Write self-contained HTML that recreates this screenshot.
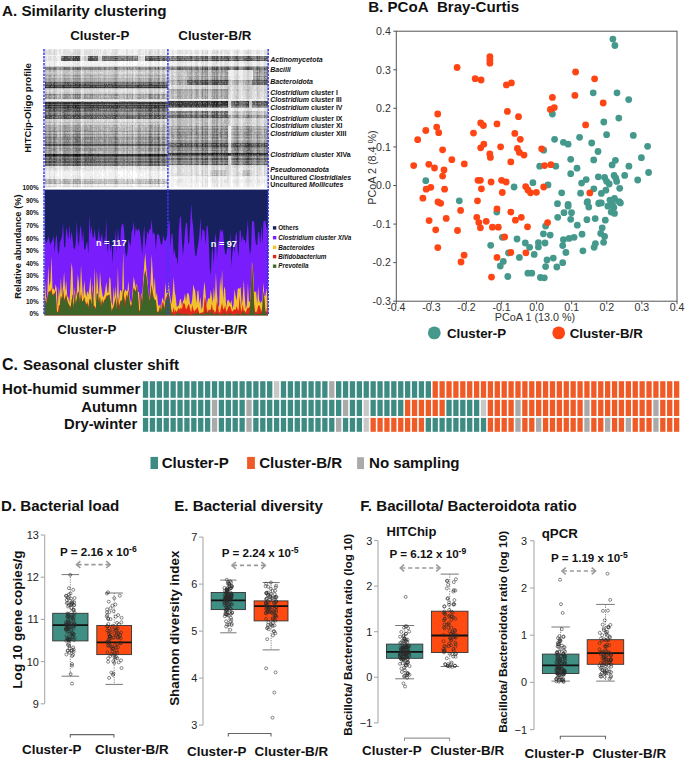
<!DOCTYPE html>
<html><head><meta charset="utf-8"><title>Figure</title>
<style>html,body{margin:0;padding:0;background:#fff;}svg{display:block;}text{font-family:"Liberation Sans", sans-serif;}</style>
</head><body>
<svg width="685" height="760" viewBox="0 0 685 760" font-family='"Liberation Sans", sans-serif'>
<rect width="685" height="760" fill="#fff"/>
<text x="2.0" y="16.3" font-size="15.2" font-weight="bold" text-anchor="start" fill="#111" >A. Similarity clustering</text>
<text x="70.2" y="40.2" font-size="13.3" font-weight="bold" text-anchor="start" fill="#111" >Cluster-P</text>
<text x="178.3" y="40.2" font-size="13.3" font-weight="bold" text-anchor="start" fill="#111" >Cluster-B/R</text>
<defs><filter id="hb" x="0" y="0" width="1" height="1"><feGaussianBlur stdDeviation="0.45"/></filter></defs>
<g filter="url(#hb)">
<rect x="44.6" y="49.2" width="223.4" height="138.1" fill="#fff"/>
<path fill="#101010" d="M158 86.7h1v1.8h-1zM45 154.0h1v2.0h-1zM53 154.0h2v2.0h-2zM73 154.0h1v2.0h-1zM75 154.0h3v2.0h-3zM79 154.0h1v2.0h-1zM149 154.0h2v2.0h-2zM158 154.0h1v2.0h-1zM202 153.0h1v1.4h-1zM207 153.0h1v1.4h-1zM212 153.0h1v1.4h-1zM214 153.0h1v1.4h-1zM216 153.0h1v1.4h-1zM237 153.0h1v1.4h-1zM247 153.0h3v1.4h-3zM257 153.0h1v1.4h-1zM202 154.4h1v1.4h-1zM212 154.4h1v1.4h-1zM216 154.4h1v1.4h-1zM237 154.4h1v1.4h-1zM248 154.4h1v1.4h-1z"/>
<path fill="#202020" d="M77 83.2h1v1.6h-1zM158 83.2h1v1.6h-1zM54 84.8h1v1.9h-1zM45 86.7h1v1.8h-1zM49 86.7h1v1.8h-1zM53 86.7h2v1.8h-2zM64 86.7h1v1.8h-1zM73 86.7h1v1.8h-1zM75 86.7h4v1.8h-4zM84 86.7h1v1.8h-1zM104 86.7h1v1.8h-1zM115 86.7h2v1.8h-2zM149 86.7h2v1.8h-2zM154 86.7h1v1.8h-1zM49 101.4h1v1.6h-1zM73 101.4h1v1.6h-1zM75 101.4h1v1.6h-1zM77 101.4h1v1.6h-1zM79 101.4h1v1.6h-1zM150 101.4h1v1.6h-1zM158 101.4h1v1.6h-1zM45 103.0h1v1.6h-1zM49 103.0h2v1.6h-2zM53 103.0h2v1.6h-2zM64 103.0h1v1.6h-1zM73 103.0h1v1.6h-1zM75 103.0h1v1.6h-1zM77 103.0h2v1.6h-2zM115 103.0h2v1.6h-2zM138 103.0h1v1.6h-1zM149 103.0h2v1.6h-2zM158 103.0h1v1.6h-1zM45 104.7h1v1.6h-1zM49 104.7h2v1.6h-2zM54 104.7h1v1.6h-1zM64 104.7h1v1.6h-1zM73 104.7h1v1.6h-1zM75 104.7h1v1.6h-1zM77 104.7h3v1.6h-3zM92 104.7h1v1.6h-1zM115 104.7h1v1.6h-1zM149 104.7h2v1.6h-2zM158 104.7h1v1.6h-1zM75 106.3h1v1.6h-1zM158 106.3h1v1.6h-1zM158 143.6h1v1.5h-1zM46 154.0h1v2.0h-1zM48 154.0h3v2.0h-3zM55 154.0h2v2.0h-2zM63 154.0h6v2.0h-6zM74 154.0h1v2.0h-1zM78 154.0h1v2.0h-1zM80 154.0h1v2.0h-1zM84 154.0h2v2.0h-2zM88 154.0h5v2.0h-5zM98 154.0h1v2.0h-1zM104 154.0h1v2.0h-1zM112 154.0h1v2.0h-1zM114 154.0h4v2.0h-4zM127 154.0h1v2.0h-1zM132 154.0h1v2.0h-1zM138 154.0h3v2.0h-3zM145 154.0h1v2.0h-1zM148 154.0h1v2.0h-1zM151 154.0h2v2.0h-2zM154 154.0h2v2.0h-2zM157 154.0h1v2.0h-1zM159 154.0h1v2.0h-1zM162 154.0h3v2.0h-3zM237 59.4h1v1.7h-1zM177 100.8h1v1.4h-1zM196 100.8h1v1.4h-1zM202 100.8h1v1.4h-1zM205 100.8h1v1.4h-1zM207 100.8h1v1.4h-1zM212 100.8h1v1.4h-1zM214 100.8h1v1.4h-1zM216 100.8h2v1.4h-2zM221 100.8h1v1.4h-1zM226 100.8h2v1.4h-2zM180 102.2h1v1.4h-1zM191 102.2h1v1.4h-1zM202 102.2h1v1.4h-1zM207 102.2h1v1.4h-1zM212 102.2h1v1.4h-1zM214 102.2h1v1.4h-1zM216 102.2h2v1.4h-2zM221 102.2h1v1.4h-1zM226 102.2h2v1.4h-2zM178 103.6h1v1.4h-1zM202 103.6h1v1.4h-1zM207 103.6h1v1.4h-1zM214 103.6h1v1.4h-1zM216 103.6h2v1.4h-2zM227 103.6h1v1.4h-1zM216 105.0h1v1.4h-1zM202 106.4h1v1.4h-1zM214 106.4h1v1.4h-1zM216 106.4h2v1.4h-2zM221 106.4h1v1.4h-1zM247 142.7h1v1.7h-1zM237 146.1h1v1.7h-1zM177 153.0h5v1.4h-5zM190 153.0h2v1.4h-2zM196 153.0h2v1.4h-2zM205 153.0h1v1.4h-1zM213 153.0h1v1.4h-1zM217 153.0h2v1.4h-2zM220 153.0h3v1.4h-3zM224 153.0h1v1.4h-1zM226 153.0h3v1.4h-3zM234 153.0h3v1.4h-3zM238 153.0h1v1.4h-1zM245 153.0h2v1.4h-2zM250 153.0h2v1.4h-2zM258 153.0h2v1.4h-2zM264 153.0h1v1.4h-1zM266 153.0h2v1.4h-2zM177 154.4h4v1.4h-4zM191 154.4h1v1.4h-1zM196 154.4h2v1.4h-2zM205 154.4h1v1.4h-1zM207 154.4h1v1.4h-1zM213 154.4h2v1.4h-2zM217 154.4h1v1.4h-1zM221 154.4h1v1.4h-1zM224 154.4h5v1.4h-5zM235 154.4h2v1.4h-2zM246 154.4h2v1.4h-2zM249 154.4h3v1.4h-3zM257 154.4h1v1.4h-1zM259 154.4h1v1.4h-1zM264 154.4h1v1.4h-1zM267 154.4h1v1.4h-1z"/>
<path fill="#303030" d="M158 55.8h1v1.7h-1zM77 57.5h1v1.7h-1zM79 57.5h1v1.7h-1zM77 59.2h1v1.7h-1zM158 59.2h1v1.7h-1zM158 66.4h1v1.4h-1zM75 83.2h1v1.6h-1zM79 83.2h1v1.6h-1zM115 83.2h1v1.6h-1zM149 83.2h2v1.6h-2zM45 84.8h1v1.9h-1zM49 84.8h2v1.9h-2zM63 84.8h2v1.9h-2zM73 84.8h1v1.9h-1zM75 84.8h1v1.9h-1zM77 84.8h3v1.9h-3zM90 84.8h1v1.9h-1zM92 84.8h1v1.9h-1zM115 84.8h2v1.9h-2zM138 84.8h1v1.9h-1zM149 84.8h2v1.9h-2zM154 84.8h1v1.9h-1zM158 84.8h1v1.9h-1zM46 86.7h1v1.8h-1zM48 86.7h1v1.8h-1zM50 86.7h2v1.8h-2zM55 86.7h2v1.8h-2zM60 86.7h1v1.8h-1zM63 86.7h1v1.8h-1zM65 86.7h5v1.8h-5zM74 86.7h1v1.8h-1zM79 86.7h2v1.8h-2zM85 86.7h8v1.8h-8zM94 86.7h1v1.8h-1zM96 86.7h1v1.8h-1zM98 86.7h1v1.8h-1zM100 86.7h1v1.8h-1zM109 86.7h1v1.8h-1zM113 86.7h2v1.8h-2zM117 86.7h1v1.8h-1zM127 86.7h1v1.8h-1zM132 86.7h1v1.8h-1zM138 86.7h3v1.8h-3zM145 86.7h1v1.8h-1zM148 86.7h1v1.8h-1zM151 86.7h2v1.8h-2zM155 86.7h1v1.8h-1zM157 86.7h1v1.8h-1zM159 86.7h1v1.8h-1zM162 86.7h3v1.8h-3zM45 101.4h2v1.6h-2zM48 101.4h1v1.6h-1zM50 101.4h2v1.6h-2zM53 101.4h3v1.6h-3zM63 101.4h7v1.6h-7zM76 101.4h1v1.6h-1zM78 101.4h1v1.6h-1zM80 101.4h1v1.6h-1zM84 101.4h2v1.6h-2zM87 101.4h1v1.6h-1zM90 101.4h3v1.6h-3zM94 101.4h1v1.6h-1zM98 101.4h1v1.6h-1zM104 101.4h1v1.6h-1zM114 101.4h3v1.6h-3zM127 101.4h1v1.6h-1zM132 101.4h1v1.6h-1zM138 101.4h2v1.6h-2zM145 101.4h1v1.6h-1zM149 101.4h1v1.6h-1zM151 101.4h1v1.6h-1zM154 101.4h2v1.6h-2zM157 101.4h1v1.6h-1zM159 101.4h1v1.6h-1zM162 101.4h3v1.6h-3zM46 103.0h1v1.6h-1zM48 103.0h1v1.6h-1zM51 103.0h1v1.6h-1zM55 103.0h2v1.6h-2zM60 103.0h1v1.6h-1zM63 103.0h1v1.6h-1zM65 103.0h5v1.6h-5zM74 103.0h1v1.6h-1zM76 103.0h1v1.6h-1zM79 103.0h2v1.6h-2zM84 103.0h9v1.6h-9zM94 103.0h1v1.6h-1zM96 103.0h1v1.6h-1zM98 103.0h1v1.6h-1zM104 103.0h1v1.6h-1zM112 103.0h1v1.6h-1zM114 103.0h1v1.6h-1zM117 103.0h1v1.6h-1zM127 103.0h1v1.6h-1zM132 103.0h1v1.6h-1zM139 103.0h2v1.6h-2zM143 103.0h1v1.6h-1zM151 103.0h2v1.6h-2zM154 103.0h4v1.6h-4zM159 103.0h1v1.6h-1zM162 103.0h3v1.6h-3zM46 104.7h1v1.6h-1zM48 104.7h1v1.6h-1zM51 104.7h1v1.6h-1zM53 104.7h1v1.6h-1zM55 104.7h2v1.6h-2zM59 104.7h2v1.6h-2zM63 104.7h1v1.6h-1zM65 104.7h6v1.6h-6zM74 104.7h1v1.6h-1zM76 104.7h1v1.6h-1zM80 104.7h1v1.6h-1zM84 104.7h8v1.6h-8zM94 104.7h3v1.6h-3zM98 104.7h3v1.6h-3zM104 104.7h2v1.6h-2zM108 104.7h1v1.6h-1zM110 104.7h1v1.6h-1zM114 104.7h1v1.6h-1zM116 104.7h2v1.6h-2zM127 104.7h1v1.6h-1zM132 104.7h1v1.6h-1zM138 104.7h3v1.6h-3zM143 104.7h1v1.6h-1zM145 104.7h1v1.6h-1zM148 104.7h1v1.6h-1zM151 104.7h2v1.6h-2zM154 104.7h2v1.6h-2zM157 104.7h1v1.6h-1zM159 104.7h1v1.6h-1zM162 104.7h3v1.6h-3zM45 106.3h1v1.6h-1zM48 106.3h3v1.6h-3zM54 106.3h1v1.6h-1zM64 106.3h1v1.6h-1zM67 106.3h2v1.6h-2zM73 106.3h1v1.6h-1zM76 106.3h4v1.6h-4zM90 106.3h1v1.6h-1zM92 106.3h1v1.6h-1zM115 106.3h3v1.6h-3zM140 106.3h1v1.6h-1zM149 106.3h3v1.6h-3zM154 106.3h2v1.6h-2zM164 106.3h1v1.6h-1zM77 107.9h1v1.5h-1zM150 107.9h1v1.5h-1zM158 107.9h1v1.5h-1zM54 115.0h1v1.3h-1zM77 115.0h1v1.3h-1zM149 115.0h1v1.3h-1zM158 115.0h1v1.3h-1zM149 116.3h1v1.3h-1zM158 116.3h1v1.3h-1zM45 143.6h1v1.5h-1zM49 143.6h1v1.5h-1zM54 143.6h1v1.5h-1zM64 143.6h1v1.5h-1zM73 143.6h1v1.5h-1zM75 143.6h5v1.5h-5zM115 143.6h1v1.5h-1zM149 143.6h2v1.5h-2zM49 145.1h1v1.5h-1zM54 145.1h1v1.5h-1zM77 145.1h1v1.5h-1zM79 145.1h1v1.5h-1zM150 145.1h1v1.5h-1zM158 145.1h1v1.5h-1zM47 154.0h1v2.0h-1zM51 154.0h2v2.0h-2zM57 154.0h4v2.0h-4zM62 154.0h1v2.0h-1zM69 154.0h4v2.0h-4zM82 154.0h2v2.0h-2zM86 154.0h2v2.0h-2zM93 154.0h5v2.0h-5zM99 154.0h5v2.0h-5zM105 154.0h7v2.0h-7zM113 154.0h1v2.0h-1zM118 154.0h7v2.0h-7zM126 154.0h1v2.0h-1zM128 154.0h4v2.0h-4zM135 154.0h3v2.0h-3zM141 154.0h4v2.0h-4zM146 154.0h2v2.0h-2zM153 154.0h1v2.0h-1zM156 154.0h1v2.0h-1zM160 154.0h2v2.0h-2zM165 154.0h3v2.0h-3zM45 156.0h1v1.5h-1zM54 156.0h1v1.5h-1zM77 156.0h1v1.5h-1zM150 156.0h1v1.5h-1zM158 156.0h1v1.5h-1zM54 160.4h1v1.5h-1zM77 160.4h1v1.5h-1zM158 160.4h1v1.5h-1zM45 161.9h1v1.5h-1zM77 161.9h1v1.5h-1zM150 161.9h1v1.5h-1zM158 161.9h1v1.5h-1zM202 59.4h1v1.7h-1zM207 59.4h1v1.7h-1zM216 59.4h2v1.7h-2zM247 59.4h2v1.7h-2zM257 59.4h1v1.7h-1zM202 80.1h1v1.7h-1zM207 80.1h1v1.7h-1zM212 80.1h1v1.7h-1zM214 80.1h1v1.7h-1zM216 80.1h2v1.7h-2zM221 80.1h1v1.7h-1zM226 80.1h2v1.7h-2zM172 100.8h1v1.4h-1zM178 100.8h5v1.4h-5zM184 100.8h1v1.4h-1zM186 100.8h2v1.4h-2zM190 100.8h2v1.4h-2zM195 100.8h1v1.4h-1zM197 100.8h2v1.4h-2zM201 100.8h1v1.4h-1zM203 100.8h2v1.4h-2zM206 100.8h1v1.4h-1zM213 100.8h1v1.4h-1zM215 100.8h1v1.4h-1zM218 100.8h1v1.4h-1zM220 100.8h1v1.4h-1zM222 100.8h1v1.4h-1zM224 100.8h2v1.4h-2zM237 100.8h1v1.4h-1zM247 100.8h2v1.4h-2zM172 102.2h1v1.4h-1zM177 102.2h3v1.4h-3zM181 102.2h2v1.4h-2zM190 102.2h1v1.4h-1zM195 102.2h3v1.4h-3zM201 102.2h1v1.4h-1zM205 102.2h2v1.4h-2zM213 102.2h1v1.4h-1zM215 102.2h1v1.4h-1zM218 102.2h1v1.4h-1zM222 102.2h1v1.4h-1zM224 102.2h2v1.4h-2zM236 102.2h2v1.4h-2zM248 102.2h1v1.4h-1zM264 102.2h1v1.4h-1zM177 103.6h1v1.4h-1zM179 103.6h2v1.4h-2zM182 103.6h1v1.4h-1zM191 103.6h1v1.4h-1zM196 103.6h3v1.4h-3zM203 103.6h1v1.4h-1zM205 103.6h1v1.4h-1zM212 103.6h2v1.4h-2zM220 103.6h3v1.4h-3zM224 103.6h3v1.4h-3zM247 103.6h2v1.4h-2zM178 105.0h3v1.4h-3zM191 105.0h1v1.4h-1zM196 105.0h1v1.4h-1zM202 105.0h1v1.4h-1zM205 105.0h1v1.4h-1zM207 105.0h1v1.4h-1zM212 105.0h3v1.4h-3zM217 105.0h1v1.4h-1zM221 105.0h1v1.4h-1zM227 105.0h1v1.4h-1zM177 106.4h4v1.4h-4zM182 106.4h1v1.4h-1zM191 106.4h1v1.4h-1zM196 106.4h2v1.4h-2zM205 106.4h3v1.4h-3zM212 106.4h2v1.4h-2zM220 106.4h1v1.4h-1zM222 106.4h1v1.4h-1zM224 106.4h4v1.4h-4zM217 116.8h1v1.8h-1zM179 142.7h1v1.7h-1zM202 142.7h1v1.7h-1zM207 142.7h1v1.7h-1zM212 142.7h1v1.7h-1zM214 142.7h1v1.7h-1zM216 142.7h2v1.7h-2zM227 142.7h1v1.7h-1zM236 142.7h2v1.7h-2zM248 142.7h1v1.7h-1zM202 144.4h1v1.7h-1zM216 144.4h1v1.7h-1zM247 144.4h2v1.7h-2zM202 146.1h1v1.7h-1zM205 146.1h1v1.7h-1zM214 146.1h1v1.7h-1zM216 146.1h2v1.7h-2zM227 146.1h1v1.7h-1zM247 146.1h3v1.7h-3zM257 146.1h1v1.7h-1zM169 153.0h1v1.4h-1zM171 153.0h3v1.4h-3zM176 153.0h1v1.4h-1zM182 153.0h6v1.4h-6zM189 153.0h1v1.4h-1zM192 153.0h1v1.4h-1zM194 153.0h2v1.4h-2zM198 153.0h1v1.4h-1zM200 153.0h2v1.4h-2zM203 153.0h2v1.4h-2zM206 153.0h1v1.4h-1zM211 153.0h1v1.4h-1zM215 153.0h1v1.4h-1zM223 153.0h1v1.4h-1zM225 153.0h1v1.4h-1zM229 153.0h2v1.4h-2zM232 153.0h2v1.4h-2zM239 153.0h2v1.4h-2zM243 153.0h2v1.4h-2zM252 153.0h2v1.4h-2zM256 153.0h1v1.4h-1zM260 153.0h2v1.4h-2zM265 153.0h1v1.4h-1zM172 154.4h2v1.4h-2zM176 154.4h1v1.4h-1zM181 154.4h10v1.4h-10zM192 154.4h1v1.4h-1zM194 154.4h2v1.4h-2zM198 154.4h1v1.4h-1zM201 154.4h1v1.4h-1zM203 154.4h2v1.4h-2zM206 154.4h1v1.4h-1zM211 154.4h1v1.4h-1zM215 154.4h1v1.4h-1zM218 154.4h1v1.4h-1zM220 154.4h1v1.4h-1zM222 154.4h2v1.4h-2zM229 154.4h2v1.4h-2zM233 154.4h2v1.4h-2zM238 154.4h2v1.4h-2zM243 154.4h3v1.4h-3zM253 154.4h1v1.4h-1zM256 154.4h1v1.4h-1zM258 154.4h1v1.4h-1zM260 154.4h2v1.4h-2zM265 154.4h2v1.4h-2zM237 157.5h1v1.6h-1zM248 157.5h1v1.6h-1zM237 159.0h1v1.6h-1zM248 159.0h1v1.6h-1zM202 163.7h1v1.6h-1zM216 163.7h1v1.6h-1zM248 163.7h1v1.6h-1z"/>
<path fill="#404040" d="M64 55.8h1v1.7h-1zM73 55.8h1v1.7h-1zM75 55.8h5v1.7h-5zM90 55.8h1v1.7h-1zM64 57.5h1v1.7h-1zM73 57.5h1v1.7h-1zM75 57.5h2v1.7h-2zM78 57.5h1v1.7h-1zM90 57.5h1v1.7h-1zM92 57.5h1v1.7h-1zM115 57.5h2v1.7h-2zM149 57.5h2v1.7h-2zM158 57.5h1v1.7h-1zM64 59.2h2v1.7h-2zM73 59.2h1v1.7h-1zM75 59.2h1v1.7h-1zM78 59.2h2v1.7h-2zM90 59.2h1v1.7h-1zM92 59.2h1v1.7h-1zM149 59.2h2v1.7h-2zM159 59.2h1v1.7h-1zM77 66.4h1v1.4h-1zM158 67.8h1v1.4h-1zM45 81.6h1v1.6h-1zM54 81.6h1v1.6h-1zM73 81.6h1v1.6h-1zM75 81.6h1v1.6h-1zM77 81.6h1v1.6h-1zM149 81.6h1v1.6h-1zM158 81.6h1v1.6h-1zM45 83.2h1v1.6h-1zM49 83.2h3v1.6h-3zM53 83.2h2v1.6h-2zM64 83.2h1v1.6h-1zM68 83.2h1v1.6h-1zM73 83.2h1v1.6h-1zM76 83.2h1v1.6h-1zM78 83.2h1v1.6h-1zM80 83.2h1v1.6h-1zM84 83.2h2v1.6h-2zM90 83.2h1v1.6h-1zM92 83.2h1v1.6h-1zM104 83.2h1v1.6h-1zM116 83.2h1v1.6h-1zM139 83.2h1v1.6h-1zM151 83.2h1v1.6h-1zM46 84.8h1v1.9h-1zM48 84.8h1v1.9h-1zM51 84.8h1v1.9h-1zM53 84.8h1v1.9h-1zM55 84.8h2v1.9h-2zM60 84.8h1v1.9h-1zM62 84.8h1v1.9h-1zM65 84.8h6v1.9h-6zM74 84.8h1v1.9h-1zM76 84.8h1v1.9h-1zM80 84.8h1v1.9h-1zM84 84.8h4v1.9h-4zM89 84.8h1v1.9h-1zM91 84.8h1v1.9h-1zM94 84.8h3v1.9h-3zM98 84.8h1v1.9h-1zM100 84.8h1v1.9h-1zM104 84.8h2v1.9h-2zM112 84.8h3v1.9h-3zM117 84.8h1v1.9h-1zM126 84.8h2v1.9h-2zM132 84.8h1v1.9h-1zM137 84.8h1v1.9h-1zM139 84.8h3v1.9h-3zM145 84.8h1v1.9h-1zM148 84.8h1v1.9h-1zM151 84.8h2v1.9h-2zM155 84.8h3v1.9h-3zM159 84.8h1v1.9h-1zM162 84.8h3v1.9h-3zM47 86.7h1v1.8h-1zM52 86.7h1v1.8h-1zM58 86.7h2v1.8h-2zM62 86.7h1v1.8h-1zM70 86.7h3v1.8h-3zM82 86.7h2v1.8h-2zM93 86.7h1v1.8h-1zM95 86.7h1v1.8h-1zM97 86.7h1v1.8h-1zM99 86.7h1v1.8h-1zM101 86.7h3v1.8h-3zM105 86.7h2v1.8h-2zM108 86.7h1v1.8h-1zM110 86.7h3v1.8h-3zM118 86.7h1v1.8h-1zM120 86.7h5v1.8h-5zM126 86.7h1v1.8h-1zM128 86.7h4v1.8h-4zM133 86.7h1v1.8h-1zM136 86.7h2v1.8h-2zM141 86.7h4v1.8h-4zM146 86.7h2v1.8h-2zM153 86.7h1v1.8h-1zM156 86.7h1v1.8h-1zM160 86.7h1v1.8h-1zM166 86.7h2v1.8h-2zM47 101.4h1v1.6h-1zM52 101.4h1v1.6h-1zM56 101.4h2v1.6h-2zM59 101.4h2v1.6h-2zM62 101.4h1v1.6h-1zM70 101.4h3v1.6h-3zM74 101.4h1v1.6h-1zM82 101.4h1v1.6h-1zM86 101.4h1v1.6h-1zM88 101.4h2v1.6h-2zM95 101.4h3v1.6h-3zM99 101.4h5v1.6h-5zM105 101.4h2v1.6h-2zM108 101.4h6v1.6h-6zM117 101.4h1v1.6h-1zM122 101.4h3v1.6h-3zM126 101.4h1v1.6h-1zM129 101.4h1v1.6h-1zM131 101.4h1v1.6h-1zM136 101.4h2v1.6h-2zM140 101.4h4v1.6h-4zM146 101.4h3v1.6h-3zM152 101.4h2v1.6h-2zM156 101.4h1v1.6h-1zM167 101.4h1v1.6h-1zM47 103.0h1v1.6h-1zM52 103.0h1v1.6h-1zM57 103.0h3v1.6h-3zM62 103.0h1v1.6h-1zM70 103.0h3v1.6h-3zM82 103.0h2v1.6h-2zM93 103.0h1v1.6h-1zM95 103.0h1v1.6h-1zM97 103.0h1v1.6h-1zM99 103.0h5v1.6h-5zM105 103.0h2v1.6h-2zM108 103.0h4v1.6h-4zM113 103.0h1v1.6h-1zM118 103.0h7v1.6h-7zM126 103.0h1v1.6h-1zM129 103.0h3v1.6h-3zM133 103.0h1v1.6h-1zM135 103.0h3v1.6h-3zM141 103.0h2v1.6h-2zM144 103.0h5v1.6h-5zM153 103.0h1v1.6h-1zM160 103.0h2v1.6h-2zM166 103.0h2v1.6h-2zM47 104.7h1v1.6h-1zM52 104.7h1v1.6h-1zM57 104.7h2v1.6h-2zM62 104.7h1v1.6h-1zM71 104.7h2v1.6h-2zM82 104.7h2v1.6h-2zM93 104.7h1v1.6h-1zM97 104.7h1v1.6h-1zM101 104.7h3v1.6h-3zM106 104.7h2v1.6h-2zM109 104.7h1v1.6h-1zM111 104.7h3v1.6h-3zM118 104.7h7v1.6h-7zM126 104.7h1v1.6h-1zM128 104.7h4v1.6h-4zM133 104.7h1v1.6h-1zM135 104.7h3v1.6h-3zM141 104.7h2v1.6h-2zM144 104.7h1v1.6h-1zM146 104.7h2v1.6h-2zM153 104.7h1v1.6h-1zM156 104.7h1v1.6h-1zM160 104.7h2v1.6h-2zM166 104.7h2v1.6h-2zM46 106.3h1v1.6h-1zM51 106.3h1v1.6h-1zM53 106.3h1v1.6h-1zM55 106.3h2v1.6h-2zM60 106.3h1v1.6h-1zM63 106.3h1v1.6h-1zM65 106.3h2v1.6h-2zM69 106.3h2v1.6h-2zM72 106.3h1v1.6h-1zM74 106.3h1v1.6h-1zM80 106.3h1v1.6h-1zM84 106.3h6v1.6h-6zM91 106.3h1v1.6h-1zM93 106.3h2v1.6h-2zM96 106.3h3v1.6h-3zM100 106.3h1v1.6h-1zM103 106.3h2v1.6h-2zM106 106.3h1v1.6h-1zM108 106.3h2v1.6h-2zM111 106.3h4v1.6h-4zM119 106.3h1v1.6h-1zM126 106.3h2v1.6h-2zM132 106.3h1v1.6h-1zM137 106.3h3v1.6h-3zM143 106.3h1v1.6h-1zM145 106.3h2v1.6h-2zM148 106.3h1v1.6h-1zM152 106.3h1v1.6h-1zM156 106.3h2v1.6h-2zM159 106.3h1v1.6h-1zM162 106.3h2v1.6h-2zM45 107.9h1v1.5h-1zM54 107.9h1v1.5h-1zM64 107.9h2v1.5h-2zM73 107.9h1v1.5h-1zM75 107.9h1v1.5h-1zM78 107.9h2v1.5h-2zM90 107.9h1v1.5h-1zM115 107.9h2v1.5h-2zM149 107.9h1v1.5h-1zM54 109.4h1v1.5h-1zM77 109.4h1v1.5h-1zM79 109.4h1v1.5h-1zM149 109.4h2v1.5h-2zM158 109.4h1v1.5h-1zM49 111.0h1v1.5h-1zM75 111.0h1v1.5h-1zM77 111.0h1v1.5h-1zM158 111.0h1v1.5h-1zM45 115.0h1v1.3h-1zM49 115.0h2v1.3h-2zM53 115.0h1v1.3h-1zM64 115.0h2v1.3h-2zM68 115.0h1v1.3h-1zM73 115.0h1v1.3h-1zM75 115.0h2v1.3h-2zM78 115.0h3v1.3h-3zM85 115.0h1v1.3h-1zM90 115.0h1v1.3h-1zM92 115.0h1v1.3h-1zM114 115.0h3v1.3h-3zM150 115.0h2v1.3h-2zM159 115.0h1v1.3h-1zM45 116.3h1v1.3h-1zM49 116.3h2v1.3h-2zM54 116.3h1v1.3h-1zM64 116.3h1v1.3h-1zM67 116.3h1v1.3h-1zM73 116.3h1v1.3h-1zM75 116.3h1v1.3h-1zM77 116.3h3v1.3h-3zM115 116.3h2v1.3h-2zM150 116.3h2v1.3h-2zM45 117.6h1v1.3h-1zM49 117.6h1v1.3h-1zM54 117.6h1v1.3h-1zM64 117.6h1v1.3h-1zM73 117.6h1v1.3h-1zM77 117.6h1v1.3h-1zM79 117.6h1v1.3h-1zM115 117.6h1v1.3h-1zM149 117.6h2v1.3h-2zM158 117.6h1v1.3h-1zM46 143.6h1v1.5h-1zM48 143.6h1v1.5h-1zM50 143.6h1v1.5h-1zM53 143.6h1v1.5h-1zM56 143.6h1v1.5h-1zM60 143.6h1v1.5h-1zM63 143.6h1v1.5h-1zM65 143.6h5v1.5h-5zM74 143.6h1v1.5h-1zM80 143.6h1v1.5h-1zM84 143.6h2v1.5h-2zM89 143.6h2v1.5h-2zM92 143.6h1v1.5h-1zM98 143.6h1v1.5h-1zM104 143.6h1v1.5h-1zM114 143.6h1v1.5h-1zM116 143.6h2v1.5h-2zM127 143.6h1v1.5h-1zM138 143.6h3v1.5h-3zM145 143.6h1v1.5h-1zM151 143.6h2v1.5h-2zM154 143.6h2v1.5h-2zM159 143.6h1v1.5h-1zM163 143.6h1v1.5h-1zM45 145.1h1v1.5h-1zM50 145.1h1v1.5h-1zM53 145.1h1v1.5h-1zM63 145.1h3v1.5h-3zM67 145.1h1v1.5h-1zM73 145.1h1v1.5h-1zM75 145.1h2v1.5h-2zM78 145.1h1v1.5h-1zM84 145.1h3v1.5h-3zM90 145.1h1v1.5h-1zM92 145.1h1v1.5h-1zM115 145.1h2v1.5h-2zM132 145.1h1v1.5h-1zM139 145.1h1v1.5h-1zM149 145.1h1v1.5h-1zM151 145.1h1v1.5h-1zM159 145.1h1v1.5h-1zM61 154.0h1v2.0h-1zM81 154.0h1v2.0h-1zM125 154.0h1v2.0h-1zM133 154.0h2v2.0h-2zM49 156.0h1v1.5h-1zM53 156.0h1v1.5h-1zM64 156.0h2v1.5h-2zM73 156.0h1v1.5h-1zM75 156.0h2v1.5h-2zM78 156.0h2v1.5h-2zM90 156.0h1v1.5h-1zM115 156.0h2v1.5h-2zM149 156.0h1v1.5h-1zM77 157.5h1v1.5h-1zM158 157.5h1v1.5h-1zM54 158.9h1v1.5h-1zM77 158.9h1v1.5h-1zM150 158.9h1v1.5h-1zM158 158.9h1v1.5h-1zM45 160.4h1v1.5h-1zM49 160.4h2v1.5h-2zM53 160.4h1v1.5h-1zM73 160.4h1v1.5h-1zM75 160.4h1v1.5h-1zM78 160.4h2v1.5h-2zM92 160.4h1v1.5h-1zM115 160.4h2v1.5h-2zM149 160.4h3v1.5h-3zM49 161.9h2v1.5h-2zM54 161.9h1v1.5h-1zM64 161.9h1v1.5h-1zM73 161.9h1v1.5h-1zM75 161.9h1v1.5h-1zM78 161.9h2v1.5h-2zM115 161.9h2v1.5h-2zM149 161.9h1v1.5h-1zM151 161.9h1v1.5h-1zM77 163.4h1v1.5h-1zM158 163.4h1v1.5h-1zM77 164.8h1v1.5h-1zM158 164.8h1v1.5h-1zM248 56.0h1v1.7h-1zM202 57.7h1v1.7h-1zM216 57.7h1v1.7h-1zM228 57.7h1v1.7h-1zM237 57.7h1v1.7h-1zM247 57.7h2v1.7h-2zM177 59.4h2v1.7h-2zM180 59.4h1v1.7h-1zM191 59.4h1v1.7h-1zM196 59.4h1v1.7h-1zM205 59.4h1v1.7h-1zM212 59.4h3v1.7h-3zM221 59.4h1v1.7h-1zM226 59.4h3v1.7h-3zM236 59.4h1v1.7h-1zM246 59.4h1v1.7h-1zM249 59.4h1v1.7h-1zM251 59.4h1v1.7h-1zM259 59.4h1v1.7h-1zM267 59.4h1v1.7h-1zM237 66.2h1v1.9h-1zM207 68.1h1v1.8h-1zM216 68.1h1v1.8h-1zM237 68.1h1v1.8h-1zM247 68.1h2v1.8h-2zM191 80.1h1v1.7h-1zM196 80.1h1v1.7h-1zM205 80.1h2v1.7h-2zM213 80.1h1v1.7h-1zM220 80.1h1v1.7h-1zM224 80.1h2v1.7h-2zM257 80.1h1v1.7h-1zM264 80.1h1v1.7h-1zM266 80.1h2v1.7h-2zM202 81.8h1v1.7h-1zM205 81.8h1v1.7h-1zM207 81.8h1v1.7h-1zM214 81.8h1v1.7h-1zM216 81.8h2v1.7h-2zM221 81.8h1v1.7h-1zM227 81.8h1v1.7h-1zM202 83.5h1v1.7h-1zM205 83.5h1v1.7h-1zM207 83.5h1v1.7h-1zM214 83.5h1v1.7h-1zM216 83.5h2v1.7h-2zM169 100.8h1v1.4h-1zM171 100.8h1v1.4h-1zM173 100.8h2v1.4h-2zM176 100.8h1v1.4h-1zM183 100.8h1v1.4h-1zM185 100.8h1v1.4h-1zM188 100.8h2v1.4h-2zM192 100.8h1v1.4h-1zM194 100.8h1v1.4h-1zM200 100.8h1v1.4h-1zM211 100.8h1v1.4h-1zM219 100.8h1v1.4h-1zM223 100.8h1v1.4h-1zM236 100.8h1v1.4h-1zM246 100.8h1v1.4h-1zM257 100.8h1v1.4h-1zM264 100.8h1v1.4h-1zM267 100.8h1v1.4h-1zM169 102.2h1v1.4h-1zM171 102.2h1v1.4h-1zM173 102.2h1v1.4h-1zM176 102.2h1v1.4h-1zM183 102.2h7v1.4h-7zM192 102.2h1v1.4h-1zM194 102.2h1v1.4h-1zM198 102.2h1v1.4h-1zM203 102.2h2v1.4h-2zM210 102.2h2v1.4h-2zM220 102.2h1v1.4h-1zM223 102.2h1v1.4h-1zM247 102.2h1v1.4h-1zM257 102.2h1v1.4h-1zM259 102.2h1v1.4h-1zM267 102.2h1v1.4h-1zM169 103.6h1v1.4h-1zM171 103.6h3v1.4h-3zM181 103.6h1v1.4h-1zM183 103.6h8v1.4h-8zM192 103.6h1v1.4h-1zM194 103.6h2v1.4h-2zM201 103.6h1v1.4h-1zM204 103.6h1v1.4h-1zM206 103.6h1v1.4h-1zM211 103.6h1v1.4h-1zM215 103.6h1v1.4h-1zM218 103.6h1v1.4h-1zM223 103.6h1v1.4h-1zM236 103.6h2v1.4h-2zM257 103.6h1v1.4h-1zM267 103.6h1v1.4h-1zM172 105.0h1v1.4h-1zM177 105.0h1v1.4h-1zM181 105.0h2v1.4h-2zM184 105.0h3v1.4h-3zM189 105.0h2v1.4h-2zM195 105.0h1v1.4h-1zM197 105.0h2v1.4h-2zM201 105.0h1v1.4h-1zM203 105.0h2v1.4h-2zM206 105.0h1v1.4h-1zM215 105.0h1v1.4h-1zM218 105.0h1v1.4h-1zM220 105.0h1v1.4h-1zM222 105.0h1v1.4h-1zM224 105.0h3v1.4h-3zM248 105.0h1v1.4h-1zM171 106.4h2v1.4h-2zM181 106.4h1v1.4h-1zM183 106.4h4v1.4h-4zM188 106.4h3v1.4h-3zM192 106.4h1v1.4h-1zM194 106.4h2v1.4h-2zM198 106.4h1v1.4h-1zM200 106.4h2v1.4h-2zM203 106.4h2v1.4h-2zM211 106.4h1v1.4h-1zM215 106.4h1v1.4h-1zM218 106.4h1v1.4h-1zM223 106.4h1v1.4h-1zM236 106.4h2v1.4h-2zM247 106.4h2v1.4h-2zM257 106.4h1v1.4h-1zM267 106.4h1v1.4h-1zM202 115.0h1v1.8h-1zM205 115.0h1v1.8h-1zM207 115.0h1v1.8h-1zM212 115.0h1v1.8h-1zM214 115.0h1v1.8h-1zM216 115.0h2v1.8h-2zM202 116.8h1v1.8h-1zM207 116.8h1v1.8h-1zM212 116.8h1v1.8h-1zM214 116.8h1v1.8h-1zM216 116.8h1v1.8h-1zM221 116.8h1v1.8h-1zM227 116.8h1v1.8h-1zM177 142.7h2v1.7h-2zM180 142.7h1v1.7h-1zM191 142.7h1v1.7h-1zM196 142.7h1v1.7h-1zM205 142.7h2v1.7h-2zM213 142.7h1v1.7h-1zM215 142.7h1v1.7h-1zM221 142.7h2v1.7h-2zM225 142.7h2v1.7h-2zM234 142.7h1v1.7h-1zM238 142.7h1v1.7h-1zM246 142.7h1v1.7h-1zM249 142.7h1v1.7h-1zM257 142.7h1v1.7h-1zM259 142.7h1v1.7h-1zM264 142.7h1v1.7h-1zM266 142.7h2v1.7h-2zM180 144.4h1v1.7h-1zM191 144.4h1v1.7h-1zM196 144.4h1v1.7h-1zM205 144.4h1v1.7h-1zM207 144.4h1v1.7h-1zM212 144.4h1v1.7h-1zM214 144.4h1v1.7h-1zM217 144.4h1v1.7h-1zM221 144.4h1v1.7h-1zM227 144.4h1v1.7h-1zM236 144.4h2v1.7h-2zM249 144.4h1v1.7h-1zM257 144.4h1v1.7h-1zM264 144.4h1v1.7h-1zM177 146.1h4v1.7h-4zM191 146.1h1v1.7h-1zM196 146.1h2v1.7h-2zM207 146.1h1v1.7h-1zM212 146.1h2v1.7h-2zM221 146.1h1v1.7h-1zM224 146.1h1v1.7h-1zM226 146.1h1v1.7h-1zM236 146.1h1v1.7h-1zM245 146.1h2v1.7h-2zM251 146.1h1v1.7h-1zM259 146.1h1v1.7h-1zM264 146.1h1v1.7h-1zM168 153.0h1v1.4h-1zM170 153.0h1v1.4h-1zM174 153.0h2v1.4h-2zM188 153.0h1v1.4h-1zM193 153.0h1v1.4h-1zM199 153.0h1v1.4h-1zM208 153.0h3v1.4h-3zM219 153.0h1v1.4h-1zM231 153.0h1v1.4h-1zM241 153.0h2v1.4h-2zM254 153.0h2v1.4h-2zM262 153.0h2v1.4h-2zM168 154.4h4v1.4h-4zM174 154.4h2v1.4h-2zM193 154.4h1v1.4h-1zM199 154.4h2v1.4h-2zM208 154.4h3v1.4h-3zM219 154.4h1v1.4h-1zM232 154.4h1v1.4h-1zM240 154.4h3v1.4h-3zM252 154.4h1v1.4h-1zM254 154.4h2v1.4h-2zM262 154.4h2v1.4h-2zM202 157.5h1v1.6h-1zM207 157.5h1v1.6h-1zM214 157.5h1v1.6h-1zM216 157.5h2v1.6h-2zM221 157.5h1v1.6h-1zM247 157.5h1v1.6h-1zM257 157.5h1v1.6h-1zM178 159.0h2v1.6h-2zM191 159.0h1v1.6h-1zM202 159.0h1v1.6h-1zM205 159.0h1v1.6h-1zM207 159.0h1v1.6h-1zM212 159.0h1v1.6h-1zM214 159.0h1v1.6h-1zM216 159.0h2v1.6h-2zM221 159.0h1v1.6h-1zM227 159.0h1v1.6h-1zM236 159.0h1v1.6h-1zM246 159.0h2v1.6h-2zM257 159.0h1v1.6h-1zM267 159.0h1v1.6h-1zM237 160.6h1v1.6h-1zM205 163.7h1v1.6h-1zM207 163.7h1v1.6h-1zM212 163.7h1v1.6h-1zM214 163.7h1v1.6h-1zM217 163.7h1v1.6h-1zM221 163.7h1v1.6h-1zM225 163.7h1v1.6h-1zM227 163.7h1v1.6h-1zM236 163.7h2v1.6h-2zM246 163.7h2v1.6h-2zM257 163.7h1v1.6h-1zM264 163.7h1v1.6h-1z"/>
<path fill="#505050" d="M65 55.8h3v1.7h-3zM91 55.8h2v1.7h-2zM115 55.8h1v1.7h-1zM149 55.8h3v1.7h-3zM63 57.5h1v1.7h-1zM65 57.5h5v1.7h-5zM74 57.5h1v1.7h-1zM88 57.5h2v1.7h-2zM91 57.5h1v1.7h-1zM94 57.5h1v1.7h-1zM96 57.5h1v1.7h-1zM114 57.5h1v1.7h-1zM117 57.5h1v1.7h-1zM151 57.5h2v1.7h-2zM154 57.5h1v1.7h-1zM156 57.5h1v1.7h-1zM159 57.5h1v1.7h-1zM163 57.5h2v1.7h-2zM63 59.2h1v1.7h-1zM66 59.2h4v1.7h-4zM74 59.2h1v1.7h-1zM76 59.2h1v1.7h-1zM88 59.2h2v1.7h-2zM91 59.2h1v1.7h-1zM94 59.2h3v1.7h-3zM104 59.2h1v1.7h-1zM115 59.2h2v1.7h-2zM127 59.2h1v1.7h-1zM151 59.2h2v1.7h-2zM154 59.2h2v1.7h-2zM163 59.2h2v1.7h-2zM45 66.4h1v1.4h-1zM49 66.4h1v1.4h-1zM54 66.4h1v1.4h-1zM73 66.4h1v1.4h-1zM75 66.4h1v1.4h-1zM78 66.4h2v1.4h-2zM92 66.4h1v1.4h-1zM138 66.4h1v1.4h-1zM149 66.4h2v1.4h-2zM77 67.8h1v1.4h-1zM49 69.2h2v1.4h-2zM54 69.2h1v1.4h-1zM75 69.2h1v1.4h-1zM77 69.2h1v1.4h-1zM79 69.2h1v1.4h-1zM115 69.2h1v1.4h-1zM149 69.2h2v1.4h-2zM158 69.2h1v1.4h-1zM49 81.6h2v1.6h-2zM64 81.6h2v1.6h-2zM67 81.6h2v1.6h-2zM78 81.6h2v1.6h-2zM90 81.6h1v1.6h-1zM92 81.6h1v1.6h-1zM98 81.6h1v1.6h-1zM114 81.6h3v1.6h-3zM127 81.6h1v1.6h-1zM132 81.6h1v1.6h-1zM150 81.6h2v1.6h-2zM159 81.6h1v1.6h-1zM163 81.6h1v1.6h-1zM46 83.2h3v1.6h-3zM55 83.2h2v1.6h-2zM60 83.2h1v1.6h-1zM63 83.2h1v1.6h-1zM65 83.2h3v1.6h-3zM69 83.2h2v1.6h-2zM74 83.2h1v1.6h-1zM86 83.2h4v1.6h-4zM91 83.2h1v1.6h-1zM94 83.2h1v1.6h-1zM96 83.2h1v1.6h-1zM98 83.2h1v1.6h-1zM100 83.2h1v1.6h-1zM105 83.2h2v1.6h-2zM108 83.2h2v1.6h-2zM111 83.2h4v1.6h-4zM126 83.2h2v1.6h-2zM132 83.2h1v1.6h-1zM138 83.2h1v1.6h-1zM140 83.2h1v1.6h-1zM143 83.2h1v1.6h-1zM145 83.2h1v1.6h-1zM148 83.2h1v1.6h-1zM152 83.2h1v1.6h-1zM154 83.2h4v1.6h-4zM159 83.2h1v1.6h-1zM162 83.2h3v1.6h-3zM47 84.8h1v1.9h-1zM52 84.8h1v1.9h-1zM57 84.8h3v1.9h-3zM71 84.8h2v1.9h-2zM82 84.8h2v1.9h-2zM88 84.8h1v1.9h-1zM93 84.8h1v1.9h-1zM97 84.8h1v1.9h-1zM99 84.8h1v1.9h-1zM101 84.8h3v1.9h-3zM106 84.8h6v1.9h-6zM118 84.8h7v1.9h-7zM128 84.8h4v1.9h-4zM135 84.8h2v1.9h-2zM142 84.8h3v1.9h-3zM146 84.8h2v1.9h-2zM153 84.8h1v1.9h-1zM160 84.8h1v1.9h-1zM166 84.8h2v1.9h-2zM57 86.7h1v1.8h-1zM61 86.7h1v1.8h-1zM81 86.7h1v1.8h-1zM107 86.7h1v1.8h-1zM119 86.7h1v1.8h-1zM125 86.7h1v1.8h-1zM134 86.7h2v1.8h-2zM161 86.7h1v1.8h-1zM165 86.7h1v1.8h-1zM58 101.4h1v1.6h-1zM61 101.4h1v1.6h-1zM81 101.4h1v1.6h-1zM83 101.4h1v1.6h-1zM93 101.4h1v1.6h-1zM107 101.4h1v1.6h-1zM118 101.4h4v1.6h-4zM125 101.4h1v1.6h-1zM128 101.4h1v1.6h-1zM130 101.4h1v1.6h-1zM133 101.4h3v1.6h-3zM144 101.4h1v1.6h-1zM160 101.4h2v1.6h-2zM165 101.4h2v1.6h-2zM61 103.0h1v1.6h-1zM81 103.0h1v1.6h-1zM107 103.0h1v1.6h-1zM125 103.0h1v1.6h-1zM128 103.0h1v1.6h-1zM134 103.0h1v1.6h-1zM165 103.0h1v1.6h-1zM61 104.7h1v1.6h-1zM81 104.7h1v1.6h-1zM125 104.7h1v1.6h-1zM134 104.7h1v1.6h-1zM165 104.7h1v1.6h-1zM47 106.3h1v1.6h-1zM52 106.3h1v1.6h-1zM57 106.3h3v1.6h-3zM62 106.3h1v1.6h-1zM71 106.3h1v1.6h-1zM82 106.3h2v1.6h-2zM95 106.3h1v1.6h-1zM99 106.3h1v1.6h-1zM101 106.3h2v1.6h-2zM105 106.3h1v1.6h-1zM107 106.3h1v1.6h-1zM110 106.3h1v1.6h-1zM118 106.3h1v1.6h-1zM120 106.3h6v1.6h-6zM128 106.3h4v1.6h-4zM133 106.3h4v1.6h-4zM141 106.3h2v1.6h-2zM144 106.3h1v1.6h-1zM147 106.3h1v1.6h-1zM153 106.3h1v1.6h-1zM160 106.3h2v1.6h-2zM166 106.3h2v1.6h-2zM46 107.9h1v1.5h-1zM48 107.9h4v1.5h-4zM53 107.9h1v1.5h-1zM55 107.9h1v1.5h-1zM63 107.9h1v1.5h-1zM67 107.9h2v1.5h-2zM76 107.9h1v1.5h-1zM80 107.9h1v1.5h-1zM84 107.9h3v1.5h-3zM92 107.9h1v1.5h-1zM98 107.9h1v1.5h-1zM100 107.9h1v1.5h-1zM114 107.9h1v1.5h-1zM117 107.9h1v1.5h-1zM127 107.9h1v1.5h-1zM138 107.9h3v1.5h-3zM151 107.9h2v1.5h-2zM154 107.9h2v1.5h-2zM159 107.9h1v1.5h-1zM45 109.4h1v1.5h-1zM49 109.4h2v1.5h-2zM53 109.4h1v1.5h-1zM64 109.4h2v1.5h-2zM67 109.4h2v1.5h-2zM73 109.4h1v1.5h-1zM75 109.4h2v1.5h-2zM78 109.4h1v1.5h-1zM84 109.4h2v1.5h-2zM90 109.4h1v1.5h-1zM92 109.4h1v1.5h-1zM98 109.4h1v1.5h-1zM104 109.4h1v1.5h-1zM115 109.4h2v1.5h-2zM151 109.4h1v1.5h-1zM159 109.4h1v1.5h-1zM54 111.0h1v1.5h-1zM64 111.0h2v1.5h-2zM73 111.0h1v1.5h-1zM78 111.0h2v1.5h-2zM115 111.0h2v1.5h-2zM149 111.0h3v1.5h-3zM158 112.5h1v1.2h-1zM158 113.8h1v1.2h-1zM46 115.0h1v1.3h-1zM48 115.0h1v1.3h-1zM51 115.0h2v1.3h-2zM55 115.0h1v1.3h-1zM60 115.0h1v1.3h-1zM63 115.0h1v1.3h-1zM66 115.0h2v1.3h-2zM69 115.0h1v1.3h-1zM74 115.0h1v1.3h-1zM84 115.0h1v1.3h-1zM87 115.0h1v1.3h-1zM89 115.0h1v1.3h-1zM91 115.0h1v1.3h-1zM94 115.0h1v1.3h-1zM98 115.0h1v1.3h-1zM100 115.0h1v1.3h-1zM104 115.0h1v1.3h-1zM108 115.0h1v1.3h-1zM113 115.0h1v1.3h-1zM117 115.0h1v1.3h-1zM127 115.0h1v1.3h-1zM132 115.0h1v1.3h-1zM138 115.0h3v1.3h-3zM145 115.0h1v1.3h-1zM152 115.0h1v1.3h-1zM154 115.0h4v1.3h-4zM162 115.0h3v1.3h-3zM46 116.3h1v1.3h-1zM51 116.3h1v1.3h-1zM53 116.3h1v1.3h-1zM55 116.3h2v1.3h-2zM63 116.3h1v1.3h-1zM65 116.3h2v1.3h-2zM68 116.3h1v1.3h-1zM74 116.3h1v1.3h-1zM76 116.3h1v1.3h-1zM80 116.3h1v1.3h-1zM84 116.3h2v1.3h-2zM87 116.3h1v1.3h-1zM89 116.3h4v1.3h-4zM100 116.3h1v1.3h-1zM104 116.3h1v1.3h-1zM114 116.3h1v1.3h-1zM117 116.3h1v1.3h-1zM127 116.3h1v1.3h-1zM132 116.3h1v1.3h-1zM138 116.3h2v1.3h-2zM145 116.3h1v1.3h-1zM148 116.3h1v1.3h-1zM154 116.3h2v1.3h-2zM157 116.3h1v1.3h-1zM159 116.3h1v1.3h-1zM163 116.3h2v1.3h-2zM46 117.6h1v1.3h-1zM50 117.6h2v1.3h-2zM53 117.6h1v1.3h-1zM65 117.6h5v1.3h-5zM74 117.6h3v1.3h-3zM78 117.6h1v1.3h-1zM80 117.6h1v1.3h-1zM84 117.6h2v1.3h-2zM90 117.6h3v1.3h-3zM94 117.6h1v1.3h-1zM114 117.6h1v1.3h-1zM116 117.6h1v1.3h-1zM127 117.6h1v1.3h-1zM132 117.6h1v1.3h-1zM138 117.6h2v1.3h-2zM151 117.6h1v1.3h-1zM154 117.6h2v1.3h-2zM159 117.6h1v1.3h-1zM163 117.6h1v1.3h-1zM158 134.0h1v1.6h-1zM54 137.1h1v1.6h-1zM79 137.1h1v1.6h-1zM149 137.1h2v1.6h-2zM158 137.1h1v1.6h-1zM158 138.7h1v1.6h-1zM47 143.6h1v1.5h-1zM51 143.6h2v1.5h-2zM55 143.6h1v1.5h-1zM59 143.6h1v1.5h-1zM62 143.6h1v1.5h-1zM70 143.6h1v1.5h-1zM72 143.6h1v1.5h-1zM82 143.6h1v1.5h-1zM86 143.6h3v1.5h-3zM91 143.6h1v1.5h-1zM94 143.6h4v1.5h-4zM99 143.6h2v1.5h-2zM102 143.6h2v1.5h-2zM105 143.6h2v1.5h-2zM108 143.6h6v1.5h-6zM118 143.6h1v1.5h-1zM122 143.6h2v1.5h-2zM126 143.6h1v1.5h-1zM129 143.6h1v1.5h-1zM132 143.6h1v1.5h-1zM137 143.6h1v1.5h-1zM141 143.6h3v1.5h-3zM146 143.6h1v1.5h-1zM148 143.6h1v1.5h-1zM156 143.6h2v1.5h-2zM162 143.6h1v1.5h-1zM164 143.6h1v1.5h-1zM167 143.6h1v1.5h-1zM46 145.1h3v1.5h-3zM51 145.1h1v1.5h-1zM55 145.1h2v1.5h-2zM59 145.1h2v1.5h-2zM66 145.1h1v1.5h-1zM68 145.1h2v1.5h-2zM74 145.1h1v1.5h-1zM80 145.1h1v1.5h-1zM87 145.1h3v1.5h-3zM91 145.1h1v1.5h-1zM94 145.1h3v1.5h-3zM98 145.1h1v1.5h-1zM100 145.1h2v1.5h-2zM103 145.1h3v1.5h-3zM108 145.1h2v1.5h-2zM113 145.1h2v1.5h-2zM117 145.1h1v1.5h-1zM123 145.1h1v1.5h-1zM127 145.1h1v1.5h-1zM138 145.1h1v1.5h-1zM140 145.1h1v1.5h-1zM145 145.1h1v1.5h-1zM148 145.1h1v1.5h-1zM152 145.1h1v1.5h-1zM154 145.1h4v1.5h-4zM162 145.1h3v1.5h-3zM46 156.0h1v1.5h-1zM48 156.0h1v1.5h-1zM50 156.0h2v1.5h-2zM55 156.0h2v1.5h-2zM60 156.0h1v1.5h-1zM63 156.0h1v1.5h-1zM67 156.0h3v1.5h-3zM74 156.0h1v1.5h-1zM80 156.0h1v1.5h-1zM84 156.0h2v1.5h-2zM87 156.0h1v1.5h-1zM92 156.0h1v1.5h-1zM98 156.0h1v1.5h-1zM104 156.0h1v1.5h-1zM114 156.0h1v1.5h-1zM117 156.0h1v1.5h-1zM127 156.0h1v1.5h-1zM132 156.0h1v1.5h-1zM138 156.0h3v1.5h-3zM145 156.0h1v1.5h-1zM148 156.0h1v1.5h-1zM151 156.0h2v1.5h-2zM154 156.0h2v1.5h-2zM157 156.0h1v1.5h-1zM159 156.0h1v1.5h-1zM162 156.0h3v1.5h-3zM45 157.5h1v1.5h-1zM49 157.5h2v1.5h-2zM54 157.5h1v1.5h-1zM64 157.5h1v1.5h-1zM73 157.5h1v1.5h-1zM75 157.5h1v1.5h-1zM92 157.5h1v1.5h-1zM115 157.5h2v1.5h-2zM149 157.5h2v1.5h-2zM45 158.9h1v1.5h-1zM49 158.9h1v1.5h-1zM64 158.9h2v1.5h-2zM73 158.9h1v1.5h-1zM75 158.9h2v1.5h-2zM78 158.9h2v1.5h-2zM85 158.9h1v1.5h-1zM90 158.9h1v1.5h-1zM92 158.9h1v1.5h-1zM115 158.9h2v1.5h-2zM149 158.9h1v1.5h-1zM151 158.9h1v1.5h-1zM46 160.4h1v1.5h-1zM48 160.4h1v1.5h-1zM51 160.4h1v1.5h-1zM55 160.4h1v1.5h-1zM63 160.4h6v1.5h-6zM76 160.4h1v1.5h-1zM80 160.4h1v1.5h-1zM84 160.4h2v1.5h-2zM87 160.4h1v1.5h-1zM90 160.4h1v1.5h-1zM96 160.4h1v1.5h-1zM98 160.4h1v1.5h-1zM100 160.4h1v1.5h-1zM105 160.4h1v1.5h-1zM117 160.4h1v1.5h-1zM127 160.4h1v1.5h-1zM132 160.4h1v1.5h-1zM138 160.4h3v1.5h-3zM145 160.4h1v1.5h-1zM152 160.4h1v1.5h-1zM154 160.4h2v1.5h-2zM159 160.4h1v1.5h-1zM163 160.4h1v1.5h-1zM46 161.9h1v1.5h-1zM48 161.9h1v1.5h-1zM51 161.9h1v1.5h-1zM53 161.9h1v1.5h-1zM55 161.9h1v1.5h-1zM63 161.9h1v1.5h-1zM65 161.9h5v1.5h-5zM74 161.9h1v1.5h-1zM76 161.9h1v1.5h-1zM80 161.9h1v1.5h-1zM84 161.9h2v1.5h-2zM89 161.9h4v1.5h-4zM94 161.9h1v1.5h-1zM104 161.9h2v1.5h-2zM114 161.9h1v1.5h-1zM132 161.9h1v1.5h-1zM138 161.9h3v1.5h-3zM152 161.9h1v1.5h-1zM154 161.9h2v1.5h-2zM157 161.9h1v1.5h-1zM159 161.9h1v1.5h-1zM163 161.9h2v1.5h-2zM49 163.4h1v1.5h-1zM54 163.4h1v1.5h-1zM64 163.4h1v1.5h-1zM73 163.4h1v1.5h-1zM75 163.4h2v1.5h-2zM78 163.4h2v1.5h-2zM116 163.4h1v1.5h-1zM149 163.4h3v1.5h-3zM45 164.8h1v1.5h-1zM49 164.8h1v1.5h-1zM53 164.8h2v1.5h-2zM73 164.8h1v1.5h-1zM75 164.8h1v1.5h-1zM78 164.8h1v1.5h-1zM115 164.8h1v1.5h-1zM149 164.8h2v1.5h-2zM177 56.0h2v1.7h-2zM191 56.0h1v1.7h-1zM196 56.0h1v1.7h-1zM202 56.0h1v1.7h-1zM205 56.0h1v1.7h-1zM207 56.0h1v1.7h-1zM212 56.0h1v1.7h-1zM214 56.0h1v1.7h-1zM216 56.0h2v1.7h-2zM221 56.0h1v1.7h-1zM227 56.0h1v1.7h-1zM236 56.0h2v1.7h-2zM247 56.0h1v1.7h-1zM249 56.0h1v1.7h-1zM257 56.0h1v1.7h-1zM177 57.7h1v1.7h-1zM179 57.7h2v1.7h-2zM191 57.7h1v1.7h-1zM205 57.7h1v1.7h-1zM207 57.7h1v1.7h-1zM212 57.7h3v1.7h-3zM217 57.7h1v1.7h-1zM221 57.7h1v1.7h-1zM227 57.7h1v1.7h-1zM236 57.7h1v1.7h-1zM246 57.7h1v1.7h-1zM249 57.7h3v1.7h-3zM257 57.7h1v1.7h-1zM264 57.7h1v1.7h-1zM179 59.4h1v1.7h-1zM181 59.4h2v1.7h-2zM185 59.4h2v1.7h-2zM190 59.4h1v1.7h-1zM195 59.4h1v1.7h-1zM197 59.4h2v1.7h-2zM203 59.4h1v1.7h-1zM206 59.4h1v1.7h-1zM215 59.4h1v1.7h-1zM218 59.4h1v1.7h-1zM220 59.4h1v1.7h-1zM222 59.4h1v1.7h-1zM224 59.4h2v1.7h-2zM234 59.4h2v1.7h-2zM238 59.4h1v1.7h-1zM250 59.4h1v1.7h-1zM258 59.4h1v1.7h-1zM264 59.4h1v1.7h-1zM266 59.4h1v1.7h-1zM202 66.2h1v1.9h-1zM212 66.2h1v1.9h-1zM214 66.2h1v1.9h-1zM216 66.2h2v1.9h-2zM227 66.2h1v1.9h-1zM247 66.2h2v1.9h-2zM257 66.2h1v1.9h-1zM179 68.1h1v1.8h-1zM202 68.1h1v1.8h-1zM205 68.1h1v1.8h-1zM212 68.1h1v1.8h-1zM214 68.1h1v1.8h-1zM217 68.1h1v1.8h-1zM221 68.1h1v1.8h-1zM227 68.1h2v1.8h-2zM236 68.1h1v1.8h-1zM257 68.1h1v1.8h-1zM264 68.1h1v1.8h-1zM267 68.1h1v1.8h-1zM187 80.1h1v1.7h-1zM189 80.1h2v1.7h-2zM195 80.1h1v1.7h-1zM197 80.1h2v1.7h-2zM201 80.1h1v1.7h-1zM203 80.1h2v1.7h-2zM215 80.1h1v1.7h-1zM218 80.1h1v1.7h-1zM222 80.1h2v1.7h-2zM256 80.1h1v1.7h-1zM258 80.1h2v1.7h-2zM265 80.1h1v1.7h-1zM191 81.8h1v1.7h-1zM195 81.8h3v1.7h-3zM206 81.8h1v1.7h-1zM212 81.8h2v1.7h-2zM215 81.8h1v1.7h-1zM218 81.8h1v1.7h-1zM224 81.8h1v1.7h-1zM226 81.8h1v1.7h-1zM257 81.8h1v1.7h-1zM264 81.8h1v1.7h-1zM191 83.5h1v1.7h-1zM196 83.5h2v1.7h-2zM206 83.5h1v1.7h-1zM212 83.5h2v1.7h-2zM215 83.5h1v1.7h-1zM220 83.5h2v1.7h-2zM224 83.5h4v1.7h-4zM257 83.5h1v1.7h-1zM264 83.5h1v1.7h-1zM267 83.5h1v1.7h-1zM168 100.8h1v1.4h-1zM170 100.8h1v1.4h-1zM175 100.8h1v1.4h-1zM193 100.8h1v1.4h-1zM199 100.8h1v1.4h-1zM208 100.8h3v1.4h-3zM234 100.8h1v1.4h-1zM238 100.8h1v1.4h-1zM245 100.8h1v1.4h-1zM256 100.8h1v1.4h-1zM258 100.8h2v1.4h-2zM265 100.8h2v1.4h-2zM168 102.2h1v1.4h-1zM170 102.2h1v1.4h-1zM174 102.2h2v1.4h-2zM193 102.2h1v1.4h-1zM199 102.2h2v1.4h-2zM208 102.2h2v1.4h-2zM219 102.2h1v1.4h-1zM234 102.2h2v1.4h-2zM238 102.2h1v1.4h-1zM243 102.2h2v1.4h-2zM246 102.2h1v1.4h-1zM256 102.2h1v1.4h-1zM258 102.2h1v1.4h-1zM265 102.2h2v1.4h-2zM168 103.6h1v1.4h-1zM170 103.6h1v1.4h-1zM174 103.6h3v1.4h-3zM193 103.6h1v1.4h-1zM199 103.6h2v1.4h-2zM208 103.6h3v1.4h-3zM219 103.6h1v1.4h-1zM234 103.6h1v1.4h-1zM238 103.6h1v1.4h-1zM246 103.6h1v1.4h-1zM259 103.6h1v1.4h-1zM264 103.6h1v1.4h-1zM266 103.6h1v1.4h-1zM169 105.0h1v1.4h-1zM171 105.0h1v1.4h-1zM173 105.0h1v1.4h-1zM175 105.0h2v1.4h-2zM183 105.0h1v1.4h-1zM187 105.0h2v1.4h-2zM192 105.0h3v1.4h-3zM199 105.0h2v1.4h-2zM210 105.0h2v1.4h-2zM219 105.0h1v1.4h-1zM223 105.0h1v1.4h-1zM236 105.0h2v1.4h-2zM246 105.0h2v1.4h-2zM257 105.0h1v1.4h-1zM168 106.4h3v1.4h-3zM173 106.4h4v1.4h-4zM187 106.4h1v1.4h-1zM193 106.4h1v1.4h-1zM199 106.4h1v1.4h-1zM208 106.4h3v1.4h-3zM219 106.4h1v1.4h-1zM238 106.4h1v1.4h-1zM246 106.4h1v1.4h-1zM259 106.4h1v1.4h-1zM264 106.4h1v1.4h-1zM266 106.4h1v1.4h-1zM202 110.7h1v1.4h-1zM207 110.7h1v1.4h-1zM216 110.7h2v1.4h-2zM202 112.1h1v1.4h-1zM212 112.1h1v1.4h-1zM216 112.1h1v1.4h-1zM216 113.6h1v1.4h-1zM177 115.0h4v1.8h-4zM190 115.0h2v1.8h-2zM196 115.0h1v1.8h-1zM213 115.0h1v1.8h-1zM221 115.0h1v1.8h-1zM225 115.0h3v1.8h-3zM177 116.8h4v1.8h-4zM191 116.8h1v1.8h-1zM196 116.8h2v1.8h-2zM205 116.8h1v1.8h-1zM213 116.8h1v1.8h-1zM215 116.8h1v1.8h-1zM218 116.8h1v1.8h-1zM220 116.8h1v1.8h-1zM225 116.8h2v1.8h-2zM216 133.6h1v1.5h-1zM216 141.2h1v1.5h-1zM237 141.2h1v1.5h-1zM171 142.7h3v1.7h-3zM181 142.7h2v1.7h-2zM184 142.7h3v1.7h-3zM189 142.7h2v1.7h-2zM195 142.7h1v1.7h-1zM197 142.7h2v1.7h-2zM201 142.7h1v1.7h-1zM204 142.7h1v1.7h-1zM218 142.7h1v1.7h-1zM220 142.7h1v1.7h-1zM224 142.7h1v1.7h-1zM235 142.7h1v1.7h-1zM243 142.7h3v1.7h-3zM250 142.7h2v1.7h-2zM256 142.7h1v1.7h-1zM258 142.7h1v1.7h-1zM265 142.7h1v1.7h-1zM177 144.4h3v1.7h-3zM181 144.4h2v1.7h-2zM185 144.4h1v1.7h-1zM197 144.4h1v1.7h-1zM206 144.4h1v1.7h-1zM213 144.4h1v1.7h-1zM215 144.4h1v1.7h-1zM220 144.4h1v1.7h-1zM224 144.4h3v1.7h-3zM234 144.4h2v1.7h-2zM245 144.4h2v1.7h-2zM250 144.4h2v1.7h-2zM258 144.4h2v1.7h-2zM266 144.4h2v1.7h-2zM172 146.1h1v1.7h-1zM181 146.1h2v1.7h-2zM185 146.1h2v1.7h-2zM190 146.1h1v1.7h-1zM198 146.1h1v1.7h-1zM201 146.1h1v1.7h-1zM206 146.1h1v1.7h-1zM215 146.1h1v1.7h-1zM218 146.1h1v1.7h-1zM220 146.1h1v1.7h-1zM222 146.1h1v1.7h-1zM225 146.1h1v1.7h-1zM233 146.1h3v1.7h-3zM238 146.1h1v1.7h-1zM244 146.1h1v1.7h-1zM250 146.1h1v1.7h-1zM252 146.1h1v1.7h-1zM258 146.1h1v1.7h-1zM265 146.1h3v1.7h-3zM247 149.5h1v1.7h-1zM231 154.4h1v1.4h-1zM202 155.9h1v1.6h-1zM237 155.9h1v1.6h-1zM248 155.9h1v1.6h-1zM177 157.5h4v1.6h-4zM191 157.5h1v1.6h-1zM196 157.5h1v1.6h-1zM205 157.5h2v1.6h-2zM212 157.5h1v1.6h-1zM224 157.5h2v1.6h-2zM227 157.5h1v1.6h-1zM236 157.5h1v1.6h-1zM238 157.5h1v1.6h-1zM246 157.5h1v1.6h-1zM249 157.5h1v1.6h-1zM264 157.5h1v1.6h-1zM177 159.0h1v1.6h-1zM180 159.0h1v1.6h-1zM196 159.0h1v1.6h-1zM206 159.0h1v1.6h-1zM213 159.0h1v1.6h-1zM215 159.0h1v1.6h-1zM225 159.0h2v1.6h-2zM234 159.0h1v1.6h-1zM249 159.0h3v1.6h-3zM259 159.0h1v1.6h-1zM264 159.0h1v1.6h-1zM202 160.6h1v1.6h-1zM216 160.6h1v1.6h-1zM247 160.6h2v1.6h-2zM257 160.6h1v1.6h-1zM202 162.2h1v1.6h-1zM214 162.2h1v1.6h-1zM216 162.2h1v1.6h-1zM236 162.2h2v1.6h-2zM247 162.2h2v1.6h-2zM177 163.7h4v1.6h-4zM191 163.7h1v1.6h-1zM196 163.7h2v1.6h-2zM206 163.7h1v1.6h-1zM213 163.7h1v1.6h-1zM215 163.7h1v1.6h-1zM224 163.7h1v1.6h-1zM226 163.7h1v1.6h-1zM235 163.7h1v1.6h-1zM238 163.7h1v1.6h-1zM249 163.7h2v1.6h-2zM266 163.7h2v1.6h-2z"/>
<path fill="#606060" d="M63 55.8h1v1.7h-1zM68 55.8h3v1.7h-3zM74 55.8h1v1.7h-1zM88 55.8h2v1.7h-2zM94 55.8h4v1.7h-4zM104 55.8h1v1.7h-1zM114 55.8h1v1.7h-1zM116 55.8h2v1.7h-2zM127 55.8h1v1.7h-1zM132 55.8h1v1.7h-1zM145 55.8h1v1.7h-1zM152 55.8h1v1.7h-1zM154 55.8h1v1.7h-1zM156 55.8h2v1.7h-2zM159 55.8h1v1.7h-1zM163 55.8h2v1.7h-2zM62 57.5h1v1.7h-1zM70 57.5h1v1.7h-1zM72 57.5h1v1.7h-1zM93 57.5h1v1.7h-1zM95 57.5h1v1.7h-1zM97 57.5h1v1.7h-1zM103 57.5h2v1.7h-2zM127 57.5h1v1.7h-1zM132 57.5h1v1.7h-1zM145 57.5h2v1.7h-2zM155 57.5h1v1.7h-1zM157 57.5h1v1.7h-1zM162 57.5h1v1.7h-1zM62 59.2h1v1.7h-1zM70 59.2h3v1.7h-3zM93 59.2h1v1.7h-1zM97 59.2h1v1.7h-1zM105 59.2h2v1.7h-2zM108 59.2h2v1.7h-2zM112 59.2h3v1.7h-3zM117 59.2h1v1.7h-1zM132 59.2h1v1.7h-1zM145 59.2h2v1.7h-2zM148 59.2h1v1.7h-1zM156 59.2h2v1.7h-2zM162 59.2h1v1.7h-1zM50 66.4h1v1.4h-1zM53 66.4h1v1.4h-1zM63 66.4h2v1.4h-2zM67 66.4h2v1.4h-2zM76 66.4h1v1.4h-1zM85 66.4h1v1.4h-1zM90 66.4h1v1.4h-1zM115 66.4h3v1.4h-3zM127 66.4h1v1.4h-1zM132 66.4h1v1.4h-1zM151 66.4h1v1.4h-1zM154 66.4h1v1.4h-1zM49 67.8h1v1.4h-1zM54 67.8h1v1.4h-1zM64 67.8h1v1.4h-1zM73 67.8h1v1.4h-1zM75 67.8h1v1.4h-1zM78 67.8h2v1.4h-2zM115 67.8h2v1.4h-2zM149 67.8h2v1.4h-2zM163 67.8h1v1.4h-1zM45 69.2h1v1.4h-1zM64 69.2h2v1.4h-2zM73 69.2h1v1.4h-1zM76 69.2h1v1.4h-1zM78 69.2h1v1.4h-1zM84 69.2h2v1.4h-2zM116 69.2h1v1.4h-1zM159 69.2h1v1.4h-1zM46 81.6h1v1.6h-1zM48 81.6h1v1.6h-1zM51 81.6h1v1.6h-1zM53 81.6h1v1.6h-1zM55 81.6h2v1.6h-2zM60 81.6h1v1.6h-1zM63 81.6h1v1.6h-1zM66 81.6h1v1.6h-1zM69 81.6h2v1.6h-2zM74 81.6h1v1.6h-1zM76 81.6h1v1.6h-1zM80 81.6h1v1.6h-1zM84 81.6h6v1.6h-6zM91 81.6h1v1.6h-1zM94 81.6h1v1.6h-1zM96 81.6h1v1.6h-1zM100 81.6h1v1.6h-1zM104 81.6h1v1.6h-1zM108 81.6h1v1.6h-1zM111 81.6h1v1.6h-1zM117 81.6h1v1.6h-1zM138 81.6h3v1.6h-3zM143 81.6h1v1.6h-1zM145 81.6h1v1.6h-1zM148 81.6h1v1.6h-1zM154 81.6h2v1.6h-2zM157 81.6h1v1.6h-1zM162 81.6h1v1.6h-1zM164 81.6h1v1.6h-1zM52 83.2h1v1.6h-1zM59 83.2h1v1.6h-1zM62 83.2h1v1.6h-1zM71 83.2h2v1.6h-2zM82 83.2h2v1.6h-2zM93 83.2h1v1.6h-1zM95 83.2h1v1.6h-1zM97 83.2h1v1.6h-1zM99 83.2h1v1.6h-1zM101 83.2h3v1.6h-3zM110 83.2h1v1.6h-1zM117 83.2h2v1.6h-2zM120 83.2h1v1.6h-1zM123 83.2h2v1.6h-2zM128 83.2h4v1.6h-4zM137 83.2h1v1.6h-1zM141 83.2h2v1.6h-2zM144 83.2h1v1.6h-1zM146 83.2h2v1.6h-2zM153 83.2h1v1.6h-1zM166 83.2h2v1.6h-2zM61 84.8h1v1.9h-1zM81 84.8h1v1.9h-1zM125 84.8h1v1.9h-1zM133 84.8h2v1.9h-2zM161 84.8h1v1.9h-1zM165 84.8h1v1.9h-1zM45 93.6h1v1.5h-1zM49 93.6h1v1.5h-1zM54 93.6h1v1.5h-1zM75 93.6h1v1.5h-1zM77 93.6h1v1.5h-1zM149 93.6h2v1.5h-2zM158 93.6h1v1.5h-1zM61 106.3h1v1.6h-1zM81 106.3h1v1.6h-1zM165 106.3h1v1.6h-1zM47 107.9h1v1.5h-1zM56 107.9h1v1.5h-1zM59 107.9h2v1.5h-2zM62 107.9h1v1.5h-1zM66 107.9h1v1.5h-1zM69 107.9h2v1.5h-2zM74 107.9h1v1.5h-1zM87 107.9h3v1.5h-3zM91 107.9h1v1.5h-1zM94 107.9h3v1.5h-3zM99 107.9h1v1.5h-1zM102 107.9h5v1.5h-5zM108 107.9h6v1.5h-6zM123 107.9h1v1.5h-1zM126 107.9h1v1.5h-1zM129 107.9h1v1.5h-1zM131 107.9h2v1.5h-2zM137 107.9h1v1.5h-1zM141 107.9h1v1.5h-1zM143 107.9h1v1.5h-1zM145 107.9h4v1.5h-4zM156 107.9h2v1.5h-2zM162 107.9h3v1.5h-3zM46 109.4h1v1.5h-1zM48 109.4h1v1.5h-1zM51 109.4h1v1.5h-1zM55 109.4h2v1.5h-2zM60 109.4h1v1.5h-1zM63 109.4h1v1.5h-1zM66 109.4h1v1.5h-1zM69 109.4h2v1.5h-2zM74 109.4h1v1.5h-1zM80 109.4h1v1.5h-1zM86 109.4h4v1.5h-4zM91 109.4h1v1.5h-1zM94 109.4h1v1.5h-1zM96 109.4h1v1.5h-1zM100 109.4h1v1.5h-1zM106 109.4h1v1.5h-1zM110 109.4h1v1.5h-1zM113 109.4h2v1.5h-2zM117 109.4h1v1.5h-1zM127 109.4h1v1.5h-1zM132 109.4h1v1.5h-1zM138 109.4h3v1.5h-3zM145 109.4h1v1.5h-1zM148 109.4h1v1.5h-1zM152 109.4h1v1.5h-1zM154 109.4h2v1.5h-2zM157 109.4h1v1.5h-1zM162 109.4h3v1.5h-3zM45 111.0h2v1.5h-2zM50 111.0h2v1.5h-2zM53 111.0h1v1.5h-1zM55 111.0h1v1.5h-1zM60 111.0h1v1.5h-1zM66 111.0h4v1.5h-4zM76 111.0h1v1.5h-1zM80 111.0h1v1.5h-1zM84 111.0h3v1.5h-3zM90 111.0h3v1.5h-3zM104 111.0h1v1.5h-1zM114 111.0h1v1.5h-1zM117 111.0h1v1.5h-1zM127 111.0h1v1.5h-1zM132 111.0h1v1.5h-1zM138 111.0h2v1.5h-2zM145 111.0h1v1.5h-1zM148 111.0h1v1.5h-1zM154 111.0h2v1.5h-2zM157 111.0h1v1.5h-1zM159 111.0h1v1.5h-1zM163 111.0h2v1.5h-2zM45 112.5h1v1.2h-1zM49 112.5h1v1.2h-1zM54 112.5h1v1.2h-1zM64 112.5h1v1.2h-1zM73 112.5h1v1.2h-1zM75 112.5h1v1.2h-1zM77 112.5h3v1.2h-3zM115 112.5h1v1.2h-1zM149 112.5h2v1.2h-2zM45 113.8h1v1.2h-1zM49 113.8h1v1.2h-1zM54 113.8h1v1.2h-1zM64 113.8h1v1.2h-1zM75 113.8h3v1.2h-3zM79 113.8h1v1.2h-1zM116 113.8h1v1.2h-1zM149 113.8h2v1.2h-2zM47 115.0h1v1.3h-1zM56 115.0h1v1.3h-1zM59 115.0h1v1.3h-1zM70 115.0h1v1.3h-1zM72 115.0h1v1.3h-1zM86 115.0h1v1.3h-1zM88 115.0h1v1.3h-1zM95 115.0h3v1.3h-3zM99 115.0h1v1.3h-1zM101 115.0h2v1.3h-2zM105 115.0h2v1.3h-2zM109 115.0h4v1.3h-4zM118 115.0h1v1.3h-1zM122 115.0h3v1.3h-3zM126 115.0h1v1.3h-1zM129 115.0h1v1.3h-1zM137 115.0h1v1.3h-1zM141 115.0h3v1.3h-3zM146 115.0h3v1.3h-3zM167 115.0h1v1.3h-1zM47 116.3h2v1.3h-2zM52 116.3h1v1.3h-1zM57 116.3h1v1.3h-1zM60 116.3h1v1.3h-1zM69 116.3h2v1.3h-2zM72 116.3h1v1.3h-1zM86 116.3h1v1.3h-1zM88 116.3h1v1.3h-1zM94 116.3h5v1.3h-5zM102 116.3h2v1.3h-2zM105 116.3h2v1.3h-2zM108 116.3h1v1.3h-1zM110 116.3h4v1.3h-4zM123 116.3h1v1.3h-1zM126 116.3h1v1.3h-1zM129 116.3h1v1.3h-1zM140 116.3h4v1.3h-4zM152 116.3h2v1.3h-2zM156 116.3h1v1.3h-1zM162 116.3h1v1.3h-1zM47 117.6h2v1.3h-2zM55 117.6h2v1.3h-2zM59 117.6h2v1.3h-2zM63 117.6h1v1.3h-1zM70 117.6h1v1.3h-1zM86 117.6h4v1.3h-4zM95 117.6h2v1.3h-2zM98 117.6h1v1.3h-1zM100 117.6h1v1.3h-1zM103 117.6h4v1.3h-4zM108 117.6h1v1.3h-1zM110 117.6h1v1.3h-1zM112 117.6h2v1.3h-2zM117 117.6h1v1.3h-1zM126 117.6h1v1.3h-1zM129 117.6h1v1.3h-1zM140 117.6h1v1.3h-1zM143 117.6h1v1.3h-1zM145 117.6h2v1.3h-2zM148 117.6h1v1.3h-1zM152 117.6h1v1.3h-1zM156 117.6h2v1.3h-2zM162 117.6h1v1.3h-1zM164 117.6h1v1.3h-1zM45 130.8h1v1.6h-1zM54 130.8h1v1.6h-1zM77 130.8h1v1.6h-1zM79 130.8h1v1.6h-1zM115 130.8h1v1.6h-1zM149 130.8h2v1.6h-2zM158 130.8h1v1.6h-1zM49 134.0h1v1.6h-1zM54 134.0h1v1.6h-1zM79 134.0h1v1.6h-1zM149 134.0h2v1.6h-2zM45 137.1h1v1.6h-1zM49 137.1h2v1.6h-2zM73 137.1h1v1.6h-1zM75 137.1h1v1.6h-1zM77 137.1h2v1.6h-2zM92 137.1h1v1.6h-1zM115 137.1h1v1.6h-1zM159 137.1h1v1.6h-1zM75 138.7h1v1.6h-1zM77 138.7h1v1.6h-1zM115 138.7h1v1.6h-1zM149 138.7h2v1.6h-2zM77 140.3h1v1.6h-1zM158 140.3h1v1.6h-1zM49 142.0h1v1.6h-1zM54 142.0h1v1.6h-1zM75 142.0h1v1.6h-1zM77 142.0h1v1.6h-1zM115 142.0h1v1.6h-1zM149 142.0h3v1.6h-3zM158 142.0h1v1.6h-1zM57 143.6h2v1.5h-2zM71 143.6h1v1.5h-1zM81 143.6h1v1.5h-1zM83 143.6h1v1.5h-1zM93 143.6h1v1.5h-1zM101 143.6h1v1.5h-1zM107 143.6h1v1.5h-1zM119 143.6h3v1.5h-3zM124 143.6h2v1.5h-2zM128 143.6h1v1.5h-1zM130 143.6h2v1.5h-2zM133 143.6h1v1.5h-1zM135 143.6h2v1.5h-2zM144 143.6h1v1.5h-1zM147 143.6h1v1.5h-1zM153 143.6h1v1.5h-1zM160 143.6h2v1.5h-2zM165 143.6h2v1.5h-2zM52 145.1h1v1.5h-1zM57 145.1h2v1.5h-2zM62 145.1h1v1.5h-1zM70 145.1h3v1.5h-3zM82 145.1h2v1.5h-2zM93 145.1h1v1.5h-1zM97 145.1h1v1.5h-1zM99 145.1h1v1.5h-1zM102 145.1h1v1.5h-1zM106 145.1h1v1.5h-1zM110 145.1h3v1.5h-3zM118 145.1h1v1.5h-1zM120 145.1h3v1.5h-3zM124 145.1h1v1.5h-1zM126 145.1h1v1.5h-1zM128 145.1h4v1.5h-4zM135 145.1h3v1.5h-3zM141 145.1h4v1.5h-4zM146 145.1h2v1.5h-2zM153 145.1h1v1.5h-1zM160 145.1h1v1.5h-1zM167 145.1h1v1.5h-1zM75 148.1h1v1.5h-1zM150 148.1h1v1.5h-1zM158 148.1h1v1.5h-1zM77 149.6h1v1.5h-1zM158 149.6h1v1.5h-1zM47 156.0h1v1.5h-1zM52 156.0h1v1.5h-1zM59 156.0h1v1.5h-1zM66 156.0h1v1.5h-1zM70 156.0h1v1.5h-1zM72 156.0h1v1.5h-1zM86 156.0h1v1.5h-1zM88 156.0h2v1.5h-2zM91 156.0h1v1.5h-1zM94 156.0h1v1.5h-1zM96 156.0h2v1.5h-2zM99 156.0h2v1.5h-2zM102 156.0h2v1.5h-2zM105 156.0h2v1.5h-2zM108 156.0h2v1.5h-2zM111 156.0h3v1.5h-3zM122 156.0h2v1.5h-2zM126 156.0h1v1.5h-1zM137 156.0h1v1.5h-1zM141 156.0h3v1.5h-3zM146 156.0h1v1.5h-1zM156 156.0h1v1.5h-1zM46 157.5h1v1.5h-1zM51 157.5h1v1.5h-1zM53 157.5h1v1.5h-1zM63 157.5h1v1.5h-1zM65 157.5h1v1.5h-1zM67 157.5h2v1.5h-2zM76 157.5h1v1.5h-1zM78 157.5h3v1.5h-3zM84 157.5h3v1.5h-3zM88 157.5h1v1.5h-1zM90 157.5h1v1.5h-1zM104 157.5h1v1.5h-1zM138 157.5h2v1.5h-2zM151 157.5h1v1.5h-1zM159 157.5h1v1.5h-1zM163 157.5h1v1.5h-1zM46 158.9h1v1.5h-1zM48 158.9h1v1.5h-1zM50 158.9h2v1.5h-2zM53 158.9h1v1.5h-1zM55 158.9h2v1.5h-2zM60 158.9h1v1.5h-1zM63 158.9h1v1.5h-1zM66 158.9h4v1.5h-4zM74 158.9h1v1.5h-1zM80 158.9h1v1.5h-1zM84 158.9h1v1.5h-1zM86 158.9h3v1.5h-3zM91 158.9h1v1.5h-1zM94 158.9h1v1.5h-1zM98 158.9h1v1.5h-1zM104 158.9h2v1.5h-2zM108 158.9h1v1.5h-1zM114 158.9h1v1.5h-1zM117 158.9h1v1.5h-1zM127 158.9h1v1.5h-1zM132 158.9h1v1.5h-1zM138 158.9h3v1.5h-3zM152 158.9h1v1.5h-1zM154 158.9h2v1.5h-2zM157 158.9h1v1.5h-1zM159 158.9h1v1.5h-1zM162 158.9h3v1.5h-3zM47 160.4h1v1.5h-1zM56 160.4h1v1.5h-1zM60 160.4h1v1.5h-1zM62 160.4h1v1.5h-1zM69 160.4h2v1.5h-2zM72 160.4h1v1.5h-1zM74 160.4h1v1.5h-1zM86 160.4h1v1.5h-1zM88 160.4h2v1.5h-2zM91 160.4h1v1.5h-1zM94 160.4h1v1.5h-1zM97 160.4h1v1.5h-1zM103 160.4h2v1.5h-2zM106 160.4h1v1.5h-1zM108 160.4h7v1.5h-7zM137 160.4h1v1.5h-1zM141 160.4h1v1.5h-1zM143 160.4h1v1.5h-1zM146 160.4h3v1.5h-3zM156 160.4h2v1.5h-2zM162 160.4h1v1.5h-1zM164 160.4h1v1.5h-1zM47 161.9h1v1.5h-1zM52 161.9h1v1.5h-1zM56 161.9h1v1.5h-1zM59 161.9h2v1.5h-2zM62 161.9h1v1.5h-1zM70 161.9h3v1.5h-3zM82 161.9h1v1.5h-1zM86 161.9h3v1.5h-3zM93 161.9h1v1.5h-1zM95 161.9h4v1.5h-4zM100 161.9h1v1.5h-1zM102 161.9h2v1.5h-2zM106 161.9h1v1.5h-1zM108 161.9h2v1.5h-2zM111 161.9h3v1.5h-3zM117 161.9h1v1.5h-1zM126 161.9h2v1.5h-2zM135 161.9h1v1.5h-1zM143 161.9h1v1.5h-1zM145 161.9h2v1.5h-2zM148 161.9h1v1.5h-1zM156 161.9h1v1.5h-1zM162 161.9h1v1.5h-1zM167 161.9h1v1.5h-1zM45 163.4h2v1.5h-2zM48 163.4h1v1.5h-1zM50 163.4h2v1.5h-2zM53 163.4h1v1.5h-1zM65 163.4h1v1.5h-1zM67 163.4h3v1.5h-3zM80 163.4h1v1.5h-1zM84 163.4h2v1.5h-2zM87 163.4h1v1.5h-1zM90 163.4h1v1.5h-1zM92 163.4h1v1.5h-1zM114 163.4h2v1.5h-2zM117 163.4h1v1.5h-1zM132 163.4h1v1.5h-1zM138 163.4h1v1.5h-1zM140 163.4h1v1.5h-1zM152 163.4h1v1.5h-1zM154 163.4h2v1.5h-2zM159 163.4h1v1.5h-1zM164 163.4h1v1.5h-1zM46 164.8h1v1.5h-1zM50 164.8h1v1.5h-1zM63 164.8h3v1.5h-3zM67 164.8h2v1.5h-2zM74 164.8h1v1.5h-1zM76 164.8h1v1.5h-1zM79 164.8h2v1.5h-2zM84 164.8h2v1.5h-2zM88 164.8h1v1.5h-1zM90 164.8h1v1.5h-1zM92 164.8h1v1.5h-1zM104 164.8h1v1.5h-1zM114 164.8h1v1.5h-1zM116 164.8h2v1.5h-2zM138 164.8h2v1.5h-2zM145 164.8h1v1.5h-1zM151 164.8h2v1.5h-2zM154 164.8h2v1.5h-2zM159 164.8h1v1.5h-1zM164 164.8h1v1.5h-1zM179 56.0h2v1.7h-2zM182 56.0h1v1.7h-1zM190 56.0h1v1.7h-1zM206 56.0h1v1.7h-1zM213 56.0h1v1.7h-1zM224 56.0h3v1.7h-3zM228 56.0h1v1.7h-1zM235 56.0h1v1.7h-1zM246 56.0h1v1.7h-1zM250 56.0h1v1.7h-1zM259 56.0h1v1.7h-1zM264 56.0h1v1.7h-1zM266 56.0h2v1.7h-2zM178 57.7h1v1.7h-1zM181 57.7h2v1.7h-2zM184 57.7h2v1.7h-2zM190 57.7h1v1.7h-1zM195 57.7h4v1.7h-4zM206 57.7h1v1.7h-1zM215 57.7h1v1.7h-1zM218 57.7h1v1.7h-1zM220 57.7h1v1.7h-1zM224 57.7h3v1.7h-3zM234 57.7h2v1.7h-2zM238 57.7h1v1.7h-1zM244 57.7h2v1.7h-2zM258 57.7h2v1.7h-2zM265 57.7h3v1.7h-3zM171 59.4h3v1.7h-3zM176 59.4h1v1.7h-1zM183 59.4h2v1.7h-2zM187 59.4h1v1.7h-1zM189 59.4h1v1.7h-1zM192 59.4h1v1.7h-1zM194 59.4h1v1.7h-1zM201 59.4h1v1.7h-1zM204 59.4h1v1.7h-1zM211 59.4h1v1.7h-1zM229 59.4h2v1.7h-2zM233 59.4h1v1.7h-1zM239 59.4h1v1.7h-1zM243 59.4h3v1.7h-3zM253 59.4h1v1.7h-1zM256 59.4h1v1.7h-1zM261 59.4h2v1.7h-2zM265 59.4h1v1.7h-1zM179 66.2h2v1.9h-2zM191 66.2h1v1.9h-1zM196 66.2h1v1.9h-1zM205 66.2h1v1.9h-1zM207 66.2h1v1.9h-1zM221 66.2h1v1.9h-1zM226 66.2h1v1.9h-1zM228 66.2h1v1.9h-1zM236 66.2h1v1.9h-1zM246 66.2h1v1.9h-1zM249 66.2h1v1.9h-1zM267 66.2h1v1.9h-1zM177 68.1h2v1.8h-2zM180 68.1h1v1.8h-1zM191 68.1h1v1.8h-1zM196 68.1h2v1.8h-2zM206 68.1h1v1.8h-1zM213 68.1h1v1.8h-1zM215 68.1h1v1.8h-1zM224 68.1h3v1.8h-3zM234 68.1h2v1.8h-2zM238 68.1h1v1.8h-1zM245 68.1h2v1.8h-2zM249 68.1h3v1.8h-3zM259 68.1h1v1.8h-1zM257 75.7h1v1.5h-1zM188 80.1h1v1.7h-1zM192 80.1h1v1.7h-1zM194 80.1h1v1.7h-1zM200 80.1h1v1.7h-1zM211 80.1h1v1.7h-1zM219 80.1h1v1.7h-1zM252 80.1h3v1.7h-3zM260 80.1h2v1.7h-2zM263 80.1h1v1.7h-1zM187 81.8h4v1.7h-4zM192 81.8h1v1.7h-1zM194 81.8h1v1.7h-1zM198 81.8h1v1.7h-1zM200 81.8h2v1.7h-2zM203 81.8h2v1.7h-2zM220 81.8h1v1.7h-1zM222 81.8h2v1.7h-2zM225 81.8h1v1.7h-1zM256 81.8h1v1.7h-1zM258 81.8h2v1.7h-2zM265 81.8h3v1.7h-3zM189 83.5h2v1.7h-2zM195 83.5h1v1.7h-1zM198 83.5h1v1.7h-1zM201 83.5h1v1.7h-1zM203 83.5h2v1.7h-2zM211 83.5h1v1.7h-1zM218 83.5h1v1.7h-1zM222 83.5h2v1.7h-2zM258 83.5h2v1.7h-2zM265 83.5h2v1.7h-2zM233 100.8h1v1.4h-1zM235 100.8h1v1.4h-1zM240 100.8h1v1.4h-1zM243 100.8h2v1.4h-2zM252 100.8h3v1.4h-3zM260 100.8h2v1.4h-2zM233 102.2h1v1.4h-1zM245 102.2h1v1.4h-1zM252 102.2h4v1.4h-4zM260 102.2h2v1.4h-2zM235 103.6h1v1.4h-1zM243 103.6h3v1.4h-3zM253 103.6h2v1.4h-2zM256 103.6h1v1.4h-1zM258 103.6h1v1.4h-1zM261 103.6h1v1.4h-1zM265 103.6h1v1.4h-1zM168 105.0h1v1.4h-1zM170 105.0h1v1.4h-1zM174 105.0h1v1.4h-1zM208 105.0h2v1.4h-2zM235 105.0h1v1.4h-1zM238 105.0h1v1.4h-1zM258 105.0h2v1.4h-2zM264 105.0h1v1.4h-1zM266 105.0h2v1.4h-2zM233 106.4h3v1.4h-3zM243 106.4h3v1.4h-3zM253 106.4h1v1.4h-1zM256 106.4h1v1.4h-1zM258 106.4h1v1.4h-1zM261 106.4h1v1.4h-1zM265 106.4h1v1.4h-1zM180 110.7h1v1.4h-1zM196 110.7h1v1.4h-1zM205 110.7h1v1.4h-1zM212 110.7h1v1.4h-1zM214 110.7h1v1.4h-1zM221 110.7h1v1.4h-1zM225 110.7h3v1.4h-3zM178 112.1h1v1.4h-1zM191 112.1h1v1.4h-1zM196 112.1h1v1.4h-1zM205 112.1h1v1.4h-1zM207 112.1h1v1.4h-1zM213 112.1h2v1.4h-2zM217 112.1h1v1.4h-1zM226 112.1h2v1.4h-2zM202 113.6h1v1.4h-1zM207 113.6h1v1.4h-1zM214 113.6h1v1.4h-1zM217 113.6h1v1.4h-1zM172 115.0h1v1.8h-1zM181 115.0h3v1.8h-3zM185 115.0h2v1.8h-2zM195 115.0h1v1.8h-1zM197 115.0h1v1.8h-1zM201 115.0h1v1.8h-1zM203 115.0h1v1.8h-1zM206 115.0h1v1.8h-1zM215 115.0h1v1.8h-1zM218 115.0h1v1.8h-1zM220 115.0h1v1.8h-1zM222 115.0h1v1.8h-1zM224 115.0h1v1.8h-1zM237 115.0h1v1.8h-1zM248 115.0h1v1.8h-1zM172 116.8h1v1.8h-1zM181 116.8h7v1.8h-7zM189 116.8h2v1.8h-2zM194 116.8h2v1.8h-2zM198 116.8h1v1.8h-1zM201 116.8h1v1.8h-1zM203 116.8h2v1.8h-2zM206 116.8h1v1.8h-1zM222 116.8h1v1.8h-1zM224 116.8h1v1.8h-1zM247 116.8h2v1.8h-2zM214 129.0h1v1.5h-1zM217 129.0h1v1.5h-1zM202 132.1h1v1.5h-1zM178 133.6h1v1.5h-1zM180 133.6h1v1.5h-1zM202 133.6h1v1.5h-1zM207 133.6h1v1.5h-1zM212 133.6h1v1.5h-1zM214 133.6h1v1.5h-1zM217 133.6h1v1.5h-1zM221 133.6h1v1.5h-1zM227 133.6h1v1.5h-1zM237 133.6h1v1.5h-1zM247 133.6h2v1.5h-2zM202 136.6h1v1.5h-1zM214 136.6h1v1.5h-1zM216 136.6h2v1.5h-2zM216 139.7h1v1.5h-1zM180 141.2h1v1.5h-1zM191 141.2h1v1.5h-1zM196 141.2h1v1.5h-1zM202 141.2h1v1.5h-1zM205 141.2h1v1.5h-1zM207 141.2h1v1.5h-1zM212 141.2h1v1.5h-1zM214 141.2h1v1.5h-1zM217 141.2h1v1.5h-1zM227 141.2h1v1.5h-1zM247 141.2h2v1.5h-2zM168 142.7h2v1.7h-2zM176 142.7h1v1.7h-1zM183 142.7h1v1.7h-1zM187 142.7h2v1.7h-2zM192 142.7h1v1.7h-1zM194 142.7h1v1.7h-1zM200 142.7h1v1.7h-1zM203 142.7h1v1.7h-1zM210 142.7h2v1.7h-2zM223 142.7h1v1.7h-1zM233 142.7h1v1.7h-1zM239 142.7h2v1.7h-2zM242 142.7h1v1.7h-1zM252 142.7h3v1.7h-3zM260 142.7h2v1.7h-2zM171 144.4h2v1.7h-2zM184 144.4h1v1.7h-1zM186 144.4h5v1.7h-5zM194 144.4h2v1.7h-2zM198 144.4h1v1.7h-1zM201 144.4h1v1.7h-1zM203 144.4h2v1.7h-2zM211 144.4h1v1.7h-1zM218 144.4h1v1.7h-1zM222 144.4h2v1.7h-2zM233 144.4h1v1.7h-1zM238 144.4h1v1.7h-1zM240 144.4h1v1.7h-1zM243 144.4h2v1.7h-2zM253 144.4h1v1.7h-1zM256 144.4h1v1.7h-1zM261 144.4h1v1.7h-1zM265 144.4h1v1.7h-1zM171 146.1h1v1.7h-1zM173 146.1h1v1.7h-1zM176 146.1h1v1.7h-1zM183 146.1h2v1.7h-2zM187 146.1h3v1.7h-3zM192 146.1h1v1.7h-1zM195 146.1h1v1.7h-1zM203 146.1h2v1.7h-2zM211 146.1h1v1.7h-1zM223 146.1h1v1.7h-1zM239 146.1h1v1.7h-1zM243 146.1h1v1.7h-1zM253 146.1h2v1.7h-2zM256 146.1h1v1.7h-1zM261 146.1h1v1.7h-1zM202 147.8h1v1.7h-1zM216 147.8h1v1.7h-1zM237 147.8h1v1.7h-1zM248 147.8h1v1.7h-1zM202 149.5h1v1.7h-1zM205 149.5h1v1.7h-1zM207 149.5h1v1.7h-1zM214 149.5h1v1.7h-1zM217 149.5h1v1.7h-1zM227 149.5h1v1.7h-1zM237 149.5h1v1.7h-1zM248 149.5h1v1.7h-1zM257 149.5h1v1.7h-1zM207 155.9h1v1.6h-1zM216 155.9h2v1.6h-2zM227 155.9h1v1.6h-1zM247 155.9h1v1.6h-1zM257 155.9h1v1.6h-1zM171 157.5h2v1.6h-2zM181 157.5h2v1.6h-2zM185 157.5h2v1.6h-2zM190 157.5h1v1.6h-1zM197 157.5h2v1.6h-2zM201 157.5h1v1.6h-1zM213 157.5h1v1.6h-1zM215 157.5h1v1.6h-1zM218 157.5h1v1.6h-1zM220 157.5h1v1.6h-1zM222 157.5h1v1.6h-1zM226 157.5h1v1.6h-1zM234 157.5h2v1.6h-2zM245 157.5h1v1.6h-1zM250 157.5h2v1.6h-2zM258 157.5h2v1.6h-2zM265 157.5h3v1.6h-3zM172 159.0h1v1.6h-1zM181 159.0h2v1.6h-2zM184 159.0h1v1.6h-1zM186 159.0h1v1.6h-1zM189 159.0h2v1.6h-2zM197 159.0h2v1.6h-2zM201 159.0h1v1.6h-1zM203 159.0h2v1.6h-2zM218 159.0h1v1.6h-1zM220 159.0h1v1.6h-1zM222 159.0h1v1.6h-1zM224 159.0h1v1.6h-1zM233 159.0h1v1.6h-1zM235 159.0h1v1.6h-1zM238 159.0h1v1.6h-1zM243 159.0h3v1.6h-3zM256 159.0h1v1.6h-1zM258 159.0h1v1.6h-1zM266 159.0h1v1.6h-1zM177 160.6h4v1.6h-4zM191 160.6h1v1.6h-1zM196 160.6h1v1.6h-1zM205 160.6h1v1.6h-1zM207 160.6h1v1.6h-1zM212 160.6h1v1.6h-1zM214 160.6h1v1.6h-1zM217 160.6h1v1.6h-1zM221 160.6h1v1.6h-1zM226 160.6h2v1.6h-2zM236 160.6h1v1.6h-1zM246 160.6h1v1.6h-1zM178 162.2h2v1.6h-2zM191 162.2h1v1.6h-1zM205 162.2h1v1.6h-1zM207 162.2h1v1.6h-1zM212 162.2h1v1.6h-1zM217 162.2h1v1.6h-1zM225 162.2h1v1.6h-1zM227 162.2h1v1.6h-1zM246 162.2h1v1.6h-1zM249 162.2h1v1.6h-1zM251 162.2h1v1.6h-1zM257 162.2h1v1.6h-1zM264 162.2h1v1.6h-1zM172 163.7h1v1.6h-1zM181 163.7h2v1.6h-2zM185 163.7h1v1.6h-1zM189 163.7h2v1.6h-2zM195 163.7h1v1.6h-1zM198 163.7h1v1.6h-1zM201 163.7h1v1.6h-1zM203 163.7h2v1.6h-2zM218 163.7h1v1.6h-1zM220 163.7h1v1.6h-1zM222 163.7h1v1.6h-1zM234 163.7h1v1.6h-1zM244 163.7h2v1.6h-2zM251 163.7h1v1.6h-1zM256 163.7h1v1.6h-1zM258 163.7h2v1.6h-2zM265 163.7h1v1.6h-1z"/>
<path fill="#707070" d="M62 55.8h1v1.7h-1zM71 55.8h2v1.7h-2zM93 55.8h1v1.7h-1zM102 55.8h2v1.7h-2zM105 55.8h2v1.7h-2zM108 55.8h1v1.7h-1zM110 55.8h4v1.7h-4zM119 55.8h1v1.7h-1zM126 55.8h1v1.7h-1zM137 55.8h1v1.7h-1zM146 55.8h1v1.7h-1zM148 55.8h1v1.7h-1zM153 55.8h1v1.7h-1zM155 55.8h1v1.7h-1zM162 55.8h1v1.7h-1zM167 55.8h1v1.7h-1zM61 57.5h1v1.7h-1zM71 57.5h1v1.7h-1zM102 57.5h1v1.7h-1zM105 57.5h2v1.7h-2zM108 57.5h6v1.7h-6zM121 57.5h3v1.7h-3zM126 57.5h1v1.7h-1zM129 57.5h1v1.7h-1zM135 57.5h1v1.7h-1zM137 57.5h1v1.7h-1zM147 57.5h2v1.7h-2zM153 57.5h1v1.7h-1zM166 57.5h2v1.7h-2zM61 59.2h1v1.7h-1zM102 59.2h2v1.7h-2zM107 59.2h1v1.7h-1zM110 59.2h2v1.7h-2zM118 59.2h7v1.7h-7zM126 59.2h1v1.7h-1zM129 59.2h1v1.7h-1zM135 59.2h3v1.7h-3zM147 59.2h1v1.7h-1zM153 59.2h1v1.7h-1zM160 59.2h2v1.7h-2zM166 59.2h2v1.7h-2zM46 66.4h1v1.4h-1zM48 66.4h1v1.4h-1zM51 66.4h1v1.4h-1zM55 66.4h2v1.4h-2zM60 66.4h1v1.4h-1zM65 66.4h2v1.4h-2zM69 66.4h1v1.4h-1zM74 66.4h1v1.4h-1zM80 66.4h1v1.4h-1zM84 66.4h1v1.4h-1zM87 66.4h2v1.4h-2zM91 66.4h1v1.4h-1zM94 66.4h1v1.4h-1zM96 66.4h3v1.4h-3zM104 66.4h1v1.4h-1zM110 66.4h3v1.4h-3zM114 66.4h1v1.4h-1zM139 66.4h2v1.4h-2zM145 66.4h1v1.4h-1zM152 66.4h1v1.4h-1zM155 66.4h1v1.4h-1zM157 66.4h1v1.4h-1zM159 66.4h1v1.4h-1zM162 66.4h3v1.4h-3zM45 67.8h1v1.4h-1zM50 67.8h1v1.4h-1zM53 67.8h1v1.4h-1zM55 67.8h1v1.4h-1zM65 67.8h5v1.4h-5zM76 67.8h1v1.4h-1zM80 67.8h1v1.4h-1zM85 67.8h2v1.4h-2zM90 67.8h1v1.4h-1zM92 67.8h1v1.4h-1zM98 67.8h1v1.4h-1zM104 67.8h1v1.4h-1zM114 67.8h1v1.4h-1zM127 67.8h1v1.4h-1zM139 67.8h1v1.4h-1zM154 67.8h2v1.4h-2zM164 67.8h1v1.4h-1zM46 69.2h1v1.4h-1zM48 69.2h1v1.4h-1zM51 69.2h1v1.4h-1zM53 69.2h1v1.4h-1zM55 69.2h2v1.4h-2zM66 69.2h4v1.4h-4zM80 69.2h1v1.4h-1zM87 69.2h1v1.4h-1zM90 69.2h1v1.4h-1zM92 69.2h1v1.4h-1zM98 69.2h1v1.4h-1zM104 69.2h1v1.4h-1zM114 69.2h1v1.4h-1zM117 69.2h1v1.4h-1zM127 69.2h1v1.4h-1zM132 69.2h1v1.4h-1zM138 69.2h3v1.4h-3zM148 69.2h1v1.4h-1zM151 69.2h2v1.4h-2zM155 69.2h1v1.4h-1zM157 69.2h1v1.4h-1zM163 69.2h1v1.4h-1zM77 80.2h1v1.4h-1zM149 80.2h1v1.4h-1zM158 80.2h1v1.4h-1zM47 81.6h1v1.6h-1zM52 81.6h1v1.6h-1zM57 81.6h1v1.6h-1zM59 81.6h1v1.6h-1zM62 81.6h1v1.6h-1zM71 81.6h2v1.6h-2zM82 81.6h2v1.6h-2zM93 81.6h1v1.6h-1zM95 81.6h1v1.6h-1zM97 81.6h1v1.6h-1zM99 81.6h1v1.6h-1zM101 81.6h3v1.6h-3zM105 81.6h2v1.6h-2zM109 81.6h2v1.6h-2zM112 81.6h2v1.6h-2zM118 81.6h1v1.6h-1zM120 81.6h1v1.6h-1zM122 81.6h3v1.6h-3zM126 81.6h1v1.6h-1zM129 81.6h1v1.6h-1zM135 81.6h1v1.6h-1zM137 81.6h1v1.6h-1zM141 81.6h2v1.6h-2zM146 81.6h2v1.6h-2zM152 81.6h2v1.6h-2zM156 81.6h1v1.6h-1zM161 81.6h1v1.6h-1zM167 81.6h1v1.6h-1zM57 83.2h2v1.6h-2zM61 83.2h1v1.6h-1zM107 83.2h1v1.6h-1zM119 83.2h1v1.6h-1zM121 83.2h2v1.6h-2zM125 83.2h1v1.6h-1zM133 83.2h4v1.6h-4zM160 83.2h2v1.6h-2zM165 83.2h1v1.6h-1zM50 93.6h1v1.5h-1zM64 93.6h1v1.5h-1zM73 93.6h1v1.5h-1zM76 93.6h1v1.5h-1zM78 93.6h2v1.5h-2zM90 93.6h1v1.5h-1zM92 93.6h1v1.5h-1zM115 93.6h2v1.5h-2zM54 96.6h1v1.5h-1zM54 98.1h1v1.5h-1zM75 98.1h1v1.5h-1zM77 98.1h1v1.5h-1zM150 98.1h1v1.5h-1zM158 98.1h1v1.5h-1zM52 107.9h1v1.5h-1zM57 107.9h2v1.5h-2zM71 107.9h2v1.5h-2zM82 107.9h2v1.5h-2zM93 107.9h1v1.5h-1zM97 107.9h1v1.5h-1zM101 107.9h1v1.5h-1zM107 107.9h1v1.5h-1zM118 107.9h2v1.5h-2zM121 107.9h2v1.5h-2zM124 107.9h1v1.5h-1zM128 107.9h1v1.5h-1zM130 107.9h1v1.5h-1zM133 107.9h1v1.5h-1zM135 107.9h2v1.5h-2zM142 107.9h1v1.5h-1zM144 107.9h1v1.5h-1zM153 107.9h1v1.5h-1zM160 107.9h2v1.5h-2zM166 107.9h2v1.5h-2zM47 109.4h1v1.5h-1zM52 109.4h1v1.5h-1zM57 109.4h3v1.5h-3zM62 109.4h1v1.5h-1zM71 109.4h2v1.5h-2zM93 109.4h1v1.5h-1zM95 109.4h1v1.5h-1zM97 109.4h1v1.5h-1zM99 109.4h1v1.5h-1zM102 109.4h2v1.5h-2zM105 109.4h1v1.5h-1zM108 109.4h2v1.5h-2zM111 109.4h2v1.5h-2zM118 109.4h1v1.5h-1zM121 109.4h1v1.5h-1zM123 109.4h2v1.5h-2zM126 109.4h1v1.5h-1zM129 109.4h3v1.5h-3zM136 109.4h2v1.5h-2zM141 109.4h3v1.5h-3zM146 109.4h2v1.5h-2zM156 109.4h1v1.5h-1zM167 109.4h1v1.5h-1zM47 111.0h2v1.5h-2zM52 111.0h1v1.5h-1zM56 111.0h1v1.5h-1zM59 111.0h1v1.5h-1zM63 111.0h1v1.5h-1zM70 111.0h1v1.5h-1zM72 111.0h1v1.5h-1zM74 111.0h1v1.5h-1zM87 111.0h3v1.5h-3zM94 111.0h3v1.5h-3zM98 111.0h3v1.5h-3zM103 111.0h1v1.5h-1zM105 111.0h2v1.5h-2zM108 111.0h6v1.5h-6zM124 111.0h1v1.5h-1zM126 111.0h1v1.5h-1zM129 111.0h1v1.5h-1zM131 111.0h1v1.5h-1zM140 111.0h4v1.5h-4zM146 111.0h2v1.5h-2zM152 111.0h1v1.5h-1zM156 111.0h1v1.5h-1zM162 111.0h1v1.5h-1zM167 111.0h1v1.5h-1zM46 112.5h1v1.2h-1zM48 112.5h1v1.2h-1zM50 112.5h1v1.2h-1zM53 112.5h1v1.2h-1zM55 112.5h1v1.2h-1zM63 112.5h1v1.2h-1zM65 112.5h4v1.2h-4zM76 112.5h1v1.2h-1zM80 112.5h1v1.2h-1zM85 112.5h1v1.2h-1zM90 112.5h1v1.2h-1zM92 112.5h1v1.2h-1zM114 112.5h1v1.2h-1zM116 112.5h1v1.2h-1zM127 112.5h1v1.2h-1zM132 112.5h1v1.2h-1zM138 112.5h2v1.2h-2zM151 112.5h2v1.2h-2zM154 112.5h1v1.2h-1zM157 112.5h1v1.2h-1zM159 112.5h1v1.2h-1zM163 112.5h2v1.2h-2zM48 113.8h1v1.2h-1zM50 113.8h1v1.2h-1zM53 113.8h1v1.2h-1zM55 113.8h1v1.2h-1zM65 113.8h1v1.2h-1zM67 113.8h1v1.2h-1zM69 113.8h1v1.2h-1zM73 113.8h2v1.2h-2zM78 113.8h1v1.2h-1zM80 113.8h1v1.2h-1zM85 113.8h1v1.2h-1zM90 113.8h3v1.2h-3zM104 113.8h1v1.2h-1zM114 113.8h2v1.2h-2zM127 113.8h1v1.2h-1zM138 113.8h2v1.2h-2zM151 113.8h1v1.2h-1zM154 113.8h2v1.2h-2zM57 115.0h2v1.3h-2zM62 115.0h1v1.3h-1zM71 115.0h1v1.3h-1zM82 115.0h2v1.3h-2zM93 115.0h1v1.3h-1zM103 115.0h1v1.3h-1zM107 115.0h1v1.3h-1zM119 115.0h3v1.3h-3zM128 115.0h1v1.3h-1zM130 115.0h2v1.3h-2zM135 115.0h2v1.3h-2zM144 115.0h1v1.3h-1zM153 115.0h1v1.3h-1zM160 115.0h2v1.3h-2zM165 115.0h2v1.3h-2zM58 116.3h2v1.3h-2zM62 116.3h1v1.3h-1zM71 116.3h1v1.3h-1zM82 116.3h2v1.3h-2zM93 116.3h1v1.3h-1zM99 116.3h1v1.3h-1zM101 116.3h1v1.3h-1zM107 116.3h1v1.3h-1zM109 116.3h1v1.3h-1zM118 116.3h5v1.3h-5zM124 116.3h1v1.3h-1zM128 116.3h1v1.3h-1zM130 116.3h2v1.3h-2zM133 116.3h1v1.3h-1zM135 116.3h3v1.3h-3zM144 116.3h1v1.3h-1zM146 116.3h2v1.3h-2zM160 116.3h2v1.3h-2zM167 116.3h1v1.3h-1zM52 117.6h1v1.3h-1zM57 117.6h2v1.3h-2zM62 117.6h1v1.3h-1zM71 117.6h2v1.3h-2zM82 117.6h2v1.3h-2zM93 117.6h1v1.3h-1zM97 117.6h1v1.3h-1zM99 117.6h1v1.3h-1zM101 117.6h2v1.3h-2zM107 117.6h1v1.3h-1zM109 117.6h1v1.3h-1zM111 117.6h1v1.3h-1zM118 117.6h1v1.3h-1zM120 117.6h5v1.3h-5zM128 117.6h1v1.3h-1zM130 117.6h2v1.3h-2zM133 117.6h1v1.3h-1zM135 117.6h1v1.3h-1zM137 117.6h1v1.3h-1zM141 117.6h2v1.3h-2zM144 117.6h1v1.3h-1zM147 117.6h1v1.3h-1zM153 117.6h1v1.3h-1zM160 117.6h1v1.3h-1zM166 117.6h2v1.3h-2zM158 126.4h1v1.5h-1zM75 129.3h1v1.5h-1zM77 129.3h1v1.5h-1zM149 129.3h2v1.5h-2zM158 129.3h1v1.5h-1zM49 130.8h2v1.6h-2zM64 130.8h2v1.6h-2zM67 130.8h1v1.6h-1zM73 130.8h1v1.6h-1zM75 130.8h2v1.6h-2zM78 130.8h1v1.6h-1zM90 130.8h1v1.6h-1zM92 130.8h1v1.6h-1zM116 130.8h1v1.6h-1zM45 134.0h1v1.6h-1zM64 134.0h1v1.6h-1zM73 134.0h1v1.6h-1zM75 134.0h4v1.6h-4zM92 134.0h1v1.6h-1zM104 134.0h1v1.6h-1zM115 134.0h2v1.6h-2zM151 134.0h1v1.6h-1zM77 135.5h1v1.6h-1zM150 135.5h1v1.6h-1zM158 135.5h1v1.6h-1zM46 137.1h1v1.6h-1zM48 137.1h1v1.6h-1zM53 137.1h1v1.6h-1zM63 137.1h6v1.6h-6zM74 137.1h1v1.6h-1zM76 137.1h1v1.6h-1zM80 137.1h1v1.6h-1zM84 137.1h3v1.6h-3zM88 137.1h1v1.6h-1zM90 137.1h1v1.6h-1zM104 137.1h1v1.6h-1zM114 137.1h1v1.6h-1zM116 137.1h1v1.6h-1zM138 137.1h2v1.6h-2zM151 137.1h1v1.6h-1zM155 137.1h1v1.6h-1zM162 137.1h3v1.6h-3zM45 138.7h1v1.6h-1zM49 138.7h2v1.6h-2zM53 138.7h2v1.6h-2zM64 138.7h1v1.6h-1zM67 138.7h1v1.6h-1zM73 138.7h1v1.6h-1zM76 138.7h1v1.6h-1zM79 138.7h1v1.6h-1zM85 138.7h1v1.6h-1zM90 138.7h1v1.6h-1zM116 138.7h1v1.6h-1zM45 140.3h1v1.6h-1zM54 140.3h1v1.6h-1zM75 140.3h2v1.6h-2zM78 140.3h2v1.6h-2zM115 140.3h1v1.6h-1zM149 140.3h2v1.6h-2zM45 142.0h2v1.6h-2zM50 142.0h1v1.6h-1zM53 142.0h1v1.6h-1zM64 142.0h2v1.6h-2zM67 142.0h1v1.6h-1zM73 142.0h1v1.6h-1zM76 142.0h1v1.6h-1zM78 142.0h3v1.6h-3zM85 142.0h1v1.6h-1zM87 142.0h1v1.6h-1zM90 142.0h1v1.6h-1zM92 142.0h1v1.6h-1zM114 142.0h1v1.6h-1zM116 142.0h1v1.6h-1zM138 142.0h2v1.6h-2zM159 142.0h1v1.6h-1zM163 142.0h1v1.6h-1zM61 143.6h1v1.5h-1zM134 143.6h1v1.5h-1zM61 145.1h1v1.5h-1zM81 145.1h1v1.5h-1zM107 145.1h1v1.5h-1zM119 145.1h1v1.5h-1zM125 145.1h1v1.5h-1zM133 145.1h1v1.5h-1zM161 145.1h1v1.5h-1zM165 145.1h2v1.5h-2zM45 148.1h1v1.5h-1zM49 148.1h2v1.5h-2zM54 148.1h1v1.5h-1zM64 148.1h1v1.5h-1zM73 148.1h1v1.5h-1zM76 148.1h5v1.5h-5zM85 148.1h1v1.5h-1zM90 148.1h1v1.5h-1zM115 148.1h2v1.5h-2zM149 148.1h1v1.5h-1zM54 149.6h1v1.5h-1zM76 149.6h1v1.5h-1zM78 149.6h2v1.5h-2zM90 149.6h1v1.5h-1zM115 149.6h1v1.5h-1zM149 149.6h2v1.5h-2zM57 156.0h1v1.5h-1zM62 156.0h1v1.5h-1zM71 156.0h1v1.5h-1zM82 156.0h2v1.5h-2zM93 156.0h1v1.5h-1zM95 156.0h1v1.5h-1zM101 156.0h1v1.5h-1zM107 156.0h1v1.5h-1zM110 156.0h1v1.5h-1zM118 156.0h4v1.5h-4zM124 156.0h1v1.5h-1zM128 156.0h4v1.5h-4zM133 156.0h1v1.5h-1zM135 156.0h2v1.5h-2zM144 156.0h1v1.5h-1zM147 156.0h1v1.5h-1zM153 156.0h1v1.5h-1zM160 156.0h2v1.5h-2zM166 156.0h2v1.5h-2zM47 157.5h2v1.5h-2zM55 157.5h2v1.5h-2zM59 157.5h1v1.5h-1zM62 157.5h1v1.5h-1zM66 157.5h1v1.5h-1zM70 157.5h1v1.5h-1zM74 157.5h1v1.5h-1zM87 157.5h1v1.5h-1zM89 157.5h1v1.5h-1zM91 157.5h1v1.5h-1zM94 157.5h3v1.5h-3zM98 157.5h1v1.5h-1zM100 157.5h1v1.5h-1zM105 157.5h2v1.5h-2zM108 157.5h1v1.5h-1zM110 157.5h3v1.5h-3zM114 157.5h1v1.5h-1zM117 157.5h1v1.5h-1zM127 157.5h1v1.5h-1zM132 157.5h1v1.5h-1zM140 157.5h1v1.5h-1zM145 157.5h1v1.5h-1zM148 157.5h1v1.5h-1zM152 157.5h1v1.5h-1zM154 157.5h4v1.5h-4zM162 157.5h1v1.5h-1zM164 157.5h1v1.5h-1zM47 158.9h1v1.5h-1zM52 158.9h1v1.5h-1zM59 158.9h1v1.5h-1zM62 158.9h1v1.5h-1zM70 158.9h3v1.5h-3zM89 158.9h1v1.5h-1zM93 158.9h1v1.5h-1zM95 158.9h2v1.5h-2zM99 158.9h2v1.5h-2zM103 158.9h1v1.5h-1zM106 158.9h1v1.5h-1zM109 158.9h5v1.5h-5zM123 158.9h2v1.5h-2zM137 158.9h1v1.5h-1zM141 158.9h1v1.5h-1zM143 158.9h1v1.5h-1zM145 158.9h2v1.5h-2zM148 158.9h1v1.5h-1zM156 158.9h1v1.5h-1zM167 158.9h1v1.5h-1zM52 160.4h1v1.5h-1zM57 160.4h1v1.5h-1zM59 160.4h1v1.5h-1zM71 160.4h1v1.5h-1zM82 160.4h2v1.5h-2zM93 160.4h1v1.5h-1zM95 160.4h1v1.5h-1zM99 160.4h1v1.5h-1zM101 160.4h2v1.5h-2zM107 160.4h1v1.5h-1zM118 160.4h2v1.5h-2zM121 160.4h4v1.5h-4zM126 160.4h1v1.5h-1zM129 160.4h3v1.5h-3zM133 160.4h1v1.5h-1zM135 160.4h2v1.5h-2zM142 160.4h1v1.5h-1zM144 160.4h1v1.5h-1zM153 160.4h1v1.5h-1zM160 160.4h1v1.5h-1zM166 160.4h2v1.5h-2zM57 161.9h2v1.5h-2zM83 161.9h1v1.5h-1zM99 161.9h1v1.5h-1zM101 161.9h1v1.5h-1zM107 161.9h1v1.5h-1zM110 161.9h1v1.5h-1zM118 161.9h1v1.5h-1zM120 161.9h5v1.5h-5zM128 161.9h4v1.5h-4zM133 161.9h1v1.5h-1zM136 161.9h2v1.5h-2zM141 161.9h2v1.5h-2zM144 161.9h1v1.5h-1zM147 161.9h1v1.5h-1zM153 161.9h1v1.5h-1zM160 161.9h1v1.5h-1zM165 161.9h2v1.5h-2zM47 163.4h1v1.5h-1zM52 163.4h1v1.5h-1zM55 163.4h2v1.5h-2zM60 163.4h1v1.5h-1zM63 163.4h1v1.5h-1zM66 163.4h1v1.5h-1zM70 163.4h1v1.5h-1zM72 163.4h1v1.5h-1zM74 163.4h1v1.5h-1zM86 163.4h1v1.5h-1zM88 163.4h2v1.5h-2zM91 163.4h1v1.5h-1zM94 163.4h3v1.5h-3zM98 163.4h3v1.5h-3zM104 163.4h3v1.5h-3zM108 163.4h2v1.5h-2zM111 163.4h3v1.5h-3zM123 163.4h1v1.5h-1zM127 163.4h1v1.5h-1zM129 163.4h1v1.5h-1zM137 163.4h1v1.5h-1zM139 163.4h1v1.5h-1zM148 163.4h1v1.5h-1zM156 163.4h2v1.5h-2zM162 163.4h2v1.5h-2zM47 164.8h2v1.5h-2zM51 164.8h1v1.5h-1zM55 164.8h2v1.5h-2zM60 164.8h1v1.5h-1zM62 164.8h1v1.5h-1zM66 164.8h1v1.5h-1zM69 164.8h2v1.5h-2zM72 164.8h1v1.5h-1zM86 164.8h2v1.5h-2zM89 164.8h1v1.5h-1zM91 164.8h1v1.5h-1zM94 164.8h3v1.5h-3zM98 164.8h1v1.5h-1zM100 164.8h1v1.5h-1zM105 164.8h2v1.5h-2zM110 164.8h1v1.5h-1zM112 164.8h2v1.5h-2zM124 164.8h1v1.5h-1zM126 164.8h2v1.5h-2zM132 164.8h1v1.5h-1zM137 164.8h1v1.5h-1zM140 164.8h1v1.5h-1zM148 164.8h1v1.5h-1zM156 164.8h2v1.5h-2zM162 164.8h2v1.5h-2zM167 164.8h1v1.5h-1zM172 56.0h2v1.7h-2zM181 56.0h1v1.7h-1zM184 56.0h1v1.7h-1zM186 56.0h2v1.7h-2zM189 56.0h1v1.7h-1zM197 56.0h2v1.7h-2zM201 56.0h1v1.7h-1zM203 56.0h1v1.7h-1zM215 56.0h1v1.7h-1zM218 56.0h1v1.7h-1zM220 56.0h1v1.7h-1zM222 56.0h1v1.7h-1zM229 56.0h1v1.7h-1zM233 56.0h2v1.7h-2zM238 56.0h1v1.7h-1zM243 56.0h3v1.7h-3zM251 56.0h1v1.7h-1zM256 56.0h1v1.7h-1zM258 56.0h1v1.7h-1zM265 56.0h1v1.7h-1zM169 57.7h1v1.7h-1zM171 57.7h2v1.7h-2zM183 57.7h1v1.7h-1zM186 57.7h4v1.7h-4zM201 57.7h1v1.7h-1zM203 57.7h2v1.7h-2zM222 57.7h2v1.7h-2zM229 57.7h1v1.7h-1zM243 57.7h1v1.7h-1zM252 57.7h2v1.7h-2zM256 57.7h1v1.7h-1zM261 57.7h1v1.7h-1zM169 59.4h2v1.7h-2zM174 59.4h1v1.7h-1zM188 59.4h1v1.7h-1zM193 59.4h1v1.7h-1zM199 59.4h2v1.7h-2zM210 59.4h1v1.7h-1zM219 59.4h1v1.7h-1zM223 59.4h1v1.7h-1zM232 59.4h1v1.7h-1zM240 59.4h3v1.7h-3zM252 59.4h1v1.7h-1zM254 59.4h2v1.7h-2zM260 59.4h1v1.7h-1zM263 59.4h1v1.7h-1zM177 66.2h2v1.9h-2zM182 66.2h1v1.9h-1zM184 66.2h1v1.9h-1zM197 66.2h1v1.9h-1zM206 66.2h1v1.9h-1zM213 66.2h1v1.9h-1zM218 66.2h1v1.9h-1zM224 66.2h2v1.9h-2zM234 66.2h2v1.9h-2zM238 66.2h1v1.9h-1zM245 66.2h1v1.9h-1zM250 66.2h2v1.9h-2zM256 66.2h1v1.9h-1zM258 66.2h2v1.9h-2zM264 66.2h1v1.9h-1zM266 66.2h1v1.9h-1zM172 68.1h1v1.8h-1zM181 68.1h3v1.8h-3zM185 68.1h2v1.8h-2zM189 68.1h2v1.8h-2zM195 68.1h1v1.8h-1zM198 68.1h1v1.8h-1zM203 68.1h2v1.8h-2zM218 68.1h1v1.8h-1zM222 68.1h1v1.8h-1zM229 68.1h1v1.8h-1zM243 68.1h2v1.8h-2zM256 68.1h1v1.8h-1zM258 68.1h1v1.8h-1zM265 68.1h2v1.8h-2zM257 71.4h1v1.5h-1zM264 71.4h1v1.5h-1zM267 71.4h1v1.5h-1zM257 72.8h1v1.5h-1zM202 75.7h1v1.5h-1zM216 75.7h1v1.5h-1zM259 75.7h1v1.5h-1zM264 75.7h1v1.5h-1zM267 75.7h1v1.5h-1zM257 77.2h1v1.5h-1zM264 77.2h1v1.5h-1zM257 78.6h1v1.5h-1zM178 80.1h1v1.7h-1zM193 80.1h1v1.7h-1zM199 80.1h1v1.7h-1zM208 80.1h3v1.7h-3zM248 80.1h1v1.7h-1zM255 80.1h1v1.7h-1zM262 80.1h1v1.7h-1zM210 81.8h2v1.7h-2zM219 81.8h1v1.7h-1zM252 81.8h3v1.7h-3zM260 81.8h4v1.7h-4zM187 83.5h2v1.7h-2zM192 83.5h1v1.7h-1zM194 83.5h1v1.7h-1zM200 83.5h1v1.7h-1zM219 83.5h1v1.7h-1zM252 83.5h3v1.7h-3zM256 83.5h1v1.7h-1zM260 83.5h3v1.7h-3zM202 88.8h1v1.5h-1zM216 90.3h1v1.5h-1zM232 100.8h1v1.4h-1zM239 100.8h1v1.4h-1zM242 100.8h1v1.4h-1zM255 100.8h1v1.4h-1zM262 100.8h2v1.4h-2zM232 102.2h1v1.4h-1zM239 102.2h2v1.4h-2zM242 102.2h1v1.4h-1zM262 102.2h2v1.4h-2zM232 103.6h2v1.4h-2zM239 103.6h2v1.4h-2zM242 103.6h1v1.4h-1zM252 103.6h1v1.4h-1zM260 103.6h1v1.4h-1zM262 103.6h2v1.4h-2zM234 105.0h1v1.4h-1zM243 105.0h3v1.4h-3zM252 105.0h1v1.4h-1zM256 105.0h1v1.4h-1zM260 105.0h2v1.4h-2zM265 105.0h1v1.4h-1zM239 106.4h1v1.4h-1zM252 106.4h1v1.4h-1zM254 106.4h2v1.4h-2zM260 106.4h1v1.4h-1zM262 106.4h1v1.4h-1zM177 110.7h3v1.4h-3zM190 110.7h2v1.4h-2zM206 110.7h1v1.4h-1zM213 110.7h1v1.4h-1zM224 110.7h1v1.4h-1zM177 112.1h1v1.4h-1zM179 112.1h2v1.4h-2zM182 112.1h1v1.4h-1zM185 112.1h1v1.4h-1zM190 112.1h1v1.4h-1zM206 112.1h1v1.4h-1zM215 112.1h1v1.4h-1zM218 112.1h1v1.4h-1zM220 112.1h3v1.4h-3zM224 112.1h2v1.4h-2zM178 113.6h3v1.4h-3zM191 113.6h1v1.4h-1zM196 113.6h1v1.4h-1zM205 113.6h1v1.4h-1zM212 113.6h1v1.4h-1zM221 113.6h1v1.4h-1zM224 113.6h4v1.4h-4zM169 115.0h1v1.8h-1zM171 115.0h1v1.8h-1zM173 115.0h4v1.8h-4zM184 115.0h1v1.8h-1zM187 115.0h3v1.8h-3zM192 115.0h1v1.8h-1zM194 115.0h1v1.8h-1zM198 115.0h1v1.8h-1zM200 115.0h1v1.8h-1zM204 115.0h1v1.8h-1zM211 115.0h1v1.8h-1zM223 115.0h1v1.8h-1zM247 115.0h1v1.8h-1zM249 115.0h1v1.8h-1zM257 115.0h1v1.8h-1zM169 116.8h1v1.8h-1zM171 116.8h1v1.8h-1zM173 116.8h1v1.8h-1zM175 116.8h1v1.8h-1zM188 116.8h1v1.8h-1zM192 116.8h1v1.8h-1zM200 116.8h1v1.8h-1zM211 116.8h1v1.8h-1zM219 116.8h1v1.8h-1zM223 116.8h1v1.8h-1zM228 116.8h1v1.8h-1zM237 116.8h1v1.8h-1zM246 116.8h1v1.8h-1zM257 116.8h1v1.8h-1zM202 126.0h1v1.5h-1zM207 126.0h1v1.5h-1zM214 126.0h1v1.5h-1zM216 126.0h2v1.5h-2zM221 126.0h1v1.5h-1zM227 126.0h1v1.5h-1zM247 126.0h2v1.5h-2zM202 127.5h1v1.5h-1zM178 129.0h2v1.5h-2zM191 129.0h1v1.5h-1zM202 129.0h1v1.5h-1zM205 129.0h1v1.5h-1zM207 129.0h1v1.5h-1zM216 129.0h1v1.5h-1zM221 129.0h1v1.5h-1zM226 129.0h2v1.5h-2zM237 129.0h1v1.5h-1zM247 129.0h2v1.5h-2zM202 130.6h1v1.5h-1zM214 130.6h1v1.5h-1zM216 130.6h1v1.5h-1zM248 130.6h1v1.5h-1zM178 132.1h2v1.5h-2zM191 132.1h1v1.5h-1zM196 132.1h1v1.5h-1zM207 132.1h1v1.5h-1zM212 132.1h1v1.5h-1zM214 132.1h1v1.5h-1zM216 132.1h2v1.5h-2zM221 132.1h1v1.5h-1zM226 132.1h2v1.5h-2zM237 132.1h1v1.5h-1zM247 132.1h2v1.5h-2zM177 133.6h1v1.5h-1zM179 133.6h1v1.5h-1zM191 133.6h1v1.5h-1zM196 133.6h1v1.5h-1zM205 133.6h1v1.5h-1zM213 133.6h1v1.5h-1zM222 133.6h1v1.5h-1zM224 133.6h3v1.5h-3zM236 133.6h1v1.5h-1zM246 133.6h1v1.5h-1zM249 133.6h1v1.5h-1zM257 133.6h1v1.5h-1zM202 135.1h1v1.5h-1zM216 135.1h2v1.5h-2zM221 135.1h1v1.5h-1zM227 135.1h1v1.5h-1zM178 136.6h2v1.5h-2zM191 136.6h1v1.5h-1zM207 136.6h1v1.5h-1zM212 136.6h1v1.5h-1zM221 136.6h1v1.5h-1zM227 136.6h1v1.5h-1zM237 136.6h1v1.5h-1zM247 136.6h2v1.5h-2zM202 138.1h1v1.5h-1zM212 138.1h1v1.5h-1zM216 138.1h2v1.5h-2zM202 139.7h1v1.5h-1zM207 139.7h1v1.5h-1zM212 139.7h1v1.5h-1zM214 139.7h1v1.5h-1zM217 139.7h1v1.5h-1zM177 141.2h3v1.5h-3zM181 141.2h1v1.5h-1zM197 141.2h1v1.5h-1zM206 141.2h1v1.5h-1zM213 141.2h1v1.5h-1zM215 141.2h1v1.5h-1zM221 141.2h1v1.5h-1zM225 141.2h2v1.5h-2zM249 141.2h1v1.5h-1zM257 141.2h1v1.5h-1zM264 141.2h1v1.5h-1zM174 142.7h2v1.7h-2zM193 142.7h1v1.7h-1zM199 142.7h1v1.7h-1zM208 142.7h2v1.7h-2zM219 142.7h1v1.7h-1zM231 142.7h2v1.7h-2zM241 142.7h1v1.7h-1zM255 142.7h1v1.7h-1zM262 142.7h2v1.7h-2zM169 144.4h1v1.7h-1zM173 144.4h4v1.7h-4zM183 144.4h1v1.7h-1zM192 144.4h1v1.7h-1zM200 144.4h1v1.7h-1zM232 144.4h1v1.7h-1zM239 144.4h1v1.7h-1zM242 144.4h1v1.7h-1zM252 144.4h1v1.7h-1zM254 144.4h2v1.7h-2zM260 144.4h1v1.7h-1zM262 144.4h2v1.7h-2zM169 146.1h1v1.7h-1zM174 146.1h2v1.7h-2zM194 146.1h1v1.7h-1zM199 146.1h2v1.7h-2zM209 146.1h2v1.7h-2zM219 146.1h1v1.7h-1zM231 146.1h2v1.7h-2zM240 146.1h3v1.7h-3zM255 146.1h1v1.7h-1zM260 146.1h1v1.7h-1zM262 146.1h2v1.7h-2zM178 147.8h2v1.7h-2zM191 147.8h1v1.7h-1zM207 147.8h1v1.7h-1zM212 147.8h1v1.7h-1zM214 147.8h1v1.7h-1zM217 147.8h1v1.7h-1zM221 147.8h1v1.7h-1zM226 147.8h2v1.7h-2zM246 147.8h2v1.7h-2zM249 147.8h1v1.7h-1zM257 147.8h1v1.7h-1zM177 149.5h4v1.7h-4zM191 149.5h1v1.7h-1zM196 149.5h1v1.7h-1zM212 149.5h2v1.7h-2zM215 149.5h2v1.7h-2zM221 149.5h1v1.7h-1zM225 149.5h2v1.7h-2zM236 149.5h1v1.7h-1zM249 149.5h1v1.7h-1zM251 149.5h1v1.7h-1zM267 149.5h1v1.7h-1zM202 151.3h1v1.7h-1zM207 151.3h1v1.7h-1zM214 151.3h1v1.7h-1zM216 151.3h2v1.7h-2zM221 151.3h1v1.7h-1zM237 151.3h1v1.7h-1zM247 151.3h2v1.7h-2zM257 151.3h1v1.7h-1zM177 155.9h4v1.6h-4zM182 155.9h1v1.6h-1zM191 155.9h1v1.6h-1zM196 155.9h2v1.6h-2zM205 155.9h1v1.6h-1zM212 155.9h3v1.6h-3zM221 155.9h1v1.6h-1zM224 155.9h3v1.6h-3zM236 155.9h1v1.6h-1zM238 155.9h1v1.6h-1zM246 155.9h1v1.6h-1zM249 155.9h2v1.6h-2zM264 155.9h1v1.6h-1zM267 155.9h1v1.6h-1zM169 157.5h1v1.6h-1zM173 157.5h1v1.6h-1zM176 157.5h1v1.6h-1zM183 157.5h2v1.6h-2zM187 157.5h1v1.6h-1zM189 157.5h1v1.6h-1zM194 157.5h2v1.6h-2zM203 157.5h2v1.6h-2zM211 157.5h1v1.6h-1zM233 157.5h1v1.6h-1zM239 157.5h1v1.6h-1zM243 157.5h2v1.6h-2zM252 157.5h3v1.6h-3zM256 157.5h1v1.6h-1zM260 157.5h2v1.6h-2zM169 159.0h1v1.6h-1zM171 159.0h1v1.6h-1zM173 159.0h1v1.6h-1zM183 159.0h1v1.6h-1zM185 159.0h1v1.6h-1zM187 159.0h1v1.6h-1zM192 159.0h1v1.6h-1zM194 159.0h2v1.6h-2zM211 159.0h1v1.6h-1zM219 159.0h1v1.6h-1zM223 159.0h1v1.6h-1zM232 159.0h1v1.6h-1zM239 159.0h2v1.6h-2zM242 159.0h1v1.6h-1zM252 159.0h2v1.6h-2zM260 159.0h3v1.6h-3zM265 159.0h1v1.6h-1zM197 160.6h1v1.6h-1zM203 160.6h1v1.6h-1zM206 160.6h1v1.6h-1zM213 160.6h1v1.6h-1zM220 160.6h1v1.6h-1zM222 160.6h1v1.6h-1zM225 160.6h1v1.6h-1zM234 160.6h1v1.6h-1zM238 160.6h1v1.6h-1zM245 160.6h1v1.6h-1zM249 160.6h1v1.6h-1zM251 160.6h1v1.6h-1zM258 160.6h2v1.6h-2zM264 160.6h2v1.6h-2zM267 160.6h1v1.6h-1zM172 162.2h1v1.6h-1zM177 162.2h1v1.6h-1zM180 162.2h3v1.6h-3zM190 162.2h1v1.6h-1zM195 162.2h3v1.6h-3zM201 162.2h1v1.6h-1zM203 162.2h1v1.6h-1zM206 162.2h1v1.6h-1zM213 162.2h1v1.6h-1zM218 162.2h1v1.6h-1zM221 162.2h2v1.6h-2zM224 162.2h1v1.6h-1zM226 162.2h1v1.6h-1zM234 162.2h2v1.6h-2zM238 162.2h1v1.6h-1zM243 162.2h3v1.6h-3zM250 162.2h1v1.6h-1zM258 162.2h2v1.6h-2zM266 162.2h2v1.6h-2zM169 163.7h1v1.6h-1zM171 163.7h1v1.6h-1zM173 163.7h1v1.6h-1zM176 163.7h1v1.6h-1zM183 163.7h2v1.6h-2zM186 163.7h3v1.6h-3zM192 163.7h1v1.6h-1zM194 163.7h1v1.6h-1zM211 163.7h1v1.6h-1zM219 163.7h1v1.6h-1zM223 163.7h1v1.6h-1zM232 163.7h2v1.6h-2zM239 163.7h1v1.6h-1zM243 163.7h1v1.6h-1zM252 163.7h3v1.6h-3zM260 163.7h3v1.6h-3z"/>
<path fill="#808080" d="M107 55.8h1v1.7h-1zM109 55.8h1v1.7h-1zM118 55.8h1v1.7h-1zM120 55.8h5v1.7h-5zM128 55.8h4v1.7h-4zM133 55.8h1v1.7h-1zM135 55.8h1v1.7h-1zM147 55.8h1v1.7h-1zM160 55.8h2v1.7h-2zM165 55.8h2v1.7h-2zM107 57.5h1v1.7h-1zM118 57.5h3v1.7h-3zM124 57.5h1v1.7h-1zM128 57.5h1v1.7h-1zM130 57.5h2v1.7h-2zM134 57.5h1v1.7h-1zM136 57.5h1v1.7h-1zM160 57.5h2v1.7h-2zM165 57.5h1v1.7h-1zM125 59.2h1v1.7h-1zM128 59.2h1v1.7h-1zM130 59.2h2v1.7h-2zM133 59.2h2v1.7h-2zM165 59.2h1v1.7h-1zM47 66.4h1v1.4h-1zM52 66.4h1v1.4h-1zM59 66.4h1v1.4h-1zM62 66.4h1v1.4h-1zM70 66.4h1v1.4h-1zM72 66.4h1v1.4h-1zM86 66.4h1v1.4h-1zM89 66.4h1v1.4h-1zM93 66.4h1v1.4h-1zM95 66.4h1v1.4h-1zM99 66.4h5v1.4h-5zM105 66.4h2v1.4h-2zM108 66.4h2v1.4h-2zM113 66.4h1v1.4h-1zM122 66.4h1v1.4h-1zM126 66.4h1v1.4h-1zM129 66.4h2v1.4h-2zM136 66.4h2v1.4h-2zM141 66.4h1v1.4h-1zM143 66.4h1v1.4h-1zM146 66.4h1v1.4h-1zM148 66.4h1v1.4h-1zM153 66.4h1v1.4h-1zM156 66.4h1v1.4h-1zM167 66.4h1v1.4h-1zM46 67.8h3v1.4h-3zM51 67.8h1v1.4h-1zM56 67.8h1v1.4h-1zM60 67.8h1v1.4h-1zM63 67.8h1v1.4h-1zM72 67.8h1v1.4h-1zM74 67.8h1v1.4h-1zM84 67.8h1v1.4h-1zM87 67.8h3v1.4h-3zM91 67.8h1v1.4h-1zM94 67.8h3v1.4h-3zM99 67.8h2v1.4h-2zM105 67.8h1v1.4h-1zM109 67.8h1v1.4h-1zM117 67.8h1v1.4h-1zM129 67.8h1v1.4h-1zM132 67.8h1v1.4h-1zM138 67.8h1v1.4h-1zM140 67.8h1v1.4h-1zM145 67.8h2v1.4h-2zM148 67.8h1v1.4h-1zM151 67.8h2v1.4h-2zM157 67.8h1v1.4h-1zM159 67.8h1v1.4h-1zM162 67.8h1v1.4h-1zM47 69.2h1v1.4h-1zM52 69.2h1v1.4h-1zM60 69.2h1v1.4h-1zM62 69.2h2v1.4h-2zM71 69.2h2v1.4h-2zM74 69.2h1v1.4h-1zM86 69.2h1v1.4h-1zM88 69.2h2v1.4h-2zM91 69.2h1v1.4h-1zM94 69.2h4v1.4h-4zM99 69.2h2v1.4h-2zM103 69.2h1v1.4h-1zM105 69.2h2v1.4h-2zM108 69.2h2v1.4h-2zM111 69.2h3v1.4h-3zM119 69.2h1v1.4h-1zM123 69.2h1v1.4h-1zM126 69.2h1v1.4h-1zM143 69.2h1v1.4h-1zM145 69.2h2v1.4h-2zM154 69.2h1v1.4h-1zM156 69.2h1v1.4h-1zM162 69.2h1v1.4h-1zM164 69.2h1v1.4h-1zM75 74.7h1v1.4h-1zM77 74.7h1v1.4h-1zM158 74.7h1v1.4h-1zM73 77.5h1v1.4h-1zM75 77.5h1v1.4h-1zM77 77.5h1v1.4h-1zM79 77.5h1v1.4h-1zM150 77.5h1v1.4h-1zM158 77.5h1v1.4h-1zM150 78.8h1v1.4h-1zM158 78.8h1v1.4h-1zM45 80.2h1v1.4h-1zM49 80.2h2v1.4h-2zM53 80.2h2v1.4h-2zM64 80.2h2v1.4h-2zM73 80.2h1v1.4h-1zM75 80.2h2v1.4h-2zM78 80.2h3v1.4h-3zM90 80.2h1v1.4h-1zM115 80.2h2v1.4h-2zM150 80.2h2v1.4h-2zM58 81.6h1v1.6h-1zM107 81.6h1v1.6h-1zM119 81.6h1v1.6h-1zM121 81.6h1v1.6h-1zM125 81.6h1v1.6h-1zM128 81.6h1v1.6h-1zM130 81.6h2v1.6h-2zM133 81.6h2v1.6h-2zM136 81.6h1v1.6h-1zM144 81.6h1v1.6h-1zM160 81.6h1v1.6h-1zM165 81.6h2v1.6h-2zM81 83.2h1v1.6h-1zM46 93.6h1v1.5h-1zM51 93.6h1v1.5h-1zM53 93.6h1v1.5h-1zM55 93.6h1v1.5h-1zM65 93.6h5v1.5h-5zM74 93.6h1v1.5h-1zM80 93.6h1v1.5h-1zM84 93.6h2v1.5h-2zM87 93.6h1v1.5h-1zM91 93.6h1v1.5h-1zM98 93.6h1v1.5h-1zM104 93.6h2v1.5h-2zM117 93.6h1v1.5h-1zM127 93.6h1v1.5h-1zM132 93.6h1v1.5h-1zM139 93.6h1v1.5h-1zM145 93.6h1v1.5h-1zM151 93.6h2v1.5h-2zM155 93.6h1v1.5h-1zM159 93.6h1v1.5h-1zM163 93.6h2v1.5h-2zM50 95.1h1v1.5h-1zM54 95.1h1v1.5h-1zM75 95.1h1v1.5h-1zM77 95.1h1v1.5h-1zM79 95.1h1v1.5h-1zM115 95.1h2v1.5h-2zM149 95.1h2v1.5h-2zM158 95.1h1v1.5h-1zM45 96.6h1v1.5h-1zM49 96.6h1v1.5h-1zM64 96.6h1v1.5h-1zM73 96.6h1v1.5h-1zM75 96.6h6v1.5h-6zM149 96.6h3v1.5h-3zM158 96.6h1v1.5h-1zM45 98.1h1v1.5h-1zM49 98.1h1v1.5h-1zM64 98.1h1v1.5h-1zM73 98.1h1v1.5h-1zM78 98.1h2v1.5h-2zM92 98.1h1v1.5h-1zM115 98.1h1v1.5h-1zM149 98.1h1v1.5h-1zM61 107.9h1v1.5h-1zM81 107.9h1v1.5h-1zM120 107.9h1v1.5h-1zM125 107.9h1v1.5h-1zM134 107.9h1v1.5h-1zM165 107.9h1v1.5h-1zM61 109.4h1v1.5h-1zM82 109.4h2v1.5h-2zM101 109.4h1v1.5h-1zM107 109.4h1v1.5h-1zM119 109.4h2v1.5h-2zM122 109.4h1v1.5h-1zM125 109.4h1v1.5h-1zM128 109.4h1v1.5h-1zM133 109.4h1v1.5h-1zM135 109.4h1v1.5h-1zM144 109.4h1v1.5h-1zM153 109.4h1v1.5h-1zM160 109.4h2v1.5h-2zM165 109.4h2v1.5h-2zM57 111.0h2v1.5h-2zM62 111.0h1v1.5h-1zM71 111.0h1v1.5h-1zM82 111.0h2v1.5h-2zM93 111.0h1v1.5h-1zM97 111.0h1v1.5h-1zM101 111.0h2v1.5h-2zM107 111.0h1v1.5h-1zM118 111.0h6v1.5h-6zM125 111.0h1v1.5h-1zM128 111.0h1v1.5h-1zM130 111.0h1v1.5h-1zM135 111.0h3v1.5h-3zM144 111.0h1v1.5h-1zM153 111.0h1v1.5h-1zM160 111.0h2v1.5h-2zM165 111.0h2v1.5h-2zM47 112.5h1v1.2h-1zM51 112.5h1v1.2h-1zM56 112.5h1v1.2h-1zM59 112.5h2v1.2h-2zM62 112.5h1v1.2h-1zM69 112.5h1v1.2h-1zM72 112.5h1v1.2h-1zM74 112.5h1v1.2h-1zM84 112.5h1v1.2h-1zM86 112.5h2v1.2h-2zM89 112.5h1v1.2h-1zM91 112.5h1v1.2h-1zM95 112.5h2v1.2h-2zM98 112.5h1v1.2h-1zM100 112.5h1v1.2h-1zM103 112.5h3v1.2h-3zM108 112.5h1v1.2h-1zM111 112.5h3v1.2h-3zM117 112.5h1v1.2h-1zM129 112.5h1v1.2h-1zM140 112.5h1v1.2h-1zM145 112.5h2v1.2h-2zM148 112.5h1v1.2h-1zM155 112.5h2v1.2h-2zM162 112.5h1v1.2h-1zM46 113.8h1v1.2h-1zM51 113.8h1v1.2h-1zM56 113.8h1v1.2h-1zM60 113.8h1v1.2h-1zM63 113.8h1v1.2h-1zM66 113.8h1v1.2h-1zM68 113.8h1v1.2h-1zM70 113.8h1v1.2h-1zM84 113.8h1v1.2h-1zM86 113.8h4v1.2h-4zM94 113.8h3v1.2h-3zM98 113.8h1v1.2h-1zM100 113.8h1v1.2h-1zM103 113.8h1v1.2h-1zM105 113.8h1v1.2h-1zM108 113.8h2v1.2h-2zM111 113.8h2v1.2h-2zM117 113.8h1v1.2h-1zM132 113.8h1v1.2h-1zM140 113.8h1v1.2h-1zM145 113.8h2v1.2h-2zM148 113.8h1v1.2h-1zM152 113.8h1v1.2h-1zM156 113.8h2v1.2h-2zM159 113.8h1v1.2h-1zM162 113.8h3v1.2h-3zM61 115.0h1v1.3h-1zM81 115.0h1v1.3h-1zM125 115.0h1v1.3h-1zM133 115.0h2v1.3h-2zM61 116.3h1v1.3h-1zM81 116.3h1v1.3h-1zM125 116.3h1v1.3h-1zM134 116.3h1v1.3h-1zM165 116.3h2v1.3h-2zM61 117.6h1v1.3h-1zM81 117.6h1v1.3h-1zM119 117.6h1v1.3h-1zM125 117.6h1v1.3h-1zM134 117.6h1v1.3h-1zM136 117.6h1v1.3h-1zM161 117.6h1v1.3h-1zM165 117.6h1v1.3h-1zM45 124.9h1v1.5h-1zM77 124.9h1v1.5h-1zM149 124.9h2v1.5h-2zM158 124.9h1v1.5h-1zM49 126.4h1v1.5h-1zM54 126.4h1v1.5h-1zM79 126.4h1v1.5h-1zM150 126.4h1v1.5h-1zM54 127.9h1v1.5h-1zM77 127.9h1v1.5h-1zM150 127.9h1v1.5h-1zM158 127.9h1v1.5h-1zM45 129.3h1v1.5h-1zM49 129.3h2v1.5h-2zM53 129.3h2v1.5h-2zM64 129.3h2v1.5h-2zM73 129.3h1v1.5h-1zM76 129.3h1v1.5h-1zM78 129.3h3v1.5h-3zM84 129.3h2v1.5h-2zM115 129.3h2v1.5h-2zM138 129.3h1v1.5h-1zM46 130.8h1v1.6h-1zM48 130.8h1v1.6h-1zM51 130.8h1v1.6h-1zM53 130.8h1v1.6h-1zM55 130.8h2v1.6h-2zM60 130.8h1v1.6h-1zM63 130.8h1v1.6h-1zM68 130.8h1v1.6h-1zM80 130.8h1v1.6h-1zM84 130.8h2v1.6h-2zM88 130.8h1v1.6h-1zM91 130.8h1v1.6h-1zM98 130.8h1v1.6h-1zM104 130.8h1v1.6h-1zM111 130.8h1v1.6h-1zM114 130.8h1v1.6h-1zM117 130.8h1v1.6h-1zM127 130.8h1v1.6h-1zM132 130.8h1v1.6h-1zM138 130.8h2v1.6h-2zM151 130.8h2v1.6h-2zM154 130.8h2v1.6h-2zM159 130.8h1v1.6h-1zM163 130.8h1v1.6h-1zM77 132.4h1v1.6h-1zM158 132.4h1v1.6h-1zM46 134.0h1v1.6h-1zM48 134.0h1v1.6h-1zM50 134.0h1v1.6h-1zM53 134.0h1v1.6h-1zM55 134.0h1v1.6h-1zM60 134.0h1v1.6h-1zM63 134.0h1v1.6h-1zM65 134.0h4v1.6h-4zM74 134.0h1v1.6h-1zM80 134.0h1v1.6h-1zM84 134.0h2v1.6h-2zM87 134.0h5v1.6h-5zM98 134.0h1v1.6h-1zM114 134.0h1v1.6h-1zM127 134.0h1v1.6h-1zM132 134.0h1v1.6h-1zM138 134.0h2v1.6h-2zM154 134.0h2v1.6h-2zM157 134.0h1v1.6h-1zM159 134.0h1v1.6h-1zM162 134.0h2v1.6h-2zM49 135.5h1v1.6h-1zM54 135.5h1v1.6h-1zM64 135.5h2v1.6h-2zM73 135.5h1v1.6h-1zM75 135.5h2v1.6h-2zM78 135.5h2v1.6h-2zM115 135.5h1v1.6h-1zM149 135.5h1v1.6h-1zM47 137.1h1v1.6h-1zM51 137.1h1v1.6h-1zM55 137.1h2v1.6h-2zM60 137.1h1v1.6h-1zM69 137.1h1v1.6h-1zM87 137.1h1v1.6h-1zM89 137.1h1v1.6h-1zM91 137.1h1v1.6h-1zM94 137.1h1v1.6h-1zM98 137.1h3v1.6h-3zM106 137.1h1v1.6h-1zM109 137.1h5v1.6h-5zM117 137.1h1v1.6h-1zM126 137.1h2v1.6h-2zM132 137.1h1v1.6h-1zM137 137.1h1v1.6h-1zM140 137.1h1v1.6h-1zM143 137.1h1v1.6h-1zM145 137.1h2v1.6h-2zM148 137.1h1v1.6h-1zM152 137.1h1v1.6h-1zM154 137.1h1v1.6h-1zM156 137.1h2v1.6h-2zM46 138.7h1v1.6h-1zM48 138.7h1v1.6h-1zM55 138.7h1v1.6h-1zM63 138.7h1v1.6h-1zM65 138.7h2v1.6h-2zM68 138.7h2v1.6h-2zM74 138.7h1v1.6h-1zM78 138.7h1v1.6h-1zM80 138.7h1v1.6h-1zM84 138.7h1v1.6h-1zM87 138.7h2v1.6h-2zM91 138.7h2v1.6h-2zM94 138.7h1v1.6h-1zM96 138.7h1v1.6h-1zM98 138.7h1v1.6h-1zM104 138.7h1v1.6h-1zM114 138.7h1v1.6h-1zM117 138.7h1v1.6h-1zM127 138.7h1v1.6h-1zM132 138.7h1v1.6h-1zM138 138.7h3v1.6h-3zM145 138.7h1v1.6h-1zM151 138.7h2v1.6h-2zM154 138.7h2v1.6h-2zM157 138.7h1v1.6h-1zM159 138.7h1v1.6h-1zM162 138.7h3v1.6h-3zM49 140.3h2v1.6h-2zM53 140.3h1v1.6h-1zM64 140.3h1v1.6h-1zM66 140.3h1v1.6h-1zM68 140.3h1v1.6h-1zM73 140.3h1v1.6h-1zM80 140.3h1v1.6h-1zM84 140.3h2v1.6h-2zM90 140.3h1v1.6h-1zM92 140.3h1v1.6h-1zM104 140.3h1v1.6h-1zM116 140.3h1v1.6h-1zM138 140.3h1v1.6h-1zM151 140.3h2v1.6h-2zM159 140.3h1v1.6h-1zM48 142.0h1v1.6h-1zM51 142.0h1v1.6h-1zM55 142.0h1v1.6h-1zM63 142.0h1v1.6h-1zM66 142.0h1v1.6h-1zM68 142.0h2v1.6h-2zM74 142.0h1v1.6h-1zM84 142.0h1v1.6h-1zM88 142.0h2v1.6h-2zM91 142.0h1v1.6h-1zM100 142.0h1v1.6h-1zM104 142.0h1v1.6h-1zM111 142.0h1v1.6h-1zM117 142.0h1v1.6h-1zM127 142.0h1v1.6h-1zM132 142.0h1v1.6h-1zM140 142.0h1v1.6h-1zM143 142.0h1v1.6h-1zM145 142.0h1v1.6h-1zM154 142.0h2v1.6h-2zM157 142.0h1v1.6h-1zM162 142.0h1v1.6h-1zM164 142.0h1v1.6h-1zM134 145.1h1v1.5h-1zM54 146.6h1v1.5h-1zM73 146.6h1v1.5h-1zM77 146.6h1v1.5h-1zM115 146.6h1v1.5h-1zM149 146.6h2v1.5h-2zM158 146.6h1v1.5h-1zM46 148.1h1v1.5h-1zM48 148.1h1v1.5h-1zM53 148.1h1v1.5h-1zM56 148.1h1v1.5h-1zM63 148.1h1v1.5h-1zM65 148.1h1v1.5h-1zM67 148.1h2v1.5h-2zM74 148.1h1v1.5h-1zM84 148.1h1v1.5h-1zM88 148.1h1v1.5h-1zM92 148.1h1v1.5h-1zM98 148.1h1v1.5h-1zM127 148.1h1v1.5h-1zM132 148.1h1v1.5h-1zM138 148.1h3v1.5h-3zM151 148.1h1v1.5h-1zM154 148.1h2v1.5h-2zM159 148.1h1v1.5h-1zM162 148.1h3v1.5h-3zM45 149.6h1v1.5h-1zM49 149.6h2v1.5h-2zM53 149.6h1v1.5h-1zM64 149.6h1v1.5h-1zM67 149.6h1v1.5h-1zM73 149.6h1v1.5h-1zM75 149.6h1v1.5h-1zM80 149.6h1v1.5h-1zM84 149.6h2v1.5h-2zM92 149.6h1v1.5h-1zM104 149.6h1v1.5h-1zM116 149.6h1v1.5h-1zM151 149.6h1v1.5h-1zM155 149.6h1v1.5h-1zM159 149.6h1v1.5h-1zM163 149.6h1v1.5h-1zM75 151.0h1v1.5h-1zM77 151.0h1v1.5h-1zM158 151.0h1v1.5h-1zM49 152.5h1v1.5h-1zM54 152.5h1v1.5h-1zM64 152.5h1v1.5h-1zM77 152.5h1v1.5h-1zM149 152.5h2v1.5h-2zM158 152.5h1v1.5h-1zM58 156.0h1v1.5h-1zM61 156.0h1v1.5h-1zM81 156.0h1v1.5h-1zM125 156.0h1v1.5h-1zM165 156.0h1v1.5h-1zM52 157.5h1v1.5h-1zM57 157.5h1v1.5h-1zM60 157.5h1v1.5h-1zM69 157.5h1v1.5h-1zM71 157.5h2v1.5h-2zM83 157.5h1v1.5h-1zM93 157.5h1v1.5h-1zM97 157.5h1v1.5h-1zM99 157.5h1v1.5h-1zM101 157.5h3v1.5h-3zM107 157.5h1v1.5h-1zM109 157.5h1v1.5h-1zM113 157.5h1v1.5h-1zM118 157.5h1v1.5h-1zM120 157.5h5v1.5h-5zM126 157.5h1v1.5h-1zM129 157.5h2v1.5h-2zM135 157.5h3v1.5h-3zM141 157.5h3v1.5h-3zM146 157.5h2v1.5h-2zM153 157.5h1v1.5h-1zM160 157.5h1v1.5h-1zM166 157.5h2v1.5h-2zM57 158.9h2v1.5h-2zM82 158.9h2v1.5h-2zM97 158.9h1v1.5h-1zM101 158.9h2v1.5h-2zM107 158.9h1v1.5h-1zM118 158.9h5v1.5h-5zM126 158.9h1v1.5h-1zM128 158.9h4v1.5h-4zM135 158.9h2v1.5h-2zM142 158.9h1v1.5h-1zM144 158.9h1v1.5h-1zM147 158.9h1v1.5h-1zM153 158.9h1v1.5h-1zM161 158.9h1v1.5h-1zM165 158.9h2v1.5h-2zM58 160.4h1v1.5h-1zM120 160.4h1v1.5h-1zM125 160.4h1v1.5h-1zM128 160.4h1v1.5h-1zM134 160.4h1v1.5h-1zM161 160.4h1v1.5h-1zM165 160.4h1v1.5h-1zM61 161.9h1v1.5h-1zM81 161.9h1v1.5h-1zM119 161.9h1v1.5h-1zM125 161.9h1v1.5h-1zM134 161.9h1v1.5h-1zM161 161.9h1v1.5h-1zM57 163.4h3v1.5h-3zM62 163.4h1v1.5h-1zM71 163.4h1v1.5h-1zM82 163.4h2v1.5h-2zM93 163.4h1v1.5h-1zM97 163.4h1v1.5h-1zM101 163.4h3v1.5h-3zM110 163.4h1v1.5h-1zM118 163.4h2v1.5h-2zM122 163.4h1v1.5h-1zM124 163.4h1v1.5h-1zM126 163.4h1v1.5h-1zM128 163.4h1v1.5h-1zM130 163.4h2v1.5h-2zM135 163.4h1v1.5h-1zM141 163.4h3v1.5h-3zM145 163.4h3v1.5h-3zM153 163.4h1v1.5h-1zM167 163.4h1v1.5h-1zM52 164.8h1v1.5h-1zM57 164.8h1v1.5h-1zM59 164.8h1v1.5h-1zM71 164.8h1v1.5h-1zM82 164.8h2v1.5h-2zM93 164.8h1v1.5h-1zM97 164.8h1v1.5h-1zM99 164.8h1v1.5h-1zM101 164.8h3v1.5h-3zM107 164.8h3v1.5h-3zM111 164.8h1v1.5h-1zM118 164.8h1v1.5h-1zM120 164.8h4v1.5h-4zM129 164.8h3v1.5h-3zM135 164.8h2v1.5h-2zM141 164.8h4v1.5h-4zM146 164.8h2v1.5h-2zM153 164.8h1v1.5h-1zM161 164.8h1v1.5h-1zM166 164.8h1v1.5h-1zM158 182.4h1v1.7h-1zM169 56.0h1v1.7h-1zM171 56.0h1v1.7h-1zM176 56.0h1v1.7h-1zM183 56.0h1v1.7h-1zM185 56.0h1v1.7h-1zM188 56.0h1v1.7h-1zM192 56.0h1v1.7h-1zM194 56.0h2v1.7h-2zM200 56.0h1v1.7h-1zM204 56.0h1v1.7h-1zM211 56.0h1v1.7h-1zM223 56.0h1v1.7h-1zM230 56.0h1v1.7h-1zM232 56.0h1v1.7h-1zM239 56.0h2v1.7h-2zM242 56.0h1v1.7h-1zM252 56.0h3v1.7h-3zM260 56.0h3v1.7h-3zM173 57.7h4v1.7h-4zM192 57.7h1v1.7h-1zM194 57.7h1v1.7h-1zM199 57.7h2v1.7h-2zM210 57.7h2v1.7h-2zM230 57.7h1v1.7h-1zM232 57.7h2v1.7h-2zM239 57.7h2v1.7h-2zM242 57.7h1v1.7h-1zM254 57.7h2v1.7h-2zM260 57.7h1v1.7h-1zM262 57.7h2v1.7h-2zM168 59.4h1v1.7h-1zM175 59.4h1v1.7h-1zM208 59.4h2v1.7h-2zM231 59.4h1v1.7h-1zM172 66.2h1v1.9h-1zM181 66.2h1v1.9h-1zM185 66.2h3v1.9h-3zM189 66.2h2v1.9h-2zM195 66.2h1v1.9h-1zM198 66.2h1v1.9h-1zM203 66.2h2v1.9h-2zM211 66.2h1v1.9h-1zM215 66.2h1v1.9h-1zM220 66.2h1v1.9h-1zM222 66.2h2v1.9h-2zM229 66.2h1v1.9h-1zM233 66.2h1v1.9h-1zM243 66.2h2v1.9h-2zM252 66.2h2v1.9h-2zM265 66.2h1v1.9h-1zM169 68.1h1v1.8h-1zM171 68.1h1v1.8h-1zM173 68.1h1v1.8h-1zM184 68.1h1v1.8h-1zM187 68.1h2v1.8h-2zM192 68.1h1v1.8h-1zM194 68.1h1v1.8h-1zM200 68.1h2v1.8h-2zM211 68.1h1v1.8h-1zM220 68.1h1v1.8h-1zM223 68.1h1v1.8h-1zM230 68.1h1v1.8h-1zM233 68.1h1v1.8h-1zM252 68.1h2v1.8h-2zM260 68.1h2v1.8h-2zM202 69.9h1v1.5h-1zM216 69.9h1v1.5h-1zM257 69.9h1v1.5h-1zM259 69.9h1v1.5h-1zM264 69.9h1v1.5h-1zM267 69.9h1v1.5h-1zM202 71.4h1v1.5h-1zM214 71.4h1v1.5h-1zM216 71.4h2v1.5h-2zM227 71.4h1v1.5h-1zM259 71.4h1v1.5h-1zM266 71.4h1v1.5h-1zM267 72.8h1v1.5h-1zM257 74.3h1v1.5h-1zM264 74.3h1v1.5h-1zM205 75.7h1v1.5h-1zM207 75.7h1v1.5h-1zM212 75.7h1v1.5h-1zM214 75.7h1v1.5h-1zM217 75.7h1v1.5h-1zM221 75.7h1v1.5h-1zM226 75.7h2v1.5h-2zM256 75.7h1v1.5h-1zM258 75.7h1v1.5h-1zM265 75.7h2v1.5h-2zM202 77.2h1v1.5h-1zM214 77.2h1v1.5h-1zM216 77.2h2v1.5h-2zM259 77.2h1v1.5h-1zM267 77.2h1v1.5h-1zM191 78.6h1v1.5h-1zM207 78.6h1v1.5h-1zM214 78.6h1v1.5h-1zM216 78.6h2v1.5h-2zM227 78.6h1v1.5h-1zM258 78.6h2v1.5h-2zM264 78.6h1v1.5h-1zM266 78.6h2v1.5h-2zM177 80.1h1v1.7h-1zM179 80.1h2v1.7h-2zM228 80.1h1v1.7h-1zM236 80.1h2v1.7h-2zM247 80.1h1v1.7h-1zM193 81.8h1v1.7h-1zM199 81.8h1v1.7h-1zM208 81.8h2v1.7h-2zM248 81.8h1v1.7h-1zM255 81.8h1v1.7h-1zM193 83.5h1v1.7h-1zM199 83.5h1v1.7h-1zM208 83.5h3v1.7h-3zM255 83.5h1v1.7h-1zM263 83.5h1v1.7h-1zM196 88.8h1v1.5h-1zM205 88.8h1v1.5h-1zM207 88.8h1v1.5h-1zM214 88.8h1v1.5h-1zM216 88.8h2v1.5h-2zM221 88.8h1v1.5h-1zM227 88.8h1v1.5h-1zM178 90.3h3v1.5h-3zM191 90.3h1v1.5h-1zM196 90.3h1v1.5h-1zM202 90.3h1v1.5h-1zM205 90.3h1v1.5h-1zM207 90.3h1v1.5h-1zM212 90.3h1v1.5h-1zM214 90.3h1v1.5h-1zM217 90.3h1v1.5h-1zM221 90.3h1v1.5h-1zM225 90.3h3v1.5h-3zM202 91.7h1v1.5h-1zM202 93.2h1v1.5h-1zM212 93.2h1v1.5h-1zM214 93.2h1v1.5h-1zM216 93.2h2v1.5h-2zM221 93.2h1v1.5h-1zM202 94.6h1v1.5h-1zM202 96.1h1v1.5h-1zM217 97.5h1v1.5h-1zM231 100.8h1v1.4h-1zM241 100.8h1v1.4h-1zM231 102.2h1v1.4h-1zM241 102.2h1v1.4h-1zM231 103.6h1v1.4h-1zM241 103.6h1v1.4h-1zM255 103.6h1v1.4h-1zM232 105.0h2v1.4h-2zM239 105.0h2v1.4h-2zM242 105.0h1v1.4h-1zM253 105.0h3v1.4h-3zM262 105.0h2v1.4h-2zM231 106.4h2v1.4h-2zM240 106.4h3v1.4h-3zM263 106.4h1v1.4h-1zM172 110.7h1v1.4h-1zM181 110.7h3v1.4h-3zM185 110.7h3v1.4h-3zM189 110.7h1v1.4h-1zM195 110.7h1v1.4h-1zM197 110.7h2v1.4h-2zM201 110.7h1v1.4h-1zM203 110.7h2v1.4h-2zM215 110.7h1v1.4h-1zM218 110.7h1v1.4h-1zM220 110.7h1v1.4h-1zM222 110.7h1v1.4h-1zM172 112.1h2v1.4h-2zM181 112.1h1v1.4h-1zM183 112.1h2v1.4h-2zM186 112.1h2v1.4h-2zM195 112.1h1v1.4h-1zM197 112.1h2v1.4h-2zM201 112.1h1v1.4h-1zM203 112.1h2v1.4h-2zM177 113.6h1v1.4h-1zM182 113.6h1v1.4h-1zM185 113.6h1v1.4h-1zM190 113.6h1v1.4h-1zM195 113.6h1v1.4h-1zM197 113.6h1v1.4h-1zM206 113.6h1v1.4h-1zM213 113.6h1v1.4h-1zM215 113.6h1v1.4h-1zM168 115.0h1v1.8h-1zM170 115.0h1v1.8h-1zM193 115.0h1v1.8h-1zM199 115.0h1v1.8h-1zM208 115.0h3v1.8h-3zM219 115.0h1v1.8h-1zM228 115.0h1v1.8h-1zM236 115.0h1v1.8h-1zM246 115.0h1v1.8h-1zM251 115.0h1v1.8h-1zM259 115.0h1v1.8h-1zM264 115.0h1v1.8h-1zM168 116.8h1v1.8h-1zM170 116.8h1v1.8h-1zM174 116.8h1v1.8h-1zM176 116.8h1v1.8h-1zM193 116.8h1v1.8h-1zM199 116.8h1v1.8h-1zM208 116.8h1v1.8h-1zM210 116.8h1v1.8h-1zM236 116.8h1v1.8h-1zM238 116.8h1v1.8h-1zM245 116.8h1v1.8h-1zM249 116.8h3v1.8h-3zM264 116.8h1v1.8h-1zM266 116.8h2v1.8h-2zM177 126.0h4v1.5h-4zM191 126.0h1v1.5h-1zM196 126.0h2v1.5h-2zM205 126.0h2v1.5h-2zM212 126.0h2v1.5h-2zM226 126.0h1v1.5h-1zM237 126.0h1v1.5h-1zM257 126.0h1v1.5h-1zM179 127.5h1v1.5h-1zM196 127.5h1v1.5h-1zM207 127.5h1v1.5h-1zM212 127.5h1v1.5h-1zM214 127.5h1v1.5h-1zM216 127.5h2v1.5h-2zM221 127.5h1v1.5h-1zM237 127.5h1v1.5h-1zM248 127.5h1v1.5h-1zM177 129.0h1v1.5h-1zM180 129.0h1v1.5h-1zM182 129.0h1v1.5h-1zM190 129.0h1v1.5h-1zM196 129.0h2v1.5h-2zM206 129.0h1v1.5h-1zM212 129.0h2v1.5h-2zM215 129.0h1v1.5h-1zM224 129.0h2v1.5h-2zM236 129.0h1v1.5h-1zM246 129.0h1v1.5h-1zM249 129.0h1v1.5h-1zM257 129.0h1v1.5h-1zM177 130.6h2v1.5h-2zM191 130.6h1v1.5h-1zM196 130.6h1v1.5h-1zM205 130.6h1v1.5h-1zM207 130.6h1v1.5h-1zM212 130.6h1v1.5h-1zM217 130.6h1v1.5h-1zM221 130.6h1v1.5h-1zM227 130.6h1v1.5h-1zM237 130.6h1v1.5h-1zM247 130.6h1v1.5h-1zM177 132.1h1v1.5h-1zM180 132.1h1v1.5h-1zM197 132.1h1v1.5h-1zM205 132.1h2v1.5h-2zM213 132.1h1v1.5h-1zM220 132.1h1v1.5h-1zM224 132.1h2v1.5h-2zM246 132.1h1v1.5h-1zM249 132.1h1v1.5h-1zM257 132.1h1v1.5h-1zM264 132.1h1v1.5h-1zM171 133.6h2v1.5h-2zM181 133.6h3v1.5h-3zM185 133.6h3v1.5h-3zM189 133.6h2v1.5h-2zM194 133.6h2v1.5h-2zM197 133.6h2v1.5h-2zM201 133.6h1v1.5h-1zM203 133.6h2v1.5h-2zM206 133.6h1v1.5h-1zM215 133.6h1v1.5h-1zM218 133.6h1v1.5h-1zM220 133.6h1v1.5h-1zM235 133.6h1v1.5h-1zM238 133.6h1v1.5h-1zM250 133.6h2v1.5h-2zM258 133.6h2v1.5h-2zM267 133.6h1v1.5h-1zM177 135.1h4v1.5h-4zM191 135.1h1v1.5h-1zM205 135.1h1v1.5h-1zM207 135.1h1v1.5h-1zM212 135.1h3v1.5h-3zM237 135.1h1v1.5h-1zM247 135.1h2v1.5h-2zM257 135.1h1v1.5h-1zM177 136.6h1v1.5h-1zM180 136.6h1v1.5h-1zM182 136.6h1v1.5h-1zM186 136.6h1v1.5h-1zM196 136.6h2v1.5h-2zM205 136.6h1v1.5h-1zM213 136.6h1v1.5h-1zM215 136.6h1v1.5h-1zM224 136.6h3v1.5h-3zM236 136.6h1v1.5h-1zM246 136.6h1v1.5h-1zM249 136.6h1v1.5h-1zM257 136.6h1v1.5h-1zM259 136.6h1v1.5h-1zM178 138.1h2v1.5h-2zM191 138.1h1v1.5h-1zM196 138.1h1v1.5h-1zM205 138.1h1v1.5h-1zM207 138.1h1v1.5h-1zM213 138.1h2v1.5h-2zM221 138.1h1v1.5h-1zM225 138.1h3v1.5h-3zM237 138.1h1v1.5h-1zM248 138.1h1v1.5h-1zM257 138.1h1v1.5h-1zM177 139.7h4v1.5h-4zM191 139.7h1v1.5h-1zM196 139.7h1v1.5h-1zM205 139.7h1v1.5h-1zM221 139.7h1v1.5h-1zM226 139.7h2v1.5h-2zM237 139.7h1v1.5h-1zM247 139.7h2v1.5h-2zM257 139.7h1v1.5h-1zM172 141.2h1v1.5h-1zM182 141.2h1v1.5h-1zM184 141.2h4v1.5h-4zM189 141.2h2v1.5h-2zM195 141.2h1v1.5h-1zM198 141.2h1v1.5h-1zM201 141.2h1v1.5h-1zM203 141.2h2v1.5h-2zM218 141.2h1v1.5h-1zM220 141.2h1v1.5h-1zM222 141.2h1v1.5h-1zM224 141.2h1v1.5h-1zM234 141.2h3v1.5h-3zM238 141.2h1v1.5h-1zM245 141.2h2v1.5h-2zM250 141.2h2v1.5h-2zM258 141.2h2v1.5h-2zM266 141.2h2v1.5h-2zM170 142.7h1v1.7h-1zM168 144.4h1v1.7h-1zM170 144.4h1v1.7h-1zM193 144.4h1v1.7h-1zM199 144.4h1v1.7h-1zM208 144.4h3v1.7h-3zM219 144.4h1v1.7h-1zM231 144.4h1v1.7h-1zM241 144.4h1v1.7h-1zM168 146.1h1v1.7h-1zM170 146.1h1v1.7h-1zM193 146.1h1v1.7h-1zM208 146.1h1v1.7h-1zM177 147.8h1v1.7h-1zM180 147.8h1v1.7h-1zM182 147.8h1v1.7h-1zM196 147.8h2v1.7h-2zM203 147.8h1v1.7h-1zM205 147.8h2v1.7h-2zM213 147.8h1v1.7h-1zM215 147.8h1v1.7h-1zM225 147.8h1v1.7h-1zM234 147.8h3v1.7h-3zM238 147.8h1v1.7h-1zM250 147.8h2v1.7h-2zM264 147.8h1v1.7h-1zM266 147.8h2v1.7h-2zM181 149.5h2v1.7h-2zM185 149.5h1v1.7h-1zM190 149.5h1v1.7h-1zM195 149.5h1v1.7h-1zM197 149.5h2v1.7h-2zM201 149.5h1v1.7h-1zM203 149.5h1v1.7h-1zM206 149.5h1v1.7h-1zM218 149.5h1v1.7h-1zM220 149.5h1v1.7h-1zM222 149.5h1v1.7h-1zM224 149.5h1v1.7h-1zM234 149.5h2v1.7h-2zM238 149.5h1v1.7h-1zM246 149.5h1v1.7h-1zM250 149.5h1v1.7h-1zM256 149.5h1v1.7h-1zM259 149.5h1v1.7h-1zM264 149.5h3v1.7h-3zM177 151.3h4v1.7h-4zM191 151.3h1v1.7h-1zM205 151.3h1v1.7h-1zM212 151.3h2v1.7h-2zM224 151.3h4v1.7h-4zM236 151.3h1v1.7h-1zM238 151.3h1v1.7h-1zM246 151.3h1v1.7h-1zM249 151.3h3v1.7h-3zM259 151.3h1v1.7h-1zM264 151.3h1v1.7h-1zM266 151.3h2v1.7h-2zM172 155.9h1v1.6h-1zM181 155.9h1v1.6h-1zM184 155.9h2v1.6h-2zM189 155.9h2v1.6h-2zM195 155.9h1v1.6h-1zM198 155.9h1v1.6h-1zM201 155.9h1v1.6h-1zM206 155.9h1v1.6h-1zM215 155.9h1v1.6h-1zM220 155.9h1v1.6h-1zM222 155.9h1v1.6h-1zM234 155.9h2v1.6h-2zM244 155.9h2v1.6h-2zM251 155.9h1v1.6h-1zM256 155.9h1v1.6h-1zM258 155.9h2v1.6h-2zM265 155.9h2v1.6h-2zM174 157.5h2v1.6h-2zM188 157.5h1v1.6h-1zM192 157.5h2v1.6h-2zM199 157.5h2v1.6h-2zM210 157.5h1v1.6h-1zM219 157.5h1v1.6h-1zM223 157.5h1v1.6h-1zM232 157.5h1v1.6h-1zM240 157.5h1v1.6h-1zM242 157.5h1v1.6h-1zM255 157.5h1v1.6h-1zM262 157.5h2v1.6h-2zM174 159.0h3v1.6h-3zM188 159.0h1v1.6h-1zM193 159.0h1v1.6h-1zM200 159.0h1v1.6h-1zM210 159.0h1v1.6h-1zM241 159.0h1v1.6h-1zM254 159.0h2v1.6h-2zM263 159.0h1v1.6h-1zM171 160.6h3v1.6h-3zM181 160.6h7v1.6h-7zM189 160.6h2v1.6h-2zM195 160.6h1v1.6h-1zM198 160.6h1v1.6h-1zM201 160.6h1v1.6h-1zM204 160.6h1v1.6h-1zM211 160.6h1v1.6h-1zM215 160.6h1v1.6h-1zM218 160.6h1v1.6h-1zM223 160.6h2v1.6h-2zM233 160.6h1v1.6h-1zM235 160.6h1v1.6h-1zM243 160.6h2v1.6h-2zM250 160.6h1v1.6h-1zM253 160.6h1v1.6h-1zM256 160.6h1v1.6h-1zM260 160.6h2v1.6h-2zM266 160.6h1v1.6h-1zM183 162.2h7v1.6h-7zM194 162.2h1v1.6h-1zM198 162.2h1v1.6h-1zM204 162.2h1v1.6h-1zM215 162.2h1v1.6h-1zM220 162.2h1v1.6h-1zM233 162.2h1v1.6h-1zM256 162.2h1v1.6h-1zM265 162.2h1v1.6h-1zM170 163.7h1v1.6h-1zM174 163.7h2v1.6h-2zM193 163.7h1v1.6h-1zM200 163.7h1v1.6h-1zM208 163.7h1v1.6h-1zM210 163.7h1v1.6h-1zM240 163.7h1v1.6h-1zM242 163.7h1v1.6h-1zM255 163.7h1v1.6h-1zM263 163.7h1v1.6h-1z"/>
<path fill="#909090" d="M61 55.8h1v1.7h-1zM125 55.8h1v1.7h-1zM134 55.8h1v1.7h-1zM136 55.8h1v1.7h-1zM125 57.5h1v1.7h-1zM133 57.5h1v1.7h-1zM57 66.4h2v1.4h-2zM71 66.4h1v1.4h-1zM82 66.4h2v1.4h-2zM107 66.4h1v1.4h-1zM118 66.4h3v1.4h-3zM123 66.4h3v1.4h-3zM128 66.4h1v1.4h-1zM135 66.4h1v1.4h-1zM142 66.4h1v1.4h-1zM147 66.4h1v1.4h-1zM166 66.4h1v1.4h-1zM52 67.8h1v1.4h-1zM59 67.8h1v1.4h-1zM62 67.8h1v1.4h-1zM70 67.8h1v1.4h-1zM82 67.8h2v1.4h-2zM93 67.8h1v1.4h-1zM97 67.8h1v1.4h-1zM101 67.8h3v1.4h-3zM106 67.8h1v1.4h-1zM108 67.8h1v1.4h-1zM110 67.8h4v1.4h-4zM119 67.8h1v1.4h-1zM123 67.8h2v1.4h-2zM126 67.8h1v1.4h-1zM130 67.8h2v1.4h-2zM135 67.8h3v1.4h-3zM141 67.8h3v1.4h-3zM156 67.8h1v1.4h-1zM57 69.2h1v1.4h-1zM59 69.2h1v1.4h-1zM70 69.2h1v1.4h-1zM82 69.2h2v1.4h-2zM93 69.2h1v1.4h-1zM101 69.2h2v1.4h-2zM110 69.2h1v1.4h-1zM118 69.2h1v1.4h-1zM120 69.2h1v1.4h-1zM122 69.2h1v1.4h-1zM124 69.2h1v1.4h-1zM129 69.2h3v1.4h-3zM136 69.2h2v1.4h-2zM141 69.2h2v1.4h-2zM144 69.2h1v1.4h-1zM153 69.2h1v1.4h-1zM167 69.2h1v1.4h-1zM49 74.7h2v1.4h-2zM54 74.7h1v1.4h-1zM73 74.7h1v1.4h-1zM76 74.7h1v1.4h-1zM78 74.7h2v1.4h-2zM90 74.7h1v1.4h-1zM149 74.7h2v1.4h-2zM77 76.1h1v1.4h-1zM158 76.1h1v1.4h-1zM45 77.5h1v1.4h-1zM49 77.5h2v1.4h-2zM53 77.5h3v1.4h-3zM64 77.5h2v1.4h-2zM68 77.5h1v1.4h-1zM76 77.5h1v1.4h-1zM78 77.5h1v1.4h-1zM80 77.5h1v1.4h-1zM84 77.5h2v1.4h-2zM90 77.5h1v1.4h-1zM92 77.5h1v1.4h-1zM104 77.5h1v1.4h-1zM114 77.5h3v1.4h-3zM139 77.5h1v1.4h-1zM149 77.5h1v1.4h-1zM151 77.5h1v1.4h-1zM159 77.5h1v1.4h-1zM45 78.8h1v1.4h-1zM49 78.8h1v1.4h-1zM54 78.8h1v1.4h-1zM64 78.8h1v1.4h-1zM73 78.8h1v1.4h-1zM75 78.8h1v1.4h-1zM77 78.8h1v1.4h-1zM79 78.8h1v1.4h-1zM115 78.8h1v1.4h-1zM149 78.8h1v1.4h-1zM46 80.2h1v1.4h-1zM48 80.2h1v1.4h-1zM51 80.2h1v1.4h-1zM55 80.2h1v1.4h-1zM63 80.2h1v1.4h-1zM66 80.2h4v1.4h-4zM74 80.2h1v1.4h-1zM84 80.2h5v1.4h-5zM91 80.2h2v1.4h-2zM94 80.2h1v1.4h-1zM98 80.2h1v1.4h-1zM100 80.2h1v1.4h-1zM104 80.2h1v1.4h-1zM114 80.2h1v1.4h-1zM117 80.2h1v1.4h-1zM127 80.2h1v1.4h-1zM132 80.2h1v1.4h-1zM138 80.2h3v1.4h-3zM154 80.2h2v1.4h-2zM157 80.2h1v1.4h-1zM159 80.2h1v1.4h-1zM162 80.2h3v1.4h-3zM61 81.6h1v1.6h-1zM81 81.6h1v1.6h-1zM47 93.6h2v1.5h-2zM52 93.6h1v1.5h-1zM56 93.6h1v1.5h-1zM60 93.6h1v1.5h-1zM63 93.6h1v1.5h-1zM70 93.6h1v1.5h-1zM72 93.6h1v1.5h-1zM86 93.6h1v1.5h-1zM88 93.6h2v1.5h-2zM93 93.6h2v1.5h-2zM96 93.6h1v1.5h-1zM100 93.6h1v1.5h-1zM106 93.6h1v1.5h-1zM108 93.6h2v1.5h-2zM111 93.6h4v1.5h-4zM129 93.6h1v1.5h-1zM138 93.6h1v1.5h-1zM140 93.6h1v1.5h-1zM143 93.6h1v1.5h-1zM146 93.6h1v1.5h-1zM148 93.6h1v1.5h-1zM154 93.6h1v1.5h-1zM156 93.6h2v1.5h-2zM162 93.6h1v1.5h-1zM167 93.6h1v1.5h-1zM45 95.1h2v1.5h-2zM48 95.1h2v1.5h-2zM53 95.1h1v1.5h-1zM64 95.1h4v1.5h-4zM69 95.1h1v1.5h-1zM73 95.1h1v1.5h-1zM76 95.1h1v1.5h-1zM78 95.1h1v1.5h-1zM80 95.1h1v1.5h-1zM84 95.1h2v1.5h-2zM90 95.1h3v1.5h-3zM94 95.1h1v1.5h-1zM114 95.1h1v1.5h-1zM117 95.1h1v1.5h-1zM127 95.1h1v1.5h-1zM132 95.1h1v1.5h-1zM151 95.1h1v1.5h-1zM154 95.1h1v1.5h-1zM159 95.1h1v1.5h-1zM163 95.1h2v1.5h-2zM46 96.6h1v1.5h-1zM48 96.6h1v1.5h-1zM50 96.6h1v1.5h-1zM63 96.6h1v1.5h-1zM65 96.6h3v1.5h-3zM84 96.6h2v1.5h-2zM87 96.6h1v1.5h-1zM90 96.6h1v1.5h-1zM92 96.6h1v1.5h-1zM104 96.6h1v1.5h-1zM115 96.6h2v1.5h-2zM127 96.6h1v1.5h-1zM132 96.6h1v1.5h-1zM138 96.6h2v1.5h-2zM154 96.6h2v1.5h-2zM159 96.6h1v1.5h-1zM163 96.6h1v1.5h-1zM46 98.1h1v1.5h-1zM50 98.1h2v1.5h-2zM53 98.1h1v1.5h-1zM56 98.1h1v1.5h-1zM63 98.1h1v1.5h-1zM65 98.1h4v1.5h-4zM76 98.1h1v1.5h-1zM84 98.1h2v1.5h-2zM87 98.1h1v1.5h-1zM89 98.1h3v1.5h-3zM104 98.1h1v1.5h-1zM114 98.1h1v1.5h-1zM116 98.1h1v1.5h-1zM127 98.1h1v1.5h-1zM132 98.1h1v1.5h-1zM138 98.1h3v1.5h-3zM151 98.1h2v1.5h-2zM154 98.1h2v1.5h-2zM157 98.1h1v1.5h-1zM159 98.1h1v1.5h-1zM163 98.1h1v1.5h-1zM81 109.4h1v1.5h-1zM134 109.4h1v1.5h-1zM61 111.0h1v1.5h-1zM81 111.0h1v1.5h-1zM133 111.0h2v1.5h-2zM52 112.5h1v1.2h-1zM57 112.5h2v1.2h-2zM70 112.5h2v1.2h-2zM88 112.5h1v1.2h-1zM93 112.5h2v1.2h-2zM97 112.5h1v1.2h-1zM99 112.5h1v1.2h-1zM101 112.5h2v1.2h-2zM106 112.5h2v1.2h-2zM109 112.5h2v1.2h-2zM118 112.5h2v1.2h-2zM123 112.5h2v1.2h-2zM126 112.5h1v1.2h-1zM130 112.5h1v1.2h-1zM135 112.5h3v1.2h-3zM141 112.5h4v1.2h-4zM147 112.5h1v1.2h-1zM167 112.5h1v1.2h-1zM47 113.8h1v1.2h-1zM52 113.8h1v1.2h-1zM57 113.8h1v1.2h-1zM59 113.8h1v1.2h-1zM62 113.8h1v1.2h-1zM71 113.8h2v1.2h-2zM93 113.8h1v1.2h-1zM97 113.8h1v1.2h-1zM99 113.8h1v1.2h-1zM102 113.8h1v1.2h-1zM106 113.8h1v1.2h-1zM110 113.8h1v1.2h-1zM113 113.8h1v1.2h-1zM118 113.8h2v1.2h-2zM122 113.8h3v1.2h-3zM126 113.8h1v1.2h-1zM129 113.8h1v1.2h-1zM137 113.8h1v1.2h-1zM141 113.8h3v1.2h-3zM147 113.8h1v1.2h-1zM160 113.8h1v1.2h-1zM167 113.8h1v1.2h-1zM49 124.9h1v1.5h-1zM54 124.9h1v1.5h-1zM64 124.9h2v1.5h-2zM75 124.9h2v1.5h-2zM78 124.9h2v1.5h-2zM90 124.9h1v1.5h-1zM114 124.9h3v1.5h-3zM151 124.9h1v1.5h-1zM45 126.4h1v1.5h-1zM64 126.4h2v1.5h-2zM67 126.4h1v1.5h-1zM73 126.4h1v1.5h-1zM75 126.4h4v1.5h-4zM84 126.4h1v1.5h-1zM90 126.4h1v1.5h-1zM92 126.4h1v1.5h-1zM116 126.4h1v1.5h-1zM149 126.4h1v1.5h-1zM151 126.4h1v1.5h-1zM154 126.4h1v1.5h-1zM45 127.9h1v1.5h-1zM49 127.9h1v1.5h-1zM64 127.9h2v1.5h-2zM73 127.9h1v1.5h-1zM75 127.9h2v1.5h-2zM78 127.9h1v1.5h-1zM90 127.9h1v1.5h-1zM115 127.9h2v1.5h-2zM149 127.9h1v1.5h-1zM46 129.3h1v1.5h-1zM48 129.3h1v1.5h-1zM60 129.3h1v1.5h-1zM63 129.3h1v1.5h-1zM66 129.3h4v1.5h-4zM74 129.3h1v1.5h-1zM86 129.3h7v1.5h-7zM100 129.3h1v1.5h-1zM104 129.3h1v1.5h-1zM112 129.3h1v1.5h-1zM114 129.3h1v1.5h-1zM117 129.3h1v1.5h-1zM132 129.3h1v1.5h-1zM139 129.3h2v1.5h-2zM145 129.3h1v1.5h-1zM151 129.3h2v1.5h-2zM154 129.3h2v1.5h-2zM157 129.3h1v1.5h-1zM159 129.3h1v1.5h-1zM162 129.3h2v1.5h-2zM47 130.8h1v1.6h-1zM66 130.8h1v1.6h-1zM69 130.8h1v1.6h-1zM74 130.8h1v1.6h-1zM86 130.8h2v1.6h-2zM89 130.8h1v1.6h-1zM93 130.8h5v1.6h-5zM100 130.8h1v1.6h-1zM103 130.8h1v1.6h-1zM105 130.8h2v1.6h-2zM108 130.8h1v1.6h-1zM110 130.8h1v1.6h-1zM112 130.8h2v1.6h-2zM123 130.8h2v1.6h-2zM126 130.8h1v1.6h-1zM137 130.8h1v1.6h-1zM140 130.8h1v1.6h-1zM143 130.8h1v1.6h-1zM145 130.8h2v1.6h-2zM156 130.8h2v1.6h-2zM162 130.8h1v1.6h-1zM164 130.8h1v1.6h-1zM45 132.4h1v1.6h-1zM49 132.4h1v1.6h-1zM54 132.4h1v1.6h-1zM64 132.4h1v1.6h-1zM75 132.4h2v1.6h-2zM79 132.4h1v1.6h-1zM115 132.4h2v1.6h-2zM149 132.4h2v1.6h-2zM47 134.0h1v1.6h-1zM51 134.0h1v1.6h-1zM56 134.0h1v1.6h-1zM69 134.0h1v1.6h-1zM72 134.0h1v1.6h-1zM86 134.0h1v1.6h-1zM94 134.0h3v1.6h-3zM99 134.0h2v1.6h-2zM103 134.0h1v1.6h-1zM105 134.0h1v1.6h-1zM108 134.0h2v1.6h-2zM111 134.0h3v1.6h-3zM117 134.0h1v1.6h-1zM137 134.0h1v1.6h-1zM140 134.0h1v1.6h-1zM143 134.0h1v1.6h-1zM145 134.0h2v1.6h-2zM148 134.0h1v1.6h-1zM152 134.0h1v1.6h-1zM156 134.0h1v1.6h-1zM164 134.0h1v1.6h-1zM167 134.0h1v1.6h-1zM45 135.5h2v1.6h-2zM50 135.5h1v1.6h-1zM53 135.5h1v1.6h-1zM55 135.5h2v1.6h-2zM63 135.5h1v1.6h-1zM66 135.5h2v1.6h-2zM69 135.5h1v1.6h-1zM80 135.5h1v1.6h-1zM85 135.5h1v1.6h-1zM90 135.5h1v1.6h-1zM92 135.5h1v1.6h-1zM104 135.5h1v1.6h-1zM114 135.5h1v1.6h-1zM116 135.5h1v1.6h-1zM132 135.5h1v1.6h-1zM138 135.5h1v1.6h-1zM140 135.5h1v1.6h-1zM151 135.5h1v1.6h-1zM163 135.5h1v1.6h-1zM52 137.1h1v1.6h-1zM59 137.1h1v1.6h-1zM62 137.1h1v1.6h-1zM70 137.1h3v1.6h-3zM82 137.1h1v1.6h-1zM93 137.1h1v1.6h-1zM95 137.1h3v1.6h-3zM101 137.1h3v1.6h-3zM105 137.1h1v1.6h-1zM108 137.1h1v1.6h-1zM121 137.1h4v1.6h-4zM128 137.1h2v1.6h-2zM141 137.1h2v1.6h-2zM144 137.1h1v1.6h-1zM147 137.1h1v1.6h-1zM153 137.1h1v1.6h-1zM166 137.1h2v1.6h-2zM51 138.7h1v1.6h-1zM56 138.7h1v1.6h-1zM60 138.7h1v1.6h-1zM62 138.7h1v1.6h-1zM70 138.7h1v1.6h-1zM86 138.7h1v1.6h-1zM89 138.7h1v1.6h-1zM100 138.7h1v1.6h-1zM102 138.7h1v1.6h-1zM105 138.7h1v1.6h-1zM108 138.7h5v1.6h-5zM129 138.7h1v1.6h-1zM142 138.7h2v1.6h-2zM146 138.7h1v1.6h-1zM148 138.7h1v1.6h-1zM156 138.7h1v1.6h-1zM46 140.3h1v1.6h-1zM48 140.3h1v1.6h-1zM51 140.3h1v1.6h-1zM55 140.3h1v1.6h-1zM60 140.3h1v1.6h-1zM63 140.3h1v1.6h-1zM65 140.3h1v1.6h-1zM67 140.3h1v1.6h-1zM69 140.3h1v1.6h-1zM74 140.3h1v1.6h-1zM87 140.3h1v1.6h-1zM91 140.3h1v1.6h-1zM94 140.3h1v1.6h-1zM96 140.3h1v1.6h-1zM98 140.3h1v1.6h-1zM105 140.3h2v1.6h-2zM109 140.3h1v1.6h-1zM111 140.3h1v1.6h-1zM114 140.3h1v1.6h-1zM117 140.3h1v1.6h-1zM127 140.3h1v1.6h-1zM132 140.3h1v1.6h-1zM139 140.3h2v1.6h-2zM145 140.3h1v1.6h-1zM148 140.3h1v1.6h-1zM154 140.3h2v1.6h-2zM157 140.3h1v1.6h-1zM162 140.3h3v1.6h-3zM47 142.0h1v1.6h-1zM56 142.0h1v1.6h-1zM60 142.0h1v1.6h-1zM70 142.0h1v1.6h-1zM72 142.0h1v1.6h-1zM86 142.0h1v1.6h-1zM94 142.0h6v1.6h-6zM103 142.0h1v1.6h-1zM105 142.0h1v1.6h-1zM108 142.0h2v1.6h-2zM112 142.0h2v1.6h-2zM123 142.0h1v1.6h-1zM126 142.0h1v1.6h-1zM136 142.0h2v1.6h-2zM146 142.0h1v1.6h-1zM148 142.0h1v1.6h-1zM152 142.0h1v1.6h-1zM156 142.0h1v1.6h-1zM45 146.6h2v1.5h-2zM49 146.6h2v1.5h-2zM53 146.6h1v1.5h-1zM64 146.6h1v1.5h-1zM75 146.6h2v1.5h-2zM78 146.6h2v1.5h-2zM92 146.6h1v1.5h-1zM116 146.6h1v1.5h-1zM138 146.6h1v1.5h-1zM159 146.6h1v1.5h-1zM47 148.1h1v1.5h-1zM51 148.1h1v1.5h-1zM55 148.1h1v1.5h-1zM59 148.1h2v1.5h-2zM66 148.1h1v1.5h-1zM69 148.1h2v1.5h-2zM86 148.1h2v1.5h-2zM89 148.1h1v1.5h-1zM91 148.1h1v1.5h-1zM94 148.1h2v1.5h-2zM99 148.1h3v1.5h-3zM103 148.1h4v1.5h-4zM108 148.1h1v1.5h-1zM111 148.1h4v1.5h-4zM117 148.1h1v1.5h-1zM123 148.1h1v1.5h-1zM126 148.1h1v1.5h-1zM137 148.1h1v1.5h-1zM145 148.1h1v1.5h-1zM148 148.1h1v1.5h-1zM152 148.1h1v1.5h-1zM156 148.1h2v1.5h-2zM46 149.6h1v1.5h-1zM48 149.6h1v1.5h-1zM51 149.6h1v1.5h-1zM55 149.6h1v1.5h-1zM60 149.6h1v1.5h-1zM63 149.6h1v1.5h-1zM65 149.6h2v1.5h-2zM68 149.6h3v1.5h-3zM74 149.6h1v1.5h-1zM86 149.6h4v1.5h-4zM91 149.6h1v1.5h-1zM94 149.6h2v1.5h-2zM98 149.6h1v1.5h-1zM100 149.6h1v1.5h-1zM106 149.6h1v1.5h-1zM114 149.6h1v1.5h-1zM117 149.6h1v1.5h-1zM127 149.6h1v1.5h-1zM132 149.6h1v1.5h-1zM138 149.6h3v1.5h-3zM145 149.6h2v1.5h-2zM148 149.6h1v1.5h-1zM152 149.6h1v1.5h-1zM154 149.6h1v1.5h-1zM157 149.6h1v1.5h-1zM162 149.6h1v1.5h-1zM164 149.6h1v1.5h-1zM45 151.0h1v1.5h-1zM49 151.0h2v1.5h-2zM53 151.0h2v1.5h-2zM64 151.0h2v1.5h-2zM73 151.0h1v1.5h-1zM76 151.0h1v1.5h-1zM78 151.0h2v1.5h-2zM90 151.0h1v1.5h-1zM114 151.0h2v1.5h-2zM139 151.0h1v1.5h-1zM149 151.0h3v1.5h-3zM154 151.0h1v1.5h-1zM45 152.5h1v1.5h-1zM50 152.5h1v1.5h-1zM53 152.5h1v1.5h-1zM65 152.5h1v1.5h-1zM73 152.5h1v1.5h-1zM75 152.5h2v1.5h-2zM78 152.5h3v1.5h-3zM84 152.5h2v1.5h-2zM90 152.5h1v1.5h-1zM92 152.5h1v1.5h-1zM98 152.5h1v1.5h-1zM115 152.5h2v1.5h-2zM155 152.5h1v1.5h-1zM159 152.5h1v1.5h-1zM134 156.0h1v1.5h-1zM58 157.5h1v1.5h-1zM61 157.5h1v1.5h-1zM82 157.5h1v1.5h-1zM119 157.5h1v1.5h-1zM125 157.5h1v1.5h-1zM128 157.5h1v1.5h-1zM131 157.5h1v1.5h-1zM133 157.5h1v1.5h-1zM144 157.5h1v1.5h-1zM161 157.5h1v1.5h-1zM165 157.5h1v1.5h-1zM61 158.9h1v1.5h-1zM81 158.9h1v1.5h-1zM125 158.9h1v1.5h-1zM133 158.9h1v1.5h-1zM160 158.9h1v1.5h-1zM61 160.4h1v1.5h-1zM81 160.4h1v1.5h-1zM61 163.4h1v1.5h-1zM107 163.4h1v1.5h-1zM120 163.4h2v1.5h-2zM125 163.4h1v1.5h-1zM133 163.4h2v1.5h-2zM136 163.4h1v1.5h-1zM144 163.4h1v1.5h-1zM160 163.4h2v1.5h-2zM165 163.4h2v1.5h-2zM58 164.8h1v1.5h-1zM61 164.8h1v1.5h-1zM119 164.8h1v1.5h-1zM128 164.8h1v1.5h-1zM133 164.8h1v1.5h-1zM160 164.8h1v1.5h-1zM165 164.8h1v1.5h-1zM77 179.1h1v1.7h-1zM158 179.1h1v1.7h-1zM79 180.8h1v1.7h-1zM150 180.8h1v1.7h-1zM158 180.8h1v1.7h-1zM49 182.4h1v1.7h-1zM54 182.4h1v1.7h-1zM77 182.4h1v1.7h-1zM90 182.4h1v1.7h-1zM116 182.4h1v1.7h-1zM149 182.4h2v1.7h-2zM168 56.0h1v1.7h-1zM174 56.0h2v1.7h-2zM193 56.0h1v1.7h-1zM199 56.0h1v1.7h-1zM210 56.0h1v1.7h-1zM219 56.0h1v1.7h-1zM241 56.0h1v1.7h-1zM255 56.0h1v1.7h-1zM263 56.0h1v1.7h-1zM168 57.7h1v1.7h-1zM170 57.7h1v1.7h-1zM193 57.7h1v1.7h-1zM208 57.7h2v1.7h-2zM219 57.7h1v1.7h-1zM231 57.7h1v1.7h-1zM241 57.7h1v1.7h-1zM169 66.2h1v1.9h-1zM171 66.2h1v1.9h-1zM173 66.2h1v1.9h-1zM176 66.2h1v1.9h-1zM183 66.2h1v1.9h-1zM188 66.2h1v1.9h-1zM192 66.2h3v1.9h-3zM200 66.2h2v1.9h-2zM230 66.2h1v1.9h-1zM232 66.2h1v1.9h-1zM242 66.2h1v1.9h-1zM254 66.2h1v1.9h-1zM260 66.2h4v1.9h-4zM168 68.1h1v1.8h-1zM174 68.1h3v1.8h-3zM193 68.1h1v1.8h-1zM209 68.1h2v1.8h-2zM219 68.1h1v1.8h-1zM232 68.1h1v1.8h-1zM239 68.1h4v1.8h-4zM254 68.1h2v1.8h-2zM262 68.1h2v1.8h-2zM191 69.9h1v1.5h-1zM205 69.9h1v1.5h-1zM207 69.9h1v1.5h-1zM212 69.9h1v1.5h-1zM214 69.9h1v1.5h-1zM217 69.9h1v1.5h-1zM221 69.9h1v1.5h-1zM225 69.9h1v1.5h-1zM227 69.9h1v1.5h-1zM260 69.9h1v1.5h-1zM266 69.9h1v1.5h-1zM191 71.4h1v1.5h-1zM196 71.4h1v1.5h-1zM205 71.4h1v1.5h-1zM207 71.4h1v1.5h-1zM212 71.4h2v1.5h-2zM221 71.4h1v1.5h-1zM225 71.4h2v1.5h-2zM256 71.4h1v1.5h-1zM258 71.4h1v1.5h-1zM260 71.4h1v1.5h-1zM265 71.4h1v1.5h-1zM202 72.8h1v1.5h-1zM207 72.8h1v1.5h-1zM214 72.8h1v1.5h-1zM216 72.8h2v1.5h-2zM227 72.8h1v1.5h-1zM259 72.8h1v1.5h-1zM264 72.8h1v1.5h-1zM266 72.8h1v1.5h-1zM202 74.3h1v1.5h-1zM207 74.3h1v1.5h-1zM214 74.3h1v1.5h-1zM216 74.3h2v1.5h-2zM221 74.3h1v1.5h-1zM227 74.3h1v1.5h-1zM259 74.3h1v1.5h-1zM266 74.3h2v1.5h-2zM191 75.7h1v1.5h-1zM195 75.7h2v1.5h-2zM198 75.7h1v1.5h-1zM206 75.7h1v1.5h-1zM213 75.7h1v1.5h-1zM215 75.7h1v1.5h-1zM220 75.7h1v1.5h-1zM224 75.7h2v1.5h-2zM253 75.7h2v1.5h-2zM260 75.7h2v1.5h-2zM263 75.7h1v1.5h-1zM191 77.2h1v1.5h-1zM196 77.2h1v1.5h-1zM205 77.2h1v1.5h-1zM207 77.2h1v1.5h-1zM212 77.2h1v1.5h-1zM221 77.2h1v1.5h-1zM225 77.2h3v1.5h-3zM256 77.2h1v1.5h-1zM258 77.2h1v1.5h-1zM265 77.2h2v1.5h-2zM196 78.6h2v1.5h-2zM202 78.6h1v1.5h-1zM205 78.6h1v1.5h-1zM212 78.6h2v1.5h-2zM221 78.6h1v1.5h-1zM225 78.6h2v1.5h-2zM253 78.6h1v1.5h-1zM256 78.6h1v1.5h-1zM265 78.6h1v1.5h-1zM181 80.1h2v1.7h-2zM185 80.1h2v1.7h-2zM234 80.1h1v1.7h-1zM246 80.1h1v1.7h-1zM249 80.1h2v1.7h-2zM178 81.8h3v1.7h-3zM237 81.8h1v1.7h-1zM177 83.5h1v1.7h-1zM179 83.5h2v1.7h-2zM237 83.5h1v1.7h-1zM247 83.5h2v1.7h-2zM177 88.8h4v1.5h-4zM191 88.8h1v1.5h-1zM212 88.8h2v1.5h-2zM215 88.8h1v1.5h-1zM224 88.8h3v1.5h-3zM172 90.3h1v1.5h-1zM177 90.3h1v1.5h-1zM185 90.3h2v1.5h-2zM189 90.3h1v1.5h-1zM195 90.3h1v1.5h-1zM201 90.3h1v1.5h-1zM206 90.3h1v1.5h-1zM213 90.3h1v1.5h-1zM215 90.3h1v1.5h-1zM222 90.3h1v1.5h-1zM224 90.3h1v1.5h-1zM179 91.7h1v1.5h-1zM196 91.7h1v1.5h-1zM207 91.7h1v1.5h-1zM212 91.7h1v1.5h-1zM214 91.7h1v1.5h-1zM216 91.7h2v1.5h-2zM221 91.7h1v1.5h-1zM227 91.7h1v1.5h-1zM177 93.2h4v1.5h-4zM182 93.2h1v1.5h-1zM191 93.2h1v1.5h-1zM196 93.2h1v1.5h-1zM205 93.2h3v1.5h-3zM213 93.2h1v1.5h-1zM224 93.2h1v1.5h-1zM226 93.2h2v1.5h-2zM191 94.6h1v1.5h-1zM214 94.6h1v1.5h-1zM216 94.6h2v1.5h-2zM221 94.6h1v1.5h-1zM227 94.6h1v1.5h-1zM178 96.1h2v1.5h-2zM205 96.1h1v1.5h-1zM207 96.1h1v1.5h-1zM214 96.1h1v1.5h-1zM216 96.1h2v1.5h-2zM221 96.1h1v1.5h-1zM226 96.1h2v1.5h-2zM202 97.5h1v1.5h-1zM205 97.5h1v1.5h-1zM207 97.5h1v1.5h-1zM212 97.5h1v1.5h-1zM214 97.5h1v1.5h-1zM216 97.5h1v1.5h-1zM227 97.5h1v1.5h-1zM231 105.0h1v1.4h-1zM241 105.0h1v1.4h-1zM169 110.7h1v1.4h-1zM171 110.7h1v1.4h-1zM173 110.7h1v1.4h-1zM176 110.7h1v1.4h-1zM184 110.7h1v1.4h-1zM188 110.7h1v1.4h-1zM192 110.7h1v1.4h-1zM194 110.7h1v1.4h-1zM223 110.7h1v1.4h-1zM169 112.1h1v1.4h-1zM171 112.1h1v1.4h-1zM176 112.1h1v1.4h-1zM188 112.1h2v1.4h-2zM192 112.1h1v1.4h-1zM211 112.1h1v1.4h-1zM219 112.1h1v1.4h-1zM223 112.1h1v1.4h-1zM171 113.6h2v1.4h-2zM181 113.6h1v1.4h-1zM184 113.6h1v1.4h-1zM186 113.6h2v1.4h-2zM189 113.6h1v1.4h-1zM198 113.6h1v1.4h-1zM201 113.6h1v1.4h-1zM203 113.6h2v1.4h-2zM211 113.6h1v1.4h-1zM218 113.6h1v1.4h-1zM220 113.6h1v1.4h-1zM222 113.6h1v1.4h-1zM229 115.0h1v1.8h-1zM234 115.0h2v1.8h-2zM238 115.0h1v1.8h-1zM243 115.0h1v1.8h-1zM250 115.0h1v1.8h-1zM258 115.0h1v1.8h-1zM265 115.0h3v1.8h-3zM209 116.8h1v1.8h-1zM233 116.8h3v1.8h-3zM243 116.8h1v1.8h-1zM256 116.8h1v1.8h-1zM258 116.8h2v1.8h-2zM261 116.8h1v1.8h-1zM265 116.8h1v1.8h-1zM172 126.0h1v1.5h-1zM181 126.0h2v1.5h-2zM185 126.0h2v1.5h-2zM189 126.0h2v1.5h-2zM195 126.0h1v1.5h-1zM198 126.0h1v1.5h-1zM203 126.0h2v1.5h-2zM215 126.0h1v1.5h-1zM218 126.0h1v1.5h-1zM220 126.0h1v1.5h-1zM222 126.0h1v1.5h-1zM224 126.0h2v1.5h-2zM234 126.0h1v1.5h-1zM236 126.0h1v1.5h-1zM238 126.0h1v1.5h-1zM245 126.0h2v1.5h-2zM249 126.0h3v1.5h-3zM259 126.0h1v1.5h-1zM264 126.0h1v1.5h-1zM266 126.0h2v1.5h-2zM177 127.5h2v1.5h-2zM180 127.5h1v1.5h-1zM191 127.5h1v1.5h-1zM197 127.5h1v1.5h-1zM205 127.5h1v1.5h-1zM213 127.5h1v1.5h-1zM225 127.5h3v1.5h-3zM236 127.5h1v1.5h-1zM246 127.5h2v1.5h-2zM249 127.5h1v1.5h-1zM257 127.5h1v1.5h-1zM172 129.0h1v1.5h-1zM181 129.0h1v1.5h-1zM183 129.0h7v1.5h-7zM194 129.0h2v1.5h-2zM198 129.0h1v1.5h-1zM201 129.0h1v1.5h-1zM203 129.0h2v1.5h-2zM218 129.0h1v1.5h-1zM220 129.0h1v1.5h-1zM222 129.0h2v1.5h-2zM234 129.0h2v1.5h-2zM238 129.0h1v1.5h-1zM245 129.0h1v1.5h-1zM250 129.0h2v1.5h-2zM258 129.0h2v1.5h-2zM264 129.0h4v1.5h-4zM179 130.6h2v1.5h-2zM182 130.6h1v1.5h-1zM197 130.6h1v1.5h-1zM206 130.6h1v1.5h-1zM213 130.6h1v1.5h-1zM215 130.6h1v1.5h-1zM220 130.6h1v1.5h-1zM222 130.6h1v1.5h-1zM224 130.6h3v1.5h-3zM236 130.6h1v1.5h-1zM249 130.6h3v1.5h-3zM257 130.6h1v1.5h-1zM264 130.6h1v1.5h-1zM266 130.6h2v1.5h-2zM171 132.1h2v1.5h-2zM181 132.1h6v1.5h-6zM189 132.1h2v1.5h-2zM195 132.1h1v1.5h-1zM198 132.1h1v1.5h-1zM201 132.1h1v1.5h-1zM203 132.1h2v1.5h-2zM215 132.1h1v1.5h-1zM218 132.1h1v1.5h-1zM222 132.1h1v1.5h-1zM234 132.1h1v1.5h-1zM236 132.1h1v1.5h-1zM238 132.1h1v1.5h-1zM244 132.1h2v1.5h-2zM250 132.1h2v1.5h-2zM258 132.1h2v1.5h-2zM266 132.1h2v1.5h-2zM169 133.6h1v1.5h-1zM173 133.6h1v1.5h-1zM176 133.6h1v1.5h-1zM184 133.6h1v1.5h-1zM188 133.6h1v1.5h-1zM192 133.6h1v1.5h-1zM200 133.6h1v1.5h-1zM211 133.6h1v1.5h-1zM223 133.6h1v1.5h-1zM233 133.6h2v1.5h-2zM243 133.6h3v1.5h-3zM256 133.6h1v1.5h-1zM261 133.6h1v1.5h-1zM264 133.6h3v1.5h-3zM172 135.1h1v1.5h-1zM181 135.1h1v1.5h-1zM185 135.1h1v1.5h-1zM196 135.1h3v1.5h-3zM215 135.1h1v1.5h-1zM220 135.1h1v1.5h-1zM225 135.1h2v1.5h-2zM236 135.1h1v1.5h-1zM246 135.1h1v1.5h-1zM249 135.1h1v1.5h-1zM251 135.1h1v1.5h-1zM264 135.1h1v1.5h-1zM267 135.1h1v1.5h-1zM172 136.6h1v1.5h-1zM181 136.6h1v1.5h-1zM183 136.6h1v1.5h-1zM185 136.6h1v1.5h-1zM187 136.6h1v1.5h-1zM189 136.6h2v1.5h-2zM194 136.6h2v1.5h-2zM198 136.6h1v1.5h-1zM201 136.6h1v1.5h-1zM203 136.6h2v1.5h-2zM206 136.6h1v1.5h-1zM211 136.6h1v1.5h-1zM218 136.6h1v1.5h-1zM220 136.6h1v1.5h-1zM222 136.6h1v1.5h-1zM234 136.6h2v1.5h-2zM238 136.6h1v1.5h-1zM245 136.6h1v1.5h-1zM250 136.6h2v1.5h-2zM256 136.6h1v1.5h-1zM258 136.6h1v1.5h-1zM264 136.6h1v1.5h-1zM266 136.6h2v1.5h-2zM177 138.1h1v1.5h-1zM180 138.1h2v1.5h-2zM185 138.1h1v1.5h-1zM197 138.1h2v1.5h-2zM206 138.1h1v1.5h-1zM215 138.1h1v1.5h-1zM236 138.1h1v1.5h-1zM245 138.1h3v1.5h-3zM249 138.1h1v1.5h-1zM266 138.1h1v1.5h-1zM172 139.7h1v1.5h-1zM181 139.7h2v1.5h-2zM185 139.7h1v1.5h-1zM190 139.7h1v1.5h-1zM195 139.7h1v1.5h-1zM197 139.7h1v1.5h-1zM201 139.7h1v1.5h-1zM203 139.7h1v1.5h-1zM206 139.7h1v1.5h-1zM213 139.7h1v1.5h-1zM215 139.7h1v1.5h-1zM218 139.7h1v1.5h-1zM220 139.7h1v1.5h-1zM222 139.7h1v1.5h-1zM224 139.7h2v1.5h-2zM236 139.7h1v1.5h-1zM238 139.7h1v1.5h-1zM249 139.7h1v1.5h-1zM259 139.7h1v1.5h-1zM264 139.7h1v1.5h-1zM266 139.7h2v1.5h-2zM169 141.2h1v1.5h-1zM171 141.2h1v1.5h-1zM173 141.2h1v1.5h-1zM175 141.2h2v1.5h-2zM183 141.2h1v1.5h-1zM188 141.2h1v1.5h-1zM192 141.2h1v1.5h-1zM211 141.2h1v1.5h-1zM223 141.2h1v1.5h-1zM242 141.2h3v1.5h-3zM256 141.2h1v1.5h-1zM265 141.2h1v1.5h-1zM172 147.8h2v1.7h-2zM181 147.8h1v1.7h-1zM184 147.8h4v1.7h-4zM189 147.8h2v1.7h-2zM195 147.8h1v1.7h-1zM198 147.8h1v1.7h-1zM201 147.8h1v1.7h-1zM204 147.8h1v1.7h-1zM218 147.8h1v1.7h-1zM220 147.8h1v1.7h-1zM222 147.8h1v1.7h-1zM224 147.8h1v1.7h-1zM243 147.8h3v1.7h-3zM256 147.8h1v1.7h-1zM258 147.8h2v1.7h-2zM265 147.8h1v1.7h-1zM169 149.5h1v1.7h-1zM172 149.5h2v1.7h-2zM183 149.5h2v1.7h-2zM186 149.5h2v1.7h-2zM189 149.5h1v1.7h-1zM192 149.5h1v1.7h-1zM194 149.5h1v1.7h-1zM200 149.5h1v1.7h-1zM204 149.5h1v1.7h-1zM211 149.5h1v1.7h-1zM233 149.5h1v1.7h-1zM243 149.5h3v1.7h-3zM252 149.5h1v1.7h-1zM258 149.5h1v1.7h-1zM260 149.5h2v1.7h-2zM172 151.3h1v1.7h-1zM181 151.3h2v1.7h-2zM185 151.3h2v1.7h-2zM190 151.3h1v1.7h-1zM195 151.3h4v1.7h-4zM201 151.3h1v1.7h-1zM203 151.3h2v1.7h-2zM206 151.3h1v1.7h-1zM215 151.3h1v1.7h-1zM218 151.3h1v1.7h-1zM220 151.3h1v1.7h-1zM222 151.3h1v1.7h-1zM234 151.3h2v1.7h-2zM243 151.3h3v1.7h-3zM252 151.3h1v1.7h-1zM258 151.3h1v1.7h-1zM265 151.3h1v1.7h-1zM171 155.9h1v1.6h-1zM175 155.9h1v1.6h-1zM183 155.9h1v1.6h-1zM186 155.9h3v1.6h-3zM192 155.9h1v1.6h-1zM194 155.9h1v1.6h-1zM203 155.9h2v1.6h-2zM211 155.9h1v1.6h-1zM218 155.9h2v1.6h-2zM223 155.9h1v1.6h-1zM233 155.9h1v1.6h-1zM242 155.9h2v1.6h-2zM253 155.9h2v1.6h-2zM260 155.9h2v1.6h-2zM168 157.5h1v1.6h-1zM208 157.5h1v1.6h-1zM231 157.5h1v1.6h-1zM241 157.5h1v1.6h-1zM168 159.0h1v1.6h-1zM170 159.0h1v1.6h-1zM199 159.0h1v1.6h-1zM208 159.0h2v1.6h-2zM231 159.0h1v1.6h-1zM168 160.6h1v1.6h-1zM175 160.6h1v1.6h-1zM188 160.6h1v1.6h-1zM192 160.6h1v1.6h-1zM194 160.6h1v1.6h-1zM200 160.6h1v1.6h-1zM210 160.6h1v1.6h-1zM232 160.6h1v1.6h-1zM239 160.6h2v1.6h-2zM242 160.6h1v1.6h-1zM252 160.6h1v1.6h-1zM254 160.6h1v1.6h-1zM262 160.6h2v1.6h-2zM169 162.2h1v1.6h-1zM171 162.2h1v1.6h-1zM173 162.2h1v1.6h-1zM175 162.2h2v1.6h-2zM192 162.2h1v1.6h-1zM200 162.2h1v1.6h-1zM211 162.2h1v1.6h-1zM219 162.2h1v1.6h-1zM223 162.2h1v1.6h-1zM232 162.2h1v1.6h-1zM239 162.2h1v1.6h-1zM242 162.2h1v1.6h-1zM252 162.2h4v1.6h-4zM260 162.2h4v1.6h-4zM168 163.7h1v1.6h-1zM199 163.7h1v1.6h-1zM209 163.7h1v1.6h-1zM231 163.7h1v1.6h-1zM241 163.7h1v1.6h-1z"/>
<path fill="#a0a0a0" d="M61 66.4h1v1.4h-1zM81 66.4h1v1.4h-1zM121 66.4h1v1.4h-1zM131 66.4h1v1.4h-1zM133 66.4h2v1.4h-2zM144 66.4h1v1.4h-1zM160 66.4h2v1.4h-2zM165 66.4h1v1.4h-1zM57 67.8h2v1.4h-2zM61 67.8h1v1.4h-1zM71 67.8h1v1.4h-1zM107 67.8h1v1.4h-1zM118 67.8h1v1.4h-1zM120 67.8h3v1.4h-3zM128 67.8h1v1.4h-1zM133 67.8h1v1.4h-1zM144 67.8h1v1.4h-1zM147 67.8h1v1.4h-1zM153 67.8h1v1.4h-1zM160 67.8h1v1.4h-1zM166 67.8h2v1.4h-2zM58 69.2h1v1.4h-1zM61 69.2h1v1.4h-1zM81 69.2h1v1.4h-1zM107 69.2h1v1.4h-1zM121 69.2h1v1.4h-1zM125 69.2h1v1.4h-1zM128 69.2h1v1.4h-1zM133 69.2h1v1.4h-1zM135 69.2h1v1.4h-1zM147 69.2h1v1.4h-1zM160 69.2h2v1.4h-2zM165 69.2h2v1.4h-2zM54 70.6h1v1.4h-1zM45 73.3h1v1.4h-1zM49 73.3h1v1.4h-1zM54 73.3h1v1.4h-1zM64 73.3h1v1.4h-1zM73 73.3h1v1.4h-1zM75 73.3h5v1.4h-5zM115 73.3h2v1.4h-2zM149 73.3h2v1.4h-2zM158 73.3h1v1.4h-1zM45 74.7h2v1.4h-2zM48 74.7h1v1.4h-1zM53 74.7h1v1.4h-1zM55 74.7h1v1.4h-1zM63 74.7h6v1.4h-6zM74 74.7h1v1.4h-1zM80 74.7h1v1.4h-1zM84 74.7h2v1.4h-2zM88 74.7h1v1.4h-1zM91 74.7h2v1.4h-2zM104 74.7h1v1.4h-1zM114 74.7h4v1.4h-4zM127 74.7h1v1.4h-1zM138 74.7h2v1.4h-2zM145 74.7h1v1.4h-1zM151 74.7h2v1.4h-2zM155 74.7h1v1.4h-1zM157 74.7h1v1.4h-1zM159 74.7h1v1.4h-1zM163 74.7h1v1.4h-1zM49 76.1h2v1.4h-2zM54 76.1h1v1.4h-1zM64 76.1h1v1.4h-1zM73 76.1h1v1.4h-1zM75 76.1h1v1.4h-1zM78 76.1h2v1.4h-2zM90 76.1h1v1.4h-1zM92 76.1h1v1.4h-1zM115 76.1h2v1.4h-2zM149 76.1h2v1.4h-2zM46 77.5h1v1.4h-1zM48 77.5h1v1.4h-1zM51 77.5h2v1.4h-2zM56 77.5h1v1.4h-1zM60 77.5h1v1.4h-1zM63 77.5h1v1.4h-1zM66 77.5h2v1.4h-2zM69 77.5h2v1.4h-2zM72 77.5h1v1.4h-1zM74 77.5h1v1.4h-1zM86 77.5h4v1.4h-4zM91 77.5h1v1.4h-1zM94 77.5h3v1.4h-3zM98 77.5h3v1.4h-3zM102 77.5h1v1.4h-1zM105 77.5h1v1.4h-1zM108 77.5h2v1.4h-2zM112 77.5h2v1.4h-2zM117 77.5h1v1.4h-1zM123 77.5h1v1.4h-1zM127 77.5h1v1.4h-1zM132 77.5h1v1.4h-1zM138 77.5h1v1.4h-1zM140 77.5h1v1.4h-1zM143 77.5h1v1.4h-1zM145 77.5h1v1.4h-1zM148 77.5h1v1.4h-1zM152 77.5h1v1.4h-1zM154 77.5h4v1.4h-4zM162 77.5h3v1.4h-3zM46 78.8h1v1.4h-1zM48 78.8h1v1.4h-1zM50 78.8h2v1.4h-2zM53 78.8h1v1.4h-1zM65 78.8h4v1.4h-4zM74 78.8h1v1.4h-1zM76 78.8h1v1.4h-1zM78 78.8h1v1.4h-1zM80 78.8h1v1.4h-1zM84 78.8h2v1.4h-2zM90 78.8h1v1.4h-1zM92 78.8h1v1.4h-1zM98 78.8h1v1.4h-1zM104 78.8h1v1.4h-1zM114 78.8h1v1.4h-1zM116 78.8h1v1.4h-1zM127 78.8h1v1.4h-1zM132 78.8h1v1.4h-1zM138 78.8h2v1.4h-2zM148 78.8h1v1.4h-1zM151 78.8h1v1.4h-1zM154 78.8h1v1.4h-1zM159 78.8h1v1.4h-1zM163 78.8h2v1.4h-2zM47 80.2h1v1.4h-1zM52 80.2h1v1.4h-1zM56 80.2h1v1.4h-1zM58 80.2h3v1.4h-3zM62 80.2h1v1.4h-1zM70 80.2h2v1.4h-2zM89 80.2h1v1.4h-1zM95 80.2h3v1.4h-3zM99 80.2h1v1.4h-1zM103 80.2h1v1.4h-1zM105 80.2h2v1.4h-2zM108 80.2h6v1.4h-6zM119 80.2h1v1.4h-1zM123 80.2h2v1.4h-2zM126 80.2h1v1.4h-1zM129 80.2h2v1.4h-2zM137 80.2h1v1.4h-1zM141 80.2h3v1.4h-3zM145 80.2h2v1.4h-2zM148 80.2h1v1.4h-1zM152 80.2h2v1.4h-2zM156 80.2h1v1.4h-1zM167 80.2h1v1.4h-1zM57 93.6h3v1.5h-3zM62 93.6h1v1.5h-1zM71 93.6h1v1.5h-1zM82 93.6h1v1.5h-1zM95 93.6h1v1.5h-1zM99 93.6h1v1.5h-1zM101 93.6h3v1.5h-3zM110 93.6h1v1.5h-1zM118 93.6h1v1.5h-1zM121 93.6h4v1.5h-4zM126 93.6h1v1.5h-1zM128 93.6h1v1.5h-1zM130 93.6h2v1.5h-2zM135 93.6h3v1.5h-3zM141 93.6h1v1.5h-1zM147 93.6h1v1.5h-1zM161 93.6h1v1.5h-1zM51 95.1h1v1.5h-1zM55 95.1h2v1.5h-2zM60 95.1h1v1.5h-1zM63 95.1h1v1.5h-1zM68 95.1h1v1.5h-1zM70 95.1h1v1.5h-1zM74 95.1h1v1.5h-1zM86 95.1h2v1.5h-2zM89 95.1h1v1.5h-1zM96 95.1h1v1.5h-1zM98 95.1h1v1.5h-1zM100 95.1h1v1.5h-1zM104 95.1h2v1.5h-2zM108 95.1h1v1.5h-1zM110 95.1h2v1.5h-2zM113 95.1h1v1.5h-1zM138 95.1h3v1.5h-3zM143 95.1h1v1.5h-1zM145 95.1h1v1.5h-1zM148 95.1h1v1.5h-1zM152 95.1h1v1.5h-1zM155 95.1h3v1.5h-3zM162 95.1h1v1.5h-1zM47 96.6h1v1.5h-1zM51 96.6h1v1.5h-1zM53 96.6h1v1.5h-1zM55 96.6h2v1.5h-2zM60 96.6h1v1.5h-1zM68 96.6h3v1.5h-3zM74 96.6h1v1.5h-1zM86 96.6h1v1.5h-1zM88 96.6h2v1.5h-2zM91 96.6h1v1.5h-1zM94 96.6h1v1.5h-1zM96 96.6h1v1.5h-1zM98 96.6h1v1.5h-1zM100 96.6h1v1.5h-1zM106 96.6h1v1.5h-1zM111 96.6h4v1.5h-4zM117 96.6h1v1.5h-1zM129 96.6h1v1.5h-1zM137 96.6h1v1.5h-1zM140 96.6h1v1.5h-1zM143 96.6h1v1.5h-1zM145 96.6h1v1.5h-1zM148 96.6h1v1.5h-1zM152 96.6h1v1.5h-1zM157 96.6h1v1.5h-1zM162 96.6h1v1.5h-1zM164 96.6h1v1.5h-1zM48 98.1h1v1.5h-1zM55 98.1h1v1.5h-1zM59 98.1h2v1.5h-2zM69 98.1h2v1.5h-2zM74 98.1h1v1.5h-1zM80 98.1h1v1.5h-1zM86 98.1h1v1.5h-1zM88 98.1h1v1.5h-1zM94 98.1h3v1.5h-3zM98 98.1h1v1.5h-1zM100 98.1h1v1.5h-1zM105 98.1h2v1.5h-2zM108 98.1h1v1.5h-1zM110 98.1h3v1.5h-3zM117 98.1h1v1.5h-1zM124 98.1h1v1.5h-1zM126 98.1h1v1.5h-1zM137 98.1h1v1.5h-1zM143 98.1h1v1.5h-1zM148 98.1h1v1.5h-1zM156 98.1h1v1.5h-1zM162 98.1h1v1.5h-1zM164 98.1h1v1.5h-1zM167 98.1h1v1.5h-1zM61 112.5h1v1.2h-1zM82 112.5h2v1.2h-2zM120 112.5h3v1.2h-3zM125 112.5h1v1.2h-1zM128 112.5h1v1.2h-1zM131 112.5h1v1.2h-1zM133 112.5h1v1.2h-1zM153 112.5h1v1.2h-1zM160 112.5h2v1.2h-2zM165 112.5h2v1.2h-2zM82 113.8h2v1.2h-2zM101 113.8h1v1.2h-1zM107 113.8h1v1.2h-1zM120 113.8h2v1.2h-2zM125 113.8h1v1.2h-1zM128 113.8h1v1.2h-1zM130 113.8h2v1.2h-2zM135 113.8h2v1.2h-2zM144 113.8h1v1.2h-1zM153 113.8h1v1.2h-1zM161 113.8h1v1.2h-1zM165 113.8h2v1.2h-2zM45 121.9h1v1.5h-1zM49 121.9h1v1.5h-1zM75 121.9h1v1.5h-1zM77 121.9h1v1.5h-1zM149 121.9h2v1.5h-2zM158 121.9h1v1.5h-1zM46 124.9h1v1.5h-1zM48 124.9h1v1.5h-1zM50 124.9h1v1.5h-1zM53 124.9h1v1.5h-1zM60 124.9h1v1.5h-1zM63 124.9h1v1.5h-1zM66 124.9h4v1.5h-4zM73 124.9h2v1.5h-2zM80 124.9h1v1.5h-1zM84 124.9h3v1.5h-3zM88 124.9h1v1.5h-1zM91 124.9h2v1.5h-2zM104 124.9h1v1.5h-1zM108 124.9h1v1.5h-1zM132 124.9h1v1.5h-1zM138 124.9h3v1.5h-3zM152 124.9h1v1.5h-1zM155 124.9h1v1.5h-1zM159 124.9h1v1.5h-1zM163 124.9h2v1.5h-2zM46 126.4h1v1.5h-1zM48 126.4h1v1.5h-1zM50 126.4h2v1.5h-2zM53 126.4h1v1.5h-1zM55 126.4h2v1.5h-2zM60 126.4h1v1.5h-1zM63 126.4h1v1.5h-1zM66 126.4h1v1.5h-1zM68 126.4h3v1.5h-3zM74 126.4h1v1.5h-1zM80 126.4h1v1.5h-1zM85 126.4h3v1.5h-3zM91 126.4h1v1.5h-1zM94 126.4h1v1.5h-1zM98 126.4h1v1.5h-1zM104 126.4h3v1.5h-3zM112 126.4h1v1.5h-1zM114 126.4h2v1.5h-2zM117 126.4h1v1.5h-1zM127 126.4h1v1.5h-1zM132 126.4h1v1.5h-1zM138 126.4h2v1.5h-2zM145 126.4h1v1.5h-1zM152 126.4h1v1.5h-1zM155 126.4h1v1.5h-1zM157 126.4h1v1.5h-1zM159 126.4h1v1.5h-1zM162 126.4h3v1.5h-3zM46 127.9h1v1.5h-1zM48 127.9h1v1.5h-1zM50 127.9h1v1.5h-1zM53 127.9h1v1.5h-1zM55 127.9h1v1.5h-1zM60 127.9h1v1.5h-1zM63 127.9h1v1.5h-1zM66 127.9h4v1.5h-4zM74 127.9h1v1.5h-1zM79 127.9h2v1.5h-2zM84 127.9h4v1.5h-4zM91 127.9h2v1.5h-2zM96 127.9h1v1.5h-1zM98 127.9h1v1.5h-1zM104 127.9h1v1.5h-1zM114 127.9h1v1.5h-1zM117 127.9h1v1.5h-1zM132 127.9h1v1.5h-1zM138 127.9h3v1.5h-3zM145 127.9h1v1.5h-1zM151 127.9h2v1.5h-2zM154 127.9h2v1.5h-2zM157 127.9h1v1.5h-1zM159 127.9h1v1.5h-1zM163 127.9h2v1.5h-2zM47 129.3h1v1.5h-1zM51 129.3h2v1.5h-2zM55 129.3h2v1.5h-2zM59 129.3h1v1.5h-1zM62 129.3h1v1.5h-1zM70 129.3h3v1.5h-3zM94 129.3h3v1.5h-3zM98 129.3h2v1.5h-2zM102 129.3h2v1.5h-2zM105 129.3h2v1.5h-2zM108 129.3h1v1.5h-1zM110 129.3h2v1.5h-2zM113 129.3h1v1.5h-1zM123 129.3h1v1.5h-1zM127 129.3h1v1.5h-1zM129 129.3h1v1.5h-1zM143 129.3h1v1.5h-1zM146 129.3h1v1.5h-1zM148 129.3h1v1.5h-1zM156 129.3h1v1.5h-1zM164 129.3h1v1.5h-1zM52 130.8h1v1.6h-1zM57 130.8h1v1.6h-1zM59 130.8h1v1.6h-1zM62 130.8h1v1.6h-1zM70 130.8h1v1.6h-1zM72 130.8h1v1.6h-1zM99 130.8h1v1.6h-1zM101 130.8h2v1.6h-2zM109 130.8h1v1.6h-1zM118 130.8h1v1.6h-1zM121 130.8h2v1.6h-2zM129 130.8h3v1.6h-3zM135 130.8h2v1.6h-2zM141 130.8h2v1.6h-2zM144 130.8h1v1.6h-1zM147 130.8h2v1.6h-2zM160 130.8h2v1.6h-2zM166 130.8h2v1.6h-2zM50 132.4h1v1.6h-1zM53 132.4h1v1.6h-1zM65 132.4h1v1.6h-1zM73 132.4h1v1.6h-1zM78 132.4h1v1.6h-1zM84 132.4h2v1.6h-2zM87 132.4h1v1.6h-1zM90 132.4h1v1.6h-1zM92 132.4h1v1.6h-1zM117 132.4h1v1.6h-1zM138 132.4h2v1.6h-2zM151 132.4h1v1.6h-1zM154 132.4h1v1.6h-1zM159 132.4h1v1.6h-1zM163 132.4h1v1.6h-1zM52 134.0h1v1.6h-1zM57 134.0h1v1.6h-1zM59 134.0h1v1.6h-1zM62 134.0h1v1.6h-1zM70 134.0h2v1.6h-2zM82 134.0h2v1.6h-2zM93 134.0h1v1.6h-1zM97 134.0h1v1.6h-1zM101 134.0h1v1.6h-1zM106 134.0h2v1.6h-2zM110 134.0h1v1.6h-1zM118 134.0h2v1.6h-2zM122 134.0h3v1.6h-3zM126 134.0h1v1.6h-1zM129 134.0h3v1.6h-3zM133 134.0h1v1.6h-1zM135 134.0h1v1.6h-1zM141 134.0h2v1.6h-2zM144 134.0h1v1.6h-1zM147 134.0h1v1.6h-1zM153 134.0h1v1.6h-1zM47 135.5h2v1.6h-2zM51 135.5h1v1.6h-1zM60 135.5h1v1.6h-1zM68 135.5h1v1.6h-1zM72 135.5h1v1.6h-1zM74 135.5h1v1.6h-1zM84 135.5h1v1.6h-1zM87 135.5h2v1.6h-2zM91 135.5h1v1.6h-1zM94 135.5h1v1.6h-1zM96 135.5h1v1.6h-1zM98 135.5h1v1.6h-1zM100 135.5h1v1.6h-1zM106 135.5h1v1.6h-1zM108 135.5h1v1.6h-1zM113 135.5h1v1.6h-1zM117 135.5h1v1.6h-1zM127 135.5h1v1.6h-1zM139 135.5h1v1.6h-1zM143 135.5h1v1.6h-1zM145 135.5h1v1.6h-1zM148 135.5h1v1.6h-1zM152 135.5h1v1.6h-1zM154 135.5h2v1.6h-2zM157 135.5h1v1.6h-1zM159 135.5h1v1.6h-1zM162 135.5h1v1.6h-1zM164 135.5h1v1.6h-1zM57 137.1h2v1.6h-2zM83 137.1h1v1.6h-1zM107 137.1h1v1.6h-1zM118 137.1h3v1.6h-3zM130 137.1h2v1.6h-2zM133 137.1h1v1.6h-1zM135 137.1h2v1.6h-2zM160 137.1h2v1.6h-2zM165 137.1h1v1.6h-1zM47 138.7h1v1.6h-1zM52 138.7h1v1.6h-1zM57 138.7h3v1.6h-3zM71 138.7h2v1.6h-2zM82 138.7h2v1.6h-2zM95 138.7h1v1.6h-1zM97 138.7h1v1.6h-1zM99 138.7h1v1.6h-1zM101 138.7h1v1.6h-1zM103 138.7h1v1.6h-1zM106 138.7h1v1.6h-1zM113 138.7h1v1.6h-1zM118 138.7h1v1.6h-1zM122 138.7h3v1.6h-3zM126 138.7h1v1.6h-1zM131 138.7h1v1.6h-1zM135 138.7h3v1.6h-3zM141 138.7h1v1.6h-1zM144 138.7h1v1.6h-1zM147 138.7h1v1.6h-1zM153 138.7h1v1.6h-1zM167 138.7h1v1.6h-1zM47 140.3h1v1.6h-1zM56 140.3h1v1.6h-1zM59 140.3h1v1.6h-1zM62 140.3h1v1.6h-1zM70 140.3h1v1.6h-1zM72 140.3h1v1.6h-1zM82 140.3h1v1.6h-1zM86 140.3h1v1.6h-1zM88 140.3h2v1.6h-2zM95 140.3h1v1.6h-1zM97 140.3h1v1.6h-1zM99 140.3h2v1.6h-2zM103 140.3h1v1.6h-1zM108 140.3h1v1.6h-1zM110 140.3h1v1.6h-1zM112 140.3h2v1.6h-2zM118 140.3h1v1.6h-1zM123 140.3h1v1.6h-1zM126 140.3h1v1.6h-1zM130 140.3h1v1.6h-1zM137 140.3h1v1.6h-1zM141 140.3h3v1.6h-3zM146 140.3h1v1.6h-1zM156 140.3h1v1.6h-1zM52 142.0h1v1.6h-1zM57 142.0h3v1.6h-3zM62 142.0h1v1.6h-1zM71 142.0h1v1.6h-1zM82 142.0h2v1.6h-2zM93 142.0h1v1.6h-1zM101 142.0h2v1.6h-2zM106 142.0h1v1.6h-1zM110 142.0h1v1.6h-1zM118 142.0h2v1.6h-2zM121 142.0h2v1.6h-2zM124 142.0h1v1.6h-1zM128 142.0h2v1.6h-2zM131 142.0h1v1.6h-1zM135 142.0h1v1.6h-1zM141 142.0h2v1.6h-2zM144 142.0h1v1.6h-1zM147 142.0h1v1.6h-1zM153 142.0h1v1.6h-1zM166 142.0h2v1.6h-2zM48 146.6h1v1.5h-1zM51 146.6h1v1.5h-1zM55 146.6h1v1.5h-1zM60 146.6h1v1.5h-1zM63 146.6h1v1.5h-1zM65 146.6h5v1.5h-5zM74 146.6h1v1.5h-1zM80 146.6h1v1.5h-1zM84 146.6h7v1.5h-7zM104 146.6h1v1.5h-1zM114 146.6h1v1.5h-1zM117 146.6h1v1.5h-1zM127 146.6h1v1.5h-1zM132 146.6h1v1.5h-1zM139 146.6h2v1.5h-2zM145 146.6h1v1.5h-1zM151 146.6h2v1.5h-2zM154 146.6h2v1.5h-2zM157 146.6h1v1.5h-1zM162 146.6h3v1.5h-3zM52 148.1h1v1.5h-1zM57 148.1h1v1.5h-1zM62 148.1h1v1.5h-1zM72 148.1h1v1.5h-1zM82 148.1h1v1.5h-1zM93 148.1h1v1.5h-1zM96 148.1h2v1.5h-2zM102 148.1h1v1.5h-1zM107 148.1h1v1.5h-1zM109 148.1h2v1.5h-2zM118 148.1h2v1.5h-2zM122 148.1h1v1.5h-1zM124 148.1h1v1.5h-1zM131 148.1h1v1.5h-1zM136 148.1h1v1.5h-1zM141 148.1h3v1.5h-3zM146 148.1h2v1.5h-2zM153 148.1h1v1.5h-1zM167 148.1h1v1.5h-1zM47 149.6h1v1.5h-1zM52 149.6h1v1.5h-1zM56 149.6h1v1.5h-1zM59 149.6h1v1.5h-1zM62 149.6h1v1.5h-1zM72 149.6h1v1.5h-1zM82 149.6h1v1.5h-1zM93 149.6h1v1.5h-1zM96 149.6h1v1.5h-1zM99 149.6h1v1.5h-1zM101 149.6h3v1.5h-3zM105 149.6h1v1.5h-1zM108 149.6h6v1.5h-6zM118 149.6h1v1.5h-1zM121 149.6h1v1.5h-1zM123 149.6h2v1.5h-2zM126 149.6h1v1.5h-1zM129 149.6h2v1.5h-2zM136 149.6h2v1.5h-2zM141 149.6h4v1.5h-4zM156 149.6h1v1.5h-1zM167 149.6h1v1.5h-1zM46 151.0h1v1.5h-1zM48 151.0h1v1.5h-1zM51 151.0h1v1.5h-1zM55 151.0h2v1.5h-2zM63 151.0h1v1.5h-1zM66 151.0h4v1.5h-4zM74 151.0h1v1.5h-1zM80 151.0h1v1.5h-1zM84 151.0h2v1.5h-2zM88 151.0h2v1.5h-2zM91 151.0h2v1.5h-2zM104 151.0h1v1.5h-1zM113 151.0h1v1.5h-1zM116 151.0h2v1.5h-2zM127 151.0h1v1.5h-1zM132 151.0h1v1.5h-1zM138 151.0h1v1.5h-1zM140 151.0h1v1.5h-1zM145 151.0h1v1.5h-1zM148 151.0h1v1.5h-1zM155 151.0h1v1.5h-1zM157 151.0h1v1.5h-1zM159 151.0h1v1.5h-1zM163 151.0h2v1.5h-2zM46 152.5h1v1.5h-1zM48 152.5h1v1.5h-1zM51 152.5h1v1.5h-1zM55 152.5h2v1.5h-2zM60 152.5h1v1.5h-1zM63 152.5h1v1.5h-1zM66 152.5h4v1.5h-4zM74 152.5h1v1.5h-1zM86 152.5h4v1.5h-4zM91 152.5h1v1.5h-1zM94 152.5h1v1.5h-1zM104 152.5h1v1.5h-1zM113 152.5h2v1.5h-2zM117 152.5h1v1.5h-1zM127 152.5h1v1.5h-1zM132 152.5h1v1.5h-1zM138 152.5h3v1.5h-3zM145 152.5h2v1.5h-2zM151 152.5h2v1.5h-2zM154 152.5h1v1.5h-1zM156 152.5h2v1.5h-2zM162 152.5h3v1.5h-3zM81 157.5h1v1.5h-1zM134 157.5h1v1.5h-1zM134 158.9h1v1.5h-1zM81 163.4h1v1.5h-1zM81 164.8h1v1.5h-1zM125 164.8h1v1.5h-1zM134 164.8h1v1.5h-1zM45 179.1h1v1.7h-1zM49 179.1h1v1.7h-1zM54 179.1h1v1.7h-1zM64 179.1h1v1.7h-1zM73 179.1h1v1.7h-1zM75 179.1h1v1.7h-1zM78 179.1h2v1.7h-2zM116 179.1h1v1.7h-1zM149 179.1h2v1.7h-2zM45 180.8h1v1.7h-1zM49 180.8h2v1.7h-2zM54 180.8h2v1.7h-2zM64 180.8h2v1.7h-2zM68 180.8h1v1.7h-1zM73 180.8h1v1.7h-1zM75 180.8h3v1.7h-3zM80 180.8h1v1.7h-1zM84 180.8h1v1.7h-1zM92 180.8h1v1.7h-1zM114 180.8h3v1.7h-3zM149 180.8h1v1.7h-1zM45 182.4h1v1.7h-1zM50 182.4h2v1.7h-2zM53 182.4h1v1.7h-1zM55 182.4h1v1.7h-1zM63 182.4h7v1.7h-7zM73 182.4h1v1.7h-1zM75 182.4h2v1.7h-2zM78 182.4h3v1.7h-3zM84 182.4h2v1.7h-2zM87 182.4h1v1.7h-1zM92 182.4h1v1.7h-1zM98 182.4h1v1.7h-1zM104 182.4h1v1.7h-1zM115 182.4h1v1.7h-1zM127 182.4h1v1.7h-1zM138 182.4h1v1.7h-1zM140 182.4h1v1.7h-1zM145 182.4h1v1.7h-1zM151 182.4h1v1.7h-1zM154 182.4h1v1.7h-1zM159 182.4h1v1.7h-1zM163 182.4h1v1.7h-1zM170 56.0h1v1.7h-1zM208 56.0h2v1.7h-2zM231 56.0h1v1.7h-1zM168 66.2h1v1.9h-1zM170 66.2h1v1.9h-1zM174 66.2h2v1.9h-2zM209 66.2h2v1.9h-2zM219 66.2h1v1.9h-1zM231 66.2h1v1.9h-1zM239 66.2h3v1.9h-3zM255 66.2h1v1.9h-1zM170 68.1h1v1.8h-1zM199 68.1h1v1.8h-1zM208 68.1h1v1.8h-1zM231 68.1h1v1.8h-1zM196 69.9h3v1.5h-3zM204 69.9h1v1.5h-1zM206 69.9h1v1.5h-1zM213 69.9h1v1.5h-1zM215 69.9h1v1.5h-1zM218 69.9h1v1.5h-1zM222 69.9h1v1.5h-1zM224 69.9h1v1.5h-1zM226 69.9h1v1.5h-1zM253 69.9h1v1.5h-1zM256 69.9h1v1.5h-1zM258 69.9h1v1.5h-1zM261 69.9h1v1.5h-1zM263 69.9h1v1.5h-1zM265 69.9h1v1.5h-1zM190 71.4h1v1.5h-1zM195 71.4h1v1.5h-1zM197 71.4h2v1.5h-2zM201 71.4h1v1.5h-1zM203 71.4h2v1.5h-2zM206 71.4h1v1.5h-1zM215 71.4h1v1.5h-1zM218 71.4h1v1.5h-1zM220 71.4h1v1.5h-1zM222 71.4h1v1.5h-1zM224 71.4h1v1.5h-1zM253 71.4h2v1.5h-2zM261 71.4h1v1.5h-1zM191 72.8h1v1.5h-1zM196 72.8h1v1.5h-1zM205 72.8h2v1.5h-2zM212 72.8h2v1.5h-2zM221 72.8h1v1.5h-1zM225 72.8h2v1.5h-2zM256 72.8h1v1.5h-1zM265 72.8h1v1.5h-1zM191 74.3h1v1.5h-1zM196 74.3h3v1.5h-3zM205 74.3h2v1.5h-2zM212 74.3h2v1.5h-2zM220 74.3h1v1.5h-1zM225 74.3h2v1.5h-2zM256 74.3h1v1.5h-1zM258 74.3h1v1.5h-1zM260 74.3h1v1.5h-1zM265 74.3h1v1.5h-1zM187 75.7h4v1.5h-4zM197 75.7h1v1.5h-1zM201 75.7h1v1.5h-1zM203 75.7h2v1.5h-2zM211 75.7h1v1.5h-1zM218 75.7h1v1.5h-1zM222 75.7h1v1.5h-1zM255 75.7h1v1.5h-1zM262 75.7h1v1.5h-1zM189 77.2h2v1.5h-2zM197 77.2h2v1.5h-2zM201 77.2h1v1.5h-1zM204 77.2h1v1.5h-1zM206 77.2h1v1.5h-1zM213 77.2h1v1.5h-1zM215 77.2h1v1.5h-1zM220 77.2h1v1.5h-1zM222 77.2h1v1.5h-1zM224 77.2h1v1.5h-1zM253 77.2h2v1.5h-2zM260 77.2h2v1.5h-2zM263 77.2h1v1.5h-1zM189 78.6h2v1.5h-2zM195 78.6h1v1.5h-1zM198 78.6h1v1.5h-1zM201 78.6h1v1.5h-1zM206 78.6h1v1.5h-1zM215 78.6h1v1.5h-1zM218 78.6h1v1.5h-1zM220 78.6h1v1.5h-1zM224 78.6h1v1.5h-1zM254 78.6h1v1.5h-1zM261 78.6h1v1.5h-1zM171 80.1h3v1.7h-3zM183 80.1h2v1.7h-2zM235 80.1h1v1.7h-1zM238 80.1h1v1.7h-1zM243 80.1h1v1.7h-1zM245 80.1h1v1.7h-1zM251 80.1h1v1.7h-1zM172 81.8h1v1.7h-1zM177 81.8h1v1.7h-1zM181 81.8h2v1.7h-2zM185 81.8h1v1.7h-1zM228 81.8h1v1.7h-1zM234 81.8h1v1.7h-1zM236 81.8h1v1.7h-1zM238 81.8h1v1.7h-1zM246 81.8h2v1.7h-2zM249 81.8h1v1.7h-1zM172 83.5h1v1.7h-1zM178 83.5h1v1.7h-1zM182 83.5h1v1.7h-1zM185 83.5h1v1.7h-1zM228 83.5h1v1.7h-1zM236 83.5h1v1.7h-1zM246 83.5h1v1.7h-1zM249 83.5h3v1.7h-3zM171 88.8h3v1.5h-3zM181 88.8h2v1.5h-2zM184 88.8h4v1.5h-4zM189 88.8h2v1.5h-2zM195 88.8h1v1.5h-1zM197 88.8h2v1.5h-2zM201 88.8h1v1.5h-1zM203 88.8h2v1.5h-2zM206 88.8h1v1.5h-1zM218 88.8h1v1.5h-1zM220 88.8h1v1.5h-1zM222 88.8h2v1.5h-2zM169 90.3h1v1.5h-1zM171 90.3h1v1.5h-1zM173 90.3h1v1.5h-1zM176 90.3h1v1.5h-1zM181 90.3h4v1.5h-4zM187 90.3h2v1.5h-2zM190 90.3h1v1.5h-1zM192 90.3h1v1.5h-1zM194 90.3h1v1.5h-1zM197 90.3h2v1.5h-2zM203 90.3h2v1.5h-2zM218 90.3h1v1.5h-1zM220 90.3h1v1.5h-1zM223 90.3h1v1.5h-1zM177 91.7h2v1.5h-2zM180 91.7h1v1.5h-1zM191 91.7h1v1.5h-1zM197 91.7h1v1.5h-1zM205 91.7h1v1.5h-1zM213 91.7h1v1.5h-1zM215 91.7h1v1.5h-1zM225 91.7h2v1.5h-2zM172 93.2h1v1.5h-1zM181 93.2h1v1.5h-1zM184 93.2h3v1.5h-3zM189 93.2h2v1.5h-2zM197 93.2h2v1.5h-2zM203 93.2h2v1.5h-2zM215 93.2h1v1.5h-1zM218 93.2h1v1.5h-1zM220 93.2h1v1.5h-1zM222 93.2h2v1.5h-2zM225 93.2h1v1.5h-1zM177 94.6h4v1.5h-4zM196 94.6h2v1.5h-2zM205 94.6h1v1.5h-1zM207 94.6h1v1.5h-1zM212 94.6h1v1.5h-1zM225 94.6h2v1.5h-2zM177 96.1h1v1.5h-1zM180 96.1h2v1.5h-2zM191 96.1h1v1.5h-1zM196 96.1h2v1.5h-2zM212 96.1h2v1.5h-2zM220 96.1h1v1.5h-1zM224 96.1h2v1.5h-2zM177 97.5h4v1.5h-4zM191 97.5h1v1.5h-1zM196 97.5h1v1.5h-1zM213 97.5h1v1.5h-1zM215 97.5h1v1.5h-1zM221 97.5h1v1.5h-1zM224 97.5h3v1.5h-3zM170 110.7h1v1.4h-1zM174 110.7h1v1.4h-1zM193 110.7h1v1.4h-1zM200 110.7h1v1.4h-1zM209 110.7h3v1.4h-3zM219 110.7h1v1.4h-1zM237 110.7h1v1.4h-1zM247 110.7h2v1.4h-2zM168 112.1h1v1.4h-1zM174 112.1h2v1.4h-2zM193 112.1h2v1.4h-2zM200 112.1h1v1.4h-1zM208 112.1h1v1.4h-1zM210 112.1h1v1.4h-1zM237 112.1h1v1.4h-1zM247 112.1h2v1.4h-2zM169 113.6h1v1.4h-1zM173 113.6h4v1.4h-4zM183 113.6h1v1.4h-1zM192 113.6h1v1.4h-1zM194 113.6h1v1.4h-1zM200 113.6h1v1.4h-1zM223 113.6h1v1.4h-1zM237 113.6h1v1.4h-1zM248 113.6h1v1.4h-1zM230 115.0h1v1.8h-1zM232 115.0h2v1.8h-2zM244 115.0h2v1.8h-2zM253 115.0h2v1.8h-2zM256 115.0h1v1.8h-1zM260 115.0h2v1.8h-2zM229 116.8h2v1.8h-2zM239 116.8h2v1.8h-2zM242 116.8h1v1.8h-1zM244 116.8h1v1.8h-1zM253 116.8h1v1.8h-1zM260 116.8h1v1.8h-1zM202 118.6h1v1.5h-1zM216 118.6h2v1.5h-2zM202 120.1h1v1.5h-1zM212 120.1h1v1.5h-1zM214 120.1h1v1.5h-1zM216 120.1h2v1.5h-2zM221 120.1h1v1.5h-1zM227 120.1h1v1.5h-1zM202 121.6h1v1.5h-1zM207 121.6h1v1.5h-1zM212 121.6h1v1.5h-1zM214 121.6h1v1.5h-1zM216 121.6h2v1.5h-2zM180 123.0h1v1.5h-1zM196 123.0h1v1.5h-1zM202 123.0h1v1.5h-1zM207 123.0h1v1.5h-1zM212 123.0h1v1.5h-1zM214 123.0h1v1.5h-1zM216 123.0h2v1.5h-2zM221 123.0h1v1.5h-1zM202 124.5h1v1.5h-1zM216 124.5h2v1.5h-2zM169 126.0h1v1.5h-1zM171 126.0h1v1.5h-1zM173 126.0h1v1.5h-1zM183 126.0h2v1.5h-2zM187 126.0h2v1.5h-2zM192 126.0h1v1.5h-1zM194 126.0h1v1.5h-1zM201 126.0h1v1.5h-1zM211 126.0h1v1.5h-1zM223 126.0h1v1.5h-1zM233 126.0h1v1.5h-1zM235 126.0h1v1.5h-1zM243 126.0h2v1.5h-2zM256 126.0h1v1.5h-1zM265 126.0h1v1.5h-1zM171 127.5h2v1.5h-2zM181 127.5h2v1.5h-2zM184 127.5h1v1.5h-1zM186 127.5h2v1.5h-2zM190 127.5h1v1.5h-1zM195 127.5h1v1.5h-1zM198 127.5h1v1.5h-1zM201 127.5h1v1.5h-1zM203 127.5h2v1.5h-2zM206 127.5h1v1.5h-1zM215 127.5h1v1.5h-1zM218 127.5h1v1.5h-1zM220 127.5h1v1.5h-1zM222 127.5h3v1.5h-3zM234 127.5h1v1.5h-1zM238 127.5h1v1.5h-1zM250 127.5h2v1.5h-2zM259 127.5h1v1.5h-1zM264 127.5h1v1.5h-1zM267 127.5h1v1.5h-1zM169 129.0h1v1.5h-1zM171 129.0h1v1.5h-1zM173 129.0h4v1.5h-4zM192 129.0h1v1.5h-1zM200 129.0h1v1.5h-1zM210 129.0h2v1.5h-2zM233 129.0h1v1.5h-1zM240 129.0h1v1.5h-1zM243 129.0h2v1.5h-2zM253 129.0h2v1.5h-2zM256 129.0h1v1.5h-1zM260 129.0h2v1.5h-2zM171 130.6h2v1.5h-2zM181 130.6h1v1.5h-1zM183 130.6h8v1.5h-8zM192 130.6h1v1.5h-1zM194 130.6h2v1.5h-2zM198 130.6h1v1.5h-1zM201 130.6h1v1.5h-1zM203 130.6h2v1.5h-2zM218 130.6h1v1.5h-1zM234 130.6h2v1.5h-2zM238 130.6h1v1.5h-1zM243 130.6h1v1.5h-1zM245 130.6h2v1.5h-2zM258 130.6h2v1.5h-2zM169 132.1h1v1.5h-1zM173 132.1h1v1.5h-1zM176 132.1h1v1.5h-1zM187 132.1h2v1.5h-2zM192 132.1h1v1.5h-1zM194 132.1h1v1.5h-1zM211 132.1h1v1.5h-1zM219 132.1h1v1.5h-1zM223 132.1h1v1.5h-1zM233 132.1h1v1.5h-1zM235 132.1h1v1.5h-1zM243 132.1h1v1.5h-1zM254 132.1h1v1.5h-1zM256 132.1h1v1.5h-1zM260 132.1h1v1.5h-1zM265 132.1h1v1.5h-1zM168 133.6h1v1.5h-1zM174 133.6h2v1.5h-2zM193 133.6h1v1.5h-1zM199 133.6h1v1.5h-1zM208 133.6h1v1.5h-1zM210 133.6h1v1.5h-1zM219 133.6h1v1.5h-1zM232 133.6h1v1.5h-1zM239 133.6h2v1.5h-2zM242 133.6h1v1.5h-1zM252 133.6h3v1.5h-3zM260 133.6h1v1.5h-1zM171 135.1h1v1.5h-1zM173 135.1h1v1.5h-1zM182 135.1h3v1.5h-3zM186 135.1h2v1.5h-2zM189 135.1h2v1.5h-2zM195 135.1h1v1.5h-1zM201 135.1h1v1.5h-1zM203 135.1h2v1.5h-2zM206 135.1h1v1.5h-1zM218 135.1h1v1.5h-1zM222 135.1h3v1.5h-3zM234 135.1h2v1.5h-2zM238 135.1h1v1.5h-1zM243 135.1h3v1.5h-3zM250 135.1h1v1.5h-1zM256 135.1h1v1.5h-1zM258 135.1h2v1.5h-2zM265 135.1h2v1.5h-2zM169 136.6h1v1.5h-1zM171 136.6h1v1.5h-1zM173 136.6h1v1.5h-1zM175 136.6h2v1.5h-2zM184 136.6h1v1.5h-1zM188 136.6h1v1.5h-1zM192 136.6h1v1.5h-1zM223 136.6h1v1.5h-1zM233 136.6h1v1.5h-1zM239 136.6h1v1.5h-1zM243 136.6h2v1.5h-2zM260 136.6h2v1.5h-2zM265 136.6h1v1.5h-1zM172 138.1h2v1.5h-2zM182 138.1h1v1.5h-1zM184 138.1h1v1.5h-1zM186 138.1h2v1.5h-2zM189 138.1h2v1.5h-2zM194 138.1h2v1.5h-2zM201 138.1h1v1.5h-1zM203 138.1h2v1.5h-2zM218 138.1h1v1.5h-1zM220 138.1h1v1.5h-1zM222 138.1h3v1.5h-3zM234 138.1h2v1.5h-2zM238 138.1h1v1.5h-1zM244 138.1h1v1.5h-1zM250 138.1h2v1.5h-2zM258 138.1h2v1.5h-2zM264 138.1h2v1.5h-2zM267 138.1h1v1.5h-1zM173 139.7h1v1.5h-1zM183 139.7h2v1.5h-2zM186 139.7h1v1.5h-1zM189 139.7h1v1.5h-1zM194 139.7h1v1.5h-1zM198 139.7h1v1.5h-1zM204 139.7h1v1.5h-1zM223 139.7h1v1.5h-1zM234 139.7h2v1.5h-2zM243 139.7h4v1.5h-4zM250 139.7h2v1.5h-2zM258 139.7h1v1.5h-1zM265 139.7h1v1.5h-1zM168 141.2h1v1.5h-1zM170 141.2h1v1.5h-1zM174 141.2h1v1.5h-1zM193 141.2h2v1.5h-2zM199 141.2h2v1.5h-2zM208 141.2h3v1.5h-3zM219 141.2h1v1.5h-1zM232 141.2h2v1.5h-2zM239 141.2h2v1.5h-2zM252 141.2h4v1.5h-4zM260 141.2h2v1.5h-2zM263 141.2h1v1.5h-1zM169 147.8h1v1.7h-1zM171 147.8h1v1.7h-1zM174 147.8h3v1.7h-3zM183 147.8h1v1.7h-1zM188 147.8h1v1.7h-1zM192 147.8h1v1.7h-1zM194 147.8h1v1.7h-1zM200 147.8h1v1.7h-1zM211 147.8h1v1.7h-1zM223 147.8h1v1.7h-1zM232 147.8h2v1.7h-2zM239 147.8h2v1.7h-2zM242 147.8h1v1.7h-1zM252 147.8h4v1.7h-4zM260 147.8h4v1.7h-4zM171 149.5h1v1.7h-1zM174 149.5h3v1.7h-3zM188 149.5h1v1.7h-1zM193 149.5h1v1.7h-1zM199 149.5h1v1.7h-1zM210 149.5h1v1.7h-1zM223 149.5h1v1.7h-1zM232 149.5h1v1.7h-1zM239 149.5h2v1.7h-2zM242 149.5h1v1.7h-1zM253 149.5h2v1.7h-2zM262 149.5h2v1.7h-2zM171 151.3h1v1.7h-1zM173 151.3h1v1.7h-1zM183 151.3h2v1.7h-2zM187 151.3h3v1.7h-3zM192 151.3h1v1.7h-1zM194 151.3h1v1.7h-1zM211 151.3h1v1.7h-1zM232 151.3h2v1.7h-2zM253 151.3h1v1.7h-1zM256 151.3h1v1.7h-1zM260 151.3h4v1.7h-4zM169 155.9h1v1.6h-1zM173 155.9h2v1.6h-2zM176 155.9h1v1.6h-1zM200 155.9h1v1.6h-1zM208 155.9h1v1.6h-1zM210 155.9h1v1.6h-1zM232 155.9h1v1.6h-1zM239 155.9h2v1.6h-2zM252 155.9h1v1.6h-1zM262 155.9h2v1.6h-2zM170 157.5h1v1.6h-1zM209 157.5h1v1.6h-1zM169 160.6h1v1.6h-1zM174 160.6h1v1.6h-1zM176 160.6h1v1.6h-1zM193 160.6h1v1.6h-1zM199 160.6h1v1.6h-1zM208 160.6h1v1.6h-1zM219 160.6h1v1.6h-1zM241 160.6h1v1.6h-1zM255 160.6h1v1.6h-1zM168 162.2h1v1.6h-1zM170 162.2h1v1.6h-1zM174 162.2h1v1.6h-1zM193 162.2h1v1.6h-1zM199 162.2h1v1.6h-1zM208 162.2h1v1.6h-1zM210 162.2h1v1.6h-1zM231 162.2h1v1.6h-1zM240 162.2h2v1.6h-2zM214 169.7h1v1.7h-1zM248 169.7h1v1.7h-1zM216 173.0h1v1.7h-1zM247 173.0h2v1.7h-2zM212 174.7h1v1.7h-1zM214 174.7h1v1.7h-1zM216 174.7h2v1.7h-2zM221 174.7h1v1.7h-1zM247 174.7h3v1.7h-3z"/>
<path fill="#b0b0b0" d="M81 67.8h1v1.4h-1zM125 67.8h1v1.4h-1zM134 67.8h1v1.4h-1zM161 67.8h1v1.4h-1zM165 67.8h1v1.4h-1zM134 69.2h1v1.4h-1zM45 70.6h1v1.4h-1zM49 70.6h2v1.4h-2zM53 70.6h1v1.4h-1zM73 70.6h1v1.4h-1zM75 70.6h5v1.4h-5zM90 70.6h1v1.4h-1zM116 70.6h1v1.4h-1zM149 70.6h3v1.4h-3zM158 70.6h1v1.4h-1zM73 72.0h1v1.4h-1zM77 72.0h1v1.4h-1zM150 72.0h1v1.4h-1zM158 72.0h1v1.4h-1zM46 73.3h3v1.4h-3zM50 73.3h2v1.4h-2zM53 73.3h1v1.4h-1zM55 73.3h2v1.4h-2zM63 73.3h1v1.4h-1zM65 73.3h5v1.4h-5zM74 73.3h1v1.4h-1zM80 73.3h1v1.4h-1zM84 73.3h9v1.4h-9zM94 73.3h1v1.4h-1zM98 73.3h1v1.4h-1zM100 73.3h1v1.4h-1zM104 73.3h1v1.4h-1zM113 73.3h2v1.4h-2zM117 73.3h1v1.4h-1zM127 73.3h1v1.4h-1zM132 73.3h1v1.4h-1zM138 73.3h3v1.4h-3zM145 73.3h1v1.4h-1zM148 73.3h1v1.4h-1zM151 73.3h2v1.4h-2zM154 73.3h4v1.4h-4zM159 73.3h1v1.4h-1zM162 73.3h3v1.4h-3zM47 74.7h1v1.4h-1zM51 74.7h1v1.4h-1zM56 74.7h1v1.4h-1zM60 74.7h1v1.4h-1zM69 74.7h4v1.4h-4zM86 74.7h2v1.4h-2zM89 74.7h1v1.4h-1zM93 74.7h4v1.4h-4zM98 74.7h3v1.4h-3zM103 74.7h1v1.4h-1zM105 74.7h2v1.4h-2zM108 74.7h1v1.4h-1zM110 74.7h4v1.4h-4zM123 74.7h1v1.4h-1zM129 74.7h1v1.4h-1zM132 74.7h1v1.4h-1zM137 74.7h1v1.4h-1zM140 74.7h4v1.4h-4zM146 74.7h1v1.4h-1zM148 74.7h1v1.4h-1zM154 74.7h1v1.4h-1zM156 74.7h1v1.4h-1zM162 74.7h1v1.4h-1zM164 74.7h1v1.4h-1zM167 74.7h1v1.4h-1zM45 76.1h2v1.4h-2zM48 76.1h1v1.4h-1zM51 76.1h1v1.4h-1zM53 76.1h1v1.4h-1zM63 76.1h1v1.4h-1zM65 76.1h1v1.4h-1zM67 76.1h2v1.4h-2zM74 76.1h1v1.4h-1zM76 76.1h1v1.4h-1zM80 76.1h1v1.4h-1zM84 76.1h2v1.4h-2zM87 76.1h1v1.4h-1zM89 76.1h1v1.4h-1zM91 76.1h1v1.4h-1zM98 76.1h1v1.4h-1zM104 76.1h1v1.4h-1zM114 76.1h1v1.4h-1zM117 76.1h1v1.4h-1zM127 76.1h1v1.4h-1zM132 76.1h1v1.4h-1zM138 76.1h1v1.4h-1zM151 76.1h2v1.4h-2zM154 76.1h2v1.4h-2zM159 76.1h1v1.4h-1zM162 76.1h3v1.4h-3zM47 77.5h1v1.4h-1zM57 77.5h1v1.4h-1zM59 77.5h1v1.4h-1zM62 77.5h1v1.4h-1zM71 77.5h1v1.4h-1zM82 77.5h2v1.4h-2zM93 77.5h1v1.4h-1zM97 77.5h1v1.4h-1zM103 77.5h1v1.4h-1zM106 77.5h1v1.4h-1zM110 77.5h2v1.4h-2zM118 77.5h2v1.4h-2zM121 77.5h2v1.4h-2zM124 77.5h1v1.4h-1zM126 77.5h1v1.4h-1zM129 77.5h3v1.4h-3zM135 77.5h3v1.4h-3zM141 77.5h2v1.4h-2zM146 77.5h2v1.4h-2zM166 77.5h2v1.4h-2zM47 78.8h1v1.4h-1zM52 78.8h1v1.4h-1zM55 78.8h2v1.4h-2zM59 78.8h2v1.4h-2zM62 78.8h2v1.4h-2zM69 78.8h2v1.4h-2zM86 78.8h4v1.4h-4zM91 78.8h1v1.4h-1zM93 78.8h4v1.4h-4zM100 78.8h1v1.4h-1zM103 78.8h1v1.4h-1zM105 78.8h2v1.4h-2zM108 78.8h1v1.4h-1zM110 78.8h4v1.4h-4zM117 78.8h1v1.4h-1zM126 78.8h1v1.4h-1zM129 78.8h1v1.4h-1zM140 78.8h2v1.4h-2zM143 78.8h1v1.4h-1zM145 78.8h2v1.4h-2zM152 78.8h1v1.4h-1zM155 78.8h3v1.4h-3zM162 78.8h1v1.4h-1zM167 78.8h1v1.4h-1zM57 80.2h1v1.4h-1zM72 80.2h1v1.4h-1zM82 80.2h2v1.4h-2zM93 80.2h1v1.4h-1zM101 80.2h2v1.4h-2zM107 80.2h1v1.4h-1zM118 80.2h1v1.4h-1zM120 80.2h3v1.4h-3zM128 80.2h1v1.4h-1zM131 80.2h1v1.4h-1zM133 80.2h1v1.4h-1zM135 80.2h2v1.4h-2zM144 80.2h1v1.4h-1zM147 80.2h1v1.4h-1zM160 80.2h2v1.4h-2zM165 80.2h2v1.4h-2zM77 91.9h1v1.7h-1zM83 93.6h1v1.5h-1zM97 93.6h1v1.5h-1zM107 93.6h1v1.5h-1zM119 93.6h2v1.5h-2zM125 93.6h1v1.5h-1zM133 93.6h1v1.5h-1zM142 93.6h1v1.5h-1zM144 93.6h1v1.5h-1zM153 93.6h1v1.5h-1zM160 93.6h1v1.5h-1zM165 93.6h2v1.5h-2zM47 95.1h1v1.5h-1zM52 95.1h1v1.5h-1zM59 95.1h1v1.5h-1zM62 95.1h1v1.5h-1zM72 95.1h1v1.5h-1zM88 95.1h1v1.5h-1zM93 95.1h1v1.5h-1zM95 95.1h1v1.5h-1zM97 95.1h1v1.5h-1zM99 95.1h1v1.5h-1zM101 95.1h1v1.5h-1zM103 95.1h1v1.5h-1zM106 95.1h1v1.5h-1zM109 95.1h1v1.5h-1zM112 95.1h1v1.5h-1zM118 95.1h2v1.5h-2zM123 95.1h2v1.5h-2zM126 95.1h1v1.5h-1zM129 95.1h2v1.5h-2zM137 95.1h1v1.5h-1zM141 95.1h2v1.5h-2zM146 95.1h1v1.5h-1zM153 95.1h1v1.5h-1zM161 95.1h1v1.5h-1zM167 95.1h1v1.5h-1zM52 96.6h1v1.5h-1zM57 96.6h3v1.5h-3zM62 96.6h1v1.5h-1zM71 96.6h2v1.5h-2zM83 96.6h1v1.5h-1zM93 96.6h1v1.5h-1zM95 96.6h1v1.5h-1zM97 96.6h1v1.5h-1zM102 96.6h2v1.5h-2zM105 96.6h1v1.5h-1zM108 96.6h3v1.5h-3zM119 96.6h1v1.5h-1zM121 96.6h1v1.5h-1zM123 96.6h2v1.5h-2zM126 96.6h1v1.5h-1zM130 96.6h1v1.5h-1zM141 96.6h2v1.5h-2zM146 96.6h1v1.5h-1zM153 96.6h1v1.5h-1zM156 96.6h1v1.5h-1zM167 96.6h1v1.5h-1zM47 98.1h1v1.5h-1zM52 98.1h1v1.5h-1zM58 98.1h1v1.5h-1zM62 98.1h1v1.5h-1zM71 98.1h2v1.5h-2zM82 98.1h2v1.5h-2zM93 98.1h1v1.5h-1zM97 98.1h1v1.5h-1zM99 98.1h1v1.5h-1zM101 98.1h3v1.5h-3zM107 98.1h1v1.5h-1zM109 98.1h1v1.5h-1zM113 98.1h1v1.5h-1zM118 98.1h2v1.5h-2zM128 98.1h2v1.5h-2zM131 98.1h1v1.5h-1zM141 98.1h2v1.5h-2zM144 98.1h3v1.5h-3zM153 98.1h1v1.5h-1zM161 98.1h1v1.5h-1zM166 98.1h1v1.5h-1zM81 112.5h1v1.2h-1zM134 112.5h1v1.2h-1zM58 113.8h1v1.2h-1zM61 113.8h1v1.2h-1zM81 113.8h1v1.2h-1zM133 113.8h2v1.2h-2zM158 120.4h1v1.5h-1zM46 121.9h1v1.5h-1zM48 121.9h1v1.5h-1zM50 121.9h1v1.5h-1zM53 121.9h2v1.5h-2zM60 121.9h1v1.5h-1zM64 121.9h6v1.5h-6zM73 121.9h1v1.5h-1zM76 121.9h1v1.5h-1zM78 121.9h3v1.5h-3zM84 121.9h1v1.5h-1zM87 121.9h1v1.5h-1zM90 121.9h1v1.5h-1zM92 121.9h1v1.5h-1zM98 121.9h1v1.5h-1zM104 121.9h1v1.5h-1zM114 121.9h4v1.5h-4zM127 121.9h1v1.5h-1zM132 121.9h1v1.5h-1zM138 121.9h2v1.5h-2zM151 121.9h1v1.5h-1zM154 121.9h1v1.5h-1zM157 121.9h1v1.5h-1zM163 121.9h1v1.5h-1zM54 123.4h1v1.5h-1zM73 123.4h1v1.5h-1zM77 123.4h3v1.5h-3zM150 123.4h1v1.5h-1zM158 123.4h1v1.5h-1zM47 124.9h1v1.5h-1zM51 124.9h2v1.5h-2zM55 124.9h2v1.5h-2zM59 124.9h1v1.5h-1zM62 124.9h1v1.5h-1zM70 124.9h1v1.5h-1zM72 124.9h1v1.5h-1zM87 124.9h1v1.5h-1zM89 124.9h1v1.5h-1zM94 124.9h7v1.5h-7zM103 124.9h1v1.5h-1zM105 124.9h2v1.5h-2zM109 124.9h1v1.5h-1zM112 124.9h2v1.5h-2zM117 124.9h1v1.5h-1zM123 124.9h1v1.5h-1zM126 124.9h2v1.5h-2zM137 124.9h1v1.5h-1zM142 124.9h2v1.5h-2zM145 124.9h1v1.5h-1zM148 124.9h1v1.5h-1zM154 124.9h1v1.5h-1zM156 124.9h2v1.5h-2zM162 124.9h1v1.5h-1zM47 126.4h1v1.5h-1zM52 126.4h1v1.5h-1zM59 126.4h1v1.5h-1zM62 126.4h1v1.5h-1zM71 126.4h2v1.5h-2zM88 126.4h2v1.5h-2zM93 126.4h1v1.5h-1zM95 126.4h3v1.5h-3zM99 126.4h2v1.5h-2zM102 126.4h2v1.5h-2zM108 126.4h4v1.5h-4zM113 126.4h1v1.5h-1zM118 126.4h1v1.5h-1zM124 126.4h1v1.5h-1zM126 126.4h1v1.5h-1zM129 126.4h1v1.5h-1zM140 126.4h1v1.5h-1zM143 126.4h1v1.5h-1zM146 126.4h3v1.5h-3zM156 126.4h1v1.5h-1zM167 126.4h1v1.5h-1zM47 127.9h1v1.5h-1zM51 127.9h2v1.5h-2zM56 127.9h1v1.5h-1zM59 127.9h1v1.5h-1zM62 127.9h1v1.5h-1zM70 127.9h1v1.5h-1zM72 127.9h1v1.5h-1zM88 127.9h2v1.5h-2zM94 127.9h2v1.5h-2zM99 127.9h2v1.5h-2zM105 127.9h2v1.5h-2zM108 127.9h6v1.5h-6zM123 127.9h2v1.5h-2zM126 127.9h2v1.5h-2zM137 127.9h1v1.5h-1zM143 127.9h1v1.5h-1zM146 127.9h1v1.5h-1zM156 127.9h1v1.5h-1zM162 127.9h1v1.5h-1zM57 129.3h2v1.5h-2zM82 129.3h2v1.5h-2zM93 129.3h1v1.5h-1zM97 129.3h1v1.5h-1zM101 129.3h1v1.5h-1zM109 129.3h1v1.5h-1zM118 129.3h5v1.5h-5zM124 129.3h1v1.5h-1zM126 129.3h1v1.5h-1zM130 129.3h2v1.5h-2zM135 129.3h3v1.5h-3zM141 129.3h2v1.5h-2zM144 129.3h1v1.5h-1zM147 129.3h1v1.5h-1zM153 129.3h1v1.5h-1zM160 129.3h1v1.5h-1zM166 129.3h2v1.5h-2zM58 130.8h1v1.6h-1zM71 130.8h1v1.6h-1zM82 130.8h2v1.6h-2zM107 130.8h1v1.6h-1zM119 130.8h2v1.6h-2zM125 130.8h1v1.6h-1zM128 130.8h1v1.6h-1zM133 130.8h1v1.6h-1zM153 130.8h1v1.6h-1zM165 130.8h1v1.6h-1zM46 132.4h3v1.6h-3zM51 132.4h1v1.6h-1zM55 132.4h2v1.6h-2zM60 132.4h1v1.6h-1zM63 132.4h1v1.6h-1zM66 132.4h5v1.6h-5zM74 132.4h1v1.6h-1zM80 132.4h1v1.6h-1zM88 132.4h2v1.6h-2zM91 132.4h1v1.6h-1zM94 132.4h1v1.6h-1zM96 132.4h1v1.6h-1zM98 132.4h1v1.6h-1zM100 132.4h1v1.6h-1zM103 132.4h3v1.6h-3zM109 132.4h1v1.6h-1zM112 132.4h3v1.6h-3zM127 132.4h1v1.6h-1zM132 132.4h1v1.6h-1zM140 132.4h1v1.6h-1zM145 132.4h2v1.6h-2zM148 132.4h1v1.6h-1zM152 132.4h1v1.6h-1zM155 132.4h1v1.6h-1zM157 132.4h1v1.6h-1zM162 132.4h1v1.6h-1zM164 132.4h1v1.6h-1zM58 134.0h1v1.6h-1zM81 134.0h1v1.6h-1zM102 134.0h1v1.6h-1zM120 134.0h2v1.6h-2zM125 134.0h1v1.6h-1zM128 134.0h1v1.6h-1zM136 134.0h1v1.6h-1zM160 134.0h2v1.6h-2zM165 134.0h2v1.6h-2zM52 135.5h1v1.6h-1zM59 135.5h1v1.6h-1zM62 135.5h1v1.6h-1zM70 135.5h2v1.6h-2zM86 135.5h1v1.6h-1zM89 135.5h1v1.6h-1zM97 135.5h1v1.6h-1zM99 135.5h1v1.6h-1zM101 135.5h1v1.6h-1zM103 135.5h1v1.6h-1zM105 135.5h1v1.6h-1zM109 135.5h4v1.6h-4zM123 135.5h2v1.6h-2zM126 135.5h1v1.6h-1zM129 135.5h1v1.6h-1zM131 135.5h1v1.6h-1zM137 135.5h1v1.6h-1zM141 135.5h2v1.6h-2zM146 135.5h1v1.6h-1zM156 135.5h1v1.6h-1zM61 137.1h1v1.6h-1zM125 137.1h1v1.6h-1zM134 137.1h1v1.6h-1zM61 138.7h1v1.6h-1zM93 138.7h1v1.6h-1zM107 138.7h1v1.6h-1zM119 138.7h3v1.6h-3zM125 138.7h1v1.6h-1zM128 138.7h1v1.6h-1zM130 138.7h1v1.6h-1zM133 138.7h1v1.6h-1zM160 138.7h2v1.6h-2zM165 138.7h2v1.6h-2zM52 140.3h1v1.6h-1zM57 140.3h2v1.6h-2zM71 140.3h1v1.6h-1zM83 140.3h1v1.6h-1zM93 140.3h1v1.6h-1zM101 140.3h2v1.6h-2zM107 140.3h1v1.6h-1zM119 140.3h1v1.6h-1zM121 140.3h2v1.6h-2zM124 140.3h1v1.6h-1zM128 140.3h2v1.6h-2zM131 140.3h1v1.6h-1zM135 140.3h2v1.6h-2zM144 140.3h1v1.6h-1zM147 140.3h1v1.6h-1zM153 140.3h1v1.6h-1zM160 140.3h1v1.6h-1zM166 140.3h2v1.6h-2zM61 142.0h1v1.6h-1zM81 142.0h1v1.6h-1zM107 142.0h1v1.6h-1zM120 142.0h1v1.6h-1zM125 142.0h1v1.6h-1zM130 142.0h1v1.6h-1zM133 142.0h1v1.6h-1zM160 142.0h2v1.6h-2zM47 146.6h1v1.5h-1zM56 146.6h1v1.5h-1zM59 146.6h1v1.5h-1zM62 146.6h1v1.5h-1zM70 146.6h1v1.5h-1zM72 146.6h1v1.5h-1zM91 146.6h1v1.5h-1zM94 146.6h8v1.5h-8zM105 146.6h2v1.5h-2zM108 146.6h6v1.5h-6zM123 146.6h1v1.5h-1zM126 146.6h1v1.5h-1zM129 146.6h1v1.5h-1zM131 146.6h1v1.5h-1zM137 146.6h1v1.5h-1zM141 146.6h1v1.5h-1zM143 146.6h2v1.5h-2zM146 146.6h1v1.5h-1zM148 146.6h1v1.5h-1zM156 146.6h1v1.5h-1zM167 146.6h1v1.5h-1zM58 148.1h1v1.5h-1zM61 148.1h1v1.5h-1zM71 148.1h1v1.5h-1zM81 148.1h1v1.5h-1zM83 148.1h1v1.5h-1zM120 148.1h2v1.5h-2zM125 148.1h1v1.5h-1zM128 148.1h3v1.5h-3zM133 148.1h1v1.5h-1zM135 148.1h1v1.5h-1zM144 148.1h1v1.5h-1zM160 148.1h2v1.5h-2zM165 148.1h2v1.5h-2zM57 149.6h1v1.5h-1zM71 149.6h1v1.5h-1zM83 149.6h1v1.5h-1zM97 149.6h1v1.5h-1zM107 149.6h1v1.5h-1zM119 149.6h2v1.5h-2zM122 149.6h1v1.5h-1zM128 149.6h1v1.5h-1zM131 149.6h1v1.5h-1zM133 149.6h1v1.5h-1zM135 149.6h1v1.5h-1zM147 149.6h1v1.5h-1zM153 149.6h1v1.5h-1zM160 149.6h1v1.5h-1zM166 149.6h1v1.5h-1zM47 151.0h1v1.5h-1zM60 151.0h1v1.5h-1zM70 151.0h3v1.5h-3zM86 151.0h2v1.5h-2zM94 151.0h3v1.5h-3zM98 151.0h1v1.5h-1zM103 151.0h1v1.5h-1zM105 151.0h2v1.5h-2zM108 151.0h5v1.5h-5zM123 151.0h2v1.5h-2zM126 151.0h1v1.5h-1zM129 151.0h1v1.5h-1zM137 151.0h1v1.5h-1zM143 151.0h1v1.5h-1zM146 151.0h1v1.5h-1zM152 151.0h1v1.5h-1zM156 151.0h1v1.5h-1zM162 151.0h1v1.5h-1zM167 151.0h1v1.5h-1zM47 152.5h1v1.5h-1zM52 152.5h1v1.5h-1zM59 152.5h1v1.5h-1zM70 152.5h3v1.5h-3zM83 152.5h1v1.5h-1zM93 152.5h1v1.5h-1zM95 152.5h3v1.5h-3zM99 152.5h3v1.5h-3zM103 152.5h1v1.5h-1zM105 152.5h2v1.5h-2zM108 152.5h5v1.5h-5zM123 152.5h1v1.5h-1zM126 152.5h1v1.5h-1zM129 152.5h1v1.5h-1zM137 152.5h1v1.5h-1zM141 152.5h2v1.5h-2zM144 152.5h1v1.5h-1zM147 152.5h2v1.5h-2zM167 152.5h1v1.5h-1zM48 179.1h1v1.7h-1zM50 179.1h2v1.7h-2zM53 179.1h1v1.7h-1zM55 179.1h1v1.7h-1zM63 179.1h1v1.7h-1zM65 179.1h3v1.7h-3zM74 179.1h1v1.7h-1zM76 179.1h1v1.7h-1zM80 179.1h1v1.7h-1zM84 179.1h2v1.7h-2zM90 179.1h1v1.7h-1zM92 179.1h1v1.7h-1zM104 179.1h1v1.7h-1zM114 179.1h2v1.7h-2zM127 179.1h1v1.7h-1zM132 179.1h1v1.7h-1zM139 179.1h1v1.7h-1zM151 179.1h1v1.7h-1zM154 179.1h2v1.7h-2zM159 179.1h1v1.7h-1zM162 179.1h1v1.7h-1zM46 180.8h1v1.7h-1zM48 180.8h1v1.7h-1zM51 180.8h1v1.7h-1zM53 180.8h1v1.7h-1zM60 180.8h1v1.7h-1zM63 180.8h1v1.7h-1zM66 180.8h2v1.7h-2zM69 180.8h1v1.7h-1zM74 180.8h1v1.7h-1zM78 180.8h1v1.7h-1zM85 180.8h7v1.7h-7zM94 180.8h1v1.7h-1zM98 180.8h1v1.7h-1zM100 180.8h1v1.7h-1zM104 180.8h1v1.7h-1zM106 180.8h1v1.7h-1zM117 180.8h1v1.7h-1zM127 180.8h1v1.7h-1zM132 180.8h1v1.7h-1zM138 180.8h3v1.7h-3zM145 180.8h1v1.7h-1zM148 180.8h1v1.7h-1zM151 180.8h2v1.7h-2zM154 180.8h2v1.7h-2zM157 180.8h1v1.7h-1zM159 180.8h1v1.7h-1zM163 180.8h2v1.7h-2zM46 182.4h3v1.7h-3zM56 182.4h1v1.7h-1zM59 182.4h2v1.7h-2zM70 182.4h1v1.7h-1zM72 182.4h1v1.7h-1zM74 182.4h1v1.7h-1zM82 182.4h1v1.7h-1zM86 182.4h1v1.7h-1zM88 182.4h2v1.7h-2zM91 182.4h1v1.7h-1zM94 182.4h3v1.7h-3zM99 182.4h2v1.7h-2zM105 182.4h2v1.7h-2zM108 182.4h1v1.7h-1zM111 182.4h1v1.7h-1zM113 182.4h2v1.7h-2zM117 182.4h1v1.7h-1zM124 182.4h1v1.7h-1zM132 182.4h1v1.7h-1zM137 182.4h1v1.7h-1zM139 182.4h1v1.7h-1zM143 182.4h1v1.7h-1zM148 182.4h1v1.7h-1zM152 182.4h1v1.7h-1zM155 182.4h3v1.7h-3zM162 182.4h1v1.7h-1zM164 182.4h1v1.7h-1zM167 182.4h1v1.7h-1zM199 66.2h1v1.9h-1zM208 66.2h1v1.9h-1zM180 69.9h1v1.5h-1zM187 69.9h1v1.5h-1zM189 69.9h2v1.5h-2zM192 69.9h1v1.5h-1zM194 69.9h2v1.5h-2zM201 69.9h1v1.5h-1zM203 69.9h1v1.5h-1zM211 69.9h1v1.5h-1zM220 69.9h1v1.5h-1zM223 69.9h1v1.5h-1zM254 69.9h2v1.5h-2zM262 69.9h1v1.5h-1zM177 71.4h1v1.5h-1zM179 71.4h1v1.5h-1zM187 71.4h3v1.5h-3zM192 71.4h1v1.5h-1zM194 71.4h1v1.5h-1zM211 71.4h1v1.5h-1zM223 71.4h1v1.5h-1zM255 71.4h1v1.5h-1zM262 71.4h2v1.5h-2zM187 72.8h1v1.5h-1zM189 72.8h2v1.5h-2zM195 72.8h1v1.5h-1zM197 72.8h2v1.5h-2zM201 72.8h1v1.5h-1zM203 72.8h2v1.5h-2zM215 72.8h1v1.5h-1zM218 72.8h1v1.5h-1zM220 72.8h1v1.5h-1zM222 72.8h1v1.5h-1zM224 72.8h1v1.5h-1zM253 72.8h3v1.5h-3zM258 72.8h1v1.5h-1zM260 72.8h4v1.5h-4zM178 74.3h1v1.5h-1zM180 74.3h1v1.5h-1zM187 74.3h1v1.5h-1zM189 74.3h2v1.5h-2zM192 74.3h1v1.5h-1zM195 74.3h1v1.5h-1zM201 74.3h1v1.5h-1zM203 74.3h2v1.5h-2zM215 74.3h1v1.5h-1zM218 74.3h1v1.5h-1zM222 74.3h1v1.5h-1zM224 74.3h1v1.5h-1zM253 74.3h2v1.5h-2zM261 74.3h3v1.5h-3zM177 75.7h4v1.5h-4zM182 75.7h1v1.5h-1zM192 75.7h3v1.5h-3zM199 75.7h2v1.5h-2zM210 75.7h1v1.5h-1zM219 75.7h1v1.5h-1zM223 75.7h1v1.5h-1zM178 77.2h2v1.5h-2zM188 77.2h1v1.5h-1zM192 77.2h1v1.5h-1zM194 77.2h2v1.5h-2zM203 77.2h1v1.5h-1zM211 77.2h1v1.5h-1zM218 77.2h1v1.5h-1zM223 77.2h1v1.5h-1zM255 77.2h1v1.5h-1zM262 77.2h1v1.5h-1zM178 78.6h1v1.5h-1zM180 78.6h1v1.5h-1zM187 78.6h2v1.5h-2zM192 78.6h1v1.5h-1zM194 78.6h1v1.5h-1zM203 78.6h2v1.5h-2zM210 78.6h2v1.5h-2zM222 78.6h2v1.5h-2zM255 78.6h1v1.5h-1zM260 78.6h1v1.5h-1zM262 78.6h2v1.5h-2zM168 80.1h2v1.7h-2zM174 80.1h3v1.7h-3zM229 80.1h2v1.7h-2zM232 80.1h2v1.7h-2zM239 80.1h2v1.7h-2zM242 80.1h1v1.7h-1zM244 80.1h1v1.7h-1zM183 81.8h2v1.7h-2zM186 81.8h1v1.7h-1zM235 81.8h1v1.7h-1zM243 81.8h3v1.7h-3zM250 81.8h2v1.7h-2zM173 83.5h1v1.7h-1zM181 83.5h1v1.7h-1zM184 83.5h1v1.7h-1zM186 83.5h1v1.7h-1zM234 83.5h2v1.7h-2zM238 83.5h1v1.7h-1zM243 83.5h1v1.7h-1zM245 83.5h1v1.7h-1zM169 88.8h1v1.5h-1zM174 88.8h3v1.5h-3zM183 88.8h1v1.5h-1zM188 88.8h1v1.5h-1zM192 88.8h1v1.5h-1zM194 88.8h1v1.5h-1zM210 88.8h2v1.5h-2zM219 88.8h1v1.5h-1zM237 88.8h1v1.5h-1zM247 88.8h2v1.5h-2zM168 90.3h1v1.5h-1zM174 90.3h2v1.5h-2zM193 90.3h1v1.5h-1zM200 90.3h1v1.5h-1zM209 90.3h3v1.5h-3zM219 90.3h1v1.5h-1zM237 90.3h1v1.5h-1zM247 90.3h2v1.5h-2zM171 91.7h3v1.5h-3zM181 91.7h7v1.5h-7zM189 91.7h2v1.5h-2zM192 91.7h1v1.5h-1zM195 91.7h1v1.5h-1zM198 91.7h1v1.5h-1zM201 91.7h1v1.5h-1zM203 91.7h2v1.5h-2zM206 91.7h1v1.5h-1zM218 91.7h1v1.5h-1zM220 91.7h1v1.5h-1zM222 91.7h3v1.5h-3zM169 93.2h1v1.5h-1zM171 93.2h1v1.5h-1zM173 93.2h1v1.5h-1zM183 93.2h1v1.5h-1zM187 93.2h2v1.5h-2zM192 93.2h2v1.5h-2zM195 93.2h1v1.5h-1zM200 93.2h2v1.5h-2zM211 93.2h1v1.5h-1zM172 94.6h1v1.5h-1zM181 94.6h2v1.5h-2zM184 94.6h4v1.5h-4zM189 94.6h2v1.5h-2zM195 94.6h1v1.5h-1zM198 94.6h1v1.5h-1zM201 94.6h1v1.5h-1zM203 94.6h2v1.5h-2zM206 94.6h1v1.5h-1zM213 94.6h1v1.5h-1zM215 94.6h1v1.5h-1zM218 94.6h1v1.5h-1zM220 94.6h1v1.5h-1zM222 94.6h3v1.5h-3zM172 96.1h2v1.5h-2zM182 96.1h1v1.5h-1zM184 96.1h3v1.5h-3zM189 96.1h2v1.5h-2zM195 96.1h1v1.5h-1zM198 96.1h1v1.5h-1zM201 96.1h1v1.5h-1zM203 96.1h2v1.5h-2zM206 96.1h1v1.5h-1zM211 96.1h1v1.5h-1zM215 96.1h1v1.5h-1zM218 96.1h1v1.5h-1zM222 96.1h1v1.5h-1zM172 97.5h2v1.5h-2zM181 97.5h7v1.5h-7zM189 97.5h2v1.5h-2zM194 97.5h2v1.5h-2zM197 97.5h2v1.5h-2zM201 97.5h1v1.5h-1zM203 97.5h2v1.5h-2zM206 97.5h1v1.5h-1zM218 97.5h1v1.5h-1zM220 97.5h1v1.5h-1zM222 97.5h1v1.5h-1zM228 100.8h1v1.4h-1zM249 100.8h1v1.4h-1zM249 102.2h1v1.4h-1zM168 110.7h1v1.4h-1zM175 110.7h1v1.4h-1zM199 110.7h1v1.4h-1zM208 110.7h1v1.4h-1zM234 110.7h3v1.4h-3zM246 110.7h1v1.4h-1zM249 110.7h3v1.4h-3zM257 110.7h1v1.4h-1zM264 110.7h1v1.4h-1zM267 110.7h1v1.4h-1zM170 112.1h1v1.4h-1zM199 112.1h1v1.4h-1zM209 112.1h1v1.4h-1zM234 112.1h1v1.4h-1zM236 112.1h1v1.4h-1zM238 112.1h1v1.4h-1zM246 112.1h1v1.4h-1zM249 112.1h3v1.4h-3zM257 112.1h1v1.4h-1zM259 112.1h1v1.4h-1zM264 112.1h1v1.4h-1zM267 112.1h1v1.4h-1zM168 113.6h1v1.4h-1zM170 113.6h1v1.4h-1zM188 113.6h1v1.4h-1zM193 113.6h1v1.4h-1zM199 113.6h1v1.4h-1zM208 113.6h1v1.4h-1zM210 113.6h1v1.4h-1zM219 113.6h1v1.4h-1zM236 113.6h1v1.4h-1zM246 113.6h2v1.4h-2zM249 113.6h1v1.4h-1zM257 113.6h1v1.4h-1zM264 113.6h1v1.4h-1zM239 115.0h4v1.8h-4zM252 115.0h1v1.8h-1zM255 115.0h1v1.8h-1zM262 115.0h2v1.8h-2zM232 116.8h1v1.8h-1zM252 116.8h1v1.8h-1zM254 116.8h2v1.8h-2zM262 116.8h2v1.8h-2zM177 118.6h4v1.5h-4zM191 118.6h1v1.5h-1zM196 118.6h1v1.5h-1zM205 118.6h1v1.5h-1zM207 118.6h1v1.5h-1zM212 118.6h3v1.5h-3zM221 118.6h1v1.5h-1zM226 118.6h2v1.5h-2zM177 120.1h4v1.5h-4zM182 120.1h1v1.5h-1zM191 120.1h1v1.5h-1zM196 120.1h1v1.5h-1zM201 120.1h1v1.5h-1zM205 120.1h1v1.5h-1zM207 120.1h1v1.5h-1zM213 120.1h1v1.5h-1zM215 120.1h1v1.5h-1zM224 120.1h3v1.5h-3zM177 121.6h4v1.5h-4zM191 121.6h1v1.5h-1zM205 121.6h2v1.5h-2zM213 121.6h1v1.5h-1zM221 121.6h1v1.5h-1zM224 121.6h4v1.5h-4zM247 121.6h1v1.5h-1zM177 123.0h3v1.5h-3zM191 123.0h1v1.5h-1zM197 123.0h1v1.5h-1zM204 123.0h3v1.5h-3zM213 123.0h1v1.5h-1zM215 123.0h1v1.5h-1zM224 123.0h4v1.5h-4zM247 123.0h1v1.5h-1zM177 124.5h4v1.5h-4zM191 124.5h1v1.5h-1zM196 124.5h1v1.5h-1zM205 124.5h3v1.5h-3zM212 124.5h3v1.5h-3zM221 124.5h1v1.5h-1zM226 124.5h2v1.5h-2zM170 126.0h1v1.5h-1zM174 126.0h3v1.5h-3zM200 126.0h1v1.5h-1zM208 126.0h1v1.5h-1zM210 126.0h1v1.5h-1zM219 126.0h1v1.5h-1zM232 126.0h1v1.5h-1zM239 126.0h1v1.5h-1zM252 126.0h3v1.5h-3zM258 126.0h1v1.5h-1zM260 126.0h2v1.5h-2zM173 127.5h1v1.5h-1zM175 127.5h2v1.5h-2zM183 127.5h1v1.5h-1zM185 127.5h1v1.5h-1zM188 127.5h2v1.5h-2zM192 127.5h1v1.5h-1zM194 127.5h1v1.5h-1zM200 127.5h1v1.5h-1zM211 127.5h1v1.5h-1zM233 127.5h1v1.5h-1zM235 127.5h1v1.5h-1zM243 127.5h3v1.5h-3zM252 127.5h2v1.5h-2zM256 127.5h1v1.5h-1zM258 127.5h1v1.5h-1zM260 127.5h1v1.5h-1zM265 127.5h2v1.5h-2zM168 129.0h1v1.5h-1zM193 129.0h1v1.5h-1zM199 129.0h1v1.5h-1zM208 129.0h2v1.5h-2zM219 129.0h1v1.5h-1zM232 129.0h1v1.5h-1zM239 129.0h1v1.5h-1zM241 129.0h2v1.5h-2zM252 129.0h1v1.5h-1zM255 129.0h1v1.5h-1zM262 129.0h2v1.5h-2zM169 130.6h1v1.5h-1zM173 130.6h4v1.5h-4zM193 130.6h1v1.5h-1zM211 130.6h1v1.5h-1zM223 130.6h1v1.5h-1zM233 130.6h1v1.5h-1zM240 130.6h1v1.5h-1zM244 130.6h1v1.5h-1zM252 130.6h3v1.5h-3zM256 130.6h1v1.5h-1zM260 130.6h2v1.5h-2zM265 130.6h1v1.5h-1zM168 132.1h1v1.5h-1zM174 132.1h2v1.5h-2zM199 132.1h2v1.5h-2zM210 132.1h1v1.5h-1zM232 132.1h1v1.5h-1zM239 132.1h2v1.5h-2zM242 132.1h1v1.5h-1zM252 132.1h2v1.5h-2zM255 132.1h1v1.5h-1zM261 132.1h1v1.5h-1zM170 133.6h1v1.5h-1zM209 133.6h1v1.5h-1zM231 133.6h1v1.5h-1zM241 133.6h1v1.5h-1zM255 133.6h1v1.5h-1zM262 133.6h2v1.5h-2zM169 135.1h1v1.5h-1zM174 135.1h1v1.5h-1zM176 135.1h1v1.5h-1zM188 135.1h1v1.5h-1zM192 135.1h1v1.5h-1zM194 135.1h1v1.5h-1zM200 135.1h1v1.5h-1zM210 135.1h2v1.5h-2zM219 135.1h1v1.5h-1zM233 135.1h1v1.5h-1zM239 135.1h1v1.5h-1zM253 135.1h2v1.5h-2zM260 135.1h3v1.5h-3zM168 136.6h1v1.5h-1zM174 136.6h1v1.5h-1zM193 136.6h1v1.5h-1zM199 136.6h2v1.5h-2zM209 136.6h2v1.5h-2zM219 136.6h1v1.5h-1zM232 136.6h1v1.5h-1zM240 136.6h3v1.5h-3zM252 136.6h4v1.5h-4zM262 136.6h2v1.5h-2zM169 138.1h1v1.5h-1zM171 138.1h1v1.5h-1zM174 138.1h1v1.5h-1zM176 138.1h1v1.5h-1zM183 138.1h1v1.5h-1zM188 138.1h1v1.5h-1zM192 138.1h1v1.5h-1zM200 138.1h1v1.5h-1zM211 138.1h1v1.5h-1zM233 138.1h1v1.5h-1zM243 138.1h1v1.5h-1zM253 138.1h2v1.5h-2zM256 138.1h1v1.5h-1zM260 138.1h3v1.5h-3zM169 139.7h1v1.5h-1zM171 139.7h1v1.5h-1zM175 139.7h2v1.5h-2zM187 139.7h2v1.5h-2zM192 139.7h1v1.5h-1zM200 139.7h1v1.5h-1zM210 139.7h2v1.5h-2zM219 139.7h1v1.5h-1zM233 139.7h1v1.5h-1zM239 139.7h1v1.5h-1zM252 139.7h3v1.5h-3zM256 139.7h1v1.5h-1zM260 139.7h2v1.5h-2zM241 141.2h1v1.5h-1zM262 141.2h1v1.5h-1zM228 142.7h1v1.7h-1zM228 144.4h1v1.7h-1zM228 146.1h1v1.7h-1zM168 147.8h1v1.7h-1zM170 147.8h1v1.7h-1zM193 147.8h1v1.7h-1zM199 147.8h1v1.7h-1zM208 147.8h1v1.7h-1zM210 147.8h1v1.7h-1zM219 147.8h1v1.7h-1zM168 149.5h1v1.7h-1zM170 149.5h1v1.7h-1zM208 149.5h2v1.7h-2zM219 149.5h1v1.7h-1zM231 149.5h1v1.7h-1zM241 149.5h1v1.7h-1zM255 149.5h1v1.7h-1zM168 151.3h2v1.7h-2zM174 151.3h3v1.7h-3zM193 151.3h1v1.7h-1zM199 151.3h2v1.7h-2zM210 151.3h1v1.7h-1zM219 151.3h1v1.7h-1zM223 151.3h1v1.7h-1zM231 151.3h1v1.7h-1zM239 151.3h2v1.7h-2zM242 151.3h1v1.7h-1zM254 151.3h2v1.7h-2zM168 155.9h1v1.6h-1zM170 155.9h1v1.6h-1zM193 155.9h1v1.6h-1zM199 155.9h1v1.6h-1zM209 155.9h1v1.6h-1zM231 155.9h1v1.6h-1zM241 155.9h1v1.6h-1zM255 155.9h1v1.6h-1zM228 157.5h1v1.6h-1zM228 159.0h1v1.6h-1zM170 160.6h1v1.6h-1zM209 160.6h1v1.6h-1zM231 160.6h1v1.6h-1zM209 162.2h1v1.6h-1zM228 163.7h1v1.6h-1zM216 169.7h2v1.7h-2zM221 169.7h1v1.7h-1zM225 169.7h1v1.7h-1zM247 169.7h1v1.7h-1zM249 169.7h1v1.7h-1zM212 171.3h1v1.7h-1zM214 171.3h1v1.7h-1zM216 171.3h2v1.7h-2zM221 171.3h1v1.7h-1zM247 171.3h3v1.7h-3zM212 173.0h1v1.7h-1zM214 173.0h1v1.7h-1zM217 173.0h1v1.7h-1zM221 173.0h1v1.7h-1zM246 173.0h1v1.7h-1zM249 173.0h1v1.7h-1zM213 174.7h1v1.7h-1zM215 174.7h1v1.7h-1zM224 174.7h2v1.7h-2zM243 174.7h1v1.7h-1zM245 174.7h2v1.7h-2z"/>
<path fill="#c0c0c0" d="M80 55.8h1v1.7h-1zM84 55.8h2v1.7h-2zM80 57.5h1v1.7h-1zM84 57.5h2v1.7h-2zM87 57.5h1v1.7h-1zM98 57.5h1v1.7h-1zM80 59.2h1v1.7h-1zM84 59.2h2v1.7h-2zM87 59.2h1v1.7h-1zM98 59.2h1v1.7h-1zM46 70.6h1v1.4h-1zM48 70.6h1v1.4h-1zM51 70.6h1v1.4h-1zM55 70.6h2v1.4h-2zM63 70.6h7v1.4h-7zM74 70.6h1v1.4h-1zM80 70.6h1v1.4h-1zM84 70.6h2v1.4h-2zM88 70.6h1v1.4h-1zM91 70.6h2v1.4h-2zM94 70.6h1v1.4h-1zM96 70.6h1v1.4h-1zM98 70.6h1v1.4h-1zM100 70.6h1v1.4h-1zM104 70.6h1v1.4h-1zM112 70.6h1v1.4h-1zM114 70.6h2v1.4h-2zM117 70.6h1v1.4h-1zM127 70.6h1v1.4h-1zM132 70.6h1v1.4h-1zM138 70.6h3v1.4h-3zM145 70.6h1v1.4h-1zM152 70.6h1v1.4h-1zM154 70.6h2v1.4h-2zM157 70.6h1v1.4h-1zM159 70.6h1v1.4h-1zM162 70.6h2v1.4h-2zM45 72.0h1v1.4h-1zM49 72.0h2v1.4h-2zM53 72.0h3v1.4h-3zM63 72.0h5v1.4h-5zM75 72.0h2v1.4h-2zM78 72.0h3v1.4h-3zM84 72.0h2v1.4h-2zM90 72.0h1v1.4h-1zM92 72.0h1v1.4h-1zM104 72.0h1v1.4h-1zM114 72.0h4v1.4h-4zM127 72.0h1v1.4h-1zM138 72.0h1v1.4h-1zM145 72.0h1v1.4h-1zM149 72.0h1v1.4h-1zM151 72.0h1v1.4h-1zM154 72.0h2v1.4h-2zM159 72.0h1v1.4h-1zM163 72.0h1v1.4h-1zM52 73.3h1v1.4h-1zM59 73.3h2v1.4h-2zM62 73.3h1v1.4h-1zM70 73.3h1v1.4h-1zM72 73.3h1v1.4h-1zM82 73.3h2v1.4h-2zM93 73.3h1v1.4h-1zM95 73.3h3v1.4h-3zM99 73.3h1v1.4h-1zM101 73.3h3v1.4h-3zM105 73.3h2v1.4h-2zM108 73.3h2v1.4h-2zM111 73.3h2v1.4h-2zM118 73.3h1v1.4h-1zM123 73.3h2v1.4h-2zM126 73.3h1v1.4h-1zM128 73.3h3v1.4h-3zM136 73.3h2v1.4h-2zM141 73.3h3v1.4h-3zM146 73.3h2v1.4h-2zM167 73.3h1v1.4h-1zM52 74.7h1v1.4h-1zM57 74.7h3v1.4h-3zM62 74.7h1v1.4h-1zM82 74.7h2v1.4h-2zM97 74.7h1v1.4h-1zM101 74.7h2v1.4h-2zM107 74.7h1v1.4h-1zM109 74.7h1v1.4h-1zM118 74.7h1v1.4h-1zM120 74.7h3v1.4h-3zM124 74.7h1v1.4h-1zM126 74.7h1v1.4h-1zM130 74.7h2v1.4h-2zM133 74.7h1v1.4h-1zM135 74.7h2v1.4h-2zM144 74.7h1v1.4h-1zM147 74.7h1v1.4h-1zM153 74.7h1v1.4h-1zM160 74.7h2v1.4h-2zM165 74.7h2v1.4h-2zM47 76.1h1v1.4h-1zM55 76.1h2v1.4h-2zM59 76.1h2v1.4h-2zM62 76.1h1v1.4h-1zM66 76.1h1v1.4h-1zM69 76.1h2v1.4h-2zM72 76.1h1v1.4h-1zM86 76.1h1v1.4h-1zM88 76.1h1v1.4h-1zM93 76.1h5v1.4h-5zM99 76.1h2v1.4h-2zM103 76.1h1v1.4h-1zM105 76.1h2v1.4h-2zM108 76.1h1v1.4h-1zM110 76.1h4v1.4h-4zM122 76.1h2v1.4h-2zM126 76.1h1v1.4h-1zM129 76.1h1v1.4h-1zM137 76.1h1v1.4h-1zM139 76.1h3v1.4h-3zM143 76.1h1v1.4h-1zM145 76.1h2v1.4h-2zM148 76.1h1v1.4h-1zM156 76.1h2v1.4h-2zM167 76.1h1v1.4h-1zM58 77.5h1v1.4h-1zM61 77.5h1v1.4h-1zM81 77.5h1v1.4h-1zM101 77.5h1v1.4h-1zM107 77.5h1v1.4h-1zM120 77.5h1v1.4h-1zM125 77.5h1v1.4h-1zM128 77.5h1v1.4h-1zM133 77.5h2v1.4h-2zM144 77.5h1v1.4h-1zM153 77.5h1v1.4h-1zM160 77.5h2v1.4h-2zM165 77.5h1v1.4h-1zM57 78.8h2v1.4h-2zM71 78.8h2v1.4h-2zM82 78.8h2v1.4h-2zM97 78.8h1v1.4h-1zM99 78.8h1v1.4h-1zM101 78.8h2v1.4h-2zM107 78.8h1v1.4h-1zM109 78.8h1v1.4h-1zM118 78.8h8v1.4h-8zM128 78.8h1v1.4h-1zM130 78.8h2v1.4h-2zM135 78.8h3v1.4h-3zM142 78.8h1v1.4h-1zM144 78.8h1v1.4h-1zM147 78.8h1v1.4h-1zM153 78.8h1v1.4h-1zM166 78.8h1v1.4h-1zM61 80.2h1v1.4h-1zM81 80.2h1v1.4h-1zM125 80.2h1v1.4h-1zM134 80.2h1v1.4h-1zM45 88.5h1v1.7h-1zM49 88.5h2v1.7h-2zM53 88.5h2v1.7h-2zM63 88.5h1v1.7h-1zM73 88.5h1v1.7h-1zM75 88.5h6v1.7h-6zM84 88.5h1v1.7h-1zM90 88.5h1v1.7h-1zM115 88.5h2v1.7h-2zM138 88.5h1v1.7h-1zM149 88.5h2v1.7h-2zM154 88.5h1v1.7h-1zM158 88.5h2v1.7h-2zM45 90.2h1v1.7h-1zM49 90.2h1v1.7h-1zM54 90.2h1v1.7h-1zM64 90.2h1v1.7h-1zM75 90.2h1v1.7h-1zM77 90.2h1v1.7h-1zM79 90.2h1v1.7h-1zM149 90.2h2v1.7h-2zM158 90.2h1v1.7h-1zM45 91.9h2v1.7h-2zM49 91.9h2v1.7h-2zM53 91.9h2v1.7h-2zM64 91.9h1v1.7h-1zM66 91.9h3v1.7h-3zM73 91.9h1v1.7h-1zM75 91.9h2v1.7h-2zM78 91.9h3v1.7h-3zM92 91.9h1v1.7h-1zM115 91.9h2v1.7h-2zM139 91.9h1v1.7h-1zM149 91.9h3v1.7h-3zM158 91.9h1v1.7h-1zM163 91.9h1v1.7h-1zM61 93.6h1v1.5h-1zM81 93.6h1v1.5h-1zM57 95.1h2v1.5h-2zM71 95.1h1v1.5h-1zM82 95.1h2v1.5h-2zM102 95.1h1v1.5h-1zM107 95.1h1v1.5h-1zM120 95.1h3v1.5h-3zM125 95.1h1v1.5h-1zM128 95.1h1v1.5h-1zM131 95.1h1v1.5h-1zM133 95.1h1v1.5h-1zM135 95.1h2v1.5h-2zM144 95.1h1v1.5h-1zM147 95.1h1v1.5h-1zM160 95.1h1v1.5h-1zM166 95.1h1v1.5h-1zM82 96.6h1v1.5h-1zM99 96.6h1v1.5h-1zM101 96.6h1v1.5h-1zM107 96.6h1v1.5h-1zM118 96.6h1v1.5h-1zM120 96.6h1v1.5h-1zM122 96.6h1v1.5h-1zM128 96.6h1v1.5h-1zM131 96.6h1v1.5h-1zM135 96.6h2v1.5h-2zM144 96.6h1v1.5h-1zM147 96.6h1v1.5h-1zM161 96.6h1v1.5h-1zM165 96.6h2v1.5h-2zM57 98.1h1v1.5h-1zM61 98.1h1v1.5h-1zM120 98.1h4v1.5h-4zM125 98.1h1v1.5h-1zM130 98.1h1v1.5h-1zM133 98.1h1v1.5h-1zM135 98.1h2v1.5h-2zM147 98.1h1v1.5h-1zM160 98.1h1v1.5h-1zM165 98.1h1v1.5h-1zM45 118.9h1v1.5h-1zM49 118.9h1v1.5h-1zM53 118.9h2v1.5h-2zM64 118.9h1v1.5h-1zM66 118.9h2v1.5h-2zM73 118.9h1v1.5h-1zM75 118.9h5v1.5h-5zM90 118.9h3v1.5h-3zM114 118.9h3v1.5h-3zM138 118.9h1v1.5h-1zM149 118.9h3v1.5h-3zM158 118.9h2v1.5h-2zM45 120.4h1v1.5h-1zM49 120.4h2v1.5h-2zM53 120.4h2v1.5h-2zM64 120.4h1v1.5h-1zM73 120.4h1v1.5h-1zM75 120.4h6v1.5h-6zM85 120.4h1v1.5h-1zM92 120.4h1v1.5h-1zM115 120.4h2v1.5h-2zM132 120.4h1v1.5h-1zM149 120.4h2v1.5h-2zM155 120.4h1v1.5h-1zM163 120.4h1v1.5h-1zM47 121.9h1v1.5h-1zM51 121.9h2v1.5h-2zM55 121.9h2v1.5h-2zM59 121.9h1v1.5h-1zM62 121.9h2v1.5h-2zM70 121.9h1v1.5h-1zM72 121.9h1v1.5h-1zM74 121.9h1v1.5h-1zM85 121.9h2v1.5h-2zM88 121.9h2v1.5h-2zM91 121.9h1v1.5h-1zM94 121.9h4v1.5h-4zM99 121.9h3v1.5h-3zM103 121.9h1v1.5h-1zM105 121.9h2v1.5h-2zM108 121.9h6v1.5h-6zM123 121.9h2v1.5h-2zM126 121.9h1v1.5h-1zM129 121.9h1v1.5h-1zM136 121.9h2v1.5h-2zM140 121.9h2v1.5h-2zM143 121.9h1v1.5h-1zM145 121.9h2v1.5h-2zM148 121.9h1v1.5h-1zM152 121.9h2v1.5h-2zM155 121.9h2v1.5h-2zM159 121.9h1v1.5h-1zM162 121.9h1v1.5h-1zM164 121.9h1v1.5h-1zM167 121.9h1v1.5h-1zM45 123.4h2v1.5h-2zM48 123.4h3v1.5h-3zM53 123.4h1v1.5h-1zM55 123.4h1v1.5h-1zM60 123.4h1v1.5h-1zM63 123.4h7v1.5h-7zM75 123.4h2v1.5h-2zM80 123.4h1v1.5h-1zM84 123.4h2v1.5h-2zM90 123.4h1v1.5h-1zM92 123.4h1v1.5h-1zM114 123.4h3v1.5h-3zM127 123.4h1v1.5h-1zM138 123.4h3v1.5h-3zM149 123.4h1v1.5h-1zM151 123.4h2v1.5h-2zM155 123.4h1v1.5h-1zM157 123.4h1v1.5h-1zM159 123.4h1v1.5h-1zM163 123.4h2v1.5h-2zM57 124.9h2v1.5h-2zM71 124.9h1v1.5h-1zM82 124.9h2v1.5h-2zM93 124.9h1v1.5h-1zM101 124.9h2v1.5h-2zM107 124.9h1v1.5h-1zM110 124.9h2v1.5h-2zM118 124.9h1v1.5h-1zM120 124.9h3v1.5h-3zM124 124.9h1v1.5h-1zM129 124.9h3v1.5h-3zM133 124.9h1v1.5h-1zM141 124.9h1v1.5h-1zM144 124.9h1v1.5h-1zM146 124.9h2v1.5h-2zM153 124.9h1v1.5h-1zM166 124.9h2v1.5h-2zM57 126.4h2v1.5h-2zM82 126.4h2v1.5h-2zM101 126.4h1v1.5h-1zM107 126.4h1v1.5h-1zM119 126.4h1v1.5h-1zM121 126.4h3v1.5h-3zM128 126.4h1v1.5h-1zM130 126.4h2v1.5h-2zM135 126.4h3v1.5h-3zM141 126.4h2v1.5h-2zM144 126.4h1v1.5h-1zM153 126.4h1v1.5h-1zM160 126.4h2v1.5h-2zM165 126.4h2v1.5h-2zM57 127.9h2v1.5h-2zM71 127.9h1v1.5h-1zM82 127.9h2v1.5h-2zM93 127.9h1v1.5h-1zM97 127.9h1v1.5h-1zM101 127.9h3v1.5h-3zM119 127.9h4v1.5h-4zM129 127.9h3v1.5h-3zM135 127.9h2v1.5h-2zM141 127.9h1v1.5h-1zM144 127.9h1v1.5h-1zM147 127.9h2v1.5h-2zM153 127.9h1v1.5h-1zM160 127.9h2v1.5h-2zM166 127.9h2v1.5h-2zM61 129.3h1v1.5h-1zM107 129.3h1v1.5h-1zM125 129.3h1v1.5h-1zM128 129.3h1v1.5h-1zM133 129.3h2v1.5h-2zM161 129.3h1v1.5h-1zM165 129.3h1v1.5h-1zM61 130.8h1v1.6h-1zM81 130.8h1v1.6h-1zM134 130.8h1v1.6h-1zM52 132.4h1v1.6h-1zM59 132.4h1v1.6h-1zM62 132.4h1v1.6h-1zM82 132.4h1v1.6h-1zM86 132.4h1v1.6h-1zM93 132.4h1v1.6h-1zM97 132.4h1v1.6h-1zM99 132.4h1v1.6h-1zM106 132.4h1v1.6h-1zM108 132.4h1v1.6h-1zM110 132.4h2v1.6h-2zM122 132.4h3v1.6h-3zM126 132.4h1v1.6h-1zM129 132.4h1v1.6h-1zM131 132.4h1v1.6h-1zM137 132.4h1v1.6h-1zM141 132.4h3v1.6h-3zM147 132.4h1v1.6h-1zM156 132.4h1v1.6h-1zM167 132.4h1v1.6h-1zM61 134.0h1v1.6h-1zM134 134.0h1v1.6h-1zM57 135.5h1v1.6h-1zM82 135.5h2v1.6h-2zM93 135.5h1v1.6h-1zM95 135.5h1v1.6h-1zM102 135.5h1v1.6h-1zM107 135.5h1v1.6h-1zM118 135.5h5v1.6h-5zM128 135.5h1v1.6h-1zM130 135.5h1v1.6h-1zM133 135.5h1v1.6h-1zM135 135.5h2v1.6h-2zM144 135.5h1v1.6h-1zM147 135.5h1v1.6h-1zM153 135.5h1v1.6h-1zM161 135.5h1v1.6h-1zM166 135.5h2v1.6h-2zM81 137.1h1v1.6h-1zM81 138.7h1v1.6h-1zM134 138.7h1v1.6h-1zM61 140.3h1v1.6h-1zM81 140.3h1v1.6h-1zM120 140.3h1v1.6h-1zM125 140.3h1v1.6h-1zM133 140.3h2v1.6h-2zM161 140.3h1v1.6h-1zM165 140.3h1v1.6h-1zM134 142.0h1v1.6h-1zM165 142.0h1v1.6h-1zM52 146.6h1v1.5h-1zM57 146.6h1v1.5h-1zM71 146.6h1v1.5h-1zM82 146.6h2v1.5h-2zM93 146.6h1v1.5h-1zM102 146.6h2v1.5h-2zM107 146.6h1v1.5h-1zM118 146.6h1v1.5h-1zM120 146.6h3v1.5h-3zM124 146.6h1v1.5h-1zM128 146.6h1v1.5h-1zM130 146.6h1v1.5h-1zM133 146.6h1v1.5h-1zM135 146.6h2v1.5h-2zM142 146.6h1v1.5h-1zM147 146.6h1v1.5h-1zM153 146.6h1v1.5h-1zM160 146.6h1v1.5h-1zM134 148.1h1v1.5h-1zM58 149.6h1v1.5h-1zM61 149.6h1v1.5h-1zM81 149.6h1v1.5h-1zM125 149.6h1v1.5h-1zM134 149.6h1v1.5h-1zM161 149.6h1v1.5h-1zM165 149.6h1v1.5h-1zM52 151.0h1v1.5h-1zM57 151.0h3v1.5h-3zM62 151.0h1v1.5h-1zM83 151.0h1v1.5h-1zM93 151.0h1v1.5h-1zM97 151.0h1v1.5h-1zM99 151.0h4v1.5h-4zM107 151.0h1v1.5h-1zM118 151.0h1v1.5h-1zM121 151.0h2v1.5h-2zM130 151.0h2v1.5h-2zM133 151.0h1v1.5h-1zM135 151.0h2v1.5h-2zM141 151.0h2v1.5h-2zM144 151.0h1v1.5h-1zM147 151.0h1v1.5h-1zM153 151.0h1v1.5h-1zM161 151.0h1v1.5h-1zM57 152.5h2v1.5h-2zM62 152.5h1v1.5h-1zM82 152.5h1v1.5h-1zM102 152.5h1v1.5h-1zM107 152.5h1v1.5h-1zM118 152.5h1v1.5h-1zM121 152.5h2v1.5h-2zM124 152.5h1v1.5h-1zM128 152.5h1v1.5h-1zM130 152.5h2v1.5h-2zM133 152.5h1v1.5h-1zM135 152.5h2v1.5h-2zM143 152.5h1v1.5h-1zM153 152.5h1v1.5h-1zM160 152.5h2v1.5h-2zM165 152.5h2v1.5h-2zM158 168.0h1v1.7h-1zM46 179.1h2v1.7h-2zM52 179.1h1v1.7h-1zM56 179.1h1v1.7h-1zM59 179.1h2v1.7h-2zM68 179.1h3v1.7h-3zM86 179.1h4v1.7h-4zM91 179.1h1v1.7h-1zM94 179.1h3v1.7h-3zM98 179.1h4v1.7h-4zM105 179.1h2v1.7h-2zM108 179.1h6v1.7h-6zM117 179.1h1v1.7h-1zM123 179.1h1v1.7h-1zM137 179.1h2v1.7h-2zM140 179.1h2v1.7h-2zM143 179.1h1v1.7h-1zM145 179.1h2v1.7h-2zM152 179.1h1v1.7h-1zM156 179.1h2v1.7h-2zM163 179.1h2v1.7h-2zM47 180.8h1v1.7h-1zM52 180.8h1v1.7h-1zM56 180.8h1v1.7h-1zM59 180.8h1v1.7h-1zM62 180.8h1v1.7h-1zM70 180.8h1v1.7h-1zM72 180.8h1v1.7h-1zM82 180.8h1v1.7h-1zM93 180.8h1v1.7h-1zM95 180.8h3v1.7h-3zM99 180.8h1v1.7h-1zM101 180.8h3v1.7h-3zM105 180.8h1v1.7h-1zM108 180.8h6v1.7h-6zM118 180.8h1v1.7h-1zM121 180.8h1v1.7h-1zM123 180.8h2v1.7h-2zM126 180.8h1v1.7h-1zM128 180.8h1v1.7h-1zM130 180.8h1v1.7h-1zM137 180.8h1v1.7h-1zM141 180.8h3v1.7h-3zM146 180.8h2v1.7h-2zM153 180.8h1v1.7h-1zM156 180.8h1v1.7h-1zM162 180.8h1v1.7h-1zM166 180.8h2v1.7h-2zM52 182.4h1v1.7h-1zM57 182.4h2v1.7h-2zM62 182.4h1v1.7h-1zM71 182.4h1v1.7h-1zM83 182.4h1v1.7h-1zM93 182.4h1v1.7h-1zM97 182.4h1v1.7h-1zM101 182.4h3v1.7h-3zM109 182.4h2v1.7h-2zM112 182.4h1v1.7h-1zM118 182.4h6v1.7h-6zM125 182.4h2v1.7h-2zM128 182.4h4v1.7h-4zM133 182.4h1v1.7h-1zM135 182.4h2v1.7h-2zM141 182.4h2v1.7h-2zM144 182.4h1v1.7h-1zM146 182.4h2v1.7h-2zM153 182.4h1v1.7h-1zM160 182.4h2v1.7h-2zM166 182.4h1v1.7h-1zM77 185.7h1v1.6h-1zM248 50.2h1v1.5h-1zM177 69.9h3v1.5h-3zM181 69.9h2v1.5h-2zM185 69.9h2v1.5h-2zM188 69.9h1v1.5h-1zM193 69.9h1v1.5h-1zM199 69.9h2v1.5h-2zM208 69.9h1v1.5h-1zM219 69.9h1v1.5h-1zM172 71.4h1v1.5h-1zM178 71.4h1v1.5h-1zM180 71.4h3v1.5h-3zM184 71.4h3v1.5h-3zM193 71.4h1v1.5h-1zM199 71.4h2v1.5h-2zM209 71.4h2v1.5h-2zM219 71.4h1v1.5h-1zM177 72.8h4v1.5h-4zM188 72.8h1v1.5h-1zM192 72.8h1v1.5h-1zM194 72.8h1v1.5h-1zM200 72.8h1v1.5h-1zM211 72.8h1v1.5h-1zM219 72.8h1v1.5h-1zM223 72.8h1v1.5h-1zM172 74.3h1v1.5h-1zM177 74.3h1v1.5h-1zM179 74.3h1v1.5h-1zM181 74.3h2v1.5h-2zM188 74.3h1v1.5h-1zM194 74.3h1v1.5h-1zM200 74.3h1v1.5h-1zM210 74.3h2v1.5h-2zM223 74.3h1v1.5h-1zM255 74.3h1v1.5h-1zM171 75.7h3v1.5h-3zM181 75.7h1v1.5h-1zM183 75.7h4v1.5h-4zM208 75.7h2v1.5h-2zM172 77.2h1v1.5h-1zM177 77.2h1v1.5h-1zM180 77.2h3v1.5h-3zM185 77.2h3v1.5h-3zM193 77.2h1v1.5h-1zM199 77.2h2v1.5h-2zM208 77.2h1v1.5h-1zM210 77.2h1v1.5h-1zM219 77.2h1v1.5h-1zM169 78.6h1v1.5h-1zM172 78.6h1v1.5h-1zM177 78.6h1v1.5h-1zM179 78.6h1v1.5h-1zM181 78.6h6v1.5h-6zM193 78.6h1v1.5h-1zM199 78.6h2v1.5h-2zM208 78.6h1v1.5h-1zM219 78.6h1v1.5h-1zM170 80.1h1v1.7h-1zM241 80.1h1v1.7h-1zM168 81.8h2v1.7h-2zM171 81.8h1v1.7h-1zM173 81.8h2v1.7h-2zM176 81.8h1v1.7h-1zM229 81.8h1v1.7h-1zM232 81.8h2v1.7h-2zM240 81.8h1v1.7h-1zM242 81.8h1v1.7h-1zM169 83.5h1v1.7h-1zM171 83.5h1v1.7h-1zM174 83.5h1v1.7h-1zM176 83.5h1v1.7h-1zM183 83.5h1v1.7h-1zM229 83.5h2v1.7h-2zM232 83.5h2v1.7h-2zM244 83.5h1v1.7h-1zM202 85.2h1v1.8h-1zM207 85.2h1v1.8h-1zM212 85.2h1v1.8h-1zM214 85.2h1v1.8h-1zM216 85.2h2v1.8h-2zM221 85.2h1v1.8h-1zM227 85.2h1v1.8h-1zM237 85.2h1v1.8h-1zM247 85.2h2v1.8h-2zM191 87.0h1v1.8h-1zM202 87.0h1v1.8h-1zM205 87.0h1v1.8h-1zM207 87.0h1v1.8h-1zM212 87.0h1v1.8h-1zM214 87.0h1v1.8h-1zM216 87.0h2v1.8h-2zM227 87.0h2v1.8h-2zM237 87.0h1v1.8h-1zM247 87.0h3v1.8h-3zM257 87.0h1v1.8h-1zM168 88.8h1v1.5h-1zM170 88.8h1v1.5h-1zM193 88.8h1v1.5h-1zM199 88.8h2v1.5h-2zM208 88.8h2v1.5h-2zM228 88.8h1v1.5h-1zM236 88.8h1v1.5h-1zM238 88.8h1v1.5h-1zM245 88.8h2v1.5h-2zM249 88.8h1v1.5h-1zM257 88.8h1v1.5h-1zM264 88.8h1v1.5h-1zM267 88.8h1v1.5h-1zM170 90.3h1v1.5h-1zM199 90.3h1v1.5h-1zM208 90.3h1v1.5h-1zM228 90.3h1v1.5h-1zM234 90.3h3v1.5h-3zM238 90.3h1v1.5h-1zM243 90.3h1v1.5h-1zM246 90.3h1v1.5h-1zM249 90.3h1v1.5h-1zM251 90.3h1v1.5h-1zM257 90.3h1v1.5h-1zM259 90.3h1v1.5h-1zM264 90.3h1v1.5h-1zM266 90.3h2v1.5h-2zM169 91.7h1v1.5h-1zM175 91.7h2v1.5h-2zM188 91.7h1v1.5h-1zM194 91.7h1v1.5h-1zM200 91.7h1v1.5h-1zM211 91.7h1v1.5h-1zM219 91.7h1v1.5h-1zM228 91.7h1v1.5h-1zM237 91.7h1v1.5h-1zM247 91.7h2v1.5h-2zM257 91.7h1v1.5h-1zM168 93.2h1v1.5h-1zM170 93.2h1v1.5h-1zM174 93.2h3v1.5h-3zM194 93.2h1v1.5h-1zM199 93.2h1v1.5h-1zM208 93.2h3v1.5h-3zM219 93.2h1v1.5h-1zM228 93.2h1v1.5h-1zM234 93.2h1v1.5h-1zM236 93.2h2v1.5h-2zM246 93.2h4v1.5h-4zM257 93.2h1v1.5h-1zM264 93.2h1v1.5h-1zM267 93.2h1v1.5h-1zM169 94.6h1v1.5h-1zM171 94.6h1v1.5h-1zM173 94.6h1v1.5h-1zM183 94.6h1v1.5h-1zM188 94.6h1v1.5h-1zM192 94.6h1v1.5h-1zM194 94.6h1v1.5h-1zM211 94.6h1v1.5h-1zM237 94.6h1v1.5h-1zM247 94.6h2v1.5h-2zM257 94.6h1v1.5h-1zM169 96.1h1v1.5h-1zM171 96.1h1v1.5h-1zM175 96.1h2v1.5h-2zM183 96.1h1v1.5h-1zM187 96.1h2v1.5h-2zM192 96.1h1v1.5h-1zM194 96.1h1v1.5h-1zM199 96.1h2v1.5h-2zM219 96.1h1v1.5h-1zM223 96.1h1v1.5h-1zM236 96.1h2v1.5h-2zM247 96.1h3v1.5h-3zM257 96.1h1v1.5h-1zM267 96.1h1v1.5h-1zM169 97.5h1v1.5h-1zM171 97.5h1v1.5h-1zM174 97.5h3v1.5h-3zM188 97.5h1v1.5h-1zM192 97.5h1v1.5h-1zM210 97.5h2v1.5h-2zM219 97.5h1v1.5h-1zM223 97.5h1v1.5h-1zM236 97.5h2v1.5h-2zM247 97.5h2v1.5h-2zM250 100.8h2v1.4h-2zM228 102.2h1v1.4h-1zM250 102.2h2v1.4h-2zM228 103.6h1v1.4h-1zM249 103.6h3v1.4h-3zM228 105.0h1v1.4h-1zM249 105.0h1v1.4h-1zM228 106.4h1v1.4h-1zM249 106.4h3v1.4h-3zM238 110.7h1v1.4h-1zM243 110.7h3v1.4h-3zM253 110.7h2v1.4h-2zM256 110.7h1v1.4h-1zM258 110.7h2v1.4h-2zM261 110.7h1v1.4h-1zM265 110.7h2v1.4h-2zM228 112.1h1v1.4h-1zM233 112.1h1v1.4h-1zM235 112.1h1v1.4h-1zM239 112.1h1v1.4h-1zM243 112.1h3v1.4h-3zM256 112.1h1v1.4h-1zM258 112.1h1v1.4h-1zM260 112.1h2v1.4h-2zM265 112.1h2v1.4h-2zM209 113.6h1v1.4h-1zM234 113.6h2v1.4h-2zM238 113.6h1v1.4h-1zM243 113.6h2v1.4h-2zM250 113.6h2v1.4h-2zM256 113.6h1v1.4h-1zM258 113.6h2v1.4h-2zM265 113.6h3v1.4h-3zM231 116.8h1v1.8h-1zM241 116.8h1v1.8h-1zM172 118.6h1v1.5h-1zM181 118.6h3v1.5h-3zM185 118.6h2v1.5h-2zM189 118.6h2v1.5h-2zM195 118.6h1v1.5h-1zM197 118.6h2v1.5h-2zM201 118.6h1v1.5h-1zM203 118.6h1v1.5h-1zM206 118.6h1v1.5h-1zM215 118.6h1v1.5h-1zM218 118.6h1v1.5h-1zM220 118.6h1v1.5h-1zM222 118.6h1v1.5h-1zM224 118.6h2v1.5h-2zM228 118.6h1v1.5h-1zM237 118.6h1v1.5h-1zM247 118.6h3v1.5h-3zM257 118.6h1v1.5h-1zM171 120.1h3v1.5h-3zM181 120.1h1v1.5h-1zM183 120.1h5v1.5h-5zM189 120.1h2v1.5h-2zM195 120.1h1v1.5h-1zM197 120.1h2v1.5h-2zM200 120.1h1v1.5h-1zM203 120.1h2v1.5h-2zM206 120.1h1v1.5h-1zM218 120.1h1v1.5h-1zM220 120.1h1v1.5h-1zM222 120.1h1v1.5h-1zM228 120.1h1v1.5h-1zM236 120.1h2v1.5h-2zM246 120.1h4v1.5h-4zM251 120.1h1v1.5h-1zM257 120.1h1v1.5h-1zM172 121.6h2v1.5h-2zM181 121.6h7v1.5h-7zM189 121.6h2v1.5h-2zM195 121.6h4v1.5h-4zM201 121.6h1v1.5h-1zM203 121.6h2v1.5h-2zM215 121.6h1v1.5h-1zM218 121.6h1v1.5h-1zM220 121.6h1v1.5h-1zM222 121.6h2v1.5h-2zM228 121.6h1v1.5h-1zM237 121.6h1v1.5h-1zM248 121.6h2v1.5h-2zM257 121.6h1v1.5h-1zM267 121.6h1v1.5h-1zM169 123.0h1v1.5h-1zM171 123.0h3v1.5h-3zM181 123.0h7v1.5h-7zM189 123.0h2v1.5h-2zM195 123.0h1v1.5h-1zM198 123.0h1v1.5h-1zM201 123.0h1v1.5h-1zM203 123.0h1v1.5h-1zM211 123.0h1v1.5h-1zM218 123.0h1v1.5h-1zM220 123.0h1v1.5h-1zM222 123.0h2v1.5h-2zM228 123.0h1v1.5h-1zM236 123.0h2v1.5h-2zM245 123.0h1v1.5h-1zM248 123.0h3v1.5h-3zM257 123.0h1v1.5h-1zM264 123.0h1v1.5h-1zM267 123.0h1v1.5h-1zM172 124.5h2v1.5h-2zM181 124.5h6v1.5h-6zM189 124.5h2v1.5h-2zM195 124.5h1v1.5h-1zM197 124.5h2v1.5h-2zM201 124.5h1v1.5h-1zM203 124.5h2v1.5h-2zM215 124.5h1v1.5h-1zM220 124.5h1v1.5h-1zM222 124.5h4v1.5h-4zM236 124.5h2v1.5h-2zM247 124.5h2v1.5h-2zM257 124.5h1v1.5h-1zM264 124.5h1v1.5h-1zM168 126.0h1v1.5h-1zM193 126.0h1v1.5h-1zM199 126.0h1v1.5h-1zM209 126.0h1v1.5h-1zM231 126.0h1v1.5h-1zM240 126.0h3v1.5h-3zM255 126.0h1v1.5h-1zM262 126.0h2v1.5h-2zM168 127.5h3v1.5h-3zM174 127.5h1v1.5h-1zM193 127.5h1v1.5h-1zM199 127.5h1v1.5h-1zM208 127.5h1v1.5h-1zM210 127.5h1v1.5h-1zM219 127.5h1v1.5h-1zM232 127.5h1v1.5h-1zM239 127.5h2v1.5h-2zM242 127.5h1v1.5h-1zM254 127.5h2v1.5h-2zM261 127.5h3v1.5h-3zM170 129.0h1v1.5h-1zM231 129.0h1v1.5h-1zM168 130.6h1v1.5h-1zM170 130.6h1v1.5h-1zM199 130.6h2v1.5h-2zM208 130.6h3v1.5h-3zM219 130.6h1v1.5h-1zM232 130.6h1v1.5h-1zM239 130.6h1v1.5h-1zM241 130.6h2v1.5h-2zM255 130.6h1v1.5h-1zM262 130.6h2v1.5h-2zM170 132.1h1v1.5h-1zM193 132.1h1v1.5h-1zM208 132.1h2v1.5h-2zM231 132.1h1v1.5h-1zM241 132.1h1v1.5h-1zM262 132.1h2v1.5h-2zM168 135.1h1v1.5h-1zM175 135.1h1v1.5h-1zM193 135.1h1v1.5h-1zM199 135.1h1v1.5h-1zM208 135.1h1v1.5h-1zM232 135.1h1v1.5h-1zM240 135.1h3v1.5h-3zM252 135.1h1v1.5h-1zM255 135.1h1v1.5h-1zM263 135.1h1v1.5h-1zM170 136.6h1v1.5h-1zM208 136.6h1v1.5h-1zM231 136.6h1v1.5h-1zM168 138.1h1v1.5h-1zM175 138.1h1v1.5h-1zM193 138.1h1v1.5h-1zM199 138.1h1v1.5h-1zM208 138.1h1v1.5h-1zM210 138.1h1v1.5h-1zM219 138.1h1v1.5h-1zM232 138.1h1v1.5h-1zM239 138.1h2v1.5h-2zM242 138.1h1v1.5h-1zM252 138.1h1v1.5h-1zM255 138.1h1v1.5h-1zM263 138.1h1v1.5h-1zM168 139.7h1v1.5h-1zM174 139.7h1v1.5h-1zM193 139.7h1v1.5h-1zM199 139.7h1v1.5h-1zM208 139.7h2v1.5h-2zM231 139.7h2v1.5h-2zM240 139.7h3v1.5h-3zM255 139.7h1v1.5h-1zM262 139.7h2v1.5h-2zM231 141.2h1v1.5h-1zM229 142.7h1v1.7h-1zM209 147.8h1v1.7h-1zM231 147.8h1v1.7h-1zM241 147.8h1v1.7h-1zM228 149.5h1v1.7h-1zM170 151.3h1v1.7h-1zM208 151.3h2v1.7h-2zM241 151.3h1v1.7h-1zM228 155.9h1v1.6h-1zM228 160.6h1v1.6h-1zM228 162.2h1v1.6h-1zM202 165.3h1v1.5h-1zM205 165.3h1v1.5h-1zM207 165.3h1v1.5h-1zM214 165.3h1v1.5h-1zM216 165.3h2v1.5h-2zM221 165.3h1v1.5h-1zM227 165.3h2v1.5h-2zM236 165.3h2v1.5h-2zM247 165.3h3v1.5h-3zM257 165.3h1v1.5h-1zM237 166.8h1v1.5h-1zM248 166.8h1v1.5h-1zM216 168.2h1v1.5h-1zM237 168.2h1v1.5h-1zM202 169.7h1v1.7h-1zM212 169.7h2v1.7h-2zM215 169.7h1v1.7h-1zM218 169.7h1v1.7h-1zM220 169.7h1v1.7h-1zM222 169.7h1v1.7h-1zM224 169.7h1v1.7h-1zM243 169.7h4v1.7h-4zM202 171.3h1v1.7h-1zM213 171.3h1v1.7h-1zM215 171.3h1v1.7h-1zM218 171.3h1v1.7h-1zM220 171.3h1v1.7h-1zM224 171.3h2v1.7h-2zM243 171.3h4v1.7h-4zM202 173.0h1v1.7h-1zM213 173.0h1v1.7h-1zM215 173.0h1v1.7h-1zM218 173.0h1v1.7h-1zM220 173.0h1v1.7h-1zM222 173.0h1v1.7h-1zM224 173.0h2v1.7h-2zM237 173.0h1v1.7h-1zM243 173.0h3v1.7h-3zM191 174.7h1v1.7h-1zM202 174.7h1v1.7h-1zM205 174.7h1v1.7h-1zM207 174.7h1v1.7h-1zM211 174.7h1v1.7h-1zM218 174.7h1v1.7h-1zM220 174.7h1v1.7h-1zM222 174.7h2v1.7h-2zM237 174.7h1v1.7h-1zM244 174.7h1v1.7h-1zM257 174.7h1v1.7h-1z"/>
<path fill="#d0d0d0" d="M49 49.2h2v1.5h-2zM54 49.2h1v1.5h-1zM64 49.2h1v1.5h-1zM73 49.2h1v1.5h-1zM75 49.2h1v1.5h-1zM77 49.2h1v1.5h-1zM79 49.2h1v1.5h-1zM115 49.2h2v1.5h-2zM150 49.2h1v1.5h-1zM158 49.2h1v1.5h-1zM45 50.7h1v1.5h-1zM49 50.7h1v1.5h-1zM54 50.7h1v1.5h-1zM75 50.7h1v1.5h-1zM77 50.7h1v1.5h-1zM79 50.7h1v1.5h-1zM149 50.7h2v1.5h-2zM158 50.7h1v1.5h-1zM45 52.1h2v1.4h-2zM49 52.1h2v1.4h-2zM54 52.1h1v1.4h-1zM64 52.1h1v1.4h-1zM73 52.1h1v1.4h-1zM75 52.1h5v1.4h-5zM84 52.1h1v1.4h-1zM115 52.1h2v1.4h-2zM149 52.1h3v1.4h-3zM158 52.1h1v1.4h-1zM49 53.5h1v1.5h-1zM54 53.5h1v1.5h-1zM73 53.5h1v1.5h-1zM75 53.5h1v1.5h-1zM77 53.5h3v1.5h-3zM90 53.5h1v1.5h-1zM115 53.5h1v1.5h-1zM149 53.5h2v1.5h-2zM158 53.5h1v1.5h-1zM54 55.8h1v1.7h-1zM86 55.8h2v1.7h-2zM98 55.8h3v1.7h-3zM138 55.8h3v1.7h-3zM82 57.5h2v1.7h-2zM86 57.5h1v1.7h-1zM99 57.5h2v1.7h-2zM138 57.5h3v1.7h-3zM45 59.2h1v1.7h-1zM86 59.2h1v1.7h-1zM99 59.2h3v1.7h-3zM138 59.2h3v1.7h-3zM143 59.2h1v1.7h-1zM47 70.6h1v1.4h-1zM52 70.6h1v1.4h-1zM59 70.6h2v1.4h-2zM62 70.6h1v1.4h-1zM70 70.6h1v1.4h-1zM72 70.6h1v1.4h-1zM82 70.6h2v1.4h-2zM86 70.6h2v1.4h-2zM89 70.6h1v1.4h-1zM93 70.6h1v1.4h-1zM95 70.6h1v1.4h-1zM97 70.6h1v1.4h-1zM99 70.6h1v1.4h-1zM101 70.6h3v1.4h-3zM105 70.6h2v1.4h-2zM108 70.6h4v1.4h-4zM113 70.6h1v1.4h-1zM118 70.6h2v1.4h-2zM121 70.6h4v1.4h-4zM126 70.6h1v1.4h-1zM130 70.6h1v1.4h-1zM135 70.6h1v1.4h-1zM137 70.6h1v1.4h-1zM141 70.6h4v1.4h-4zM146 70.6h1v1.4h-1zM148 70.6h1v1.4h-1zM153 70.6h1v1.4h-1zM156 70.6h1v1.4h-1zM164 70.6h1v1.4h-1zM167 70.6h1v1.4h-1zM46 72.0h3v1.4h-3zM51 72.0h2v1.4h-2zM56 72.0h2v1.4h-2zM59 72.0h2v1.4h-2zM62 72.0h1v1.4h-1zM68 72.0h5v1.4h-5zM74 72.0h1v1.4h-1zM86 72.0h4v1.4h-4zM91 72.0h1v1.4h-1zM94 72.0h1v1.4h-1zM96 72.0h4v1.4h-4zM103 72.0h1v1.4h-1zM105 72.0h2v1.4h-2zM108 72.0h6v1.4h-6zM123 72.0h1v1.4h-1zM126 72.0h1v1.4h-1zM132 72.0h1v1.4h-1zM139 72.0h2v1.4h-2zM143 72.0h1v1.4h-1zM146 72.0h1v1.4h-1zM148 72.0h1v1.4h-1zM152 72.0h1v1.4h-1zM156 72.0h2v1.4h-2zM162 72.0h1v1.4h-1zM164 72.0h1v1.4h-1zM57 73.3h2v1.4h-2zM61 73.3h1v1.4h-1zM71 73.3h1v1.4h-1zM107 73.3h1v1.4h-1zM110 73.3h1v1.4h-1zM119 73.3h4v1.4h-4zM125 73.3h1v1.4h-1zM131 73.3h1v1.4h-1zM133 73.3h3v1.4h-3zM144 73.3h1v1.4h-1zM153 73.3h1v1.4h-1zM160 73.3h2v1.4h-2zM165 73.3h2v1.4h-2zM61 74.7h1v1.4h-1zM81 74.7h1v1.4h-1zM119 74.7h1v1.4h-1zM125 74.7h1v1.4h-1zM128 74.7h1v1.4h-1zM52 76.1h1v1.4h-1zM57 76.1h2v1.4h-2zM71 76.1h1v1.4h-1zM82 76.1h2v1.4h-2zM101 76.1h2v1.4h-2zM107 76.1h1v1.4h-1zM109 76.1h1v1.4h-1zM118 76.1h4v1.4h-4zM124 76.1h1v1.4h-1zM128 76.1h1v1.4h-1zM130 76.1h2v1.4h-2zM133 76.1h1v1.4h-1zM135 76.1h2v1.4h-2zM142 76.1h1v1.4h-1zM144 76.1h1v1.4h-1zM147 76.1h1v1.4h-1zM153 76.1h1v1.4h-1zM160 76.1h2v1.4h-2zM165 76.1h1v1.4h-1zM61 78.8h1v1.4h-1zM81 78.8h1v1.4h-1zM133 78.8h2v1.4h-2zM160 78.8h2v1.4h-2zM165 78.8h1v1.4h-1zM46 88.5h3v1.7h-3zM51 88.5h1v1.7h-1zM55 88.5h2v1.7h-2zM60 88.5h1v1.7h-1zM64 88.5h6v1.7h-6zM74 88.5h1v1.7h-1zM85 88.5h5v1.7h-5zM91 88.5h4v1.7h-4zM96 88.5h3v1.7h-3zM100 88.5h1v1.7h-1zM103 88.5h3v1.7h-3zM108 88.5h1v1.7h-1zM110 88.5h1v1.7h-1zM112 88.5h3v1.7h-3zM117 88.5h1v1.7h-1zM127 88.5h1v1.7h-1zM132 88.5h1v1.7h-1zM137 88.5h1v1.7h-1zM139 88.5h3v1.7h-3zM143 88.5h1v1.7h-1zM145 88.5h1v1.7h-1zM148 88.5h1v1.7h-1zM151 88.5h2v1.7h-2zM155 88.5h3v1.7h-3zM162 88.5h3v1.7h-3zM167 88.5h1v1.7h-1zM46 90.2h1v1.7h-1zM50 90.2h1v1.7h-1zM53 90.2h1v1.7h-1zM55 90.2h2v1.7h-2zM60 90.2h1v1.7h-1zM65 90.2h5v1.7h-5zM73 90.2h2v1.7h-2zM76 90.2h1v1.7h-1zM78 90.2h1v1.7h-1zM80 90.2h1v1.7h-1zM84 90.2h2v1.7h-2zM87 90.2h1v1.7h-1zM89 90.2h4v1.7h-4zM94 90.2h1v1.7h-1zM96 90.2h1v1.7h-1zM98 90.2h1v1.7h-1zM104 90.2h1v1.7h-1zM108 90.2h2v1.7h-2zM114 90.2h3v1.7h-3zM127 90.2h1v1.7h-1zM132 90.2h1v1.7h-1zM138 90.2h3v1.7h-3zM145 90.2h1v1.7h-1zM151 90.2h2v1.7h-2zM154 90.2h2v1.7h-2zM159 90.2h1v1.7h-1zM163 90.2h2v1.7h-2zM47 91.9h2v1.7h-2zM51 91.9h2v1.7h-2zM55 91.9h2v1.7h-2zM59 91.9h2v1.7h-2zM62 91.9h2v1.7h-2zM65 91.9h1v1.7h-1zM69 91.9h3v1.7h-3zM74 91.9h1v1.7h-1zM84 91.9h8v1.7h-8zM94 91.9h8v1.7h-8zM103 91.9h4v1.7h-4zM108 91.9h3v1.7h-3zM112 91.9h3v1.7h-3zM117 91.9h1v1.7h-1zM123 91.9h2v1.7h-2zM127 91.9h1v1.7h-1zM129 91.9h2v1.7h-2zM132 91.9h1v1.7h-1zM137 91.9h2v1.7h-2zM140 91.9h4v1.7h-4zM145 91.9h2v1.7h-2zM148 91.9h1v1.7h-1zM152 91.9h1v1.7h-1zM154 91.9h4v1.7h-4zM159 91.9h1v1.7h-1zM162 91.9h1v1.7h-1zM164 91.9h1v1.7h-1zM167 91.9h1v1.7h-1zM134 93.6h1v1.5h-1zM61 95.1h1v1.5h-1zM81 95.1h1v1.5h-1zM134 95.1h1v1.5h-1zM165 95.1h1v1.5h-1zM61 96.6h1v1.5h-1zM81 96.6h1v1.5h-1zM125 96.6h1v1.5h-1zM133 96.6h2v1.5h-2zM160 96.6h1v1.5h-1zM81 98.1h1v1.5h-1zM134 98.1h1v1.5h-1zM46 118.9h3v1.5h-3zM50 118.9h2v1.5h-2zM55 118.9h2v1.5h-2zM60 118.9h1v1.5h-1zM62 118.9h2v1.5h-2zM65 118.9h1v1.5h-1zM68 118.9h3v1.5h-3zM74 118.9h1v1.5h-1zM80 118.9h1v1.5h-1zM84 118.9h6v1.5h-6zM93 118.9h4v1.5h-4zM98 118.9h1v1.5h-1zM100 118.9h1v1.5h-1zM103 118.9h4v1.5h-4zM108 118.9h2v1.5h-2zM113 118.9h1v1.5h-1zM117 118.9h1v1.5h-1zM127 118.9h1v1.5h-1zM132 118.9h1v1.5h-1zM137 118.9h1v1.5h-1zM139 118.9h2v1.5h-2zM143 118.9h1v1.5h-1zM145 118.9h2v1.5h-2zM148 118.9h1v1.5h-1zM152 118.9h1v1.5h-1zM154 118.9h2v1.5h-2zM157 118.9h1v1.5h-1zM162 118.9h3v1.5h-3zM46 120.4h3v1.5h-3zM51 120.4h1v1.5h-1zM55 120.4h2v1.5h-2zM60 120.4h1v1.5h-1zM63 120.4h1v1.5h-1zM65 120.4h6v1.5h-6zM72 120.4h1v1.5h-1zM74 120.4h1v1.5h-1zM84 120.4h1v1.5h-1zM86 120.4h6v1.5h-6zM93 120.4h2v1.5h-2zM96 120.4h1v1.5h-1zM98 120.4h1v1.5h-1zM100 120.4h1v1.5h-1zM104 120.4h3v1.5h-3zM109 120.4h1v1.5h-1zM112 120.4h3v1.5h-3zM117 120.4h1v1.5h-1zM124 120.4h1v1.5h-1zM127 120.4h1v1.5h-1zM137 120.4h4v1.5h-4zM143 120.4h1v1.5h-1zM145 120.4h1v1.5h-1zM148 120.4h1v1.5h-1zM151 120.4h2v1.5h-2zM154 120.4h1v1.5h-1zM156 120.4h2v1.5h-2zM159 120.4h1v1.5h-1zM162 120.4h1v1.5h-1zM164 120.4h1v1.5h-1zM167 120.4h1v1.5h-1zM57 121.9h2v1.5h-2zM61 121.9h1v1.5h-1zM71 121.9h1v1.5h-1zM81 121.9h3v1.5h-3zM93 121.9h1v1.5h-1zM102 121.9h1v1.5h-1zM107 121.9h1v1.5h-1zM118 121.9h5v1.5h-5zM125 121.9h1v1.5h-1zM128 121.9h1v1.5h-1zM130 121.9h2v1.5h-2zM133 121.9h1v1.5h-1zM135 121.9h1v1.5h-1zM142 121.9h1v1.5h-1zM144 121.9h1v1.5h-1zM147 121.9h1v1.5h-1zM160 121.9h2v1.5h-2zM165 121.9h2v1.5h-2zM47 123.4h1v1.5h-1zM51 123.4h2v1.5h-2zM56 123.4h1v1.5h-1zM59 123.4h1v1.5h-1zM62 123.4h1v1.5h-1zM70 123.4h1v1.5h-1zM72 123.4h1v1.5h-1zM74 123.4h1v1.5h-1zM86 123.4h4v1.5h-4zM91 123.4h1v1.5h-1zM93 123.4h14v1.5h-14zM108 123.4h1v1.5h-1zM110 123.4h4v1.5h-4zM117 123.4h1v1.5h-1zM120 123.4h2v1.5h-2zM123 123.4h2v1.5h-2zM126 123.4h1v1.5h-1zM129 123.4h1v1.5h-1zM131 123.4h2v1.5h-2zM135 123.4h1v1.5h-1zM137 123.4h1v1.5h-1zM141 123.4h3v1.5h-3zM145 123.4h4v1.5h-4zM153 123.4h2v1.5h-2zM156 123.4h1v1.5h-1zM162 123.4h1v1.5h-1zM167 123.4h1v1.5h-1zM61 124.9h1v1.5h-1zM119 124.9h1v1.5h-1zM125 124.9h1v1.5h-1zM128 124.9h1v1.5h-1zM134 124.9h3v1.5h-3zM160 124.9h2v1.5h-2zM165 124.9h1v1.5h-1zM61 126.4h1v1.5h-1zM81 126.4h1v1.5h-1zM120 126.4h1v1.5h-1zM125 126.4h1v1.5h-1zM133 126.4h2v1.5h-2zM61 127.9h1v1.5h-1zM81 127.9h1v1.5h-1zM107 127.9h1v1.5h-1zM118 127.9h1v1.5h-1zM125 127.9h1v1.5h-1zM128 127.9h1v1.5h-1zM133 127.9h2v1.5h-2zM142 127.9h1v1.5h-1zM165 127.9h1v1.5h-1zM81 129.3h1v1.5h-1zM57 132.4h2v1.6h-2zM71 132.4h2v1.6h-2zM83 132.4h1v1.6h-1zM95 132.4h1v1.6h-1zM101 132.4h2v1.6h-2zM107 132.4h1v1.6h-1zM118 132.4h4v1.6h-4zM128 132.4h1v1.6h-1zM130 132.4h1v1.6h-1zM133 132.4h1v1.6h-1zM135 132.4h2v1.6h-2zM144 132.4h1v1.6h-1zM153 132.4h1v1.6h-1zM160 132.4h2v1.6h-2zM166 132.4h1v1.6h-1zM58 135.5h1v1.6h-1zM61 135.5h1v1.6h-1zM125 135.5h1v1.6h-1zM134 135.5h1v1.6h-1zM160 135.5h1v1.6h-1zM165 135.5h1v1.6h-1zM58 146.6h1v1.5h-1zM61 146.6h1v1.5h-1zM81 146.6h1v1.5h-1zM119 146.6h1v1.5h-1zM125 146.6h1v1.5h-1zM161 146.6h1v1.5h-1zM165 146.6h2v1.5h-2zM81 151.0h2v1.5h-2zM119 151.0h2v1.5h-2zM125 151.0h1v1.5h-1zM128 151.0h1v1.5h-1zM134 151.0h1v1.5h-1zM160 151.0h1v1.5h-1zM165 151.0h2v1.5h-2zM61 152.5h1v1.5h-1zM81 152.5h1v1.5h-1zM119 152.5h2v1.5h-2zM125 152.5h1v1.5h-1zM134 152.5h1v1.5h-1zM45 166.3h1v1.7h-1zM49 166.3h3v1.7h-3zM53 166.3h2v1.7h-2zM64 166.3h4v1.7h-4zM73 166.3h1v1.7h-1zM75 166.3h6v1.7h-6zM85 166.3h1v1.7h-1zM90 166.3h1v1.7h-1zM92 166.3h1v1.7h-1zM104 166.3h1v1.7h-1zM115 166.3h2v1.7h-2zM132 166.3h1v1.7h-1zM139 166.3h1v1.7h-1zM149 166.3h3v1.7h-3zM158 166.3h2v1.7h-2zM45 168.0h2v1.7h-2zM49 168.0h2v1.7h-2zM53 168.0h3v1.7h-3zM64 168.0h5v1.7h-5zM73 168.0h1v1.7h-1zM75 168.0h6v1.7h-6zM84 168.0h2v1.7h-2zM90 168.0h1v1.7h-1zM92 168.0h1v1.7h-1zM94 168.0h1v1.7h-1zM104 168.0h1v1.7h-1zM114 168.0h4v1.7h-4zM132 168.0h1v1.7h-1zM139 168.0h2v1.7h-2zM145 168.0h1v1.7h-1zM149 168.0h3v1.7h-3zM157 168.0h1v1.7h-1zM159 168.0h1v1.7h-1zM163 168.0h2v1.7h-2zM45 169.6h1v1.7h-1zM54 169.6h1v1.7h-1zM64 169.6h1v1.7h-1zM75 169.6h1v1.7h-1zM77 169.6h1v1.7h-1zM79 169.6h1v1.7h-1zM149 169.6h2v1.7h-2zM158 169.6h1v1.7h-1zM57 179.1h2v1.7h-2zM62 179.1h1v1.7h-1zM71 179.1h2v1.7h-2zM82 179.1h2v1.7h-2zM93 179.1h1v1.7h-1zM97 179.1h1v1.7h-1zM102 179.1h2v1.7h-2zM107 179.1h1v1.7h-1zM118 179.1h5v1.7h-5zM124 179.1h1v1.7h-1zM126 179.1h1v1.7h-1zM128 179.1h4v1.7h-4zM135 179.1h2v1.7h-2zM142 179.1h1v1.7h-1zM144 179.1h1v1.7h-1zM147 179.1h2v1.7h-2zM153 179.1h1v1.7h-1zM160 179.1h1v1.7h-1zM166 179.1h2v1.7h-2zM57 180.8h2v1.7h-2zM61 180.8h1v1.7h-1zM71 180.8h1v1.7h-1zM83 180.8h1v1.7h-1zM107 180.8h1v1.7h-1zM119 180.8h2v1.7h-2zM122 180.8h1v1.7h-1zM125 180.8h1v1.7h-1zM129 180.8h1v1.7h-1zM131 180.8h1v1.7h-1zM133 180.8h4v1.7h-4zM144 180.8h1v1.7h-1zM160 180.8h2v1.7h-2zM165 180.8h1v1.7h-1zM61 182.4h1v1.7h-1zM81 182.4h1v1.7h-1zM107 182.4h1v1.7h-1zM134 182.4h1v1.7h-1zM165 182.4h1v1.7h-1zM73 184.1h1v1.6h-1zM77 184.1h1v1.6h-1zM158 184.1h1v1.6h-1zM45 185.7h2v1.6h-2zM48 185.7h4v1.6h-4zM53 185.7h2v1.6h-2zM63 185.7h2v1.6h-2zM67 185.7h2v1.6h-2zM73 185.7h4v1.6h-4zM78 185.7h3v1.6h-3zM84 185.7h2v1.6h-2zM87 185.7h1v1.6h-1zM90 185.7h3v1.6h-3zM98 185.7h1v1.6h-1zM114 185.7h3v1.6h-3zM132 185.7h1v1.6h-1zM138 185.7h1v1.6h-1zM140 185.7h1v1.6h-1zM149 185.7h3v1.6h-3zM157 185.7h3v1.6h-3zM177 50.2h4v1.5h-4zM191 50.2h1v1.5h-1zM196 50.2h1v1.5h-1zM202 50.2h1v1.5h-1zM207 50.2h1v1.5h-1zM212 50.2h3v1.5h-3zM216 50.2h2v1.5h-2zM221 50.2h1v1.5h-1zM225 50.2h2v1.5h-2zM236 50.2h3v1.5h-3zM246 50.2h2v1.5h-2zM249 50.2h2v1.5h-2zM257 50.2h1v1.5h-1zM264 50.2h1v1.5h-1zM202 51.7h1v1.5h-1zM207 51.7h1v1.5h-1zM214 51.7h1v1.5h-1zM216 51.7h2v1.5h-2zM221 51.7h1v1.5h-1zM237 51.7h1v1.5h-1zM247 51.7h2v1.5h-2zM179 53.1h1v1.5h-1zM191 53.1h1v1.5h-1zM196 53.1h1v1.5h-1zM202 53.1h1v1.5h-1zM205 53.1h1v1.5h-1zM207 53.1h1v1.5h-1zM212 53.1h1v1.5h-1zM214 53.1h1v1.5h-1zM216 53.1h2v1.5h-2zM221 53.1h1v1.5h-1zM227 53.1h2v1.5h-2zM236 53.1h2v1.5h-2zM246 53.1h4v1.5h-4zM257 53.1h1v1.5h-1zM266 53.1h1v1.5h-1zM202 61.1h1v1.7h-1zM207 61.1h1v1.7h-1zM214 61.1h1v1.7h-1zM216 61.1h2v1.7h-2zM228 61.1h1v1.7h-1zM237 61.1h1v1.7h-1zM247 61.1h2v1.7h-2zM216 62.8h1v1.7h-1zM237 62.8h1v1.7h-1zM247 62.8h2v1.7h-2zM202 64.5h1v1.7h-1zM237 64.5h1v1.7h-1zM248 64.5h1v1.7h-1zM169 69.9h1v1.5h-1zM171 69.9h3v1.5h-3zM176 69.9h1v1.5h-1zM183 69.9h2v1.5h-2zM209 69.9h2v1.5h-2zM236 69.9h2v1.5h-2zM247 69.9h3v1.5h-3zM169 71.4h1v1.5h-1zM171 71.4h1v1.5h-1zM173 71.4h4v1.5h-4zM183 71.4h1v1.5h-1zM208 71.4h1v1.5h-1zM228 71.4h1v1.5h-1zM237 71.4h1v1.5h-1zM247 71.4h3v1.5h-3zM171 72.8h2v1.5h-2zM176 72.8h1v1.5h-1zM181 72.8h6v1.5h-6zM193 72.8h1v1.5h-1zM199 72.8h1v1.5h-1zM208 72.8h3v1.5h-3zM228 72.8h1v1.5h-1zM237 72.8h1v1.5h-1zM247 72.8h2v1.5h-2zM171 74.3h1v1.5h-1zM173 74.3h1v1.5h-1zM176 74.3h1v1.5h-1zM183 74.3h4v1.5h-4zM193 74.3h1v1.5h-1zM199 74.3h1v1.5h-1zM208 74.3h2v1.5h-2zM219 74.3h1v1.5h-1zM236 74.3h2v1.5h-2zM247 74.3h2v1.5h-2zM168 75.7h2v1.5h-2zM174 75.7h3v1.5h-3zM228 75.7h1v1.5h-1zM236 75.7h3v1.5h-3zM246 75.7h4v1.5h-4zM251 75.7h1v1.5h-1zM169 77.2h1v1.5h-1zM171 77.2h1v1.5h-1zM173 77.2h1v1.5h-1zM175 77.2h2v1.5h-2zM183 77.2h2v1.5h-2zM209 77.2h1v1.5h-1zM228 77.2h1v1.5h-1zM236 77.2h2v1.5h-2zM247 77.2h2v1.5h-2zM171 78.6h1v1.5h-1zM173 78.6h2v1.5h-2zM176 78.6h1v1.5h-1zM209 78.6h1v1.5h-1zM228 78.6h1v1.5h-1zM236 78.6h2v1.5h-2zM247 78.6h3v1.5h-3zM231 80.1h1v1.7h-1zM170 81.8h1v1.7h-1zM175 81.8h1v1.7h-1zM230 81.8h2v1.7h-2zM239 81.8h1v1.7h-1zM241 81.8h1v1.7h-1zM168 83.5h1v1.7h-1zM175 83.5h1v1.7h-1zM239 83.5h4v1.7h-4zM171 85.2h2v1.8h-2zM177 85.2h7v1.8h-7zM185 85.2h2v1.8h-2zM189 85.2h1v1.8h-1zM191 85.2h1v1.8h-1zM195 85.2h4v1.8h-4zM205 85.2h2v1.8h-2zM213 85.2h1v1.8h-1zM215 85.2h1v1.8h-1zM218 85.2h1v1.8h-1zM220 85.2h1v1.8h-1zM222 85.2h1v1.8h-1zM224 85.2h3v1.8h-3zM228 85.2h1v1.8h-1zM230 85.2h1v1.8h-1zM234 85.2h3v1.8h-3zM238 85.2h1v1.8h-1zM243 85.2h4v1.8h-4zM249 85.2h5v1.8h-5zM256 85.2h4v1.8h-4zM264 85.2h4v1.8h-4zM172 87.0h2v1.8h-2zM177 87.0h6v1.8h-6zM185 87.0h3v1.8h-3zM189 87.0h2v1.8h-2zM195 87.0h4v1.8h-4zM201 87.0h1v1.8h-1zM203 87.0h2v1.8h-2zM206 87.0h1v1.8h-1zM213 87.0h1v1.8h-1zM215 87.0h1v1.8h-1zM218 87.0h1v1.8h-1zM220 87.0h3v1.8h-3zM224 87.0h3v1.8h-3zM229 87.0h1v1.8h-1zM234 87.0h3v1.8h-3zM238 87.0h1v1.8h-1zM243 87.0h4v1.8h-4zM250 87.0h3v1.8h-3zM256 87.0h1v1.8h-1zM258 87.0h2v1.8h-2zM261 87.0h1v1.8h-1zM264 87.0h4v1.8h-4zM229 88.8h2v1.5h-2zM233 88.8h3v1.5h-3zM243 88.8h2v1.5h-2zM250 88.8h3v1.5h-3zM254 88.8h1v1.5h-1zM256 88.8h1v1.5h-1zM258 88.8h4v1.5h-4zM265 88.8h2v1.5h-2zM229 90.3h2v1.5h-2zM233 90.3h1v1.5h-1zM239 90.3h1v1.5h-1zM244 90.3h2v1.5h-2zM250 90.3h1v1.5h-1zM253 90.3h2v1.5h-2zM256 90.3h1v1.5h-1zM258 90.3h1v1.5h-1zM260 90.3h2v1.5h-2zM265 90.3h1v1.5h-1zM168 91.7h1v1.5h-1zM170 91.7h1v1.5h-1zM174 91.7h1v1.5h-1zM193 91.7h1v1.5h-1zM199 91.7h1v1.5h-1zM208 91.7h3v1.5h-3zM234 91.7h1v1.5h-1zM236 91.7h1v1.5h-1zM238 91.7h1v1.5h-1zM245 91.7h2v1.5h-2zM249 91.7h3v1.5h-3zM258 91.7h2v1.5h-2zM264 91.7h4v1.5h-4zM229 93.2h1v1.5h-1zM233 93.2h1v1.5h-1zM235 93.2h1v1.5h-1zM238 93.2h1v1.5h-1zM243 93.2h3v1.5h-3zM250 93.2h3v1.5h-3zM256 93.2h1v1.5h-1zM258 93.2h2v1.5h-2zM265 93.2h2v1.5h-2zM168 94.6h1v1.5h-1zM170 94.6h1v1.5h-1zM174 94.6h3v1.5h-3zM193 94.6h1v1.5h-1zM199 94.6h2v1.5h-2zM208 94.6h3v1.5h-3zM219 94.6h1v1.5h-1zM228 94.6h1v1.5h-1zM234 94.6h3v1.5h-3zM238 94.6h1v1.5h-1zM245 94.6h2v1.5h-2zM249 94.6h3v1.5h-3zM258 94.6h2v1.5h-2zM264 94.6h1v1.5h-1zM266 94.6h2v1.5h-2zM168 96.1h1v1.5h-1zM170 96.1h1v1.5h-1zM174 96.1h1v1.5h-1zM193 96.1h1v1.5h-1zM208 96.1h3v1.5h-3zM228 96.1h1v1.5h-1zM234 96.1h2v1.5h-2zM238 96.1h1v1.5h-1zM244 96.1h1v1.5h-1zM246 96.1h1v1.5h-1zM250 96.1h2v1.5h-2zM258 96.1h2v1.5h-2zM264 96.1h3v1.5h-3zM168 97.5h1v1.5h-1zM170 97.5h1v1.5h-1zM193 97.5h1v1.5h-1zM199 97.5h2v1.5h-2zM208 97.5h2v1.5h-2zM228 97.5h1v1.5h-1zM234 97.5h2v1.5h-2zM238 97.5h1v1.5h-1zM243 97.5h1v1.5h-1zM245 97.5h2v1.5h-2zM249 97.5h3v1.5h-3zM256 97.5h4v1.5h-4zM264 97.5h4v1.5h-4zM229 100.8h2v1.4h-2zM229 102.2h2v1.4h-2zM229 103.6h2v1.4h-2zM229 105.0h1v1.4h-1zM250 105.0h2v1.4h-2zM229 106.4h2v1.4h-2zM217 107.8h1v1.5h-1zM237 107.8h1v1.5h-1zM248 107.8h1v1.5h-1zM202 109.2h1v1.5h-1zM216 109.2h1v1.5h-1zM237 109.2h1v1.5h-1zM247 109.2h2v1.5h-2zM228 110.7h1v1.4h-1zM232 110.7h2v1.4h-2zM239 110.7h2v1.4h-2zM242 110.7h1v1.4h-1zM252 110.7h1v1.4h-1zM255 110.7h1v1.4h-1zM260 110.7h1v1.4h-1zM262 110.7h2v1.4h-2zM232 112.1h1v1.4h-1zM240 112.1h3v1.4h-3zM252 112.1h4v1.4h-4zM262 112.1h2v1.4h-2zM228 113.6h1v1.4h-1zM232 113.6h2v1.4h-2zM239 113.6h2v1.4h-2zM242 113.6h1v1.4h-1zM245 113.6h1v1.4h-1zM252 113.6h4v1.4h-4zM260 113.6h3v1.4h-3zM231 115.0h1v1.8h-1zM169 118.6h1v1.5h-1zM171 118.6h1v1.5h-1zM173 118.6h1v1.5h-1zM175 118.6h2v1.5h-2zM184 118.6h1v1.5h-1zM187 118.6h2v1.5h-2zM192 118.6h1v1.5h-1zM194 118.6h1v1.5h-1zM200 118.6h1v1.5h-1zM204 118.6h1v1.5h-1zM211 118.6h1v1.5h-1zM219 118.6h1v1.5h-1zM223 118.6h1v1.5h-1zM234 118.6h3v1.5h-3zM238 118.6h1v1.5h-1zM243 118.6h1v1.5h-1zM245 118.6h2v1.5h-2zM250 118.6h2v1.5h-2zM256 118.6h1v1.5h-1zM258 118.6h2v1.5h-2zM264 118.6h1v1.5h-1zM266 118.6h2v1.5h-2zM169 120.1h2v1.5h-2zM174 120.1h3v1.5h-3zM188 120.1h1v1.5h-1zM192 120.1h3v1.5h-3zM199 120.1h1v1.5h-1zM210 120.1h2v1.5h-2zM219 120.1h1v1.5h-1zM223 120.1h1v1.5h-1zM229 120.1h1v1.5h-1zM234 120.1h2v1.5h-2zM238 120.1h1v1.5h-1zM244 120.1h2v1.5h-2zM250 120.1h1v1.5h-1zM256 120.1h1v1.5h-1zM258 120.1h2v1.5h-2zM264 120.1h4v1.5h-4zM168 121.6h2v1.5h-2zM171 121.6h1v1.5h-1zM174 121.6h3v1.5h-3zM188 121.6h1v1.5h-1zM192 121.6h3v1.5h-3zM200 121.6h1v1.5h-1zM210 121.6h2v1.5h-2zM219 121.6h1v1.5h-1zM229 121.6h1v1.5h-1zM234 121.6h3v1.5h-3zM238 121.6h1v1.5h-1zM243 121.6h4v1.5h-4zM250 121.6h2v1.5h-2zM256 121.6h1v1.5h-1zM258 121.6h2v1.5h-2zM264 121.6h3v1.5h-3zM174 123.0h3v1.5h-3zM188 123.0h1v1.5h-1zM192 123.0h3v1.5h-3zM199 123.0h2v1.5h-2zM210 123.0h1v1.5h-1zM219 123.0h1v1.5h-1zM229 123.0h1v1.5h-1zM234 123.0h2v1.5h-2zM238 123.0h2v1.5h-2zM243 123.0h2v1.5h-2zM246 123.0h1v1.5h-1zM251 123.0h4v1.5h-4zM256 123.0h1v1.5h-1zM258 123.0h3v1.5h-3zM265 123.0h2v1.5h-2zM169 124.5h1v1.5h-1zM171 124.5h1v1.5h-1zM174 124.5h3v1.5h-3zM187 124.5h2v1.5h-2zM192 124.5h1v1.5h-1zM194 124.5h1v1.5h-1zM200 124.5h1v1.5h-1zM210 124.5h2v1.5h-2zM218 124.5h2v1.5h-2zM228 124.5h1v1.5h-1zM234 124.5h2v1.5h-2zM238 124.5h1v1.5h-1zM243 124.5h4v1.5h-4zM249 124.5h3v1.5h-3zM256 124.5h1v1.5h-1zM258 124.5h2v1.5h-2zM265 124.5h3v1.5h-3zM209 127.5h1v1.5h-1zM241 127.5h1v1.5h-1zM231 130.6h1v1.5h-1zM170 135.1h1v1.5h-1zM209 135.1h1v1.5h-1zM231 135.1h1v1.5h-1zM170 138.1h1v1.5h-1zM209 138.1h1v1.5h-1zM231 138.1h1v1.5h-1zM241 138.1h1v1.5h-1zM170 139.7h1v1.5h-1zM230 142.7h1v1.7h-1zM229 144.4h2v1.7h-2zM229 146.1h2v1.7h-2zM228 147.8h1v1.7h-1zM230 149.5h1v1.7h-1zM228 151.3h1v1.7h-1zM229 157.5h2v1.6h-2zM229 159.0h2v1.6h-2zM229 160.6h1v1.6h-1zM229 162.2h1v1.6h-1zM229 163.7h2v1.6h-2zM172 165.3h1v1.5h-1zM177 165.3h6v1.5h-6zM185 165.3h3v1.5h-3zM189 165.3h3v1.5h-3zM195 165.3h3v1.5h-3zM201 165.3h1v1.5h-1zM204 165.3h1v1.5h-1zM206 165.3h1v1.5h-1zM212 165.3h2v1.5h-2zM215 165.3h1v1.5h-1zM218 165.3h1v1.5h-1zM220 165.3h1v1.5h-1zM222 165.3h1v1.5h-1zM224 165.3h3v1.5h-3zM229 165.3h1v1.5h-1zM234 165.3h2v1.5h-2zM238 165.3h1v1.5h-1zM244 165.3h3v1.5h-3zM250 165.3h2v1.5h-2zM256 165.3h1v1.5h-1zM258 165.3h2v1.5h-2zM264 165.3h4v1.5h-4zM177 166.8h4v1.5h-4zM182 166.8h1v1.5h-1zM191 166.8h1v1.5h-1zM196 166.8h1v1.5h-1zM202 166.8h1v1.5h-1zM205 166.8h3v1.5h-3zM212 166.8h3v1.5h-3zM216 166.8h2v1.5h-2zM221 166.8h1v1.5h-1zM225 166.8h4v1.5h-4zM234 166.8h3v1.5h-3zM243 166.8h1v1.5h-1zM246 166.8h2v1.5h-2zM249 166.8h1v1.5h-1zM251 166.8h1v1.5h-1zM257 166.8h1v1.5h-1zM259 166.8h1v1.5h-1zM264 166.8h1v1.5h-1zM267 166.8h1v1.5h-1zM177 168.2h4v1.5h-4zM191 168.2h1v1.5h-1zM196 168.2h1v1.5h-1zM202 168.2h1v1.5h-1zM205 168.2h1v1.5h-1zM207 168.2h1v1.5h-1zM212 168.2h3v1.5h-3zM217 168.2h1v1.5h-1zM221 168.2h1v1.5h-1zM225 168.2h4v1.5h-4zM236 168.2h1v1.5h-1zM246 168.2h4v1.5h-4zM257 168.2h1v1.5h-1zM259 168.2h1v1.5h-1zM264 168.2h1v1.5h-1zM267 168.2h1v1.5h-1zM177 169.7h4v1.7h-4zM191 169.7h1v1.7h-1zM196 169.7h1v1.7h-1zM205 169.7h1v1.7h-1zM207 169.7h1v1.7h-1zM211 169.7h1v1.7h-1zM223 169.7h1v1.7h-1zM226 169.7h3v1.7h-3zM236 169.7h2v1.7h-2zM250 169.7h2v1.7h-2zM257 169.7h1v1.7h-1zM259 169.7h1v1.7h-1zM264 169.7h1v1.7h-1zM266 169.7h2v1.7h-2zM177 171.3h4v1.7h-4zM191 171.3h1v1.7h-1zM196 171.3h1v1.7h-1zM205 171.3h3v1.7h-3zM211 171.3h1v1.7h-1zM222 171.3h2v1.7h-2zM226 171.3h3v1.7h-3zM236 171.3h3v1.7h-3zM251 171.3h1v1.7h-1zM257 171.3h1v1.7h-1zM264 171.3h1v1.7h-1zM267 171.3h1v1.7h-1zM177 173.0h4v1.7h-4zM182 173.0h1v1.7h-1zM191 173.0h1v1.7h-1zM196 173.0h2v1.7h-2zM205 173.0h1v1.7h-1zM207 173.0h1v1.7h-1zM210 173.0h2v1.7h-2zM223 173.0h1v1.7h-1zM226 173.0h3v1.7h-3zM236 173.0h1v1.7h-1zM238 173.0h1v1.7h-1zM242 173.0h1v1.7h-1zM250 173.0h2v1.7h-2zM257 173.0h1v1.7h-1zM259 173.0h1v1.7h-1zM264 173.0h1v1.7h-1zM266 173.0h2v1.7h-2zM172 174.7h1v1.7h-1zM177 174.7h6v1.7h-6zM185 174.7h2v1.7h-2zM190 174.7h1v1.7h-1zM196 174.7h3v1.7h-3zM201 174.7h1v1.7h-1zM204 174.7h1v1.7h-1zM206 174.7h1v1.7h-1zM210 174.7h1v1.7h-1zM219 174.7h1v1.7h-1zM226 174.7h3v1.7h-3zM234 174.7h3v1.7h-3zM238 174.7h1v1.7h-1zM242 174.7h1v1.7h-1zM250 174.7h2v1.7h-2zM256 174.7h1v1.7h-1zM258 174.7h1v1.7h-1zM264 174.7h1v1.7h-1zM266 174.7h2v1.7h-2zM216 179.2h1v1.5h-1zM237 179.2h1v1.5h-1zM247 179.2h2v1.5h-2zM248 180.7h1v1.5h-1z"/>
<path fill="#e0e0e0" d="M45 49.2h2v1.5h-2zM48 49.2h1v1.5h-1zM51 49.2h1v1.5h-1zM53 49.2h1v1.5h-1zM55 49.2h2v1.5h-2zM59 49.2h2v1.5h-2zM63 49.2h1v1.5h-1zM65 49.2h5v1.5h-5zM74 49.2h1v1.5h-1zM76 49.2h1v1.5h-1zM78 49.2h1v1.5h-1zM80 49.2h1v1.5h-1zM84 49.2h9v1.5h-9zM94 49.2h7v1.5h-7zM104 49.2h2v1.5h-2zM108 49.2h2v1.5h-2zM112 49.2h3v1.5h-3zM117 49.2h2v1.5h-2zM126 49.2h2v1.5h-2zM132 49.2h1v1.5h-1zM138 49.2h4v1.5h-4zM143 49.2h1v1.5h-1zM145 49.2h2v1.5h-2zM148 49.2h2v1.5h-2zM151 49.2h2v1.5h-2zM154 49.2h2v1.5h-2zM157 49.2h1v1.5h-1zM159 49.2h1v1.5h-1zM162 49.2h3v1.5h-3zM46 50.7h3v1.5h-3zM50 50.7h2v1.5h-2zM53 50.7h1v1.5h-1zM55 50.7h2v1.5h-2zM59 50.7h2v1.5h-2zM63 50.7h8v1.5h-8zM73 50.7h2v1.5h-2zM76 50.7h1v1.5h-1zM78 50.7h1v1.5h-1zM80 50.7h1v1.5h-1zM84 50.7h9v1.5h-9zM94 50.7h1v1.5h-1zM96 50.7h1v1.5h-1zM98 50.7h1v1.5h-1zM100 50.7h1v1.5h-1zM103 50.7h4v1.5h-4zM112 50.7h6v1.5h-6zM126 50.7h2v1.5h-2zM129 50.7h1v1.5h-1zM132 50.7h1v1.5h-1zM137 50.7h4v1.5h-4zM145 50.7h2v1.5h-2zM148 50.7h1v1.5h-1zM151 50.7h2v1.5h-2zM154 50.7h4v1.5h-4zM159 50.7h1v1.5h-1zM162 50.7h3v1.5h-3zM47 52.1h2v1.4h-2zM51 52.1h3v1.4h-3zM55 52.1h2v1.4h-2zM60 52.1h1v1.4h-1zM62 52.1h2v1.4h-2zM65 52.1h8v1.4h-8zM74 52.1h1v1.4h-1zM80 52.1h1v1.4h-1zM85 52.1h8v1.4h-8zM94 52.1h5v1.4h-5zM100 52.1h1v1.4h-1zM103 52.1h4v1.4h-4zM108 52.1h2v1.4h-2zM111 52.1h4v1.4h-4zM117 52.1h1v1.4h-1zM123 52.1h1v1.4h-1zM126 52.1h2v1.4h-2zM131 52.1h2v1.4h-2zM138 52.1h3v1.4h-3zM143 52.1h1v1.4h-1zM145 52.1h2v1.4h-2zM148 52.1h1v1.4h-1zM152 52.1h1v1.4h-1zM154 52.1h4v1.4h-4zM159 52.1h1v1.4h-1zM162 52.1h3v1.4h-3zM167 52.1h1v1.4h-1zM45 53.5h4v1.5h-4zM50 53.5h4v1.5h-4zM55 53.5h2v1.5h-2zM60 53.5h1v1.5h-1zM63 53.5h10v1.5h-10zM74 53.5h1v1.5h-1zM76 53.5h1v1.5h-1zM80 53.5h1v1.5h-1zM84 53.5h6v1.5h-6zM91 53.5h2v1.5h-2zM94 53.5h3v1.5h-3zM98 53.5h1v1.5h-1zM100 53.5h1v1.5h-1zM103 53.5h4v1.5h-4zM111 53.5h4v1.5h-4zM116 53.5h2v1.5h-2zM126 53.5h2v1.5h-2zM132 53.5h1v1.5h-1zM138 53.5h3v1.5h-3zM142 53.5h2v1.5h-2zM145 53.5h2v1.5h-2zM148 53.5h1v1.5h-1zM151 53.5h2v1.5h-2zM154 53.5h4v1.5h-4zM159 53.5h1v1.5h-1zM162 53.5h3v1.5h-3zM54 55.0h1v0.8h-1zM77 55.0h1v0.8h-1zM158 55.0h1v0.8h-1zM45 55.8h2v1.7h-2zM48 55.8h4v1.7h-4zM53 55.8h1v1.7h-1zM55 55.8h1v1.7h-1zM60 55.8h1v1.7h-1zM82 55.8h2v1.7h-2zM101 55.8h1v1.7h-1zM141 55.8h3v1.7h-3zM45 57.5h2v1.7h-2zM48 57.5h4v1.7h-4zM53 57.5h4v1.7h-4zM60 57.5h1v1.7h-1zM101 57.5h1v1.7h-1zM141 57.5h4v1.7h-4zM46 59.2h6v1.7h-6zM53 59.2h4v1.7h-4zM60 59.2h1v1.7h-1zM81 59.2h3v1.7h-3zM141 59.2h2v1.7h-2zM144 59.2h1v1.7h-1zM45 60.9h1v1.4h-1zM54 60.9h1v1.4h-1zM64 60.9h1v1.4h-1zM73 60.9h1v1.4h-1zM75 60.9h1v1.4h-1zM77 60.9h1v1.4h-1zM79 60.9h1v1.4h-1zM90 60.9h1v1.4h-1zM115 60.9h1v1.4h-1zM149 60.9h3v1.4h-3zM158 60.9h1v1.4h-1zM45 62.3h1v1.4h-1zM49 62.3h1v1.4h-1zM54 62.3h1v1.4h-1zM73 62.3h1v1.4h-1zM75 62.3h1v1.4h-1zM77 62.3h3v1.4h-3zM115 62.3h1v1.4h-1zM149 62.3h2v1.4h-2zM158 62.3h1v1.4h-1zM45 63.7h1v1.4h-1zM49 63.7h1v1.4h-1zM54 63.7h1v1.4h-1zM75 63.7h1v1.4h-1zM77 63.7h2v1.4h-2zM150 63.7h1v1.4h-1zM158 63.7h1v1.4h-1zM45 65.0h1v1.4h-1zM49 65.0h1v1.4h-1zM54 65.0h1v1.4h-1zM73 65.0h1v1.4h-1zM77 65.0h1v1.4h-1zM79 65.0h1v1.4h-1zM114 65.0h2v1.4h-2zM149 65.0h2v1.4h-2zM158 65.0h1v1.4h-1zM57 70.6h2v1.4h-2zM61 70.6h1v1.4h-1zM71 70.6h1v1.4h-1zM107 70.6h1v1.4h-1zM120 70.6h1v1.4h-1zM125 70.6h1v1.4h-1zM128 70.6h2v1.4h-2zM131 70.6h1v1.4h-1zM133 70.6h2v1.4h-2zM136 70.6h1v1.4h-1zM147 70.6h1v1.4h-1zM160 70.6h2v1.4h-2zM165 70.6h2v1.4h-2zM58 72.0h1v1.4h-1zM82 72.0h2v1.4h-2zM93 72.0h1v1.4h-1zM95 72.0h1v1.4h-1zM100 72.0h3v1.4h-3zM107 72.0h1v1.4h-1zM118 72.0h5v1.4h-5zM124 72.0h1v1.4h-1zM128 72.0h4v1.4h-4zM133 72.0h1v1.4h-1zM135 72.0h3v1.4h-3zM141 72.0h2v1.4h-2zM144 72.0h1v1.4h-1zM147 72.0h1v1.4h-1zM153 72.0h1v1.4h-1zM160 72.0h2v1.4h-2zM166 72.0h2v1.4h-2zM81 73.3h1v1.4h-1zM134 74.7h1v1.4h-1zM61 76.1h1v1.4h-1zM81 76.1h1v1.4h-1zM125 76.1h1v1.4h-1zM134 76.1h1v1.4h-1zM166 76.1h1v1.4h-1zM52 88.5h1v1.7h-1zM57 88.5h3v1.7h-3zM61 88.5h2v1.7h-2zM70 88.5h3v1.7h-3zM81 88.5h3v1.7h-3zM95 88.5h1v1.7h-1zM99 88.5h1v1.7h-1zM101 88.5h2v1.7h-2zM106 88.5h2v1.7h-2zM109 88.5h1v1.7h-1zM111 88.5h1v1.7h-1zM118 88.5h7v1.7h-7zM126 88.5h1v1.7h-1zM128 88.5h4v1.7h-4zM133 88.5h1v1.7h-1zM135 88.5h2v1.7h-2zM142 88.5h1v1.7h-1zM144 88.5h1v1.7h-1zM146 88.5h2v1.7h-2zM153 88.5h1v1.7h-1zM160 88.5h2v1.7h-2zM165 88.5h2v1.7h-2zM47 90.2h2v1.7h-2zM51 90.2h2v1.7h-2zM57 90.2h3v1.7h-3zM62 90.2h2v1.7h-2zM70 90.2h3v1.7h-3zM82 90.2h2v1.7h-2zM86 90.2h1v1.7h-1zM88 90.2h1v1.7h-1zM93 90.2h1v1.7h-1zM95 90.2h1v1.7h-1zM97 90.2h1v1.7h-1zM99 90.2h5v1.7h-5zM105 90.2h2v1.7h-2zM110 90.2h4v1.7h-4zM117 90.2h4v1.7h-4zM122 90.2h3v1.7h-3zM126 90.2h1v1.7h-1zM128 90.2h4v1.7h-4zM135 90.2h3v1.7h-3zM141 90.2h4v1.7h-4zM146 90.2h3v1.7h-3zM153 90.2h1v1.7h-1zM156 90.2h2v1.7h-2zM160 90.2h1v1.7h-1zM162 90.2h1v1.7h-1zM166 90.2h2v1.7h-2zM57 91.9h2v1.7h-2zM61 91.9h1v1.7h-1zM72 91.9h1v1.7h-1zM82 91.9h2v1.7h-2zM93 91.9h1v1.7h-1zM102 91.9h1v1.7h-1zM107 91.9h1v1.7h-1zM111 91.9h1v1.7h-1zM118 91.9h5v1.7h-5zM125 91.9h2v1.7h-2zM128 91.9h1v1.7h-1zM131 91.9h1v1.7h-1zM133 91.9h1v1.7h-1zM135 91.9h2v1.7h-2zM144 91.9h1v1.7h-1zM147 91.9h1v1.7h-1zM153 91.9h1v1.7h-1zM160 91.9h2v1.7h-2zM165 91.9h2v1.7h-2zM45 99.6h1v1.8h-1zM49 99.6h1v1.8h-1zM54 99.6h1v1.8h-1zM77 99.6h1v1.8h-1zM79 99.6h1v1.8h-1zM149 99.6h1v1.8h-1zM158 99.6h1v1.8h-1zM52 118.9h1v1.5h-1zM57 118.9h3v1.5h-3zM71 118.9h2v1.5h-2zM82 118.9h2v1.5h-2zM97 118.9h1v1.5h-1zM99 118.9h1v1.5h-1zM101 118.9h2v1.5h-2zM107 118.9h1v1.5h-1zM110 118.9h3v1.5h-3zM118 118.9h9v1.5h-9zM128 118.9h4v1.5h-4zM133 118.9h1v1.5h-1zM135 118.9h2v1.5h-2zM141 118.9h2v1.5h-2zM144 118.9h1v1.5h-1zM147 118.9h1v1.5h-1zM153 118.9h1v1.5h-1zM156 118.9h1v1.5h-1zM160 118.9h2v1.5h-2zM166 118.9h2v1.5h-2zM52 120.4h1v1.5h-1zM57 120.4h3v1.5h-3zM62 120.4h1v1.5h-1zM71 120.4h1v1.5h-1zM82 120.4h2v1.5h-2zM95 120.4h1v1.5h-1zM97 120.4h1v1.5h-1zM99 120.4h1v1.5h-1zM101 120.4h3v1.5h-3zM107 120.4h2v1.5h-2zM110 120.4h2v1.5h-2zM118 120.4h2v1.5h-2zM121 120.4h3v1.5h-3zM126 120.4h1v1.5h-1zM128 120.4h4v1.5h-4zM133 120.4h1v1.5h-1zM135 120.4h2v1.5h-2zM141 120.4h2v1.5h-2zM144 120.4h1v1.5h-1zM146 120.4h2v1.5h-2zM153 120.4h1v1.5h-1zM160 120.4h2v1.5h-2zM166 120.4h1v1.5h-1zM134 121.9h1v1.5h-1zM57 123.4h2v1.5h-2zM71 123.4h1v1.5h-1zM82 123.4h2v1.5h-2zM107 123.4h1v1.5h-1zM109 123.4h1v1.5h-1zM118 123.4h2v1.5h-2zM122 123.4h1v1.5h-1zM125 123.4h1v1.5h-1zM128 123.4h1v1.5h-1zM130 123.4h1v1.5h-1zM133 123.4h2v1.5h-2zM136 123.4h1v1.5h-1zM144 123.4h1v1.5h-1zM160 123.4h2v1.5h-2zM165 123.4h2v1.5h-2zM81 124.9h1v1.5h-1zM61 132.4h1v1.6h-1zM81 132.4h1v1.6h-1zM125 132.4h1v1.6h-1zM134 132.4h1v1.6h-1zM165 132.4h1v1.6h-1zM81 135.5h1v1.6h-1zM134 146.6h1v1.5h-1zM61 151.0h1v1.5h-1zM46 166.3h3v1.7h-3zM52 166.3h1v1.7h-1zM55 166.3h2v1.7h-2zM59 166.3h2v1.7h-2zM62 166.3h2v1.7h-2zM68 166.3h3v1.7h-3zM72 166.3h1v1.7h-1zM74 166.3h1v1.7h-1zM84 166.3h1v1.7h-1zM86 166.3h4v1.7h-4zM91 166.3h1v1.7h-1zM94 166.3h3v1.7h-3zM98 166.3h3v1.7h-3zM102 166.3h2v1.7h-2zM105 166.3h2v1.7h-2zM108 166.3h7v1.7h-7zM117 166.3h1v1.7h-1zM121 166.3h4v1.7h-4zM126 166.3h2v1.7h-2zM129 166.3h1v1.7h-1zM136 166.3h3v1.7h-3zM140 166.3h2v1.7h-2zM143 166.3h1v1.7h-1zM145 166.3h4v1.7h-4zM152 166.3h1v1.7h-1zM154 166.3h4v1.7h-4zM162 166.3h3v1.7h-3zM167 166.3h1v1.7h-1zM47 168.0h2v1.7h-2zM51 168.0h2v1.7h-2zM56 168.0h2v1.7h-2zM59 168.0h2v1.7h-2zM62 168.0h2v1.7h-2zM69 168.0h4v1.7h-4zM74 168.0h1v1.7h-1zM82 168.0h2v1.7h-2zM86 168.0h4v1.7h-4zM91 168.0h1v1.7h-1zM95 168.0h9v1.7h-9zM105 168.0h2v1.7h-2zM108 168.0h6v1.7h-6zM119 168.0h2v1.7h-2zM122 168.0h3v1.7h-3zM126 168.0h2v1.7h-2zM129 168.0h2v1.7h-2zM136 168.0h3v1.7h-3zM141 168.0h4v1.7h-4zM146 168.0h3v1.7h-3zM152 168.0h5v1.7h-5zM162 168.0h1v1.7h-1zM166 168.0h2v1.7h-2zM46 169.6h1v1.7h-1zM48 169.6h4v1.7h-4zM53 169.6h1v1.7h-1zM55 169.6h2v1.7h-2zM60 169.6h1v1.7h-1zM63 169.6h1v1.7h-1zM65 169.6h5v1.7h-5zM72 169.6h3v1.7h-3zM76 169.6h1v1.7h-1zM78 169.6h1v1.7h-1zM80 169.6h1v1.7h-1zM84 169.6h9v1.7h-9zM94 169.6h1v1.7h-1zM96 169.6h1v1.7h-1zM98 169.6h1v1.7h-1zM100 169.6h1v1.7h-1zM104 169.6h2v1.7h-2zM112 169.6h1v1.7h-1zM114 169.6h4v1.7h-4zM127 169.6h1v1.7h-1zM132 169.6h1v1.7h-1zM138 169.6h3v1.7h-3zM145 169.6h1v1.7h-1zM151 169.6h2v1.7h-2zM154 169.6h2v1.7h-2zM157 169.6h1v1.7h-1zM159 169.6h1v1.7h-1zM162 169.6h3v1.7h-3zM45 171.3h1v1.6h-1zM49 171.3h1v1.6h-1zM54 171.3h1v1.6h-1zM77 171.3h1v1.6h-1zM79 171.3h1v1.6h-1zM115 171.3h1v1.6h-1zM149 171.3h2v1.6h-2zM158 171.3h1v1.6h-1zM45 172.9h1v1.6h-1zM49 172.9h1v1.6h-1zM54 172.9h1v1.6h-1zM77 172.9h1v1.6h-1zM79 172.9h1v1.6h-1zM115 172.9h1v1.6h-1zM149 172.9h2v1.6h-2zM158 172.9h1v1.6h-1zM45 174.4h1v1.6h-1zM49 174.4h1v1.6h-1zM54 174.4h1v1.6h-1zM73 174.4h1v1.6h-1zM75 174.4h1v1.6h-1zM77 174.4h1v1.6h-1zM79 174.4h1v1.6h-1zM115 174.4h1v1.6h-1zM149 174.4h2v1.6h-2zM158 174.4h1v1.6h-1zM45 176.0h1v1.6h-1zM49 176.0h2v1.6h-2zM53 176.0h2v1.6h-2zM65 176.0h1v1.6h-1zM73 176.0h1v1.6h-1zM75 176.0h1v1.6h-1zM77 176.0h4v1.6h-4zM90 176.0h1v1.6h-1zM92 176.0h1v1.6h-1zM115 176.0h2v1.6h-2zM149 176.0h3v1.6h-3zM158 176.0h1v1.6h-1zM45 177.5h2v1.6h-2zM49 177.5h2v1.6h-2zM53 177.5h2v1.6h-2zM64 177.5h1v1.6h-1zM67 177.5h1v1.6h-1zM73 177.5h1v1.6h-1zM75 177.5h6v1.6h-6zM85 177.5h1v1.6h-1zM90 177.5h1v1.6h-1zM92 177.5h1v1.6h-1zM104 177.5h1v1.6h-1zM114 177.5h3v1.6h-3zM138 177.5h1v1.6h-1zM149 177.5h3v1.6h-3zM158 177.5h1v1.6h-1zM61 179.1h1v1.7h-1zM81 179.1h1v1.7h-1zM125 179.1h1v1.7h-1zM133 179.1h1v1.7h-1zM161 179.1h1v1.7h-1zM165 179.1h1v1.7h-1zM81 180.8h1v1.7h-1zM45 184.1h2v1.6h-2zM48 184.1h3v1.6h-3zM53 184.1h4v1.6h-4zM60 184.1h1v1.6h-1zM64 184.1h6v1.6h-6zM75 184.1h2v1.6h-2zM78 184.1h3v1.6h-3zM84 184.1h2v1.6h-2zM87 184.1h2v1.6h-2zM90 184.1h3v1.6h-3zM98 184.1h1v1.6h-1zM104 184.1h2v1.6h-2zM114 184.1h4v1.6h-4zM127 184.1h1v1.6h-1zM138 184.1h3v1.6h-3zM149 184.1h4v1.6h-4zM154 184.1h2v1.6h-2zM159 184.1h1v1.6h-1zM164 184.1h1v1.6h-1zM47 185.7h1v1.6h-1zM52 185.7h1v1.6h-1zM55 185.7h2v1.6h-2zM59 185.7h2v1.6h-2zM62 185.7h1v1.6h-1zM65 185.7h2v1.6h-2zM69 185.7h2v1.6h-2zM72 185.7h1v1.6h-1zM82 185.7h1v1.6h-1zM86 185.7h1v1.6h-1zM88 185.7h2v1.6h-2zM93 185.7h5v1.6h-5zM99 185.7h15v1.6h-15zM117 185.7h2v1.6h-2zM120 185.7h1v1.6h-1zM122 185.7h3v1.6h-3zM126 185.7h6v1.6h-6zM137 185.7h1v1.6h-1zM139 185.7h1v1.6h-1zM141 185.7h8v1.6h-8zM152 185.7h5v1.6h-5zM162 185.7h3v1.6h-3zM167 185.7h1v1.6h-1zM217 49.2h1v1.0h-1zM237 49.2h1v1.0h-1zM248 49.2h1v1.0h-1zM171 50.2h3v1.5h-3zM181 50.2h10v1.5h-10zM194 50.2h2v1.5h-2zM197 50.2h2v1.5h-2zM201 50.2h1v1.5h-1zM203 50.2h4v1.5h-4zM215 50.2h1v1.5h-1zM218 50.2h1v1.5h-1zM220 50.2h1v1.5h-1zM222 50.2h3v1.5h-3zM227 50.2h3v1.5h-3zM233 50.2h3v1.5h-3zM239 50.2h1v1.5h-1zM243 50.2h3v1.5h-3zM251 50.2h1v1.5h-1zM253 50.2h2v1.5h-2zM256 50.2h1v1.5h-1zM258 50.2h4v1.5h-4zM265 50.2h3v1.5h-3zM172 51.7h1v1.5h-1zM177 51.7h6v1.5h-6zM185 51.7h3v1.5h-3zM190 51.7h2v1.5h-2zM195 51.7h4v1.5h-4zM203 51.7h1v1.5h-1zM205 51.7h2v1.5h-2zM212 51.7h2v1.5h-2zM215 51.7h1v1.5h-1zM218 51.7h1v1.5h-1zM220 51.7h1v1.5h-1zM224 51.7h6v1.5h-6zM234 51.7h3v1.5h-3zM238 51.7h1v1.5h-1zM244 51.7h3v1.5h-3zM249 51.7h3v1.5h-3zM256 51.7h4v1.5h-4zM264 51.7h4v1.5h-4zM171 53.1h3v1.5h-3zM177 53.1h2v1.5h-2zM180 53.1h8v1.5h-8zM189 53.1h2v1.5h-2zM192 53.1h1v1.5h-1zM194 53.1h2v1.5h-2zM197 53.1h2v1.5h-2zM201 53.1h1v1.5h-1zM203 53.1h2v1.5h-2zM206 53.1h1v1.5h-1zM211 53.1h1v1.5h-1zM213 53.1h1v1.5h-1zM215 53.1h1v1.5h-1zM218 53.1h1v1.5h-1zM220 53.1h1v1.5h-1zM222 53.1h1v1.5h-1zM224 53.1h3v1.5h-3zM229 53.1h1v1.5h-1zM234 53.1h2v1.5h-2zM238 53.1h1v1.5h-1zM243 53.1h3v1.5h-3zM250 53.1h2v1.5h-2zM253 53.1h1v1.5h-1zM256 53.1h1v1.5h-1zM258 53.1h2v1.5h-2zM261 53.1h1v1.5h-1zM264 53.1h2v1.5h-2zM267 53.1h1v1.5h-1zM202 54.6h1v1.4h-1zM216 54.6h1v1.4h-1zM237 54.6h1v1.4h-1zM248 54.6h1v1.4h-1zM172 61.1h2v1.7h-2zM177 61.1h7v1.7h-7zM185 61.1h2v1.7h-2zM189 61.1h3v1.7h-3zM195 61.1h4v1.7h-4zM201 61.1h1v1.7h-1zM203 61.1h4v1.7h-4zM212 61.1h2v1.7h-2zM215 61.1h1v1.7h-1zM218 61.1h1v1.7h-1zM220 61.1h3v1.7h-3zM224 61.1h4v1.7h-4zM229 61.1h1v1.7h-1zM234 61.1h3v1.7h-3zM238 61.1h1v1.7h-1zM243 61.1h4v1.7h-4zM249 61.1h3v1.7h-3zM256 61.1h4v1.7h-4zM264 61.1h4v1.7h-4zM177 62.8h4v1.7h-4zM182 62.8h1v1.7h-1zM185 62.8h1v1.7h-1zM191 62.8h1v1.7h-1zM195 62.8h3v1.7h-3zM201 62.8h3v1.7h-3zM205 62.8h3v1.7h-3zM212 62.8h4v1.7h-4zM217 62.8h1v1.7h-1zM220 62.8h2v1.7h-2zM224 62.8h5v1.7h-5zM234 62.8h3v1.7h-3zM238 62.8h1v1.7h-1zM244 62.8h3v1.7h-3zM249 62.8h3v1.7h-3zM257 62.8h3v1.7h-3zM264 62.8h4v1.7h-4zM172 64.5h1v1.7h-1zM177 64.5h4v1.7h-4zM182 64.5h1v1.7h-1zM185 64.5h2v1.7h-2zM190 64.5h2v1.7h-2zM195 64.5h3v1.7h-3zM203 64.5h5v1.7h-5zM212 64.5h6v1.7h-6zM220 64.5h3v1.7h-3zM224 64.5h5v1.7h-5zM234 64.5h3v1.7h-3zM238 64.5h1v1.7h-1zM245 64.5h3v1.7h-3zM249 64.5h3v1.7h-3zM256 64.5h4v1.7h-4zM264 64.5h4v1.7h-4zM168 69.9h1v1.5h-1zM170 69.9h1v1.5h-1zM174 69.9h2v1.5h-2zM228 69.9h2v1.5h-2zM234 69.9h2v1.5h-2zM238 69.9h1v1.5h-1zM243 69.9h4v1.5h-4zM250 69.9h3v1.5h-3zM168 71.4h1v1.5h-1zM170 71.4h1v1.5h-1zM233 71.4h4v1.5h-4zM238 71.4h1v1.5h-1zM243 71.4h4v1.5h-4zM250 71.4h2v1.5h-2zM169 72.8h2v1.5h-2zM173 72.8h3v1.5h-3zM234 72.8h3v1.5h-3zM238 72.8h1v1.5h-1zM243 72.8h4v1.5h-4zM249 72.8h3v1.5h-3zM168 74.3h3v1.5h-3zM174 74.3h2v1.5h-2zM228 74.3h1v1.5h-1zM234 74.3h2v1.5h-2zM238 74.3h1v1.5h-1zM243 74.3h4v1.5h-4zM249 74.3h3v1.5h-3zM170 75.7h1v1.5h-1zM229 75.7h2v1.5h-2zM233 75.7h3v1.5h-3zM239 75.7h1v1.5h-1zM242 75.7h4v1.5h-4zM250 75.7h1v1.5h-1zM168 77.2h1v1.5h-1zM170 77.2h1v1.5h-1zM174 77.2h1v1.5h-1zM229 77.2h1v1.5h-1zM233 77.2h3v1.5h-3zM238 77.2h2v1.5h-2zM243 77.2h4v1.5h-4zM249 77.2h3v1.5h-3zM168 78.6h1v1.5h-1zM170 78.6h1v1.5h-1zM175 78.6h1v1.5h-1zM229 78.6h2v1.5h-2zM234 78.6h2v1.5h-2zM238 78.6h1v1.5h-1zM243 78.6h4v1.5h-4zM250 78.6h3v1.5h-3zM170 83.5h1v1.7h-1zM231 83.5h1v1.7h-1zM169 85.2h1v1.8h-1zM173 85.2h1v1.8h-1zM175 85.2h2v1.8h-2zM184 85.2h1v1.8h-1zM187 85.2h2v1.8h-2zM190 85.2h1v1.8h-1zM192 85.2h3v1.8h-3zM199 85.2h3v1.8h-3zM203 85.2h2v1.8h-2zM208 85.2h1v1.8h-1zM210 85.2h2v1.8h-2zM219 85.2h1v1.8h-1zM223 85.2h1v1.8h-1zM229 85.2h1v1.8h-1zM231 85.2h3v1.8h-3zM239 85.2h4v1.8h-4zM254 85.2h2v1.8h-2zM260 85.2h4v1.8h-4zM168 87.0h2v1.8h-2zM171 87.0h1v1.8h-1zM174 87.0h3v1.8h-3zM183 87.0h2v1.8h-2zM188 87.0h1v1.8h-1zM192 87.0h3v1.8h-3zM199 87.0h2v1.8h-2zM208 87.0h4v1.8h-4zM219 87.0h1v1.8h-1zM223 87.0h1v1.8h-1zM230 87.0h1v1.8h-1zM232 87.0h2v1.8h-2zM239 87.0h2v1.8h-2zM242 87.0h1v1.8h-1zM253 87.0h3v1.8h-3zM260 87.0h1v1.8h-1zM262 87.0h2v1.8h-2zM232 88.8h1v1.5h-1zM239 88.8h4v1.5h-4zM253 88.8h1v1.5h-1zM255 88.8h1v1.5h-1zM262 88.8h2v1.5h-2zM231 90.3h2v1.5h-2zM240 90.3h3v1.5h-3zM252 90.3h1v1.5h-1zM255 90.3h1v1.5h-1zM262 90.3h2v1.5h-2zM229 91.7h2v1.5h-2zM233 91.7h1v1.5h-1zM235 91.7h1v1.5h-1zM239 91.7h2v1.5h-2zM242 91.7h3v1.5h-3zM252 91.7h3v1.5h-3zM256 91.7h1v1.5h-1zM260 91.7h4v1.5h-4zM230 93.2h3v1.5h-3zM239 93.2h4v1.5h-4zM253 93.2h3v1.5h-3zM260 93.2h4v1.5h-4zM229 94.6h2v1.5h-2zM232 94.6h2v1.5h-2zM239 94.6h2v1.5h-2zM242 94.6h3v1.5h-3zM252 94.6h5v1.5h-5zM260 94.6h3v1.5h-3zM265 94.6h1v1.5h-1zM229 96.1h2v1.5h-2zM232 96.1h2v1.5h-2zM239 96.1h3v1.5h-3zM243 96.1h1v1.5h-1zM245 96.1h1v1.5h-1zM252 96.1h5v1.5h-5zM260 96.1h4v1.5h-4zM229 97.5h2v1.5h-2zM232 97.5h2v1.5h-2zM239 97.5h2v1.5h-2zM242 97.5h1v1.5h-1zM244 97.5h1v1.5h-1zM252 97.5h3v1.5h-3zM260 97.5h2v1.5h-2zM263 97.5h1v1.5h-1zM178 99.0h3v1.8h-3zM191 99.0h1v1.8h-1zM202 99.0h1v1.8h-1zM205 99.0h1v1.8h-1zM207 99.0h1v1.8h-1zM212 99.0h6v1.8h-6zM221 99.0h1v1.8h-1zM226 99.0h3v1.8h-3zM236 99.0h2v1.8h-2zM247 99.0h3v1.8h-3zM257 99.0h1v1.8h-1zM264 99.0h1v1.8h-1zM267 99.0h1v1.8h-1zM230 105.0h1v1.4h-1zM172 107.8h1v1.5h-1zM177 107.8h6v1.5h-6zM191 107.8h1v1.5h-1zM196 107.8h2v1.5h-2zM202 107.8h1v1.5h-1zM205 107.8h3v1.5h-3zM212 107.8h5v1.5h-5zM218 107.8h1v1.5h-1zM221 107.8h1v1.5h-1zM224 107.8h5v1.5h-5zM234 107.8h3v1.5h-3zM238 107.8h1v1.5h-1zM245 107.8h3v1.5h-3zM249 107.8h3v1.5h-3zM257 107.8h3v1.5h-3zM264 107.8h4v1.5h-4zM177 109.2h5v1.5h-5zM189 109.2h3v1.5h-3zM195 109.2h4v1.5h-4zM205 109.2h3v1.5h-3zM212 109.2h4v1.5h-4zM217 109.2h2v1.5h-2zM221 109.2h2v1.5h-2zM225 109.2h5v1.5h-5zM234 109.2h3v1.5h-3zM244 109.2h3v1.5h-3zM249 109.2h3v1.5h-3zM257 109.2h3v1.5h-3zM264 109.2h4v1.5h-4zM229 110.7h3v1.4h-3zM241 110.7h1v1.4h-1zM229 112.1h3v1.4h-3zM229 113.6h3v1.4h-3zM241 113.6h1v1.4h-1zM263 113.6h1v1.4h-1zM168 118.6h1v1.5h-1zM170 118.6h1v1.5h-1zM174 118.6h1v1.5h-1zM193 118.6h1v1.5h-1zM199 118.6h1v1.5h-1zM208 118.6h3v1.5h-3zM229 118.6h2v1.5h-2zM232 118.6h2v1.5h-2zM239 118.6h4v1.5h-4zM244 118.6h1v1.5h-1zM252 118.6h3v1.5h-3zM260 118.6h3v1.5h-3zM265 118.6h1v1.5h-1zM168 120.1h1v1.5h-1zM208 120.1h2v1.5h-2zM230 120.1h1v1.5h-1zM232 120.1h2v1.5h-2zM239 120.1h2v1.5h-2zM242 120.1h2v1.5h-2zM252 120.1h4v1.5h-4zM260 120.1h4v1.5h-4zM170 121.6h1v1.5h-1zM199 121.6h1v1.5h-1zM208 121.6h2v1.5h-2zM230 121.6h1v1.5h-1zM232 121.6h2v1.5h-2zM239 121.6h2v1.5h-2zM242 121.6h1v1.5h-1zM252 121.6h4v1.5h-4zM260 121.6h4v1.5h-4zM168 123.0h1v1.5h-1zM170 123.0h1v1.5h-1zM208 123.0h2v1.5h-2zM230 123.0h4v1.5h-4zM240 123.0h3v1.5h-3zM255 123.0h1v1.5h-1zM261 123.0h3v1.5h-3zM168 124.5h1v1.5h-1zM170 124.5h1v1.5h-1zM193 124.5h1v1.5h-1zM199 124.5h1v1.5h-1zM208 124.5h2v1.5h-2zM229 124.5h2v1.5h-2zM232 124.5h2v1.5h-2zM239 124.5h2v1.5h-2zM242 124.5h1v1.5h-1zM252 124.5h4v1.5h-4zM260 124.5h3v1.5h-3zM228 126.0h1v1.5h-1zM228 127.5h1v1.5h-1zM231 127.5h1v1.5h-1zM228 129.0h1v1.5h-1zM228 130.6h1v1.5h-1zM228 132.1h1v1.5h-1zM228 133.6h2v1.5h-2zM228 135.1h1v1.5h-1zM228 136.6h1v1.5h-1zM228 138.1h1v1.5h-1zM228 139.7h1v1.5h-1zM228 141.2h2v1.5h-2zM229 147.8h2v1.7h-2zM229 149.5h1v1.7h-1zM229 151.3h2v1.7h-2zM229 155.9h2v1.6h-2zM230 160.6h1v1.6h-1zM230 162.2h1v1.6h-1zM168 165.3h2v1.5h-2zM171 165.3h1v1.5h-1zM173 165.3h4v1.5h-4zM183 165.3h2v1.5h-2zM188 165.3h1v1.5h-1zM192 165.3h3v1.5h-3zM198 165.3h1v1.5h-1zM200 165.3h1v1.5h-1zM203 165.3h1v1.5h-1zM209 165.3h3v1.5h-3zM219 165.3h1v1.5h-1zM223 165.3h1v1.5h-1zM230 165.3h1v1.5h-1zM232 165.3h2v1.5h-2zM239 165.3h5v1.5h-5zM252 165.3h4v1.5h-4zM260 165.3h4v1.5h-4zM169 166.8h1v1.5h-1zM171 166.8h3v1.5h-3zM176 166.8h1v1.5h-1zM181 166.8h1v1.5h-1zM183 166.8h8v1.5h-8zM193 166.8h3v1.5h-3zM197 166.8h2v1.5h-2zM201 166.8h1v1.5h-1zM203 166.8h2v1.5h-2zM211 166.8h1v1.5h-1zM215 166.8h1v1.5h-1zM218 166.8h1v1.5h-1zM220 166.8h1v1.5h-1zM222 166.8h3v1.5h-3zM229 166.8h2v1.5h-2zM232 166.8h2v1.5h-2zM238 166.8h2v1.5h-2zM244 166.8h2v1.5h-2zM250 166.8h1v1.5h-1zM252 166.8h3v1.5h-3zM256 166.8h1v1.5h-1zM258 166.8h1v1.5h-1zM260 166.8h2v1.5h-2zM265 166.8h2v1.5h-2zM171 168.2h3v1.5h-3zM181 168.2h10v1.5h-10zM192 168.2h1v1.5h-1zM194 168.2h2v1.5h-2zM197 168.2h2v1.5h-2zM200 168.2h2v1.5h-2zM203 168.2h2v1.5h-2zM206 168.2h1v1.5h-1zM211 168.2h1v1.5h-1zM215 168.2h1v1.5h-1zM218 168.2h1v1.5h-1zM220 168.2h1v1.5h-1zM222 168.2h3v1.5h-3zM229 168.2h2v1.5h-2zM233 168.2h3v1.5h-3zM238 168.2h1v1.5h-1zM243 168.2h3v1.5h-3zM250 168.2h2v1.5h-2zM253 168.2h2v1.5h-2zM256 168.2h1v1.5h-1zM258 168.2h1v1.5h-1zM260 168.2h2v1.5h-2zM265 168.2h2v1.5h-2zM171 169.7h2v1.7h-2zM181 169.7h2v1.7h-2zM184 169.7h4v1.7h-4zM189 169.7h2v1.7h-2zM192 169.7h1v1.7h-1zM194 169.7h2v1.7h-2zM197 169.7h2v1.7h-2zM201 169.7h1v1.7h-1zM203 169.7h2v1.7h-2zM206 169.7h1v1.7h-1zM210 169.7h1v1.7h-1zM219 169.7h1v1.7h-1zM229 169.7h2v1.7h-2zM232 169.7h4v1.7h-4zM238 169.7h1v1.7h-1zM240 169.7h1v1.7h-1zM242 169.7h1v1.7h-1zM252 169.7h3v1.7h-3zM256 169.7h1v1.7h-1zM258 169.7h1v1.7h-1zM260 169.7h2v1.7h-2zM265 169.7h1v1.7h-1zM169 171.3h1v1.7h-1zM171 171.3h2v1.7h-2zM181 171.3h7v1.7h-7zM189 171.3h2v1.7h-2zM192 171.3h1v1.7h-1zM194 171.3h2v1.7h-2zM197 171.3h2v1.7h-2zM201 171.3h1v1.7h-1zM203 171.3h2v1.7h-2zM210 171.3h1v1.7h-1zM219 171.3h1v1.7h-1zM229 171.3h2v1.7h-2zM233 171.3h3v1.7h-3zM239 171.3h1v1.7h-1zM242 171.3h1v1.7h-1zM250 171.3h1v1.7h-1zM252 171.3h3v1.7h-3zM256 171.3h1v1.7h-1zM258 171.3h4v1.7h-4zM265 171.3h2v1.7h-2zM171 173.0h3v1.7h-3zM175 173.0h2v1.7h-2zM181 173.0h1v1.7h-1zM183 173.0h8v1.7h-8zM192 173.0h1v1.7h-1zM194 173.0h2v1.7h-2zM198 173.0h1v1.7h-1zM201 173.0h1v1.7h-1zM203 173.0h2v1.7h-2zM206 173.0h1v1.7h-1zM219 173.0h1v1.7h-1zM229 173.0h2v1.7h-2zM233 173.0h3v1.7h-3zM239 173.0h2v1.7h-2zM252 173.0h3v1.7h-3zM256 173.0h1v1.7h-1zM258 173.0h1v1.7h-1zM260 173.0h2v1.7h-2zM265 173.0h1v1.7h-1zM169 174.7h1v1.7h-1zM171 174.7h1v1.7h-1zM173 174.7h4v1.7h-4zM183 174.7h2v1.7h-2zM187 174.7h3v1.7h-3zM192 174.7h1v1.7h-1zM194 174.7h2v1.7h-2zM199 174.7h2v1.7h-2zM203 174.7h1v1.7h-1zM208 174.7h1v1.7h-1zM229 174.7h2v1.7h-2zM232 174.7h2v1.7h-2zM239 174.7h2v1.7h-2zM252 174.7h4v1.7h-4zM259 174.7h4v1.7h-4zM265 174.7h1v1.7h-1zM196 176.3h1v1.5h-1zM202 176.3h1v1.5h-1zM207 176.3h1v1.5h-1zM212 176.3h1v1.5h-1zM214 176.3h1v1.5h-1zM216 176.3h2v1.5h-2zM227 176.3h2v1.5h-2zM236 176.3h2v1.5h-2zM247 176.3h3v1.5h-3zM257 176.3h1v1.5h-1zM179 177.8h2v1.5h-2zM191 177.8h1v1.5h-1zM196 177.8h1v1.5h-1zM202 177.8h1v1.5h-1zM205 177.8h1v1.5h-1zM207 177.8h1v1.5h-1zM212 177.8h3v1.5h-3zM216 177.8h2v1.5h-2zM221 177.8h1v1.5h-1zM227 177.8h2v1.5h-2zM237 177.8h1v1.5h-1zM246 177.8h4v1.5h-4zM257 177.8h1v1.5h-1zM177 179.2h6v1.5h-6zM191 179.2h1v1.5h-1zM196 179.2h2v1.5h-2zM202 179.2h1v1.5h-1zM205 179.2h3v1.5h-3zM212 179.2h4v1.5h-4zM217 179.2h1v1.5h-1zM220 179.2h2v1.5h-2zM224 179.2h5v1.5h-5zM234 179.2h3v1.5h-3zM238 179.2h1v1.5h-1zM245 179.2h2v1.5h-2zM249 179.2h3v1.5h-3zM257 179.2h3v1.5h-3zM264 179.2h1v1.5h-1zM266 179.2h2v1.5h-2zM177 180.7h6v1.5h-6zM185 180.7h1v1.5h-1zM191 180.7h1v1.5h-1zM196 180.7h2v1.5h-2zM202 180.7h1v1.5h-1zM205 180.7h3v1.5h-3zM212 180.7h7v1.5h-7zM221 180.7h2v1.5h-2zM224 180.7h5v1.5h-5zM234 180.7h5v1.5h-5zM245 180.7h3v1.5h-3zM249 180.7h3v1.5h-3zM257 180.7h3v1.5h-3zM264 180.7h1v1.5h-1zM266 180.7h2v1.5h-2zM177 182.1h4v1.5h-4zM189 182.1h1v1.5h-1zM191 182.1h1v1.5h-1zM196 182.1h1v1.5h-1zM202 182.1h1v1.5h-1zM205 182.1h3v1.5h-3zM212 182.1h6v1.5h-6zM221 182.1h1v1.5h-1zM224 182.1h5v1.5h-5zM234 182.1h5v1.5h-5zM245 182.1h5v1.5h-5zM251 182.1h1v1.5h-1zM257 182.1h3v1.5h-3zM264 182.1h1v1.5h-1zM267 182.1h1v1.5h-1zM178 183.6h1v1.8h-1zM202 183.6h1v1.8h-1zM205 183.6h1v1.8h-1zM207 183.6h1v1.8h-1zM214 183.6h1v1.8h-1zM216 183.6h2v1.8h-2zM221 183.6h1v1.8h-1zM227 183.6h1v1.8h-1zM236 183.6h2v1.8h-2zM247 183.6h3v1.8h-3zM257 183.6h1v1.8h-1zM191 185.4h1v1.9h-1zM202 185.4h1v1.9h-1zM205 185.4h1v1.9h-1zM207 185.4h1v1.9h-1zM214 185.4h1v1.9h-1zM216 185.4h2v1.9h-2zM221 185.4h1v1.9h-1zM228 185.4h1v1.9h-1zM237 185.4h1v1.9h-1zM247 185.4h2v1.9h-2z"/>
<path fill="#f0f0f0" d="M47 49.2h1v1.5h-1zM52 49.2h1v1.5h-1zM57 49.2h2v1.5h-2zM61 49.2h2v1.5h-2zM70 49.2h3v1.5h-3zM81 49.2h3v1.5h-3zM93 49.2h1v1.5h-1zM101 49.2h3v1.5h-3zM106 49.2h2v1.5h-2zM110 49.2h2v1.5h-2zM119 49.2h7v1.5h-7zM128 49.2h4v1.5h-4zM133 49.2h5v1.5h-5zM142 49.2h1v1.5h-1zM144 49.2h1v1.5h-1zM147 49.2h1v1.5h-1zM153 49.2h1v1.5h-1zM156 49.2h1v1.5h-1zM160 49.2h2v1.5h-2zM165 49.2h3v1.5h-3zM52 50.7h1v1.5h-1zM57 50.7h2v1.5h-2zM62 50.7h1v1.5h-1zM71 50.7h2v1.5h-2zM81 50.7h3v1.5h-3zM93 50.7h1v1.5h-1zM95 50.7h1v1.5h-1zM97 50.7h1v1.5h-1zM99 50.7h1v1.5h-1zM101 50.7h2v1.5h-2zM107 50.7h5v1.5h-5zM118 50.7h8v1.5h-8zM128 50.7h1v1.5h-1zM130 50.7h2v1.5h-2zM133 50.7h1v1.5h-1zM135 50.7h2v1.5h-2zM141 50.7h4v1.5h-4zM147 50.7h1v1.5h-1zM153 50.7h1v1.5h-1zM160 50.7h2v1.5h-2zM165 50.7h3v1.5h-3zM57 52.1h3v1.4h-3zM61 52.1h1v1.4h-1zM81 52.1h3v1.4h-3zM93 52.1h1v1.4h-1zM99 52.1h1v1.4h-1zM101 52.1h2v1.4h-2zM107 52.1h1v1.4h-1zM110 52.1h1v1.4h-1zM118 52.1h5v1.4h-5zM124 52.1h2v1.4h-2zM128 52.1h3v1.4h-3zM133 52.1h5v1.4h-5zM141 52.1h2v1.4h-2zM144 52.1h1v1.4h-1zM147 52.1h1v1.4h-1zM153 52.1h1v1.4h-1zM160 52.1h2v1.4h-2zM165 52.1h2v1.4h-2zM57 53.5h3v1.5h-3zM61 53.5h2v1.5h-2zM81 53.5h3v1.5h-3zM93 53.5h1v1.5h-1zM97 53.5h1v1.5h-1zM99 53.5h1v1.5h-1zM101 53.5h2v1.5h-2zM107 53.5h4v1.5h-4zM118 53.5h8v1.5h-8zM128 53.5h4v1.5h-4zM133 53.5h1v1.5h-1zM135 53.5h3v1.5h-3zM141 53.5h1v1.5h-1zM144 53.5h1v1.5h-1zM147 53.5h1v1.5h-1zM153 53.5h1v1.5h-1zM160 53.5h2v1.5h-2zM165 53.5h3v1.5h-3zM45 55.0h7v0.8h-7zM53 55.0h1v0.8h-1zM55 55.0h2v0.8h-2zM60 55.0h1v0.8h-1zM62 55.0h9v0.8h-9zM72 55.0h5v0.8h-5zM78 55.0h3v0.8h-3zM84 55.0h9v0.8h-9zM94 55.0h3v0.8h-3zM98 55.0h1v0.8h-1zM104 55.0h2v0.8h-2zM108 55.0h5v0.8h-5zM114 55.0h4v0.8h-4zM127 55.0h1v0.8h-1zM132 55.0h1v0.8h-1zM138 55.0h3v0.8h-3zM145 55.0h1v0.8h-1zM148 55.0h5v0.8h-5zM154 55.0h4v0.8h-4zM159 55.0h1v0.8h-1zM162 55.0h3v0.8h-3zM47 55.8h1v1.7h-1zM52 55.8h1v1.7h-1zM56 55.8h4v1.7h-4zM81 55.8h1v1.7h-1zM144 55.8h1v1.7h-1zM47 57.5h1v1.7h-1zM52 57.5h1v1.7h-1zM57 57.5h3v1.7h-3zM81 57.5h1v1.7h-1zM52 59.2h1v1.7h-1zM57 59.2h3v1.7h-3zM46 60.9h8v1.4h-8zM55 60.9h3v1.4h-3zM59 60.9h2v1.4h-2zM62 60.9h2v1.4h-2zM65 60.9h8v1.4h-8zM74 60.9h1v1.4h-1zM76 60.9h1v1.4h-1zM78 60.9h1v1.4h-1zM80 60.9h1v1.4h-1zM84 60.9h6v1.4h-6zM91 60.9h16v1.4h-16zM108 60.9h7v1.4h-7zM116 60.9h4v1.4h-4zM123 60.9h2v1.4h-2zM126 60.9h2v1.4h-2zM129 60.9h4v1.4h-4zM137 60.9h7v1.4h-7zM145 60.9h4v1.4h-4zM152 60.9h6v1.4h-6zM159 60.9h1v1.4h-1zM162 60.9h3v1.4h-3zM167 60.9h1v1.4h-1zM46 62.3h3v1.4h-3zM50 62.3h4v1.4h-4zM55 62.3h2v1.4h-2zM59 62.3h2v1.4h-2zM62 62.3h9v1.4h-9zM72 62.3h1v1.4h-1zM74 62.3h1v1.4h-1zM76 62.3h1v1.4h-1zM80 62.3h1v1.4h-1zM82 62.3h11v1.4h-11zM94 62.3h13v1.4h-13zM108 62.3h7v1.4h-7zM116 62.3h2v1.4h-2zM123 62.3h1v1.4h-1zM126 62.3h2v1.4h-2zM129 62.3h2v1.4h-2zM132 62.3h1v1.4h-1zM137 62.3h4v1.4h-4zM143 62.3h1v1.4h-1zM145 62.3h2v1.4h-2zM148 62.3h1v1.4h-1zM151 62.3h2v1.4h-2zM154 62.3h4v1.4h-4zM159 62.3h1v1.4h-1zM162 62.3h3v1.4h-3zM167 62.3h1v1.4h-1zM46 63.7h3v1.4h-3zM50 63.7h4v1.4h-4zM55 63.7h2v1.4h-2zM59 63.7h2v1.4h-2zM62 63.7h13v1.4h-13zM76 63.7h1v1.4h-1zM79 63.7h2v1.4h-2zM82 63.7h1v1.4h-1zM84 63.7h17v1.4h-17zM103 63.7h7v1.4h-7zM111 63.7h8v1.4h-8zM122 63.7h2v1.4h-2zM126 63.7h2v1.4h-2zM129 63.7h1v1.4h-1zM132 63.7h1v1.4h-1zM137 63.7h7v1.4h-7zM145 63.7h2v1.4h-2zM148 63.7h2v1.4h-2zM151 63.7h2v1.4h-2zM154 63.7h4v1.4h-4zM159 63.7h1v1.4h-1zM162 63.7h3v1.4h-3zM46 65.0h3v1.4h-3zM50 65.0h4v1.4h-4zM55 65.0h2v1.4h-2zM59 65.0h2v1.4h-2zM63 65.0h10v1.4h-10zM74 65.0h3v1.4h-3zM78 65.0h1v1.4h-1zM80 65.0h1v1.4h-1zM82 65.0h1v1.4h-1zM84 65.0h23v1.4h-23zM108 65.0h6v1.4h-6zM116 65.0h2v1.4h-2zM122 65.0h1v1.4h-1zM124 65.0h1v1.4h-1zM126 65.0h2v1.4h-2zM130 65.0h1v1.4h-1zM132 65.0h1v1.4h-1zM137 65.0h7v1.4h-7zM145 65.0h4v1.4h-4zM151 65.0h2v1.4h-2zM154 65.0h4v1.4h-4zM159 65.0h1v1.4h-1zM162 65.0h3v1.4h-3zM81 70.6h1v1.4h-1zM61 72.0h1v1.4h-1zM81 72.0h1v1.4h-1zM125 72.0h1v1.4h-1zM134 72.0h1v1.4h-1zM165 72.0h1v1.4h-1zM125 88.5h1v1.7h-1zM134 88.5h1v1.7h-1zM61 90.2h1v1.7h-1zM81 90.2h1v1.7h-1zM107 90.2h1v1.7h-1zM121 90.2h1v1.7h-1zM125 90.2h1v1.7h-1zM133 90.2h2v1.7h-2zM161 90.2h1v1.7h-1zM165 90.2h1v1.7h-1zM81 91.9h1v1.7h-1zM134 91.9h1v1.7h-1zM46 99.6h3v1.8h-3zM50 99.6h4v1.8h-4zM55 99.6h2v1.8h-2zM59 99.6h2v1.8h-2zM62 99.6h9v1.8h-9zM72 99.6h5v1.8h-5zM78 99.6h1v1.8h-1zM80 99.6h1v1.8h-1zM84 99.6h13v1.8h-13zM98 99.6h3v1.8h-3zM103 99.6h4v1.8h-4zM108 99.6h11v1.8h-11zM126 99.6h2v1.8h-2zM132 99.6h1v1.8h-1zM137 99.6h5v1.8h-5zM143 99.6h1v1.8h-1zM145 99.6h4v1.8h-4zM150 99.6h3v1.8h-3zM154 99.6h4v1.8h-4zM159 99.6h1v1.8h-1zM162 99.6h3v1.8h-3zM167 99.6h1v1.8h-1zM61 118.9h1v1.5h-1zM81 118.9h1v1.5h-1zM134 118.9h1v1.5h-1zM165 118.9h1v1.5h-1zM61 120.4h1v1.5h-1zM81 120.4h1v1.5h-1zM120 120.4h1v1.5h-1zM125 120.4h1v1.5h-1zM134 120.4h1v1.5h-1zM165 120.4h1v1.5h-1zM61 123.4h1v1.5h-1zM81 123.4h1v1.5h-1zM57 166.3h2v1.7h-2zM61 166.3h1v1.7h-1zM71 166.3h1v1.7h-1zM81 166.3h3v1.7h-3zM93 166.3h1v1.7h-1zM97 166.3h1v1.7h-1zM101 166.3h1v1.7h-1zM107 166.3h1v1.7h-1zM118 166.3h3v1.7h-3zM125 166.3h1v1.7h-1zM128 166.3h1v1.7h-1zM130 166.3h2v1.7h-2zM133 166.3h3v1.7h-3zM142 166.3h1v1.7h-1zM144 166.3h1v1.7h-1zM153 166.3h1v1.7h-1zM160 166.3h2v1.7h-2zM165 166.3h2v1.7h-2zM58 168.0h1v1.7h-1zM61 168.0h1v1.7h-1zM81 168.0h1v1.7h-1zM93 168.0h1v1.7h-1zM107 168.0h1v1.7h-1zM118 168.0h1v1.7h-1zM121 168.0h1v1.7h-1zM125 168.0h1v1.7h-1zM128 168.0h1v1.7h-1zM131 168.0h1v1.7h-1zM133 168.0h3v1.7h-3zM160 168.0h2v1.7h-2zM165 168.0h1v1.7h-1zM47 169.6h1v1.7h-1zM52 169.6h1v1.7h-1zM57 169.6h3v1.7h-3zM62 169.6h1v1.7h-1zM70 169.6h2v1.7h-2zM82 169.6h2v1.7h-2zM93 169.6h1v1.7h-1zM95 169.6h1v1.7h-1zM97 169.6h1v1.7h-1zM99 169.6h1v1.7h-1zM101 169.6h3v1.7h-3zM106 169.6h6v1.7h-6zM113 169.6h1v1.7h-1zM118 169.6h7v1.7h-7zM126 169.6h1v1.7h-1zM128 169.6h4v1.7h-4zM133 169.6h1v1.7h-1zM135 169.6h3v1.7h-3zM141 169.6h4v1.7h-4zM146 169.6h3v1.7h-3zM153 169.6h1v1.7h-1zM156 169.6h1v1.7h-1zM160 169.6h2v1.7h-2zM165 169.6h3v1.7h-3zM46 171.3h3v1.6h-3zM50 171.3h4v1.6h-4zM55 171.3h3v1.6h-3zM59 171.3h2v1.6h-2zM62 171.3h15v1.6h-15zM78 171.3h1v1.6h-1zM80 171.3h1v1.6h-1zM82 171.3h11v1.6h-11zM94 171.3h5v1.6h-5zM100 171.3h2v1.6h-2zM103 171.3h4v1.6h-4zM108 171.3h2v1.6h-2zM111 171.3h4v1.6h-4zM116 171.3h2v1.6h-2zM123 171.3h2v1.6h-2zM127 171.3h3v1.6h-3zM132 171.3h1v1.6h-1zM136 171.3h8v1.6h-8zM145 171.3h2v1.6h-2zM148 171.3h1v1.6h-1zM151 171.3h2v1.6h-2zM154 171.3h4v1.6h-4zM159 171.3h1v1.6h-1zM162 171.3h3v1.6h-3zM167 171.3h1v1.6h-1zM46 172.9h3v1.6h-3zM50 172.9h4v1.6h-4zM55 172.9h2v1.6h-2zM59 172.9h2v1.6h-2zM62 172.9h9v1.6h-9zM72 172.9h5v1.6h-5zM78 172.9h1v1.6h-1zM80 172.9h1v1.6h-1zM84 172.9h9v1.6h-9zM94 172.9h7v1.6h-7zM103 172.9h4v1.6h-4zM108 172.9h7v1.6h-7zM116 172.9h2v1.6h-2zM123 172.9h1v1.6h-1zM126 172.9h2v1.6h-2zM129 172.9h1v1.6h-1zM132 172.9h1v1.6h-1zM137 172.9h4v1.6h-4zM142 172.9h2v1.6h-2zM145 172.9h2v1.6h-2zM148 172.9h1v1.6h-1zM151 172.9h7v1.6h-7zM159 172.9h1v1.6h-1zM162 172.9h3v1.6h-3zM167 172.9h1v1.6h-1zM46 174.4h3v1.6h-3zM50 174.4h4v1.6h-4zM55 174.4h2v1.6h-2zM59 174.4h2v1.6h-2zM62 174.4h9v1.6h-9zM72 174.4h1v1.6h-1zM74 174.4h1v1.6h-1zM76 174.4h1v1.6h-1zM78 174.4h1v1.6h-1zM80 174.4h1v1.6h-1zM83 174.4h14v1.6h-14zM98 174.4h4v1.6h-4zM104 174.4h3v1.6h-3zM108 174.4h7v1.6h-7zM116 174.4h4v1.6h-4zM123 174.4h2v1.6h-2zM126 174.4h2v1.6h-2zM129 174.4h2v1.6h-2zM132 174.4h1v1.6h-1zM137 174.4h4v1.6h-4zM143 174.4h1v1.6h-1zM145 174.4h4v1.6h-4zM151 174.4h2v1.6h-2zM154 174.4h4v1.6h-4zM159 174.4h2v1.6h-2zM162 174.4h3v1.6h-3zM167 174.4h1v1.6h-1zM46 176.0h3v1.6h-3zM51 176.0h2v1.6h-2zM55 176.0h3v1.6h-3zM59 176.0h2v1.6h-2zM62 176.0h3v1.6h-3zM66 176.0h7v1.6h-7zM74 176.0h1v1.6h-1zM76 176.0h1v1.6h-1zM83 176.0h7v1.6h-7zM91 176.0h1v1.6h-1zM94 176.0h8v1.6h-8zM103 176.0h12v1.6h-12zM117 176.0h2v1.6h-2zM121 176.0h1v1.6h-1zM123 176.0h2v1.6h-2zM126 176.0h2v1.6h-2zM129 176.0h1v1.6h-1zM131 176.0h2v1.6h-2zM137 176.0h7v1.6h-7zM145 176.0h2v1.6h-2zM148 176.0h1v1.6h-1zM152 176.0h6v1.6h-6zM159 176.0h1v1.6h-1zM162 176.0h3v1.6h-3zM167 176.0h1v1.6h-1zM47 177.5h2v1.6h-2zM51 177.5h2v1.6h-2zM55 177.5h6v1.6h-6zM62 177.5h2v1.6h-2zM65 177.5h2v1.6h-2zM68 177.5h5v1.6h-5zM74 177.5h1v1.6h-1zM82 177.5h3v1.6h-3zM86 177.5h4v1.6h-4zM91 177.5h1v1.6h-1zM93 177.5h11v1.6h-11zM105 177.5h2v1.6h-2zM108 177.5h6v1.6h-6zM117 177.5h8v1.6h-8zM126 177.5h7v1.6h-7zM135 177.5h3v1.6h-3zM139 177.5h10v1.6h-10zM152 177.5h6v1.6h-6zM159 177.5h6v1.6h-6zM167 177.5h1v1.6h-1zM134 179.1h1v1.7h-1zM47 184.1h1v1.6h-1zM51 184.1h2v1.6h-2zM57 184.1h3v1.6h-3zM62 184.1h2v1.6h-2zM70 184.1h3v1.6h-3zM74 184.1h1v1.6h-1zM82 184.1h2v1.6h-2zM86 184.1h1v1.6h-1zM89 184.1h1v1.6h-1zM93 184.1h5v1.6h-5zM99 184.1h5v1.6h-5zM106 184.1h1v1.6h-1zM108 184.1h6v1.6h-6zM118 184.1h9v1.6h-9zM128 184.1h5v1.6h-5zM135 184.1h3v1.6h-3zM141 184.1h8v1.6h-8zM153 184.1h1v1.6h-1zM156 184.1h2v1.6h-2zM162 184.1h2v1.6h-2zM166 184.1h2v1.6h-2zM57 185.7h2v1.6h-2zM61 185.7h1v1.6h-1zM71 185.7h1v1.6h-1zM81 185.7h1v1.6h-1zM83 185.7h1v1.6h-1zM119 185.7h1v1.6h-1zM121 185.7h1v1.6h-1zM125 185.7h1v1.6h-1zM133 185.7h4v1.6h-4zM160 185.7h2v1.6h-2zM165 185.7h2v1.6h-2zM171 49.2h3v1.0h-3zM177 49.2h11v1.0h-11zM189 49.2h3v1.0h-3zM195 49.2h4v1.0h-4zM201 49.2h7v1.0h-7zM212 49.2h5v1.0h-5zM218 49.2h1v1.0h-1zM220 49.2h11v1.0h-11zM232 49.2h1v1.0h-1zM234 49.2h3v1.0h-3zM238 49.2h2v1.0h-2zM244 49.2h4v1.0h-4zM249 49.2h3v1.0h-3zM253 49.2h1v1.0h-1zM256 49.2h4v1.0h-4zM264 49.2h4v1.0h-4zM168 50.2h3v1.5h-3zM174 50.2h3v1.5h-3zM192 50.2h2v1.5h-2zM199 50.2h2v1.5h-2zM208 50.2h4v1.5h-4zM219 50.2h1v1.5h-1zM230 50.2h3v1.5h-3zM240 50.2h3v1.5h-3zM252 50.2h1v1.5h-1zM255 50.2h1v1.5h-1zM262 50.2h2v1.5h-2zM168 51.7h2v1.5h-2zM171 51.7h1v1.5h-1zM173 51.7h4v1.5h-4zM183 51.7h2v1.5h-2zM188 51.7h2v1.5h-2zM192 51.7h3v1.5h-3zM199 51.7h3v1.5h-3zM204 51.7h1v1.5h-1zM208 51.7h1v1.5h-1zM210 51.7h2v1.5h-2zM219 51.7h1v1.5h-1zM222 51.7h2v1.5h-2zM230 51.7h1v1.5h-1zM232 51.7h2v1.5h-2zM239 51.7h5v1.5h-5zM252 51.7h4v1.5h-4zM260 51.7h4v1.5h-4zM168 53.1h3v1.5h-3zM174 53.1h3v1.5h-3zM188 53.1h1v1.5h-1zM193 53.1h1v1.5h-1zM199 53.1h2v1.5h-2zM208 53.1h3v1.5h-3zM219 53.1h1v1.5h-1zM223 53.1h1v1.5h-1zM230 53.1h4v1.5h-4zM239 53.1h4v1.5h-4zM252 53.1h1v1.5h-1zM254 53.1h2v1.5h-2zM260 53.1h1v1.5h-1zM262 53.1h2v1.5h-2zM172 54.6h2v1.4h-2zM177 54.6h6v1.4h-6zM184 54.6h2v1.4h-2zM189 54.6h4v1.4h-4zM195 54.6h4v1.4h-4zM201 54.6h1v1.4h-1zM203 54.6h5v1.4h-5zM211 54.6h5v1.4h-5zM217 54.6h2v1.4h-2zM220 54.6h3v1.4h-3zM224 54.6h6v1.4h-6zM233 54.6h4v1.4h-4zM238 54.6h1v1.4h-1zM243 54.6h5v1.4h-5zM249 54.6h3v1.4h-3zM253 54.6h1v1.4h-1zM256 54.6h4v1.4h-4zM264 54.6h4v1.4h-4zM168 61.1h4v1.7h-4zM174 61.1h3v1.7h-3zM184 61.1h1v1.7h-1zM187 61.1h2v1.7h-2zM192 61.1h3v1.7h-3zM199 61.1h2v1.7h-2zM208 61.1h4v1.7h-4zM219 61.1h1v1.7h-1zM223 61.1h1v1.7h-1zM230 61.1h4v1.7h-4zM239 61.1h4v1.7h-4zM252 61.1h4v1.7h-4zM260 61.1h4v1.7h-4zM168 62.8h9v1.7h-9zM181 62.8h1v1.7h-1zM183 62.8h2v1.7h-2zM186 62.8h5v1.7h-5zM192 62.8h3v1.7h-3zM198 62.8h1v1.7h-1zM200 62.8h1v1.7h-1zM204 62.8h1v1.7h-1zM208 62.8h4v1.7h-4zM218 62.8h2v1.7h-2zM222 62.8h2v1.7h-2zM229 62.8h5v1.7h-5zM239 62.8h5v1.7h-5zM252 62.8h5v1.7h-5zM260 62.8h4v1.7h-4zM168 64.5h4v1.7h-4zM173 64.5h4v1.7h-4zM181 64.5h1v1.7h-1zM183 64.5h2v1.7h-2zM187 64.5h3v1.7h-3zM192 64.5h3v1.7h-3zM198 64.5h4v1.7h-4zM209 64.5h3v1.7h-3zM218 64.5h2v1.7h-2zM223 64.5h1v1.7h-1zM229 64.5h2v1.7h-2zM232 64.5h2v1.7h-2zM239 64.5h2v1.7h-2zM242 64.5h3v1.7h-3zM252 64.5h4v1.7h-4zM260 64.5h4v1.7h-4zM230 69.9h4v1.5h-4zM239 69.9h4v1.5h-4zM229 71.4h4v1.5h-4zM239 71.4h4v1.5h-4zM252 71.4h1v1.5h-1zM168 72.8h1v1.5h-1zM229 72.8h5v1.5h-5zM239 72.8h4v1.5h-4zM252 72.8h1v1.5h-1zM229 74.3h5v1.5h-5zM239 74.3h4v1.5h-4zM252 74.3h1v1.5h-1zM231 75.7h2v1.5h-2zM240 75.7h2v1.5h-2zM252 75.7h1v1.5h-1zM230 77.2h3v1.5h-3zM240 77.2h3v1.5h-3zM252 77.2h1v1.5h-1zM231 78.6h3v1.5h-3zM239 78.6h4v1.5h-4zM168 85.2h1v1.8h-1zM170 85.2h1v1.8h-1zM174 85.2h1v1.8h-1zM209 85.2h1v1.8h-1zM170 87.0h1v1.8h-1zM231 87.0h1v1.8h-1zM241 87.0h1v1.8h-1zM231 88.8h1v1.5h-1zM231 91.7h2v1.5h-2zM241 91.7h1v1.5h-1zM255 91.7h1v1.5h-1zM231 94.6h1v1.5h-1zM241 94.6h1v1.5h-1zM263 94.6h1v1.5h-1zM231 96.1h1v1.5h-1zM242 96.1h1v1.5h-1zM231 97.5h1v1.5h-1zM241 97.5h1v1.5h-1zM255 97.5h1v1.5h-1zM262 97.5h1v1.5h-1zM169 99.0h1v1.8h-1zM171 99.0h7v1.8h-7zM181 99.0h10v1.8h-10zM192 99.0h1v1.8h-1zM194 99.0h5v1.8h-5zM201 99.0h1v1.8h-1zM203 99.0h2v1.8h-2zM206 99.0h1v1.8h-1zM211 99.0h1v1.8h-1zM218 99.0h3v1.8h-3zM222 99.0h4v1.8h-4zM229 99.0h2v1.8h-2zM232 99.0h4v1.8h-4zM238 99.0h3v1.8h-3zM243 99.0h4v1.8h-4zM250 99.0h5v1.8h-5zM256 99.0h1v1.8h-1zM258 99.0h6v1.8h-6zM265 99.0h2v1.8h-2zM168 107.8h2v1.5h-2zM171 107.8h1v1.5h-1zM173 107.8h4v1.5h-4zM183 107.8h8v1.5h-8zM192 107.8h4v1.5h-4zM198 107.8h1v1.5h-1zM200 107.8h2v1.5h-2zM203 107.8h2v1.5h-2zM208 107.8h4v1.5h-4zM219 107.8h2v1.5h-2zM222 107.8h2v1.5h-2zM229 107.8h2v1.5h-2zM232 107.8h2v1.5h-2zM239 107.8h6v1.5h-6zM252 107.8h5v1.5h-5zM260 107.8h4v1.5h-4zM168 109.2h9v1.5h-9zM182 109.2h7v1.5h-7zM192 109.2h3v1.5h-3zM199 109.2h3v1.5h-3zM203 109.2h2v1.5h-2zM210 109.2h2v1.5h-2zM219 109.2h2v1.5h-2zM223 109.2h2v1.5h-2zM230 109.2h1v1.5h-1zM232 109.2h2v1.5h-2zM238 109.2h6v1.5h-6zM252 109.2h5v1.5h-5zM260 109.2h4v1.5h-4zM231 118.6h1v1.5h-1zM255 118.6h1v1.5h-1zM263 118.6h1v1.5h-1zM231 120.1h1v1.5h-1zM241 120.1h1v1.5h-1zM231 121.6h1v1.5h-1zM241 121.6h1v1.5h-1zM231 124.5h1v1.5h-1zM241 124.5h1v1.5h-1zM263 124.5h1v1.5h-1zM229 126.0h2v1.5h-2zM229 127.5h2v1.5h-2zM229 129.0h2v1.5h-2zM229 130.6h2v1.5h-2zM229 132.1h2v1.5h-2zM230 133.6h1v1.5h-1zM229 135.1h2v1.5h-2zM229 136.6h2v1.5h-2zM229 138.1h2v1.5h-2zM229 139.7h2v1.5h-2zM230 141.2h1v1.5h-1zM170 165.3h1v1.5h-1zM199 165.3h1v1.5h-1zM208 165.3h1v1.5h-1zM231 165.3h1v1.5h-1zM168 166.8h1v1.5h-1zM170 166.8h1v1.5h-1zM174 166.8h2v1.5h-2zM192 166.8h1v1.5h-1zM199 166.8h2v1.5h-2zM208 166.8h3v1.5h-3zM219 166.8h1v1.5h-1zM231 166.8h1v1.5h-1zM240 166.8h3v1.5h-3zM255 166.8h1v1.5h-1zM262 166.8h2v1.5h-2zM168 168.2h3v1.5h-3zM174 168.2h3v1.5h-3zM193 168.2h1v1.5h-1zM199 168.2h1v1.5h-1zM208 168.2h3v1.5h-3zM219 168.2h1v1.5h-1zM231 168.2h2v1.5h-2zM239 168.2h4v1.5h-4zM252 168.2h1v1.5h-1zM255 168.2h1v1.5h-1zM262 168.2h2v1.5h-2zM168 169.7h3v1.7h-3zM173 169.7h4v1.7h-4zM183 169.7h1v1.7h-1zM188 169.7h1v1.7h-1zM193 169.7h1v1.7h-1zM199 169.7h2v1.7h-2zM208 169.7h2v1.7h-2zM231 169.7h1v1.7h-1zM239 169.7h1v1.7h-1zM241 169.7h1v1.7h-1zM255 169.7h1v1.7h-1zM262 169.7h2v1.7h-2zM168 171.3h1v1.7h-1zM170 171.3h1v1.7h-1zM173 171.3h4v1.7h-4zM188 171.3h1v1.7h-1zM193 171.3h1v1.7h-1zM199 171.3h2v1.7h-2zM208 171.3h2v1.7h-2zM231 171.3h2v1.7h-2zM240 171.3h2v1.7h-2zM255 171.3h1v1.7h-1zM262 171.3h2v1.7h-2zM168 173.0h3v1.7h-3zM174 173.0h1v1.7h-1zM193 173.0h1v1.7h-1zM199 173.0h2v1.7h-2zM208 173.0h2v1.7h-2zM231 173.0h2v1.7h-2zM241 173.0h1v1.7h-1zM255 173.0h1v1.7h-1zM262 173.0h2v1.7h-2zM168 174.7h1v1.7h-1zM170 174.7h1v1.7h-1zM193 174.7h1v1.7h-1zM209 174.7h1v1.7h-1zM231 174.7h1v1.7h-1zM241 174.7h1v1.7h-1zM263 174.7h1v1.7h-1zM172 176.3h2v1.5h-2zM177 176.3h16v1.5h-16zM194 176.3h2v1.5h-2zM197 176.3h2v1.5h-2zM201 176.3h1v1.5h-1zM203 176.3h4v1.5h-4zM211 176.3h1v1.5h-1zM213 176.3h1v1.5h-1zM215 176.3h1v1.5h-1zM218 176.3h9v1.5h-9zM229 176.3h2v1.5h-2zM233 176.3h3v1.5h-3zM238 176.3h2v1.5h-2zM243 176.3h4v1.5h-4zM250 176.3h5v1.5h-5zM256 176.3h1v1.5h-1zM258 176.3h2v1.5h-2zM261 176.3h2v1.5h-2zM264 176.3h4v1.5h-4zM171 177.8h3v1.5h-3zM177 177.8h2v1.5h-2zM181 177.8h10v1.5h-10zM192 177.8h1v1.5h-1zM194 177.8h2v1.5h-2zM197 177.8h3v1.5h-3zM201 177.8h1v1.5h-1zM203 177.8h2v1.5h-2zM206 177.8h1v1.5h-1zM211 177.8h1v1.5h-1zM215 177.8h1v1.5h-1zM218 177.8h1v1.5h-1zM220 177.8h1v1.5h-1zM222 177.8h5v1.5h-5zM229 177.8h2v1.5h-2zM233 177.8h4v1.5h-4zM238 177.8h2v1.5h-2zM243 177.8h3v1.5h-3zM250 177.8h5v1.5h-5zM256 177.8h1v1.5h-1zM258 177.8h10v1.5h-10zM168 179.2h9v1.5h-9zM183 179.2h8v1.5h-8zM192 179.2h4v1.5h-4zM198 179.2h4v1.5h-4zM203 179.2h2v1.5h-2zM210 179.2h2v1.5h-2zM218 179.2h2v1.5h-2zM222 179.2h2v1.5h-2zM229 179.2h2v1.5h-2zM232 179.2h2v1.5h-2zM239 179.2h6v1.5h-6zM252 179.2h5v1.5h-5zM260 179.2h4v1.5h-4zM265 179.2h1v1.5h-1zM169 180.7h1v1.5h-1zM171 180.7h6v1.5h-6zM183 180.7h2v1.5h-2zM186 180.7h5v1.5h-5zM192 180.7h4v1.5h-4zM198 180.7h4v1.5h-4zM203 180.7h2v1.5h-2zM208 180.7h1v1.5h-1zM210 180.7h2v1.5h-2zM219 180.7h2v1.5h-2zM223 180.7h1v1.5h-1zM229 180.7h2v1.5h-2zM232 180.7h2v1.5h-2zM239 180.7h6v1.5h-6zM252 180.7h5v1.5h-5zM260 180.7h4v1.5h-4zM265 180.7h1v1.5h-1zM169 182.1h1v1.5h-1zM171 182.1h3v1.5h-3zM176 182.1h1v1.5h-1zM181 182.1h8v1.5h-8zM190 182.1h1v1.5h-1zM192 182.1h4v1.5h-4zM197 182.1h2v1.5h-2zM200 182.1h2v1.5h-2zM203 182.1h2v1.5h-2zM211 182.1h1v1.5h-1zM218 182.1h3v1.5h-3zM222 182.1h2v1.5h-2zM229 182.1h2v1.5h-2zM232 182.1h2v1.5h-2zM239 182.1h2v1.5h-2zM242 182.1h3v1.5h-3zM250 182.1h1v1.5h-1zM252 182.1h5v1.5h-5zM260 182.1h4v1.5h-4zM265 182.1h2v1.5h-2zM169 183.6h1v1.8h-1zM171 183.6h3v1.8h-3zM175 183.6h3v1.8h-3zM179 183.6h9v1.8h-9zM189 183.6h4v1.8h-4zM194 183.6h5v1.8h-5zM201 183.6h1v1.8h-1zM203 183.6h2v1.8h-2zM206 183.6h1v1.8h-1zM211 183.6h3v1.8h-3zM215 183.6h1v1.8h-1zM218 183.6h1v1.8h-1zM220 183.6h1v1.8h-1zM222 183.6h5v1.8h-5zM228 183.6h3v1.8h-3zM233 183.6h3v1.8h-3zM238 183.6h2v1.8h-2zM243 183.6h4v1.8h-4zM250 183.6h5v1.8h-5zM256 183.6h1v1.8h-1zM258 183.6h4v1.8h-4zM264 183.6h4v1.8h-4zM171 185.4h3v1.9h-3zM177 185.4h14v1.9h-14zM192 185.4h1v1.9h-1zM194 185.4h5v1.9h-5zM200 185.4h2v1.9h-2zM203 185.4h2v1.9h-2zM206 185.4h1v1.9h-1zM211 185.4h3v1.9h-3zM215 185.4h1v1.9h-1zM218 185.4h1v1.9h-1zM220 185.4h1v1.9h-1zM222 185.4h6v1.9h-6zM229 185.4h2v1.9h-2zM233 185.4h4v1.9h-4zM238 185.4h3v1.9h-3zM243 185.4h4v1.9h-4zM249 185.4h6v1.9h-6zM256 185.4h4v1.9h-4zM264 185.4h4v1.9h-4z"/>
</g>
<rect x="44.6" y="189.6" width="223.4" height="125.6" fill="#16215e"/>
<polygon fill="#7a1dfc" points="44.6,315.2 45.1,238.8 46.2,243.4 47.2,241.2 48.3,236.2 49.3,240.7 50.4,245.0 51.5,242.1 52.5,240.2 53.6,235.6 54.6,253.1 55.7,238.9 56.7,234.2 57.8,250.2 58.8,254.8 59.9,242.2 60.9,239.7 62.0,235.9 63.1,222.8 64.1,246.4 65.2,247.7 66.2,227.1 67.3,233.0 68.3,240.6 69.4,224.4 70.4,240.4 71.5,230.9 72.5,238.1 73.6,247.7 74.7,249.7 75.7,243.5 76.8,221.1 77.8,240.6 78.9,246.8 79.9,231.1 81.0,224.5 82.0,242.7 83.1,229.8 84.2,249.3 85.2,250.0 86.3,243.7 87.3,241.4 88.4,254.3 89.4,214.7 90.5,234.9 91.5,225.6 92.6,236.9 93.6,237.7 94.7,228.9 95.8,239.5 96.8,240.9 97.9,238.9 98.9,227.3 100.0,242.2 101.0,237.5 102.1,233.1 103.1,245.7 104.2,237.1 105.2,245.6 106.3,218.6 107.4,253.2 108.4,244.8 109.5,239.4 110.5,251.6 111.6,242.6 112.6,263.7 113.7,239.9 114.7,248.1 115.8,228.7 116.8,253.3 117.9,227.8 119.0,240.3 120.0,250.2 121.1,227.6 122.1,224.5 123.2,223.1 124.2,231.8 125.3,252.3 126.3,257.1 127.4,252.6 128.4,238.9 129.5,242.5 130.6,246.2 131.6,232.3 132.7,229.2 133.7,221.1 134.8,237.5 135.8,226.3 136.9,230.9 137.9,230.6 139.0,228.0 140.1,233.7 141.1,241.5 142.2,254.7 143.2,236.4 144.3,225.1 145.3,247.9 146.4,240.1 147.4,230.8 148.5,234.5 149.5,229.6 150.6,229.0 151.7,219.3 152.7,234.9 153.8,231.7 154.8,235.0 155.9,250.1 156.9,234.7 158.0,233.9 159.0,235.1 160.1,239.9 161.1,244.9 162.2,244.0 163.3,235.0 164.3,240.1 165.4,241.3 166.4,238.2 167.5,233.5 168.5,222.8 169.5,220.1 170.6,246.7 171.6,233.2 172.6,234.2 173.7,255.0 174.7,248.6 175.7,257.5 176.8,258.0 177.8,265.6 178.8,229.9 179.9,218.4 180.9,215.6 181.9,239.4 182.9,255.9 184.0,244.4 185.0,231.4 186.0,222.8 187.1,223.2 188.1,242.8 189.1,244.0 190.2,223.7 191.2,203.5 192.2,219.3 193.3,227.8 194.3,244.8 195.3,256.0 196.4,255.5 197.4,248.3 198.4,242.6 199.4,233.8 200.5,217.7 201.5,242.0 202.5,228.5 203.6,230.3 204.6,231.4 205.6,245.1 206.7,225.5 207.7,226.6 208.7,239.9 209.8,268.6 210.8,275.1 211.8,251.8 212.8,246.5 213.9,266.1 214.9,238.1 215.9,233.6 217.0,258.9 218.0,240.0 219.0,242.2 220.1,228.7 221.1,232.6 222.1,228.9 223.2,233.1 224.2,247.1 225.2,254.6 226.2,254.0 227.3,248.0 228.3,247.3 229.3,249.7 230.4,231.8 231.4,266.7 232.4,252.7 233.5,244.7 234.5,252.9 235.5,235.7 236.6,231.2 237.6,249.0 238.6,256.8 239.6,230.8 240.7,230.3 241.7,242.5 242.7,235.0 243.8,240.3 244.8,239.7 245.8,244.1 246.9,232.1 247.9,219.4 248.9,243.1 250.0,254.7 251.0,248.8 252.0,221.2 253.1,220.9 254.1,222.0 255.1,237.4 256.1,244.7 257.2,244.9 258.2,232.1 259.2,232.4 260.3,244.6 261.3,225.1 262.3,244.0 263.4,221.8 264.4,221.1 265.4,220.3 266.5,228.7 267.5,228.3 268.0,315.2"/>
<polygon fill="#f2c12e" points="44.6,315.2 45.1,281.2 46.2,301.0 47.2,295.3 48.3,265.4 49.3,286.2 50.4,281.7 51.5,255.9 52.5,289.1 53.6,288.6 54.6,291.0 55.7,283.9 56.7,288.4 57.8,307.8 58.8,286.3 59.9,296.6 60.9,277.4 62.0,295.7 63.1,285.4 64.1,272.0 65.2,290.9 66.2,280.2 67.3,296.4 68.3,296.9 69.4,303.3 70.4,286.8 71.5,262.4 72.5,270.1 73.6,301.7 74.7,287.3 75.7,299.5 76.8,291.3 77.8,274.1 78.9,282.2 79.9,296.5 81.0,265.3 82.0,282.5 83.1,298.6 84.2,279.8 85.2,291.1 86.3,297.2 87.3,290.7 88.4,294.6 89.4,288.0 90.5,276.2 91.5,300.3 92.6,282.7 93.6,301.5 94.7,267.0 95.8,303.2 96.8,270.9 97.9,285.1 98.9,299.4 100.0,271.3 101.0,284.8 102.1,292.6 103.1,297.6 104.2,295.6 105.2,290.1 106.3,281.9 107.4,292.5 108.4,292.6 109.5,276.8 110.5,279.6 111.6,302.1 112.6,306.3 113.7,286.7 114.7,299.2 115.8,285.5 116.8,303.0 117.9,267.1 119.0,301.7 120.0,289.9 121.1,290.4 122.1,292.8 123.2,251.7 124.2,293.6 125.3,289.1 126.3,291.2 127.4,290.8 128.4,280.9 129.5,295.6 130.6,301.5 131.6,302.9 132.7,289.3 133.7,276.6 134.8,282.5 135.8,288.1 136.9,283.3 137.9,292.0 139.0,291.8 140.1,306.7 141.1,292.4 142.2,296.9 143.2,280.1 144.3,263.0 145.3,252.9 146.4,268.4 147.4,278.7 148.5,292.6 149.5,299.2 150.6,280.9 151.7,254.1 152.7,272.5 153.8,290.5 154.8,277.0 155.9,297.2 156.9,292.3 158.0,303.9 159.0,306.8 160.1,303.9 161.1,308.2 162.2,297.2 163.3,300.1 164.3,302.8 165.4,282.5 166.4,294.2 167.5,291.5 168.5,281.1 169.5,291.0 170.6,299.1 171.6,304.2 172.6,294.1 173.7,276.7 174.7,291.2 175.7,296.4 176.8,307.0 177.8,306.2 178.8,305.3 179.9,299.2 180.9,299.1 181.9,306.0 182.9,301.8 184.0,298.9 185.0,293.2 186.0,301.4 187.1,293.4 188.1,292.7 189.1,295.4 190.2,304.4 191.2,304.2 192.2,298.9 193.3,284.6 194.3,288.3 195.3,291.2 196.4,303.4 197.4,291.3 198.4,290.3 199.4,303.8 200.5,296.7 201.5,309.6 202.5,307.0 203.6,289.7 204.6,281.6 205.6,293.8 206.7,305.6 207.7,299.8 208.7,297.7 209.8,299.2 210.8,289.7 211.8,296.4 212.8,303.0 213.9,286.6 214.9,300.1 215.9,272.7 217.0,294.0 218.0,304.8 219.0,308.1 220.1,277.3 221.1,290.6 222.1,269.5 223.2,300.1 224.2,286.4 225.2,289.6 226.2,307.8 227.3,300.4 228.3,299.4 229.3,301.8 230.4,303.8 231.4,299.8 232.4,308.9 233.5,304.8 234.5,289.0 235.5,295.7 236.6,300.6 237.6,289.5 238.6,287.9 239.6,288.8 240.7,286.9 241.7,306.1 242.7,298.1 243.8,279.9 244.8,296.9 245.8,309.1 246.9,304.7 247.9,283.1 248.9,301.2 250.0,302.3 251.0,285.4 252.0,261.2 253.1,270.9 254.1,290.9 255.1,292.6 256.1,291.1 257.2,303.8 258.2,285.9 259.2,300.1 260.3,303.5 261.3,300.4 262.3,303.3 263.4,282.3 264.4,296.3 265.4,295.6 266.5,288.1 267.5,300.3 268.0,315.2"/>
<polygon fill="#e3261b" points="44.6,315.2 45.1,297.4 46.2,303.2 47.2,297.5 48.3,291.8 49.3,291.3 50.4,291.3 51.5,288.3 52.5,295.0 53.6,293.7 54.6,293.2 55.7,290.4 56.7,310.7 57.8,312.7 58.8,305.4 59.9,305.0 60.9,295.4 62.0,298.9 63.1,289.4 64.1,300.1 65.2,297.1 66.2,294.1 67.3,300.7 68.3,303.6 69.4,305.5 70.4,307.3 71.5,302.2 72.5,293.8 73.6,308.4 74.7,292.1 75.7,303.4 76.8,299.1 77.8,292.4 78.9,291.4 79.9,302.7 81.0,291.2 82.0,300.9 83.1,301.0 84.2,297.1 85.2,301.3 86.3,304.4 87.3,301.6 88.4,307.1 89.4,299.7 90.5,299.1 91.5,305.0 92.6,286.8 93.6,306.1 94.7,305.9 95.8,308.8 96.8,293.4 97.9,293.7 98.9,302.7 100.0,296.1 101.0,307.7 102.1,299.0 103.1,303.6 104.2,300.1 105.2,299.1 106.3,295.7 107.4,295.8 108.4,294.8 109.5,294.7 110.5,301.4 111.6,311.4 112.6,308.4 113.7,306.0 114.7,301.5 115.8,297.4 116.8,309.0 117.9,296.2 119.0,306.0 120.0,302.3 121.1,299.7 122.1,301.6 123.2,288.2 124.2,296.9 125.3,302.0 126.3,294.2 127.4,297.5 128.4,289.1 129.5,300.8 130.6,306.0 131.6,304.8 132.7,295.6 133.7,287.3 134.8,290.0 135.8,291.3 136.9,285.4 137.9,293.6 139.0,309.6 140.1,311.2 141.1,294.0 142.2,302.2 143.2,287.7 144.3,275.6 145.3,269.7 146.4,276.4 147.4,284.8 148.5,294.1 149.5,300.9 150.6,293.3 151.7,284.6 152.7,292.6 153.8,297.5 154.8,300.1 155.9,300.2 156.9,311.7 158.0,311.8 159.0,310.6 160.1,306.0 161.1,310.8 162.2,303.1 163.3,301.7 164.3,309.0 165.4,300.0 166.4,296.5 167.5,296.0 168.5,292.0 169.5,297.2 170.6,304.6 171.6,311.7 172.6,312.5 173.7,307.1 174.7,312.5 175.7,309.5 176.8,312.2 177.8,309.6 178.8,307.8 179.9,309.7 180.9,307.2 181.9,309.3 182.9,303.8 184.0,302.9 185.0,304.4 186.0,309.6 187.1,307.7 188.1,304.7 189.1,304.2 190.2,309.4 191.2,312.2 192.2,305.0 193.3,309.3 194.3,311.4 195.3,310.0 196.4,309.1 197.4,306.9 198.4,310.2 199.4,313.4 200.5,312.9 201.5,312.4 202.5,312.4 203.6,311.5 204.6,297.0 205.6,298.9 206.7,307.9 207.7,312.2 208.7,309.5 209.8,310.1 210.8,309.5 211.8,303.4 212.8,309.7 213.9,310.1 214.9,312.7 215.9,310.8 217.0,299.7 218.0,305.5 219.0,312.8 220.1,312.1 221.1,307.2 222.1,302.8 223.2,309.6 224.2,308.6 225.2,305.3 226.2,311.7 227.3,310.3 228.3,307.2 229.3,305.8 230.4,306.8 231.4,310.2 232.4,311.7 233.5,309.9 234.5,309.3 235.5,309.9 236.6,306.2 237.6,309.2 238.6,310.4 239.6,295.9 240.7,307.4 241.7,312.1 242.7,304.1 243.8,311.0 244.8,310.6 245.8,312.8 246.9,309.2 247.9,307.7 248.9,308.1 250.0,305.8 251.0,288.1 252.0,263.1 253.1,277.9 254.1,303.2 255.1,311.5 256.1,312.5 257.2,310.4 258.2,306.1 259.2,305.0 260.3,307.7 261.3,311.9 262.3,307.4 263.4,290.4 264.4,299.6 265.4,311.4 266.5,311.5 267.5,302.6 268.0,315.2"/>
<polygon fill="#3f6428" points="44.6,315.2 45.1,298.5 46.2,304.3 47.2,299.2 48.3,294.3 49.3,291.4 50.4,291.9 51.5,291.7 52.5,295.2 53.6,295.4 54.6,294.0 55.7,290.5 56.7,310.9 57.8,312.7 58.8,311.9 59.9,305.3 60.9,295.7 62.0,300.1 63.1,289.9 64.1,302.6 65.2,297.5 66.2,296.5 67.3,301.1 68.3,303.8 69.4,305.7 70.4,310.1 71.5,302.6 72.5,294.0 73.6,308.6 74.7,293.5 75.7,304.7 76.8,299.3 77.8,292.9 78.9,293.2 79.9,303.2 81.0,294.8 82.0,301.0 83.1,301.4 84.2,297.5 85.2,302.1 86.3,305.0 87.3,303.6 88.4,308.9 89.4,299.8 90.5,299.3 91.5,305.7 92.6,289.6 93.6,306.1 94.7,307.9 95.8,309.3 96.8,293.6 97.9,294.6 98.9,303.3 100.0,296.6 101.0,307.8 102.1,299.2 103.1,304.5 104.2,300.7 105.2,300.2 106.3,297.9 107.4,296.2 108.4,295.0 109.5,294.9 110.5,301.6 111.6,311.5 112.6,309.0 113.7,307.8 114.7,303.8 115.8,299.0 116.8,310.1 117.9,296.3 119.0,309.9 120.0,304.0 121.1,299.7 122.1,302.4 123.2,288.6 124.2,300.1 125.3,308.5 126.3,294.8 127.4,300.2 128.4,290.2 129.5,301.0 130.6,306.6 131.6,305.8 132.7,296.9 133.7,288.2 134.8,290.3 135.8,291.5 136.9,285.5 137.9,296.0 139.0,311.4 140.1,311.2 141.1,295.2 142.2,304.3 143.2,288.1 144.3,275.6 145.3,270.9 146.4,277.5 147.4,285.2 148.5,294.2 149.5,301.3 150.6,296.0 151.7,285.8 152.7,296.1 153.8,298.2 154.8,300.2 155.9,300.7 156.9,311.7 158.0,312.7 159.0,312.1 160.1,306.1 161.1,311.4 162.2,307.4 163.3,304.3 164.3,310.0 165.4,301.2 166.4,298.9 167.5,297.6 168.5,292.6 169.5,297.9 170.6,305.4 171.6,313.8 172.6,314.4 173.7,314.1 174.7,314.7 175.7,314.4 176.8,313.7 177.8,311.2 178.8,314.0 179.9,313.1 180.9,313.4 181.9,314.6 182.9,314.5 184.0,313.9 185.0,312.9 186.0,314.6 187.1,314.5 188.1,313.4 189.1,314.6 190.2,314.8 191.2,314.7 192.2,314.6 193.3,313.0 194.3,314.4 195.3,313.1 196.4,314.1 197.4,312.7 198.4,311.8 199.4,314.4 200.5,313.9 201.5,313.5 202.5,314.2 203.6,314.4 204.6,314.1 205.6,310.5 206.7,312.8 207.7,313.5 208.7,310.8 209.8,314.3 210.8,313.9 211.8,309.1 212.8,314.0 213.9,314.0 214.9,314.4 215.9,313.4 217.0,313.3 218.0,312.7 219.0,314.6 220.1,314.8 221.1,314.3 222.1,314.7 223.2,314.0 224.2,311.2 225.2,313.9 226.2,314.5 227.3,314.6 228.3,313.4 229.3,313.9 230.4,312.0 231.4,314.5 232.4,314.6 233.5,314.7 234.5,314.3 235.5,314.2 236.6,314.1 237.6,313.0 238.6,314.0 239.6,313.6 240.7,314.7 241.7,314.3 242.7,310.2 243.8,313.2 244.8,312.4 245.8,314.3 246.9,314.1 247.9,314.2 248.9,314.0 250.0,311.6 251.0,289.3 252.0,263.7 253.1,279.2 254.1,309.7 255.1,314.5 256.1,313.9 257.2,313.8 258.2,314.5 259.2,313.3 260.3,313.8 261.3,313.6 262.3,309.6 263.4,291.2 264.4,300.2 265.4,312.5 266.5,314.4 267.5,312.7 268.0,315.2"/>
<line x1="44.0" y1="49" x2="44.0" y2="315" stroke="#3a3af0" stroke-width="1.5" stroke-dasharray="2.4,1.1"/>
<line x1="167.9" y1="49" x2="167.9" y2="315" stroke="#3a3af0" stroke-width="1.5" stroke-dasharray="2.4,1.1"/>
<line x1="268.2" y1="49" x2="268.2" y2="315" stroke="#3a3af0" stroke-width="1.5" stroke-dasharray="2.4,1.1"/>
<text x="270.2" y="61.8" font-size="7.0" font-weight="bold" text-anchor="start" fill="#111" ><tspan font-style="italic">Actinomycetota</tspan></text>
<text x="270.2" y="71.9" font-size="7.0" font-weight="bold" text-anchor="start" fill="#111" ><tspan font-style="italic">Bacilli</tspan></text>
<text x="270.2" y="83.7" font-size="7.0" font-weight="bold" text-anchor="start" fill="#111" ><tspan font-style="italic">Bacteroidota</tspan></text>
<text x="270.2" y="95.3" font-size="7.0" font-weight="bold" text-anchor="start" fill="#111" ><tspan font-style="italic">Clostridium</tspan> cluster I</text>
<text x="270.2" y="101.6" font-size="7.0" font-weight="bold" text-anchor="start" fill="#111" ><tspan font-style="italic">Clostridium</tspan> cluster III</text>
<text x="270.2" y="109.8" font-size="7.0" font-weight="bold" text-anchor="start" fill="#111" ><tspan font-style="italic">Clostridium</tspan> cluster IV</text>
<text x="270.2" y="121.2" font-size="7.0" font-weight="bold" text-anchor="start" fill="#111" ><tspan font-style="italic">Clostridium</tspan> cluster IX</text>
<text x="270.2" y="128.4" font-size="7.0" font-weight="bold" text-anchor="start" fill="#111" ><tspan font-style="italic">Clostridium</tspan> cluster XI</text>
<text x="270.2" y="135.6" font-size="7.0" font-weight="bold" text-anchor="start" fill="#111" ><tspan font-style="italic">Clostridium</tspan> cluster XIII</text>
<text x="270.2" y="156.6" font-size="7.0" font-weight="bold" text-anchor="start" fill="#111" ><tspan font-style="italic">Clostridium</tspan> cluster XIVa</text>
<text x="270.2" y="172.4" font-size="7.0" font-weight="bold" text-anchor="start" fill="#111" ><tspan font-style="italic">Pseudomonadota</tspan></text>
<text x="270.2" y="180.3" font-size="7.0" font-weight="bold" text-anchor="start" fill="#111" >Uncultured <tspan font-style="italic">Clostridiales</tspan></text>
<text x="270.2" y="187.3" font-size="7.0" font-weight="bold" text-anchor="start" fill="#111" >Uncultured <tspan font-style="italic">Mollicutes</tspan></text>
<text transform="translate(30.5,108.0) rotate(-90)" x="0" y="0" font-size="9.5" font-weight="bold" text-anchor="middle" fill="#111">HITCip-Oligo profile</text>
<text transform="translate(20.5,246.6) rotate(-90)" x="0" y="0" font-size="9.3" font-weight="bold" text-anchor="middle" fill="#111">Relative abundance (%)</text>
<text x="38.8" y="190.1" font-size="6.4" font-weight="bold" text-anchor="end" fill="#111" >100%</text>
<text x="38.8" y="202.7" font-size="6.4" font-weight="bold" text-anchor="end" fill="#111" >90%</text>
<text x="38.8" y="215.3" font-size="6.4" font-weight="bold" text-anchor="end" fill="#111" >80%</text>
<text x="38.8" y="227.9" font-size="6.4" font-weight="bold" text-anchor="end" fill="#111" >70%</text>
<text x="38.8" y="240.5" font-size="6.4" font-weight="bold" text-anchor="end" fill="#111" >60%</text>
<text x="38.8" y="253.1" font-size="6.4" font-weight="bold" text-anchor="end" fill="#111" >50%</text>
<text x="38.8" y="265.7" font-size="6.4" font-weight="bold" text-anchor="end" fill="#111" >40%</text>
<text x="38.8" y="278.3" font-size="6.4" font-weight="bold" text-anchor="end" fill="#111" >30%</text>
<text x="38.8" y="290.9" font-size="6.4" font-weight="bold" text-anchor="end" fill="#111" >20%</text>
<text x="38.8" y="303.5" font-size="6.4" font-weight="bold" text-anchor="end" fill="#111" >10%</text>
<text x="38.8" y="316.1" font-size="6.4" font-weight="bold" text-anchor="end" fill="#111" >0%</text>
<rect x="272.9" y="226.2" width="3.4" height="3.4" fill="#16215e"/>
<text x="278.2" y="230.1" font-size="6.35" font-weight="bold" text-anchor="start" fill="#111" >Others</text>
<rect x="272.9" y="236.0" width="3.4" height="3.4" fill="#7a1dfc"/>
<text x="278.2" y="239.9" font-size="6.35" font-weight="bold" text-anchor="start" fill="#111" font-style="italic" >Clostridium cluster XIVa</text>
<rect x="272.9" y="245.6" width="3.4" height="3.4" fill="#f2c12e"/>
<text x="278.2" y="249.5" font-size="6.35" font-weight="bold" text-anchor="start" fill="#111" font-style="italic" >Bacteroides</text>
<rect x="272.9" y="254.9" width="3.4" height="3.4" fill="#e3261b"/>
<text x="278.2" y="258.8" font-size="6.35" font-weight="bold" text-anchor="start" fill="#111" font-style="italic" >Bifidobacterium</text>
<rect x="272.9" y="264.5" width="3.4" height="3.4" fill="#3e6b2a"/>
<text x="278.2" y="268.4" font-size="6.35" font-weight="bold" text-anchor="start" fill="#111" font-style="italic" >Prevotella</text>
<text x="95.9" y="246.3" font-size="9.1" font-weight="bold" text-anchor="start" fill="#fff" >n = 117</text>
<text x="210.8" y="246.6" font-size="9.1" font-weight="bold" text-anchor="start" fill="#fff" >n = 97</text>
<text x="57.3" y="333.5" font-size="13.3" font-weight="bold" text-anchor="start" fill="#111" >Cluster-P</text>
<text x="174.1" y="333.5" font-size="13.3" font-weight="bold" text-anchor="start" fill="#111" >Cluster-B/R</text>
<text x="368.2" y="12.4" font-size="15.1" font-weight="bold" text-anchor="start" fill="#111" >B. PCoA&#160;&#160;Bray-Curtis</text>
<rect x="396.3" y="31.2" width="280.7" height="270.0" fill="none" stroke="#555" stroke-width="1"/>
<line x1="393.3" y1="31.2" x2="396.3" y2="31.2" stroke="#555" stroke-width="1"/>
<text x="390.8" y="35.0" font-size="10.6" font-weight="normal" text-anchor="end" fill="#333" >0.4</text>
<line x1="393.3" y1="69.8" x2="396.3" y2="69.8" stroke="#555" stroke-width="1"/>
<text x="390.8" y="73.6" font-size="10.6" font-weight="normal" text-anchor="end" fill="#333" >0.3</text>
<line x1="393.3" y1="108.3" x2="396.3" y2="108.3" stroke="#555" stroke-width="1"/>
<text x="390.8" y="112.1" font-size="10.6" font-weight="normal" text-anchor="end" fill="#333" >0.2</text>
<line x1="393.3" y1="146.9" x2="396.3" y2="146.9" stroke="#555" stroke-width="1"/>
<text x="390.8" y="150.7" font-size="10.6" font-weight="normal" text-anchor="end" fill="#333" >0.1</text>
<line x1="393.3" y1="185.5" x2="396.3" y2="185.5" stroke="#555" stroke-width="1"/>
<text x="390.8" y="189.3" font-size="10.6" font-weight="normal" text-anchor="end" fill="#333" >0.0</text>
<line x1="393.3" y1="224.1" x2="396.3" y2="224.1" stroke="#555" stroke-width="1"/>
<text x="390.8" y="227.9" font-size="10.6" font-weight="normal" text-anchor="end" fill="#333" >-0.1</text>
<line x1="393.3" y1="262.6" x2="396.3" y2="262.6" stroke="#555" stroke-width="1"/>
<text x="390.8" y="266.4" font-size="10.6" font-weight="normal" text-anchor="end" fill="#333" >-0.2</text>
<line x1="393.3" y1="301.2" x2="396.3" y2="301.2" stroke="#555" stroke-width="1"/>
<text x="390.8" y="305.0" font-size="10.6" font-weight="normal" text-anchor="end" fill="#333" >-0.3</text>
<line x1="396.3" y1="301.2" x2="396.3" y2="304.2" stroke="#555" stroke-width="1"/>
<text x="396.3" y="311.2" font-size="10.6" font-weight="normal" text-anchor="middle" fill="#333" >-0.4</text>
<line x1="431.4" y1="301.2" x2="431.4" y2="304.2" stroke="#555" stroke-width="1"/>
<text x="431.4" y="311.2" font-size="10.6" font-weight="normal" text-anchor="middle" fill="#333" >-0.3</text>
<line x1="466.5" y1="301.2" x2="466.5" y2="304.2" stroke="#555" stroke-width="1"/>
<text x="466.5" y="311.2" font-size="10.6" font-weight="normal" text-anchor="middle" fill="#333" >-0.2</text>
<line x1="501.6" y1="301.2" x2="501.6" y2="304.2" stroke="#555" stroke-width="1"/>
<text x="501.6" y="311.2" font-size="10.6" font-weight="normal" text-anchor="middle" fill="#333" >-0.1</text>
<line x1="536.6" y1="301.2" x2="536.6" y2="304.2" stroke="#555" stroke-width="1"/>
<text x="536.6" y="311.2" font-size="10.6" font-weight="normal" text-anchor="middle" fill="#333" >0.0</text>
<line x1="571.7" y1="301.2" x2="571.7" y2="304.2" stroke="#555" stroke-width="1"/>
<text x="571.7" y="311.2" font-size="10.6" font-weight="normal" text-anchor="middle" fill="#333" >0.1</text>
<line x1="606.8" y1="301.2" x2="606.8" y2="304.2" stroke="#555" stroke-width="1"/>
<text x="606.8" y="311.2" font-size="10.6" font-weight="normal" text-anchor="middle" fill="#333" >0.2</text>
<line x1="641.9" y1="301.2" x2="641.9" y2="304.2" stroke="#555" stroke-width="1"/>
<text x="641.9" y="311.2" font-size="10.6" font-weight="normal" text-anchor="middle" fill="#333" >0.3</text>
<line x1="677.0" y1="301.2" x2="677.0" y2="304.2" stroke="#555" stroke-width="1"/>
<text x="677.0" y="311.2" font-size="10.6" font-weight="normal" text-anchor="middle" fill="#333" >0.4</text>
<text x="535.0" y="320.5" font-size="10.8" font-weight="normal" text-anchor="middle" fill="#333" >PCoA 1 (13.0 %)</text>
<text transform="translate(375.6,167.5) rotate(-90)" x="0" y="0" font-size="10.8" font-weight="normal" text-anchor="middle" fill="#333">PCoA 2 (8.4 %)</text>
<circle cx="552.4" cy="114.0" r="3.4" fill="#45998c"/>
<circle cx="612.9" cy="39.1" r="3.4" fill="#45998c"/>
<circle cx="614.9" cy="45.5" r="3.4" fill="#45998c"/>
<circle cx="593.2" cy="92.8" r="3.4" fill="#45998c"/>
<circle cx="617.0" cy="92.8" r="3.4" fill="#45998c"/>
<circle cx="628.7" cy="99.6" r="3.4" fill="#45998c"/>
<circle cx="618.8" cy="118.1" r="3.4" fill="#45998c"/>
<circle cx="603.8" cy="122.0" r="3.4" fill="#45998c"/>
<circle cx="425.8" cy="180.7" r="3.4" fill="#45998c"/>
<circle cx="459.3" cy="200.8" r="3.4" fill="#45998c"/>
<circle cx="554.6" cy="139.3" r="3.4" fill="#45998c"/>
<circle cx="563.4" cy="142.3" r="3.4" fill="#45998c"/>
<circle cx="543.7" cy="150.2" r="3.4" fill="#45998c"/>
<circle cx="539.7" cy="166.2" r="3.4" fill="#45998c"/>
<circle cx="555.8" cy="166.2" r="3.4" fill="#45998c"/>
<circle cx="514.1" cy="187.0" r="3.4" fill="#45998c"/>
<circle cx="532.9" cy="182.7" r="3.4" fill="#45998c"/>
<circle cx="548.0" cy="184.9" r="3.4" fill="#45998c"/>
<circle cx="561.7" cy="192.8" r="3.4" fill="#45998c"/>
<circle cx="557.5" cy="203.7" r="3.4" fill="#45998c"/>
<circle cx="606.6" cy="134.7" r="3.4" fill="#45998c"/>
<circle cx="633.3" cy="135.4" r="3.4" fill="#45998c"/>
<circle cx="568.1" cy="144.2" r="3.4" fill="#45998c"/>
<circle cx="579.6" cy="137.3" r="3.4" fill="#45998c"/>
<circle cx="591.7" cy="143.0" r="3.4" fill="#45998c"/>
<circle cx="598.0" cy="151.5" r="3.4" fill="#45998c"/>
<circle cx="570.7" cy="159.3" r="3.4" fill="#45998c"/>
<circle cx="593.7" cy="159.9" r="3.4" fill="#45998c"/>
<circle cx="615.4" cy="160.3" r="3.4" fill="#45998c"/>
<circle cx="612.1" cy="164.9" r="3.4" fill="#45998c"/>
<circle cx="628.9" cy="166.2" r="3.4" fill="#45998c"/>
<circle cx="641.4" cy="157.7" r="3.4" fill="#45998c"/>
<circle cx="577.0" cy="168.2" r="3.4" fill="#45998c"/>
<circle cx="570.7" cy="173.7" r="3.4" fill="#45998c"/>
<circle cx="598.3" cy="176.8" r="3.4" fill="#45998c"/>
<circle cx="604.6" cy="177.4" r="3.4" fill="#45998c"/>
<circle cx="606.6" cy="181.3" r="3.4" fill="#45998c"/>
<circle cx="609.2" cy="184.0" r="3.4" fill="#45998c"/>
<circle cx="614.1" cy="175.4" r="3.4" fill="#45998c"/>
<circle cx="615.8" cy="178.1" r="3.4" fill="#45998c"/>
<circle cx="616.7" cy="181.4" r="3.4" fill="#45998c"/>
<circle cx="624.7" cy="175.4" r="3.4" fill="#45998c"/>
<circle cx="637.7" cy="180.0" r="3.4" fill="#45998c"/>
<circle cx="586.2" cy="179.6" r="3.4" fill="#45998c"/>
<circle cx="581.6" cy="183.1" r="3.4" fill="#45998c"/>
<circle cx="619.7" cy="188.3" r="3.4" fill="#45998c"/>
<circle cx="593.8" cy="188.8" r="3.4" fill="#45998c"/>
<circle cx="580.6" cy="193.2" r="3.4" fill="#45998c"/>
<circle cx="601.3" cy="193.4" r="3.4" fill="#45998c"/>
<circle cx="605.9" cy="190.2" r="3.4" fill="#45998c"/>
<circle cx="609.9" cy="200.1" r="3.4" fill="#45998c"/>
<circle cx="614.5" cy="198.4" r="3.4" fill="#45998c"/>
<circle cx="619.1" cy="201.7" r="3.4" fill="#45998c"/>
<circle cx="612.5" cy="203.0" r="3.4" fill="#45998c"/>
<circle cx="587.5" cy="201.7" r="3.4" fill="#45998c"/>
<circle cx="599.4" cy="202.8" r="3.4" fill="#45998c"/>
<circle cx="568.1" cy="204.3" r="3.4" fill="#45998c"/>
<circle cx="647.6" cy="146.3" r="3.4" fill="#45998c"/>
<circle cx="648.6" cy="172.5" r="3.4" fill="#45998c"/>
<circle cx="496.8" cy="212.1" r="3.4" fill="#45998c"/>
<circle cx="564.0" cy="212.7" r="3.4" fill="#45998c"/>
<circle cx="557.7" cy="217.3" r="3.4" fill="#45998c"/>
<circle cx="545.6" cy="226.1" r="3.4" fill="#45998c"/>
<circle cx="543.4" cy="233.8" r="3.4" fill="#45998c"/>
<circle cx="550.2" cy="235.1" r="3.4" fill="#45998c"/>
<circle cx="502.3" cy="237.3" r="3.4" fill="#45998c"/>
<circle cx="517.0" cy="239.0" r="3.4" fill="#45998c"/>
<circle cx="490.7" cy="245.3" r="3.4" fill="#45998c"/>
<circle cx="525.3" cy="243.0" r="3.4" fill="#45998c"/>
<circle cx="529.6" cy="247.3" r="3.4" fill="#45998c"/>
<circle cx="538.4" cy="242.6" r="3.4" fill="#45998c"/>
<circle cx="538.4" cy="246.9" r="3.4" fill="#45998c"/>
<circle cx="545.0" cy="243.0" r="3.4" fill="#45998c"/>
<circle cx="563.4" cy="239.7" r="3.4" fill="#45998c"/>
<circle cx="562.7" cy="245.6" r="3.4" fill="#45998c"/>
<circle cx="565.9" cy="252.5" r="3.4" fill="#45998c"/>
<circle cx="508.5" cy="253.0" r="3.4" fill="#45998c"/>
<circle cx="534.2" cy="254.4" r="3.4" fill="#45998c"/>
<circle cx="519.4" cy="257.4" r="3.4" fill="#45998c"/>
<circle cx="503.3" cy="261.4" r="3.4" fill="#45998c"/>
<circle cx="500.3" cy="266.0" r="3.4" fill="#45998c"/>
<circle cx="547.0" cy="260.0" r="3.4" fill="#45998c"/>
<circle cx="553.3" cy="258.1" r="3.4" fill="#45998c"/>
<circle cx="545.6" cy="266.6" r="3.4" fill="#45998c"/>
<circle cx="556.8" cy="267.0" r="3.4" fill="#45998c"/>
<circle cx="562.7" cy="262.7" r="3.4" fill="#45998c"/>
<circle cx="507.8" cy="276.5" r="3.4" fill="#45998c"/>
<circle cx="527.9" cy="273.2" r="3.4" fill="#45998c"/>
<circle cx="531.8" cy="273.2" r="3.4" fill="#45998c"/>
<circle cx="540.4" cy="277.5" r="3.4" fill="#45998c"/>
<circle cx="544.3" cy="277.8" r="3.4" fill="#45998c"/>
<circle cx="568.1" cy="206.2" r="3.4" fill="#45998c"/>
<circle cx="571.5" cy="212.7" r="3.4" fill="#45998c"/>
<circle cx="570.7" cy="219.3" r="3.4" fill="#45998c"/>
<circle cx="587.1" cy="202.6" r="3.4" fill="#45998c"/>
<circle cx="588.8" cy="207.1" r="3.4" fill="#45998c"/>
<circle cx="598.7" cy="203.5" r="3.4" fill="#45998c"/>
<circle cx="601.3" cy="202.9" r="3.4" fill="#45998c"/>
<circle cx="620.4" cy="202.9" r="3.4" fill="#45998c"/>
<circle cx="607.9" cy="206.2" r="3.4" fill="#45998c"/>
<circle cx="613.8" cy="207.5" r="3.4" fill="#45998c"/>
<circle cx="614.5" cy="213.4" r="3.4" fill="#45998c"/>
<circle cx="611.2" cy="212.1" r="3.4" fill="#45998c"/>
<circle cx="586.9" cy="219.7" r="3.4" fill="#45998c"/>
<circle cx="595.2" cy="218.6" r="3.4" fill="#45998c"/>
<circle cx="605.3" cy="220.2" r="3.4" fill="#45998c"/>
<circle cx="577.3" cy="225.2" r="3.4" fill="#45998c"/>
<circle cx="602.2" cy="227.8" r="3.4" fill="#45998c"/>
<circle cx="600.7" cy="233.4" r="3.4" fill="#45998c"/>
<circle cx="604.6" cy="236.4" r="3.4" fill="#45998c"/>
<circle cx="603.6" cy="242.3" r="3.4" fill="#45998c"/>
<circle cx="582.0" cy="234.2" r="3.4" fill="#45998c"/>
<circle cx="574.1" cy="237.3" r="3.4" fill="#45998c"/>
<circle cx="569.1" cy="238.4" r="3.4" fill="#45998c"/>
<circle cx="582.9" cy="250.8" r="3.4" fill="#45998c"/>
<circle cx="595.4" cy="243.6" r="3.4" fill="#45998c"/>
<circle cx="594.1" cy="247.3" r="3.4" fill="#45998c"/>
<circle cx="457.1" cy="67.5" r="3.4" fill="#ff4514"/>
<circle cx="475.2" cy="78.7" r="3.4" fill="#ff4514"/>
<circle cx="481.1" cy="80.0" r="3.4" fill="#ff4514"/>
<circle cx="437.7" cy="114.0" r="3.4" fill="#ff4514"/>
<circle cx="489.9" cy="56.6" r="3.4" fill="#ff4514"/>
<circle cx="489.9" cy="59.9" r="3.4" fill="#ff4514"/>
<circle cx="489.9" cy="63.2" r="3.4" fill="#ff4514"/>
<circle cx="506.4" cy="84.9" r="3.4" fill="#ff4514"/>
<circle cx="511.4" cy="82.9" r="3.4" fill="#ff4514"/>
<circle cx="507.4" cy="111.4" r="3.4" fill="#ff4514"/>
<circle cx="518.5" cy="116.7" r="3.4" fill="#ff4514"/>
<circle cx="552.4" cy="97.4" r="3.4" fill="#ff4514"/>
<circle cx="554.3" cy="107.6" r="3.4" fill="#ff4514"/>
<circle cx="550.4" cy="109.4" r="3.4" fill="#ff4514"/>
<circle cx="575.6" cy="72.0" r="3.4" fill="#ff4514"/>
<circle cx="594.6" cy="78.8" r="3.4" fill="#ff4514"/>
<circle cx="574.9" cy="95.4" r="3.4" fill="#ff4514"/>
<circle cx="603.2" cy="103.0" r="3.4" fill="#ff4514"/>
<circle cx="425.8" cy="130.5" r="3.4" fill="#ff4514"/>
<circle cx="436.7" cy="127.1" r="3.4" fill="#ff4514"/>
<circle cx="438.7" cy="132.7" r="3.4" fill="#ff4514"/>
<circle cx="417.7" cy="139.7" r="3.4" fill="#ff4514"/>
<circle cx="480.7" cy="122.9" r="3.4" fill="#ff4514"/>
<circle cx="483.4" cy="125.5" r="3.4" fill="#ff4514"/>
<circle cx="473.5" cy="133.1" r="3.4" fill="#ff4514"/>
<circle cx="442.6" cy="149.8" r="3.4" fill="#ff4514"/>
<circle cx="480.7" cy="147.8" r="3.4" fill="#ff4514"/>
<circle cx="483.8" cy="144.2" r="3.4" fill="#ff4514"/>
<circle cx="451.8" cy="159.7" r="3.4" fill="#ff4514"/>
<circle cx="464.3" cy="163.9" r="3.4" fill="#ff4514"/>
<circle cx="413.7" cy="165.6" r="3.4" fill="#ff4514"/>
<circle cx="428.8" cy="164.3" r="3.4" fill="#ff4514"/>
<circle cx="434.5" cy="168.0" r="3.4" fill="#ff4514"/>
<circle cx="444.0" cy="169.9" r="3.4" fill="#ff4514"/>
<circle cx="442.6" cy="176.1" r="3.4" fill="#ff4514"/>
<circle cx="426.2" cy="189.2" r="3.4" fill="#ff4514"/>
<circle cx="430.8" cy="187.3" r="3.4" fill="#ff4514"/>
<circle cx="444.6" cy="189.2" r="3.4" fill="#ff4514"/>
<circle cx="478.0" cy="180.3" r="3.4" fill="#ff4514"/>
<circle cx="480.4" cy="180.3" r="3.4" fill="#ff4514"/>
<circle cx="481.4" cy="188.8" r="3.4" fill="#ff4514"/>
<circle cx="422.9" cy="198.2" r="3.4" fill="#ff4514"/>
<circle cx="438.0" cy="202.0" r="3.4" fill="#ff4514"/>
<circle cx="440.7" cy="203.3" r="3.4" fill="#ff4514"/>
<circle cx="477.5" cy="200.8" r="3.4" fill="#ff4514"/>
<circle cx="497.0" cy="123.9" r="3.4" fill="#ff4514"/>
<circle cx="514.8" cy="133.4" r="3.4" fill="#ff4514"/>
<circle cx="520.3" cy="139.3" r="3.4" fill="#ff4514"/>
<circle cx="500.6" cy="146.8" r="3.4" fill="#ff4514"/>
<circle cx="517.4" cy="148.5" r="3.4" fill="#ff4514"/>
<circle cx="519.4" cy="152.4" r="3.4" fill="#ff4514"/>
<circle cx="524.0" cy="155.1" r="3.4" fill="#ff4514"/>
<circle cx="489.8" cy="154.0" r="3.4" fill="#ff4514"/>
<circle cx="490.4" cy="157.4" r="3.4" fill="#ff4514"/>
<circle cx="510.8" cy="161.9" r="3.4" fill="#ff4514"/>
<circle cx="541.7" cy="148.8" r="3.4" fill="#ff4514"/>
<circle cx="544.6" cy="165.6" r="3.4" fill="#ff4514"/>
<circle cx="550.9" cy="164.7" r="3.4" fill="#ff4514"/>
<circle cx="491.1" cy="182.0" r="3.4" fill="#ff4514"/>
<circle cx="501.6" cy="180.3" r="3.4" fill="#ff4514"/>
<circle cx="506.2" cy="182.0" r="3.4" fill="#ff4514"/>
<circle cx="502.3" cy="192.5" r="3.4" fill="#ff4514"/>
<circle cx="525.7" cy="186.6" r="3.4" fill="#ff4514"/>
<circle cx="527.9" cy="189.9" r="3.4" fill="#ff4514"/>
<circle cx="530.5" cy="192.8" r="3.4" fill="#ff4514"/>
<circle cx="536.4" cy="192.3" r="3.4" fill="#ff4514"/>
<circle cx="543.7" cy="187.0" r="3.4" fill="#ff4514"/>
<circle cx="585.6" cy="124.9" r="3.4" fill="#ff4514"/>
<circle cx="589.8" cy="192.9" r="3.4" fill="#ff4514"/>
<circle cx="460.6" cy="210.4" r="3.4" fill="#ff4514"/>
<circle cx="446.2" cy="218.4" r="3.4" fill="#ff4514"/>
<circle cx="429.1" cy="220.6" r="3.4" fill="#ff4514"/>
<circle cx="476.8" cy="217.3" r="3.4" fill="#ff4514"/>
<circle cx="478.8" cy="222.6" r="3.4" fill="#ff4514"/>
<circle cx="480.4" cy="227.8" r="3.4" fill="#ff4514"/>
<circle cx="435.7" cy="229.8" r="3.4" fill="#ff4514"/>
<circle cx="457.5" cy="230.5" r="3.4" fill="#ff4514"/>
<circle cx="437.8" cy="247.6" r="3.4" fill="#ff4514"/>
<circle cx="464.1" cy="255.2" r="3.4" fill="#ff4514"/>
<circle cx="461.0" cy="262.0" r="3.4" fill="#ff4514"/>
<circle cx="497.0" cy="208.8" r="3.4" fill="#ff4514"/>
<circle cx="510.8" cy="212.1" r="3.4" fill="#ff4514"/>
<circle cx="486.2" cy="221.3" r="3.4" fill="#ff4514"/>
<circle cx="492.4" cy="227.2" r="3.4" fill="#ff4514"/>
<circle cx="498.3" cy="227.2" r="3.4" fill="#ff4514"/>
<circle cx="515.4" cy="220.2" r="3.4" fill="#ff4514"/>
<circle cx="521.3" cy="217.3" r="3.4" fill="#ff4514"/>
<circle cx="527.5" cy="226.8" r="3.4" fill="#ff4514"/>
<circle cx="547.6" cy="222.6" r="3.4" fill="#ff4514"/>
<circle cx="504.6" cy="237.0" r="3.4" fill="#ff4514"/>
<circle cx="510.8" cy="252.5" r="3.4" fill="#ff4514"/>
<circle cx="525.9" cy="252.8" r="3.4" fill="#ff4514"/>
<circle cx="497.0" cy="257.4" r="3.4" fill="#ff4514"/>
<circle cx="491.5" cy="277.1" r="3.4" fill="#ff4514"/>
<circle cx="434.3" cy="332.9" r="6.4" fill="#45998c"/>
<text x="446.9" y="338.3" font-size="13.3" font-weight="bold" text-anchor="start" fill="#111" >Cluster-P</text>
<circle cx="558.7" cy="332.9" r="6.4" fill="#ff4514"/>
<text x="569.7" y="338.3" font-size="13.3" font-weight="bold" text-anchor="start" fill="#111" >Cluster-B/R</text>
<text x="2.0" y="370.0" font-size="16.0" font-weight="bold" text-anchor="start" fill="#111" >C.</text>
<text x="23.0" y="370.0" font-size="15.1" font-weight="bold" text-anchor="start" fill="#111" >Seasonal cluster shift</text>
<text x="140.4" y="393.5" font-size="15.1" font-weight="bold" text-anchor="end" fill="#111" >Hot-humid summer</text>
<text x="137.2" y="411.5" font-size="14.8" font-weight="bold" text-anchor="end" fill="#111" >Autumn</text>
<text x="137.2" y="428.6" font-size="14.8" font-weight="bold" text-anchor="end" fill="#111" >Dry-winter</text>
<rect x="142.90" y="381.2" width="5.3" height="16.6" fill="#3d8b83"/>
<rect x="149.80" y="381.2" width="5.3" height="16.6" fill="#3d8b83"/>
<rect x="156.69" y="381.2" width="5.3" height="16.6" fill="#3d8b83"/>
<rect x="163.59" y="381.2" width="5.3" height="16.6" fill="#3d8b83"/>
<rect x="170.49" y="381.2" width="5.3" height="16.6" fill="#3d8b83"/>
<rect x="177.38" y="381.2" width="5.3" height="16.6" fill="#3d8b83"/>
<rect x="184.28" y="381.2" width="5.3" height="16.6" fill="#3d8b83"/>
<rect x="191.18" y="381.2" width="5.3" height="16.6" fill="#3d8b83"/>
<rect x="198.08" y="381.2" width="5.3" height="16.6" fill="#3d8b83"/>
<rect x="204.97" y="381.2" width="5.3" height="16.6" fill="#3d8b83"/>
<rect x="211.87" y="381.2" width="5.3" height="16.6" fill="#3d8b83"/>
<rect x="218.77" y="381.2" width="5.3" height="16.6" fill="#3d8b83"/>
<rect x="225.66" y="381.2" width="5.3" height="16.6" fill="#3d8b83"/>
<rect x="232.56" y="381.2" width="5.3" height="16.6" fill="#3d8b83"/>
<rect x="239.46" y="381.2" width="5.3" height="16.6" fill="#3d8b83"/>
<rect x="246.36" y="381.2" width="5.3" height="16.6" fill="#3d8b83"/>
<rect x="253.25" y="381.2" width="5.3" height="16.6" fill="#3d8b83"/>
<rect x="260.15" y="381.2" width="5.3" height="16.6" fill="#3d8b83"/>
<rect x="267.05" y="381.2" width="5.3" height="16.6" fill="#3d8b83"/>
<rect x="273.94" y="381.2" width="5.3" height="16.6" fill="#c8c8c8"/>
<rect x="280.84" y="381.2" width="5.3" height="16.6" fill="#3d8b83"/>
<rect x="287.74" y="381.2" width="5.3" height="16.6" fill="#3d8b83"/>
<rect x="294.63" y="381.2" width="5.3" height="16.6" fill="#3d8b83"/>
<rect x="301.53" y="381.2" width="5.3" height="16.6" fill="#3d8b83"/>
<rect x="308.43" y="381.2" width="5.3" height="16.6" fill="#3d8b83"/>
<rect x="315.33" y="381.2" width="5.3" height="16.6" fill="#3d8b83"/>
<rect x="322.22" y="381.2" width="5.3" height="16.6" fill="#3d8b83"/>
<rect x="329.12" y="381.2" width="5.3" height="16.6" fill="#aaaaaa"/>
<rect x="336.02" y="381.2" width="5.3" height="16.6" fill="#3d8b83"/>
<rect x="342.91" y="381.2" width="5.3" height="16.6" fill="#3d8b83"/>
<rect x="349.81" y="381.2" width="5.3" height="16.6" fill="#3d8b83"/>
<rect x="356.71" y="381.2" width="5.3" height="16.6" fill="#3d8b83"/>
<rect x="363.60" y="381.2" width="5.3" height="16.6" fill="#3d8b83"/>
<rect x="370.50" y="381.2" width="5.3" height="16.6" fill="#3d8b83"/>
<rect x="377.40" y="381.2" width="5.3" height="16.6" fill="#3d8b83"/>
<rect x="384.30" y="381.2" width="5.3" height="16.6" fill="#3d8b83"/>
<rect x="391.19" y="381.2" width="5.3" height="16.6" fill="#3d8b83"/>
<rect x="398.09" y="381.2" width="5.3" height="16.6" fill="#3d8b83"/>
<rect x="404.99" y="381.2" width="5.3" height="16.6" fill="#3d8b83"/>
<rect x="411.88" y="381.2" width="5.3" height="16.6" fill="#3d8b83"/>
<rect x="418.78" y="381.2" width="5.3" height="16.6" fill="#3d8b83"/>
<rect x="425.68" y="381.2" width="5.3" height="16.6" fill="#3d8b83"/>
<rect x="432.57" y="381.2" width="5.3" height="16.6" fill="#f05a26"/>
<rect x="439.47" y="381.2" width="5.3" height="16.6" fill="#f05a26"/>
<rect x="446.37" y="381.2" width="5.3" height="16.6" fill="#f05a26"/>
<rect x="453.26" y="381.2" width="5.3" height="16.6" fill="#f05a26"/>
<rect x="460.16" y="381.2" width="5.3" height="16.6" fill="#f05a26"/>
<rect x="467.06" y="381.2" width="5.3" height="16.6" fill="#f05a26"/>
<rect x="473.96" y="381.2" width="5.3" height="16.6" fill="#f05a26"/>
<rect x="480.85" y="381.2" width="5.3" height="16.6" fill="#f05a26"/>
<rect x="487.75" y="381.2" width="5.3" height="16.6" fill="#f05a26"/>
<rect x="494.65" y="381.2" width="5.3" height="16.6" fill="#f05a26"/>
<rect x="501.54" y="381.2" width="5.3" height="16.6" fill="#f05a26"/>
<rect x="508.44" y="381.2" width="5.3" height="16.6" fill="#f05a26"/>
<rect x="515.34" y="381.2" width="5.3" height="16.6" fill="#f05a26"/>
<rect x="522.24" y="381.2" width="5.3" height="16.6" fill="#f05a26"/>
<rect x="529.13" y="381.2" width="5.3" height="16.6" fill="#f05a26"/>
<rect x="536.03" y="381.2" width="5.3" height="16.6" fill="#f05a26"/>
<rect x="542.93" y="381.2" width="5.3" height="16.6" fill="#f05a26"/>
<rect x="549.82" y="381.2" width="5.3" height="16.6" fill="#f05a26"/>
<rect x="556.72" y="381.2" width="5.3" height="16.6" fill="#f05a26"/>
<rect x="563.62" y="381.2" width="5.3" height="16.6" fill="#f05a26"/>
<rect x="570.51" y="381.2" width="5.3" height="16.6" fill="#f05a26"/>
<rect x="577.41" y="381.2" width="5.3" height="16.6" fill="#f05a26"/>
<rect x="584.31" y="381.2" width="5.3" height="16.6" fill="#f05a26"/>
<rect x="591.21" y="381.2" width="5.3" height="16.6" fill="#f05a26"/>
<rect x="598.10" y="381.2" width="5.3" height="16.6" fill="#f05a26"/>
<rect x="605.00" y="381.2" width="5.3" height="16.6" fill="#f05a26"/>
<rect x="611.90" y="381.2" width="5.3" height="16.6" fill="#f05a26"/>
<rect x="618.79" y="381.2" width="5.3" height="16.6" fill="#f05a26"/>
<rect x="625.69" y="381.2" width="5.3" height="16.6" fill="#f05a26"/>
<rect x="632.59" y="381.2" width="5.3" height="16.6" fill="#f05a26"/>
<rect x="639.48" y="381.2" width="5.3" height="16.6" fill="#f05a26"/>
<rect x="646.38" y="381.2" width="5.3" height="16.6" fill="#f05a26"/>
<rect x="653.28" y="381.2" width="5.3" height="16.6" fill="#f05a26"/>
<rect x="660.17" y="381.2" width="5.3" height="16.6" fill="#f05a26"/>
<rect x="667.07" y="381.2" width="5.3" height="16.6" fill="#f05a26"/>
<rect x="673.97" y="381.2" width="5.3" height="16.6" fill="#f05a26"/>
<rect x="142.90" y="399.8" width="5.3" height="16.2" fill="#3d8b83"/>
<rect x="149.80" y="399.8" width="5.3" height="16.2" fill="#3d8b83"/>
<rect x="156.69" y="399.8" width="5.3" height="16.2" fill="#3d8b83"/>
<rect x="163.59" y="399.8" width="5.3" height="16.2" fill="#3d8b83"/>
<rect x="170.49" y="399.8" width="5.3" height="16.2" fill="#3d8b83"/>
<rect x="177.38" y="399.8" width="5.3" height="16.2" fill="#3d8b83"/>
<rect x="184.28" y="399.8" width="5.3" height="16.2" fill="#3d8b83"/>
<rect x="191.18" y="399.8" width="5.3" height="16.2" fill="#3d8b83"/>
<rect x="198.08" y="399.8" width="5.3" height="16.2" fill="#3d8b83"/>
<rect x="204.97" y="399.8" width="5.3" height="16.2" fill="#3d8b83"/>
<rect x="211.87" y="399.8" width="5.3" height="16.2" fill="#aaaaaa"/>
<rect x="218.77" y="399.8" width="5.3" height="16.2" fill="#3d8b83"/>
<rect x="225.66" y="399.8" width="5.3" height="16.2" fill="#3d8b83"/>
<rect x="232.56" y="399.8" width="5.3" height="16.2" fill="#3d8b83"/>
<rect x="239.46" y="399.8" width="5.3" height="16.2" fill="#3d8b83"/>
<rect x="246.36" y="399.8" width="5.3" height="16.2" fill="#aaaaaa"/>
<rect x="253.25" y="399.8" width="5.3" height="16.2" fill="#3d8b83"/>
<rect x="260.15" y="399.8" width="5.3" height="16.2" fill="#3d8b83"/>
<rect x="267.05" y="399.8" width="5.3" height="16.2" fill="#3d8b83"/>
<rect x="273.94" y="399.8" width="5.3" height="16.2" fill="#3d8b83"/>
<rect x="280.84" y="399.8" width="5.3" height="16.2" fill="#3d8b83"/>
<rect x="287.74" y="399.8" width="5.3" height="16.2" fill="#3d8b83"/>
<rect x="294.63" y="399.8" width="5.3" height="16.2" fill="#3d8b83"/>
<rect x="301.53" y="399.8" width="5.3" height="16.2" fill="#3d8b83"/>
<rect x="308.43" y="399.8" width="5.3" height="16.2" fill="#3d8b83"/>
<rect x="315.33" y="399.8" width="5.3" height="16.2" fill="#3d8b83"/>
<rect x="322.22" y="399.8" width="5.3" height="16.2" fill="#3d8b83"/>
<rect x="329.12" y="399.8" width="5.3" height="16.2" fill="#3d8b83"/>
<rect x="336.02" y="399.8" width="5.3" height="16.2" fill="#3d8b83"/>
<rect x="342.91" y="399.8" width="5.3" height="16.2" fill="#aaaaaa"/>
<rect x="349.81" y="399.8" width="5.3" height="16.2" fill="#3d8b83"/>
<rect x="356.71" y="399.8" width="5.3" height="16.2" fill="#3d8b83"/>
<rect x="363.60" y="399.8" width="5.3" height="16.2" fill="#c8c8c8"/>
<rect x="370.50" y="399.8" width="5.3" height="16.2" fill="#3d8b83"/>
<rect x="377.40" y="399.8" width="5.3" height="16.2" fill="#3d8b83"/>
<rect x="384.30" y="399.8" width="5.3" height="16.2" fill="#3d8b83"/>
<rect x="391.19" y="399.8" width="5.3" height="16.2" fill="#3d8b83"/>
<rect x="398.09" y="399.8" width="5.3" height="16.2" fill="#3d8b83"/>
<rect x="404.99" y="399.8" width="5.3" height="16.2" fill="#f05a26"/>
<rect x="411.88" y="399.8" width="5.3" height="16.2" fill="#f05a26"/>
<rect x="418.78" y="399.8" width="5.3" height="16.2" fill="#f05a26"/>
<rect x="425.68" y="399.8" width="5.3" height="16.2" fill="#f05a26"/>
<rect x="432.57" y="399.8" width="5.3" height="16.2" fill="#f05a26"/>
<rect x="439.47" y="399.8" width="5.3" height="16.2" fill="#f05a26"/>
<rect x="446.37" y="399.8" width="5.3" height="16.2" fill="#3d8b83"/>
<rect x="453.26" y="399.8" width="5.3" height="16.2" fill="#3d8b83"/>
<rect x="460.16" y="399.8" width="5.3" height="16.2" fill="#3d8b83"/>
<rect x="467.06" y="399.8" width="5.3" height="16.2" fill="#3d8b83"/>
<rect x="473.96" y="399.8" width="5.3" height="16.2" fill="#3d8b83"/>
<rect x="480.85" y="399.8" width="5.3" height="16.2" fill="#c8c8c8"/>
<rect x="487.75" y="399.8" width="5.3" height="16.2" fill="#f05a26"/>
<rect x="494.65" y="399.8" width="5.3" height="16.2" fill="#f05a26"/>
<rect x="501.54" y="399.8" width="5.3" height="16.2" fill="#f05a26"/>
<rect x="508.44" y="399.8" width="5.3" height="16.2" fill="#f05a26"/>
<rect x="515.34" y="399.8" width="5.3" height="16.2" fill="#aaaaaa"/>
<rect x="522.24" y="399.8" width="5.3" height="16.2" fill="#f05a26"/>
<rect x="529.13" y="399.8" width="5.3" height="16.2" fill="#f05a26"/>
<rect x="536.03" y="399.8" width="5.3" height="16.2" fill="#f05a26"/>
<rect x="542.93" y="399.8" width="5.3" height="16.2" fill="#f05a26"/>
<rect x="549.82" y="399.8" width="5.3" height="16.2" fill="#f05a26"/>
<rect x="556.72" y="399.8" width="5.3" height="16.2" fill="#f05a26"/>
<rect x="563.62" y="399.8" width="5.3" height="16.2" fill="#f05a26"/>
<rect x="570.51" y="399.8" width="5.3" height="16.2" fill="#f05a26"/>
<rect x="577.41" y="399.8" width="5.3" height="16.2" fill="#f05a26"/>
<rect x="584.31" y="399.8" width="5.3" height="16.2" fill="#aaaaaa"/>
<rect x="591.21" y="399.8" width="5.3" height="16.2" fill="#f05a26"/>
<rect x="598.10" y="399.8" width="5.3" height="16.2" fill="#f05a26"/>
<rect x="605.00" y="399.8" width="5.3" height="16.2" fill="#f05a26"/>
<rect x="611.90" y="399.8" width="5.3" height="16.2" fill="#f05a26"/>
<rect x="618.79" y="399.8" width="5.3" height="16.2" fill="#f05a26"/>
<rect x="625.69" y="399.8" width="5.3" height="16.2" fill="#f05a26"/>
<rect x="632.59" y="399.8" width="5.3" height="16.2" fill="#f05a26"/>
<rect x="639.48" y="399.8" width="5.3" height="16.2" fill="#f05a26"/>
<rect x="646.38" y="399.8" width="5.3" height="16.2" fill="#f05a26"/>
<rect x="653.28" y="399.8" width="5.3" height="16.2" fill="#aaaaaa"/>
<rect x="660.17" y="399.8" width="5.3" height="16.2" fill="#f05a26"/>
<rect x="667.07" y="399.8" width="5.3" height="16.2" fill="#f05a26"/>
<rect x="673.97" y="399.8" width="5.3" height="16.2" fill="#f05a26"/>
<rect x="142.90" y="417.9" width="5.3" height="13.9" fill="#3d8b83"/>
<rect x="149.80" y="417.9" width="5.3" height="13.9" fill="#3d8b83"/>
<rect x="156.69" y="417.9" width="5.3" height="13.9" fill="#3d8b83"/>
<rect x="163.59" y="417.9" width="5.3" height="13.9" fill="#3d8b83"/>
<rect x="170.49" y="417.9" width="5.3" height="13.9" fill="#3d8b83"/>
<rect x="177.38" y="417.9" width="5.3" height="13.9" fill="#3d8b83"/>
<rect x="184.28" y="417.9" width="5.3" height="13.9" fill="#3d8b83"/>
<rect x="191.18" y="417.9" width="5.3" height="13.9" fill="#3d8b83"/>
<rect x="198.08" y="417.9" width="5.3" height="13.9" fill="#3d8b83"/>
<rect x="204.97" y="417.9" width="5.3" height="13.9" fill="#3d8b83"/>
<rect x="211.87" y="417.9" width="5.3" height="13.9" fill="#aaaaaa"/>
<rect x="218.77" y="417.9" width="5.3" height="13.9" fill="#3d8b83"/>
<rect x="225.66" y="417.9" width="5.3" height="13.9" fill="#3d8b83"/>
<rect x="232.56" y="417.9" width="5.3" height="13.9" fill="#3d8b83"/>
<rect x="239.46" y="417.9" width="5.3" height="13.9" fill="#3d8b83"/>
<rect x="246.36" y="417.9" width="5.3" height="13.9" fill="#aaaaaa"/>
<rect x="253.25" y="417.9" width="5.3" height="13.9" fill="#3d8b83"/>
<rect x="260.15" y="417.9" width="5.3" height="13.9" fill="#3d8b83"/>
<rect x="267.05" y="417.9" width="5.3" height="13.9" fill="#3d8b83"/>
<rect x="273.94" y="417.9" width="5.3" height="13.9" fill="#3d8b83"/>
<rect x="280.84" y="417.9" width="5.3" height="13.9" fill="#3d8b83"/>
<rect x="287.74" y="417.9" width="5.3" height="13.9" fill="#3d8b83"/>
<rect x="294.63" y="417.9" width="5.3" height="13.9" fill="#3d8b83"/>
<rect x="301.53" y="417.9" width="5.3" height="13.9" fill="#3d8b83"/>
<rect x="308.43" y="417.9" width="5.3" height="13.9" fill="#3d8b83"/>
<rect x="315.33" y="417.9" width="5.3" height="13.9" fill="#3d8b83"/>
<rect x="322.22" y="417.9" width="5.3" height="13.9" fill="#3d8b83"/>
<rect x="329.12" y="417.9" width="5.3" height="13.9" fill="#3d8b83"/>
<rect x="336.02" y="417.9" width="5.3" height="13.9" fill="#aaaaaa"/>
<rect x="342.91" y="417.9" width="5.3" height="13.9" fill="#3d8b83"/>
<rect x="349.81" y="417.9" width="5.3" height="13.9" fill="#3d8b83"/>
<rect x="356.71" y="417.9" width="5.3" height="13.9" fill="#3d8b83"/>
<rect x="363.60" y="417.9" width="5.3" height="13.9" fill="#c8c8c8"/>
<rect x="370.50" y="417.9" width="5.3" height="13.9" fill="#f05a26"/>
<rect x="377.40" y="417.9" width="5.3" height="13.9" fill="#f05a26"/>
<rect x="384.30" y="417.9" width="5.3" height="13.9" fill="#f05a26"/>
<rect x="391.19" y="417.9" width="5.3" height="13.9" fill="#f05a26"/>
<rect x="398.09" y="417.9" width="5.3" height="13.9" fill="#f05a26"/>
<rect x="404.99" y="417.9" width="5.3" height="13.9" fill="#f05a26"/>
<rect x="411.88" y="417.9" width="5.3" height="13.9" fill="#f05a26"/>
<rect x="418.78" y="417.9" width="5.3" height="13.9" fill="#f05a26"/>
<rect x="425.68" y="417.9" width="5.3" height="13.9" fill="#3d8b83"/>
<rect x="432.57" y="417.9" width="5.3" height="13.9" fill="#3d8b83"/>
<rect x="439.47" y="417.9" width="5.3" height="13.9" fill="#3d8b83"/>
<rect x="446.37" y="417.9" width="5.3" height="13.9" fill="#3d8b83"/>
<rect x="453.26" y="417.9" width="5.3" height="13.9" fill="#3d8b83"/>
<rect x="460.16" y="417.9" width="5.3" height="13.9" fill="#3d8b83"/>
<rect x="467.06" y="417.9" width="5.3" height="13.9" fill="#3d8b83"/>
<rect x="473.96" y="417.9" width="5.3" height="13.9" fill="#3d8b83"/>
<rect x="480.85" y="417.9" width="5.3" height="13.9" fill="#3d8b83"/>
<rect x="487.75" y="417.9" width="5.3" height="13.9" fill="#f05a26"/>
<rect x="494.65" y="417.9" width="5.3" height="13.9" fill="#f05a26"/>
<rect x="501.54" y="417.9" width="5.3" height="13.9" fill="#f05a26"/>
<rect x="508.44" y="417.9" width="5.3" height="13.9" fill="#f05a26"/>
<rect x="515.34" y="417.9" width="5.3" height="13.9" fill="#aaaaaa"/>
<rect x="522.24" y="417.9" width="5.3" height="13.9" fill="#f05a26"/>
<rect x="529.13" y="417.9" width="5.3" height="13.9" fill="#f05a26"/>
<rect x="536.03" y="417.9" width="5.3" height="13.9" fill="#aaaaaa"/>
<rect x="542.93" y="417.9" width="5.3" height="13.9" fill="#f05a26"/>
<rect x="549.82" y="417.9" width="5.3" height="13.9" fill="#f05a26"/>
<rect x="556.72" y="417.9" width="5.3" height="13.9" fill="#f05a26"/>
<rect x="563.62" y="417.9" width="5.3" height="13.9" fill="#f05a26"/>
<rect x="570.51" y="417.9" width="5.3" height="13.9" fill="#f05a26"/>
<rect x="577.41" y="417.9" width="5.3" height="13.9" fill="#f05a26"/>
<rect x="584.31" y="417.9" width="5.3" height="13.9" fill="#aaaaaa"/>
<rect x="591.21" y="417.9" width="5.3" height="13.9" fill="#f05a26"/>
<rect x="598.10" y="417.9" width="5.3" height="13.9" fill="#f05a26"/>
<rect x="605.00" y="417.9" width="5.3" height="13.9" fill="#aaaaaa"/>
<rect x="611.90" y="417.9" width="5.3" height="13.9" fill="#f05a26"/>
<rect x="618.79" y="417.9" width="5.3" height="13.9" fill="#f05a26"/>
<rect x="625.69" y="417.9" width="5.3" height="13.9" fill="#aaaaaa"/>
<rect x="632.59" y="417.9" width="5.3" height="13.9" fill="#f05a26"/>
<rect x="639.48" y="417.9" width="5.3" height="13.9" fill="#f05a26"/>
<rect x="646.38" y="417.9" width="5.3" height="13.9" fill="#f05a26"/>
<rect x="653.28" y="417.9" width="5.3" height="13.9" fill="#aaaaaa"/>
<rect x="660.17" y="417.9" width="5.3" height="13.9" fill="#f05a26"/>
<rect x="667.07" y="417.9" width="5.3" height="13.9" fill="#f05a26"/>
<rect x="673.97" y="417.9" width="5.3" height="13.9" fill="#f05a26"/>
<rect x="150.5" y="456.9" width="7.5" height="12.1" fill="#3d8b83"/>
<text x="161.7" y="467.9" font-size="15.1" font-weight="bold" text-anchor="start" fill="#111" >Cluster-P</text>
<rect x="247.1" y="456.9" width="7.8" height="12.1" fill="#f05a26"/>
<text x="259.2" y="467.9" font-size="15.1" font-weight="bold" text-anchor="start" fill="#111" >Cluster-B/R</text>
<rect x="357.1" y="457.2" width="6.9" height="11.9" fill="#aaaaaa"/>
<text x="369.0" y="467.9" font-size="15.1" font-weight="bold" text-anchor="start" fill="#111" >No sampling</text>
<text x="1.0" y="511.1" font-size="15.1" font-weight="bold" text-anchor="start" fill="#111" >D. Bacterial load</text>
<line x1="44.7" y1="535.0" x2="44.7" y2="703.8" stroke="#aaa" stroke-width="1.1"/>
<line x1="40.7" y1="535.0" x2="44.7" y2="535.0" stroke="#aaa" stroke-width="1.1"/>
<text x="38.9" y="539.0" font-size="10.9" font-weight="normal" text-anchor="end" fill="#222" >13</text>
<line x1="40.7" y1="577.2" x2="44.7" y2="577.2" stroke="#aaa" stroke-width="1.1"/>
<text x="38.9" y="581.2" font-size="10.9" font-weight="normal" text-anchor="end" fill="#222" >12</text>
<line x1="40.7" y1="619.4" x2="44.7" y2="619.4" stroke="#aaa" stroke-width="1.1"/>
<text x="38.9" y="623.4" font-size="10.9" font-weight="normal" text-anchor="end" fill="#222" >11</text>
<line x1="40.7" y1="661.6" x2="44.7" y2="661.6" stroke="#aaa" stroke-width="1.1"/>
<text x="38.9" y="665.6" font-size="10.9" font-weight="normal" text-anchor="end" fill="#222" >10</text>
<line x1="40.7" y1="703.8" x2="44.7" y2="703.8" stroke="#aaa" stroke-width="1.1"/>
<text x="38.9" y="707.8" font-size="10.9" font-weight="normal" text-anchor="end" fill="#222" >9</text>
<text transform="translate(21.5,619.6) rotate(-90)" x="0" y="0" font-size="13.6" font-weight="bold" text-anchor="middle" fill="#111">Log 10 gene copies/g</text>
<text x="60.0" y="556.0" font-size="11.6" font-weight="bold" fill="#111">P = 2.16 x 10<tspan dy="-4.3" font-size="8.6">-6</tspan></text>
<line x1="77.4" y1="564.6" x2="109.2" y2="564.6" stroke="#9a9a9a" stroke-width="1.6" stroke-dasharray="4.2,2.8"/>
<polyline points="80.4,561.2 76.4,564.6 80.4,568.0" fill="none" stroke="#9a9a9a" stroke-width="1.6" stroke-linejoin="round"/>
<polyline points="106.2,561.2 110.2,564.6 106.2,568.0" fill="none" stroke="#9a9a9a" stroke-width="1.6" stroke-linejoin="round"/>
<line x1="70.3" y1="574.6" x2="70.3" y2="676.2" stroke="#666" stroke-width="0.8" stroke-dasharray="1.2,1.2"/>
<line x1="61.6" y1="574.6" x2="79.1" y2="574.6" stroke="#777" stroke-width="1"/>
<line x1="61.6" y1="676.2" x2="79.1" y2="676.2" stroke="#777" stroke-width="1"/>
<rect x="52.7" y="613.3" width="35.3" height="27.6" fill="#3f8f84" stroke="#333" stroke-width="0.9"/>
<line x1="52.7" y1="625.2" x2="88.0" y2="625.2" stroke="#111" stroke-width="1.8"/>
<circle cx="73.6" cy="651.5" r="1.5" fill="none" stroke="#2a2a2a" stroke-width="0.55"/>
<circle cx="73.0" cy="654.8" r="1.5" fill="none" stroke="#2a2a2a" stroke-width="0.55"/>
<circle cx="73.0" cy="626.6" r="1.5" fill="none" stroke="#2a2a2a" stroke-width="0.55"/>
<circle cx="73.2" cy="609.6" r="1.5" fill="none" stroke="#2a2a2a" stroke-width="0.55"/>
<circle cx="68.1" cy="602.9" r="1.5" fill="none" stroke="#2a2a2a" stroke-width="0.55"/>
<circle cx="73.4" cy="625.8" r="1.5" fill="none" stroke="#2a2a2a" stroke-width="0.55"/>
<circle cx="71.9" cy="604.3" r="1.5" fill="none" stroke="#2a2a2a" stroke-width="0.55"/>
<circle cx="66.6" cy="595.8" r="1.5" fill="none" stroke="#2a2a2a" stroke-width="0.55"/>
<circle cx="66.0" cy="629.3" r="1.5" fill="none" stroke="#2a2a2a" stroke-width="0.55"/>
<circle cx="66.0" cy="627.9" r="1.5" fill="none" stroke="#2a2a2a" stroke-width="0.55"/>
<circle cx="72.7" cy="636.4" r="1.5" fill="none" stroke="#2a2a2a" stroke-width="0.55"/>
<circle cx="68.1" cy="606.5" r="1.5" fill="none" stroke="#2a2a2a" stroke-width="0.55"/>
<circle cx="66.8" cy="625.3" r="1.5" fill="none" stroke="#2a2a2a" stroke-width="0.55"/>
<circle cx="71.5" cy="623.9" r="1.5" fill="none" stroke="#2a2a2a" stroke-width="0.55"/>
<circle cx="68.9" cy="594.4" r="1.5" fill="none" stroke="#2a2a2a" stroke-width="0.55"/>
<circle cx="66.5" cy="636.2" r="1.5" fill="none" stroke="#2a2a2a" stroke-width="0.55"/>
<circle cx="67.3" cy="631.8" r="1.5" fill="none" stroke="#2a2a2a" stroke-width="0.55"/>
<circle cx="70.6" cy="674.0" r="1.5" fill="none" stroke="#2a2a2a" stroke-width="0.55"/>
<circle cx="67.4" cy="629.3" r="1.5" fill="none" stroke="#2a2a2a" stroke-width="0.55"/>
<circle cx="68.3" cy="622.2" r="1.5" fill="none" stroke="#2a2a2a" stroke-width="0.55"/>
<circle cx="72.3" cy="650.4" r="1.5" fill="none" stroke="#2a2a2a" stroke-width="0.55"/>
<circle cx="69.9" cy="629.3" r="1.5" fill="none" stroke="#2a2a2a" stroke-width="0.55"/>
<circle cx="68.7" cy="643.8" r="1.5" fill="none" stroke="#2a2a2a" stroke-width="0.55"/>
<circle cx="70.1" cy="617.7" r="1.5" fill="none" stroke="#2a2a2a" stroke-width="0.55"/>
<circle cx="66.1" cy="629.7" r="1.5" fill="none" stroke="#2a2a2a" stroke-width="0.55"/>
<circle cx="69.3" cy="646.1" r="1.5" fill="none" stroke="#2a2a2a" stroke-width="0.55"/>
<circle cx="69.6" cy="639.4" r="1.5" fill="none" stroke="#2a2a2a" stroke-width="0.55"/>
<circle cx="67.5" cy="627.8" r="1.5" fill="none" stroke="#2a2a2a" stroke-width="0.55"/>
<circle cx="66.8" cy="603.1" r="1.5" fill="none" stroke="#2a2a2a" stroke-width="0.55"/>
<circle cx="73.9" cy="634.3" r="1.5" fill="none" stroke="#2a2a2a" stroke-width="0.55"/>
<circle cx="70.4" cy="626.8" r="1.5" fill="none" stroke="#2a2a2a" stroke-width="0.55"/>
<circle cx="67.7" cy="639.9" r="1.5" fill="none" stroke="#2a2a2a" stroke-width="0.55"/>
<circle cx="71.3" cy="629.6" r="1.5" fill="none" stroke="#2a2a2a" stroke-width="0.55"/>
<circle cx="73.2" cy="647.4" r="1.5" fill="none" stroke="#2a2a2a" stroke-width="0.55"/>
<circle cx="66.0" cy="624.1" r="1.5" fill="none" stroke="#2a2a2a" stroke-width="0.55"/>
<circle cx="66.0" cy="629.3" r="1.5" fill="none" stroke="#2a2a2a" stroke-width="0.55"/>
<circle cx="67.2" cy="638.8" r="1.5" fill="none" stroke="#2a2a2a" stroke-width="0.55"/>
<circle cx="72.3" cy="603.0" r="1.5" fill="none" stroke="#2a2a2a" stroke-width="0.55"/>
<circle cx="67.3" cy="617.0" r="1.5" fill="none" stroke="#2a2a2a" stroke-width="0.55"/>
<circle cx="72.2" cy="615.0" r="1.5" fill="none" stroke="#2a2a2a" stroke-width="0.55"/>
<circle cx="72.0" cy="665.7" r="1.5" fill="none" stroke="#2a2a2a" stroke-width="0.55"/>
<circle cx="70.8" cy="623.3" r="1.5" fill="none" stroke="#2a2a2a" stroke-width="0.55"/>
<circle cx="67.8" cy="638.5" r="1.5" fill="none" stroke="#2a2a2a" stroke-width="0.55"/>
<circle cx="74.6" cy="637.9" r="1.5" fill="none" stroke="#2a2a2a" stroke-width="0.55"/>
<circle cx="73.0" cy="619.5" r="1.5" fill="none" stroke="#2a2a2a" stroke-width="0.55"/>
<circle cx="70.5" cy="593.5" r="1.5" fill="none" stroke="#2a2a2a" stroke-width="0.55"/>
<circle cx="67.9" cy="644.9" r="1.5" fill="none" stroke="#2a2a2a" stroke-width="0.55"/>
<circle cx="71.7" cy="616.9" r="1.5" fill="none" stroke="#2a2a2a" stroke-width="0.55"/>
<circle cx="69.4" cy="639.9" r="1.5" fill="none" stroke="#2a2a2a" stroke-width="0.55"/>
<circle cx="71.0" cy="598.5" r="1.5" fill="none" stroke="#2a2a2a" stroke-width="0.55"/>
<circle cx="68.7" cy="616.2" r="1.5" fill="none" stroke="#2a2a2a" stroke-width="0.55"/>
<circle cx="71.5" cy="650.9" r="1.5" fill="none" stroke="#2a2a2a" stroke-width="0.55"/>
<circle cx="66.4" cy="654.5" r="1.5" fill="none" stroke="#2a2a2a" stroke-width="0.55"/>
<circle cx="68.5" cy="598.6" r="1.5" fill="none" stroke="#2a2a2a" stroke-width="0.55"/>
<circle cx="74.6" cy="598.0" r="1.5" fill="none" stroke="#2a2a2a" stroke-width="0.55"/>
<circle cx="73.7" cy="624.3" r="1.5" fill="none" stroke="#2a2a2a" stroke-width="0.55"/>
<circle cx="68.6" cy="640.1" r="1.5" fill="none" stroke="#2a2a2a" stroke-width="0.55"/>
<circle cx="73.6" cy="628.5" r="1.5" fill="none" stroke="#2a2a2a" stroke-width="0.55"/>
<circle cx="68.6" cy="631.4" r="1.5" fill="none" stroke="#2a2a2a" stroke-width="0.55"/>
<circle cx="74.3" cy="605.0" r="1.5" fill="none" stroke="#2a2a2a" stroke-width="0.55"/>
<circle cx="72.5" cy="637.2" r="1.5" fill="none" stroke="#2a2a2a" stroke-width="0.55"/>
<circle cx="69.6" cy="648.0" r="1.5" fill="none" stroke="#2a2a2a" stroke-width="0.55"/>
<circle cx="68.1" cy="616.3" r="1.5" fill="none" stroke="#2a2a2a" stroke-width="0.55"/>
<circle cx="65.9" cy="595.9" r="1.5" fill="none" stroke="#2a2a2a" stroke-width="0.55"/>
<circle cx="73.8" cy="609.7" r="1.5" fill="none" stroke="#2a2a2a" stroke-width="0.55"/>
<circle cx="66.2" cy="640.8" r="1.5" fill="none" stroke="#2a2a2a" stroke-width="0.55"/>
<circle cx="73.2" cy="589.8" r="1.5" fill="none" stroke="#2a2a2a" stroke-width="0.55"/>
<circle cx="74.5" cy="623.3" r="1.5" fill="none" stroke="#2a2a2a" stroke-width="0.55"/>
<circle cx="71.0" cy="604.9" r="1.5" fill="none" stroke="#2a2a2a" stroke-width="0.55"/>
<circle cx="67.4" cy="622.5" r="1.5" fill="none" stroke="#2a2a2a" stroke-width="0.55"/>
<circle cx="73.7" cy="620.2" r="1.5" fill="none" stroke="#2a2a2a" stroke-width="0.55"/>
<circle cx="74.6" cy="625.5" r="1.5" fill="none" stroke="#2a2a2a" stroke-width="0.55"/>
<circle cx="72.2" cy="655.9" r="1.5" fill="none" stroke="#2a2a2a" stroke-width="0.55"/>
<circle cx="70.4" cy="633.8" r="1.5" fill="none" stroke="#2a2a2a" stroke-width="0.55"/>
<circle cx="69.3" cy="652.5" r="1.5" fill="none" stroke="#2a2a2a" stroke-width="0.55"/>
<circle cx="69.0" cy="622.3" r="1.5" fill="none" stroke="#2a2a2a" stroke-width="0.55"/>
<circle cx="67.7" cy="615.4" r="1.5" fill="none" stroke="#2a2a2a" stroke-width="0.55"/>
<circle cx="71.9" cy="632.9" r="1.5" fill="none" stroke="#2a2a2a" stroke-width="0.55"/>
<circle cx="69.7" cy="624.4" r="1.5" fill="none" stroke="#2a2a2a" stroke-width="0.55"/>
<circle cx="67.6" cy="628.5" r="1.5" fill="none" stroke="#2a2a2a" stroke-width="0.55"/>
<circle cx="66.8" cy="599.9" r="1.5" fill="none" stroke="#2a2a2a" stroke-width="0.55"/>
<circle cx="71.8" cy="634.7" r="1.5" fill="none" stroke="#2a2a2a" stroke-width="0.55"/>
<circle cx="68.5" cy="613.8" r="1.5" fill="none" stroke="#2a2a2a" stroke-width="0.55"/>
<circle cx="70.3" cy="574.9" r="1.5" fill="none" stroke="#2a2a2a" stroke-width="0.55"/>
<circle cx="68.8" cy="620.8" r="1.5" fill="none" stroke="#2a2a2a" stroke-width="0.55"/>
<circle cx="73.7" cy="605.2" r="1.5" fill="none" stroke="#2a2a2a" stroke-width="0.55"/>
<circle cx="73.9" cy="614.6" r="1.5" fill="none" stroke="#2a2a2a" stroke-width="0.55"/>
<circle cx="66.0" cy="622.1" r="1.5" fill="none" stroke="#2a2a2a" stroke-width="0.55"/>
<circle cx="67.7" cy="650.8" r="1.5" fill="none" stroke="#2a2a2a" stroke-width="0.55"/>
<circle cx="68.8" cy="627.3" r="1.5" fill="none" stroke="#2a2a2a" stroke-width="0.55"/>
<circle cx="74.7" cy="624.6" r="1.5" fill="none" stroke="#2a2a2a" stroke-width="0.55"/>
<circle cx="72.9" cy="633.2" r="1.5" fill="none" stroke="#2a2a2a" stroke-width="0.55"/>
<circle cx="68.9" cy="588.2" r="1.5" fill="none" stroke="#2a2a2a" stroke-width="0.55"/>
<circle cx="67.8" cy="650.6" r="1.5" fill="none" stroke="#2a2a2a" stroke-width="0.55"/>
<circle cx="71.9" cy="603.2" r="1.5" fill="none" stroke="#2a2a2a" stroke-width="0.55"/>
<circle cx="73.4" cy="634.2" r="1.5" fill="none" stroke="#2a2a2a" stroke-width="0.55"/>
<circle cx="74.2" cy="602.2" r="1.5" fill="none" stroke="#2a2a2a" stroke-width="0.55"/>
<circle cx="68.9" cy="605.2" r="1.5" fill="none" stroke="#2a2a2a" stroke-width="0.55"/>
<circle cx="73.8" cy="617.1" r="1.5" fill="none" stroke="#2a2a2a" stroke-width="0.55"/>
<circle cx="72.0" cy="664.0" r="1.5" fill="none" stroke="#2a2a2a" stroke-width="0.55"/>
<circle cx="70.2" cy="639.5" r="1.5" fill="none" stroke="#2a2a2a" stroke-width="0.55"/>
<circle cx="74.7" cy="612.8" r="1.5" fill="none" stroke="#2a2a2a" stroke-width="0.55"/>
<circle cx="68.0" cy="619.4" r="1.5" fill="none" stroke="#2a2a2a" stroke-width="0.55"/>
<circle cx="72.4" cy="601.7" r="1.5" fill="none" stroke="#2a2a2a" stroke-width="0.55"/>
<circle cx="66.6" cy="624.5" r="1.5" fill="none" stroke="#2a2a2a" stroke-width="0.55"/>
<circle cx="67.4" cy="613.5" r="1.5" fill="none" stroke="#2a2a2a" stroke-width="0.55"/>
<circle cx="74.0" cy="640.0" r="1.5" fill="none" stroke="#2a2a2a" stroke-width="0.55"/>
<circle cx="67.8" cy="597.5" r="1.5" fill="none" stroke="#2a2a2a" stroke-width="0.55"/>
<circle cx="72.7" cy="618.4" r="1.5" fill="none" stroke="#2a2a2a" stroke-width="0.55"/>
<circle cx="71.3" cy="608.0" r="1.5" fill="none" stroke="#2a2a2a" stroke-width="0.55"/>
<circle cx="73.4" cy="610.5" r="1.5" fill="none" stroke="#2a2a2a" stroke-width="0.55"/>
<circle cx="69.2" cy="639.7" r="1.5" fill="none" stroke="#2a2a2a" stroke-width="0.55"/>
<circle cx="68.9" cy="627.8" r="1.5" fill="none" stroke="#2a2a2a" stroke-width="0.55"/>
<circle cx="68.5" cy="637.2" r="1.5" fill="none" stroke="#2a2a2a" stroke-width="0.55"/>
<circle cx="73.7" cy="649.5" r="1.5" fill="none" stroke="#2a2a2a" stroke-width="0.55"/>
<line x1="114.2" y1="593.0" x2="114.2" y2="684.4" stroke="#666" stroke-width="0.8" stroke-dasharray="1.2,1.2"/>
<line x1="105.5" y1="593.0" x2="122.9" y2="593.0" stroke="#777" stroke-width="1"/>
<line x1="105.5" y1="684.4" x2="122.9" y2="684.4" stroke="#777" stroke-width="1"/>
<rect x="96.8" y="625.5" width="34.7" height="29.1" fill="#ff4a12" stroke="#333" stroke-width="0.9"/>
<line x1="96.8" y1="642.4" x2="131.5" y2="642.4" stroke="#111" stroke-width="1.8"/>
<circle cx="109.2" cy="628.1" r="1.5" fill="none" stroke="#2a2a2a" stroke-width="0.55"/>
<circle cx="116.7" cy="650.9" r="1.5" fill="none" stroke="#2a2a2a" stroke-width="0.55"/>
<circle cx="107.9" cy="645.6" r="1.5" fill="none" stroke="#2a2a2a" stroke-width="0.55"/>
<circle cx="121.0" cy="660.4" r="1.5" fill="none" stroke="#2a2a2a" stroke-width="0.55"/>
<circle cx="107.0" cy="612.2" r="1.5" fill="none" stroke="#2a2a2a" stroke-width="0.55"/>
<circle cx="117.6" cy="633.5" r="1.5" fill="none" stroke="#2a2a2a" stroke-width="0.55"/>
<circle cx="107.0" cy="626.2" r="1.5" fill="none" stroke="#2a2a2a" stroke-width="0.55"/>
<circle cx="110.5" cy="619.2" r="1.5" fill="none" stroke="#2a2a2a" stroke-width="0.55"/>
<circle cx="118.9" cy="624.2" r="1.5" fill="none" stroke="#2a2a2a" stroke-width="0.55"/>
<circle cx="109.0" cy="631.4" r="1.5" fill="none" stroke="#2a2a2a" stroke-width="0.55"/>
<circle cx="109.4" cy="636.2" r="1.5" fill="none" stroke="#2a2a2a" stroke-width="0.55"/>
<circle cx="117.0" cy="622.9" r="1.5" fill="none" stroke="#2a2a2a" stroke-width="0.55"/>
<circle cx="112.4" cy="651.5" r="1.5" fill="none" stroke="#2a2a2a" stroke-width="0.55"/>
<circle cx="107.3" cy="630.6" r="1.5" fill="none" stroke="#2a2a2a" stroke-width="0.55"/>
<circle cx="121.5" cy="668.1" r="1.5" fill="none" stroke="#2a2a2a" stroke-width="0.55"/>
<circle cx="108.9" cy="634.0" r="1.5" fill="none" stroke="#2a2a2a" stroke-width="0.55"/>
<circle cx="107.2" cy="626.4" r="1.5" fill="none" stroke="#2a2a2a" stroke-width="0.55"/>
<circle cx="111.8" cy="648.2" r="1.5" fill="none" stroke="#2a2a2a" stroke-width="0.55"/>
<circle cx="115.9" cy="647.4" r="1.5" fill="none" stroke="#2a2a2a" stroke-width="0.55"/>
<circle cx="117.8" cy="643.5" r="1.5" fill="none" stroke="#2a2a2a" stroke-width="0.55"/>
<circle cx="108.3" cy="624.0" r="1.5" fill="none" stroke="#2a2a2a" stroke-width="0.55"/>
<circle cx="111.7" cy="646.5" r="1.5" fill="none" stroke="#2a2a2a" stroke-width="0.55"/>
<circle cx="107.1" cy="609.3" r="1.5" fill="none" stroke="#2a2a2a" stroke-width="0.55"/>
<circle cx="113.4" cy="673.5" r="1.5" fill="none" stroke="#2a2a2a" stroke-width="0.55"/>
<circle cx="118.1" cy="615.1" r="1.5" fill="none" stroke="#2a2a2a" stroke-width="0.55"/>
<circle cx="117.7" cy="637.9" r="1.5" fill="none" stroke="#2a2a2a" stroke-width="0.55"/>
<circle cx="120.2" cy="642.8" r="1.5" fill="none" stroke="#2a2a2a" stroke-width="0.55"/>
<circle cx="118.0" cy="647.1" r="1.5" fill="none" stroke="#2a2a2a" stroke-width="0.55"/>
<circle cx="119.6" cy="637.1" r="1.5" fill="none" stroke="#2a2a2a" stroke-width="0.55"/>
<circle cx="117.2" cy="652.8" r="1.5" fill="none" stroke="#2a2a2a" stroke-width="0.55"/>
<circle cx="113.7" cy="637.4" r="1.5" fill="none" stroke="#2a2a2a" stroke-width="0.55"/>
<circle cx="110.0" cy="636.2" r="1.5" fill="none" stroke="#2a2a2a" stroke-width="0.55"/>
<circle cx="116.6" cy="630.3" r="1.5" fill="none" stroke="#2a2a2a" stroke-width="0.55"/>
<circle cx="111.4" cy="672.6" r="1.5" fill="none" stroke="#2a2a2a" stroke-width="0.55"/>
<circle cx="108.2" cy="618.5" r="1.5" fill="none" stroke="#2a2a2a" stroke-width="0.55"/>
<circle cx="113.4" cy="637.8" r="1.5" fill="none" stroke="#2a2a2a" stroke-width="0.55"/>
<circle cx="119.8" cy="595.7" r="1.5" fill="none" stroke="#2a2a2a" stroke-width="0.55"/>
<circle cx="108.6" cy="645.5" r="1.5" fill="none" stroke="#2a2a2a" stroke-width="0.55"/>
<circle cx="115.4" cy="604.5" r="1.5" fill="none" stroke="#2a2a2a" stroke-width="0.55"/>
<circle cx="112.5" cy="605.6" r="1.5" fill="none" stroke="#2a2a2a" stroke-width="0.55"/>
<circle cx="114.4" cy="654.8" r="1.5" fill="none" stroke="#2a2a2a" stroke-width="0.55"/>
<circle cx="108.8" cy="639.4" r="1.5" fill="none" stroke="#2a2a2a" stroke-width="0.55"/>
<circle cx="121.0" cy="643.3" r="1.5" fill="none" stroke="#2a2a2a" stroke-width="0.55"/>
<circle cx="110.5" cy="608.2" r="1.5" fill="none" stroke="#2a2a2a" stroke-width="0.55"/>
<circle cx="115.7" cy="616.7" r="1.5" fill="none" stroke="#2a2a2a" stroke-width="0.55"/>
<circle cx="112.9" cy="648.8" r="1.5" fill="none" stroke="#2a2a2a" stroke-width="0.55"/>
<circle cx="106.9" cy="593.5" r="1.5" fill="none" stroke="#2a2a2a" stroke-width="0.55"/>
<circle cx="115.0" cy="645.5" r="1.5" fill="none" stroke="#2a2a2a" stroke-width="0.55"/>
<circle cx="108.8" cy="601.7" r="1.5" fill="none" stroke="#2a2a2a" stroke-width="0.55"/>
<circle cx="107.5" cy="642.2" r="1.5" fill="none" stroke="#2a2a2a" stroke-width="0.55"/>
<circle cx="107.2" cy="615.3" r="1.5" fill="none" stroke="#2a2a2a" stroke-width="0.55"/>
<circle cx="109.1" cy="677.9" r="1.5" fill="none" stroke="#2a2a2a" stroke-width="0.55"/>
<circle cx="108.1" cy="661.8" r="1.5" fill="none" stroke="#2a2a2a" stroke-width="0.55"/>
<circle cx="116.2" cy="628.3" r="1.5" fill="none" stroke="#2a2a2a" stroke-width="0.55"/>
<circle cx="114.3" cy="598.2" r="1.5" fill="none" stroke="#2a2a2a" stroke-width="0.55"/>
<circle cx="121.4" cy="622.4" r="1.5" fill="none" stroke="#2a2a2a" stroke-width="0.55"/>
<circle cx="120.7" cy="638.3" r="1.5" fill="none" stroke="#2a2a2a" stroke-width="0.55"/>
<circle cx="121.6" cy="617.8" r="1.5" fill="none" stroke="#2a2a2a" stroke-width="0.55"/>
<circle cx="110.1" cy="645.8" r="1.5" fill="none" stroke="#2a2a2a" stroke-width="0.55"/>
<circle cx="113.3" cy="661.2" r="1.5" fill="none" stroke="#2a2a2a" stroke-width="0.55"/>
<circle cx="110.4" cy="638.4" r="1.5" fill="none" stroke="#2a2a2a" stroke-width="0.55"/>
<circle cx="115.5" cy="630.1" r="1.5" fill="none" stroke="#2a2a2a" stroke-width="0.55"/>
<circle cx="116.0" cy="656.7" r="1.5" fill="none" stroke="#2a2a2a" stroke-width="0.55"/>
<circle cx="118.7" cy="633.1" r="1.5" fill="none" stroke="#2a2a2a" stroke-width="0.55"/>
<circle cx="117.3" cy="658.2" r="1.5" fill="none" stroke="#2a2a2a" stroke-width="0.55"/>
<circle cx="110.5" cy="632.6" r="1.5" fill="none" stroke="#2a2a2a" stroke-width="0.55"/>
<circle cx="113.0" cy="674.9" r="1.5" fill="none" stroke="#2a2a2a" stroke-width="0.55"/>
<circle cx="114.5" cy="633.5" r="1.5" fill="none" stroke="#2a2a2a" stroke-width="0.55"/>
<circle cx="106.7" cy="616.4" r="1.5" fill="none" stroke="#2a2a2a" stroke-width="0.55"/>
<circle cx="107.2" cy="641.7" r="1.5" fill="none" stroke="#2a2a2a" stroke-width="0.55"/>
<circle cx="112.8" cy="625.7" r="1.5" fill="none" stroke="#2a2a2a" stroke-width="0.55"/>
<circle cx="108.3" cy="619.0" r="1.5" fill="none" stroke="#2a2a2a" stroke-width="0.55"/>
<circle cx="117.5" cy="636.8" r="1.5" fill="none" stroke="#2a2a2a" stroke-width="0.55"/>
<circle cx="110.3" cy="656.0" r="1.5" fill="none" stroke="#2a2a2a" stroke-width="0.55"/>
<circle cx="108.1" cy="592.3" r="1.5" fill="none" stroke="#2a2a2a" stroke-width="0.55"/>
<circle cx="109.4" cy="638.6" r="1.5" fill="none" stroke="#2a2a2a" stroke-width="0.55"/>
<circle cx="110.1" cy="636.3" r="1.5" fill="none" stroke="#2a2a2a" stroke-width="0.55"/>
<circle cx="109.9" cy="636.4" r="1.5" fill="none" stroke="#2a2a2a" stroke-width="0.55"/>
<circle cx="114.5" cy="657.2" r="1.5" fill="none" stroke="#2a2a2a" stroke-width="0.55"/>
<circle cx="113.6" cy="611.1" r="1.5" fill="none" stroke="#2a2a2a" stroke-width="0.55"/>
<circle cx="111.3" cy="654.2" r="1.5" fill="none" stroke="#2a2a2a" stroke-width="0.55"/>
<circle cx="116.3" cy="634.7" r="1.5" fill="none" stroke="#2a2a2a" stroke-width="0.55"/>
<circle cx="109.8" cy="642.2" r="1.5" fill="none" stroke="#2a2a2a" stroke-width="0.55"/>
<circle cx="120.2" cy="634.9" r="1.5" fill="none" stroke="#2a2a2a" stroke-width="0.55"/>
<circle cx="121.1" cy="632.5" r="1.5" fill="none" stroke="#2a2a2a" stroke-width="0.55"/>
<circle cx="117.6" cy="628.3" r="1.5" fill="none" stroke="#2a2a2a" stroke-width="0.55"/>
<circle cx="113.2" cy="648.8" r="1.5" fill="none" stroke="#2a2a2a" stroke-width="0.55"/>
<circle cx="114.3" cy="663.0" r="1.5" fill="none" stroke="#2a2a2a" stroke-width="0.55"/>
<circle cx="115.4" cy="658.6" r="1.5" fill="none" stroke="#2a2a2a" stroke-width="0.55"/>
<circle cx="107.4" cy="652.2" r="1.5" fill="none" stroke="#2a2a2a" stroke-width="0.55"/>
<circle cx="112.9" cy="629.6" r="1.5" fill="none" stroke="#2a2a2a" stroke-width="0.55"/>
<circle cx="114.5" cy="653.3" r="1.5" fill="none" stroke="#2a2a2a" stroke-width="0.55"/>
<circle cx="109.4" cy="612.1" r="1.5" fill="none" stroke="#2a2a2a" stroke-width="0.55"/>
<circle cx="108.1" cy="658.3" r="1.5" fill="none" stroke="#2a2a2a" stroke-width="0.55"/>
<circle cx="118.7" cy="662.4" r="1.5" fill="none" stroke="#2a2a2a" stroke-width="0.55"/>
<circle cx="72" cy="683.6" r="1.5" fill="none" stroke="#2a2a2a" stroke-width="0.55"/>
<polyline points="70.3,737.6 70.3,734.6 113.9,734.6 113.9,737.6" fill="none" stroke="#666" stroke-width="1.1"/>
<text x="22.0" y="753.8" font-size="13.4" font-weight="bold" text-anchor="start" fill="#111" >Cluster-P</text>
<text x="95.0" y="753.8" font-size="13.4" font-weight="bold" text-anchor="start" fill="#111" >Cluster-B/R</text>
<text x="174.3" y="511.3" font-size="15.1" font-weight="bold" text-anchor="start" fill="#111" >E. Bacterial diversity</text>
<line x1="203.0" y1="537.1" x2="203.0" y2="725.1" stroke="#aaa" stroke-width="1.1"/>
<line x1="199.0" y1="537.1" x2="203.0" y2="537.1" stroke="#aaa" stroke-width="1.1"/>
<text x="197.2" y="541.1" font-size="10.9" font-weight="normal" text-anchor="end" fill="#222" >7</text>
<line x1="199.0" y1="584.1" x2="203.0" y2="584.1" stroke="#aaa" stroke-width="1.1"/>
<text x="197.2" y="588.1" font-size="10.9" font-weight="normal" text-anchor="end" fill="#222" >6</text>
<line x1="199.0" y1="631.1" x2="203.0" y2="631.1" stroke="#aaa" stroke-width="1.1"/>
<text x="197.2" y="635.1" font-size="10.9" font-weight="normal" text-anchor="end" fill="#222" >5</text>
<line x1="199.0" y1="678.1" x2="203.0" y2="678.1" stroke="#aaa" stroke-width="1.1"/>
<text x="197.2" y="682.1" font-size="10.9" font-weight="normal" text-anchor="end" fill="#222" >4</text>
<line x1="199.0" y1="725.1" x2="203.0" y2="725.1" stroke="#aaa" stroke-width="1.1"/>
<text x="197.2" y="729.1" font-size="10.9" font-weight="normal" text-anchor="end" fill="#222" >3</text>
<text transform="translate(178.6,628.2) rotate(-90)" x="0" y="0" font-size="13.45" font-weight="bold" text-anchor="middle" fill="#111">Shannon diversity index</text>
<text x="221.8" y="557.0" font-size="11.6" font-weight="bold" fill="#111">P = 2.24 x 10<tspan dy="-4.3" font-size="8.6">-5</tspan></text>
<line x1="232.9" y1="565.4" x2="264.4" y2="565.4" stroke="#9a9a9a" stroke-width="1.6" stroke-dasharray="4.2,2.8"/>
<polyline points="235.9,562.0 231.9,565.4 235.9,568.8" fill="none" stroke="#9a9a9a" stroke-width="1.6" stroke-linejoin="round"/>
<polyline points="261.4,562.0 265.4,565.4 261.4,568.8" fill="none" stroke="#9a9a9a" stroke-width="1.6" stroke-linejoin="round"/>
<line x1="228.3" y1="580.1" x2="228.3" y2="632.8" stroke="#666" stroke-width="0.8" stroke-dasharray="1.2,1.2"/>
<line x1="220.2" y1="580.1" x2="236.5" y2="580.1" stroke="#777" stroke-width="1"/>
<line x1="220.2" y1="632.8" x2="236.5" y2="632.8" stroke="#777" stroke-width="1"/>
<rect x="211.2" y="592.5" width="34.2" height="17.1" fill="#3f8f84" stroke="#333" stroke-width="0.9"/>
<line x1="211.2" y1="600.4" x2="245.4" y2="600.4" stroke="#111" stroke-width="1.8"/>
<circle cx="224.5" cy="601.6" r="1.5" fill="none" stroke="#2a2a2a" stroke-width="0.55"/>
<circle cx="224.8" cy="616.2" r="1.5" fill="none" stroke="#2a2a2a" stroke-width="0.55"/>
<circle cx="229.7" cy="588.6" r="1.5" fill="none" stroke="#2a2a2a" stroke-width="0.55"/>
<circle cx="232.0" cy="613.0" r="1.5" fill="none" stroke="#2a2a2a" stroke-width="0.55"/>
<circle cx="226.3" cy="597.1" r="1.5" fill="none" stroke="#2a2a2a" stroke-width="0.55"/>
<circle cx="228.0" cy="597.1" r="1.5" fill="none" stroke="#2a2a2a" stroke-width="0.55"/>
<circle cx="229.0" cy="624.5" r="1.5" fill="none" stroke="#2a2a2a" stroke-width="0.55"/>
<circle cx="226.9" cy="602.4" r="1.5" fill="none" stroke="#2a2a2a" stroke-width="0.55"/>
<circle cx="227.2" cy="599.9" r="1.5" fill="none" stroke="#2a2a2a" stroke-width="0.55"/>
<circle cx="226.8" cy="609.6" r="1.5" fill="none" stroke="#2a2a2a" stroke-width="0.55"/>
<circle cx="227.3" cy="614.7" r="1.5" fill="none" stroke="#2a2a2a" stroke-width="0.55"/>
<circle cx="229.1" cy="600.0" r="1.5" fill="none" stroke="#2a2a2a" stroke-width="0.55"/>
<circle cx="226.7" cy="607.8" r="1.5" fill="none" stroke="#2a2a2a" stroke-width="0.55"/>
<circle cx="227.3" cy="588.1" r="1.5" fill="none" stroke="#2a2a2a" stroke-width="0.55"/>
<circle cx="230.5" cy="595.8" r="1.5" fill="none" stroke="#2a2a2a" stroke-width="0.55"/>
<circle cx="224.5" cy="594.9" r="1.5" fill="none" stroke="#2a2a2a" stroke-width="0.55"/>
<circle cx="228.9" cy="583.5" r="1.5" fill="none" stroke="#2a2a2a" stroke-width="0.55"/>
<circle cx="230.2" cy="581.3" r="1.5" fill="none" stroke="#2a2a2a" stroke-width="0.55"/>
<circle cx="226.8" cy="579.8" r="1.5" fill="none" stroke="#2a2a2a" stroke-width="0.55"/>
<circle cx="226.1" cy="597.4" r="1.5" fill="none" stroke="#2a2a2a" stroke-width="0.55"/>
<circle cx="230.7" cy="598.2" r="1.5" fill="none" stroke="#2a2a2a" stroke-width="0.55"/>
<circle cx="226.2" cy="596.3" r="1.5" fill="none" stroke="#2a2a2a" stroke-width="0.55"/>
<circle cx="225.8" cy="601.3" r="1.5" fill="none" stroke="#2a2a2a" stroke-width="0.55"/>
<circle cx="227.8" cy="583.5" r="1.5" fill="none" stroke="#2a2a2a" stroke-width="0.55"/>
<circle cx="229.9" cy="599.4" r="1.5" fill="none" stroke="#2a2a2a" stroke-width="0.55"/>
<circle cx="225.1" cy="603.4" r="1.5" fill="none" stroke="#2a2a2a" stroke-width="0.55"/>
<circle cx="226.9" cy="609.9" r="1.5" fill="none" stroke="#2a2a2a" stroke-width="0.55"/>
<circle cx="227.0" cy="589.7" r="1.5" fill="none" stroke="#2a2a2a" stroke-width="0.55"/>
<circle cx="231.0" cy="595.3" r="1.5" fill="none" stroke="#2a2a2a" stroke-width="0.55"/>
<circle cx="227.8" cy="594.0" r="1.5" fill="none" stroke="#2a2a2a" stroke-width="0.55"/>
<circle cx="231.1" cy="582.4" r="1.5" fill="none" stroke="#2a2a2a" stroke-width="0.55"/>
<circle cx="225.7" cy="614.4" r="1.5" fill="none" stroke="#2a2a2a" stroke-width="0.55"/>
<circle cx="227.0" cy="610.5" r="1.5" fill="none" stroke="#2a2a2a" stroke-width="0.55"/>
<circle cx="229.5" cy="604.6" r="1.5" fill="none" stroke="#2a2a2a" stroke-width="0.55"/>
<circle cx="231.4" cy="596.4" r="1.5" fill="none" stroke="#2a2a2a" stroke-width="0.55"/>
<circle cx="227.9" cy="606.2" r="1.5" fill="none" stroke="#2a2a2a" stroke-width="0.55"/>
<circle cx="226.1" cy="607.1" r="1.5" fill="none" stroke="#2a2a2a" stroke-width="0.55"/>
<circle cx="225.3" cy="613.6" r="1.5" fill="none" stroke="#2a2a2a" stroke-width="0.55"/>
<circle cx="228.5" cy="597.5" r="1.5" fill="none" stroke="#2a2a2a" stroke-width="0.55"/>
<circle cx="225.8" cy="592.9" r="1.5" fill="none" stroke="#2a2a2a" stroke-width="0.55"/>
<circle cx="230.8" cy="592.7" r="1.5" fill="none" stroke="#2a2a2a" stroke-width="0.55"/>
<circle cx="231.0" cy="587.9" r="1.5" fill="none" stroke="#2a2a2a" stroke-width="0.55"/>
<circle cx="225.8" cy="599.8" r="1.5" fill="none" stroke="#2a2a2a" stroke-width="0.55"/>
<circle cx="226.5" cy="590.4" r="1.5" fill="none" stroke="#2a2a2a" stroke-width="0.55"/>
<circle cx="230.8" cy="613.9" r="1.5" fill="none" stroke="#2a2a2a" stroke-width="0.55"/>
<circle cx="229.4" cy="586.5" r="1.5" fill="none" stroke="#2a2a2a" stroke-width="0.55"/>
<circle cx="230.8" cy="588.3" r="1.5" fill="none" stroke="#2a2a2a" stroke-width="0.55"/>
<circle cx="227.1" cy="624.5" r="1.5" fill="none" stroke="#2a2a2a" stroke-width="0.55"/>
<circle cx="225.3" cy="596.8" r="1.5" fill="none" stroke="#2a2a2a" stroke-width="0.55"/>
<circle cx="226.6" cy="593.7" r="1.5" fill="none" stroke="#2a2a2a" stroke-width="0.55"/>
<circle cx="230.7" cy="621.4" r="1.5" fill="none" stroke="#2a2a2a" stroke-width="0.55"/>
<circle cx="226.5" cy="614.0" r="1.5" fill="none" stroke="#2a2a2a" stroke-width="0.55"/>
<circle cx="227.1" cy="591.1" r="1.5" fill="none" stroke="#2a2a2a" stroke-width="0.55"/>
<circle cx="227.6" cy="598.4" r="1.5" fill="none" stroke="#2a2a2a" stroke-width="0.55"/>
<circle cx="227.7" cy="591.9" r="1.5" fill="none" stroke="#2a2a2a" stroke-width="0.55"/>
<circle cx="227.6" cy="608.5" r="1.5" fill="none" stroke="#2a2a2a" stroke-width="0.55"/>
<circle cx="231.7" cy="586.0" r="1.5" fill="none" stroke="#2a2a2a" stroke-width="0.55"/>
<circle cx="225.5" cy="599.4" r="1.5" fill="none" stroke="#2a2a2a" stroke-width="0.55"/>
<circle cx="224.3" cy="604.9" r="1.5" fill="none" stroke="#2a2a2a" stroke-width="0.55"/>
<circle cx="231.8" cy="623.7" r="1.5" fill="none" stroke="#2a2a2a" stroke-width="0.55"/>
<circle cx="231.3" cy="619.7" r="1.5" fill="none" stroke="#2a2a2a" stroke-width="0.55"/>
<circle cx="232.2" cy="612.4" r="1.5" fill="none" stroke="#2a2a2a" stroke-width="0.55"/>
<circle cx="227.8" cy="594.3" r="1.5" fill="none" stroke="#2a2a2a" stroke-width="0.55"/>
<circle cx="231.9" cy="604.3" r="1.5" fill="none" stroke="#2a2a2a" stroke-width="0.55"/>
<circle cx="231.7" cy="594.5" r="1.5" fill="none" stroke="#2a2a2a" stroke-width="0.55"/>
<circle cx="226.1" cy="621.3" r="1.5" fill="none" stroke="#2a2a2a" stroke-width="0.55"/>
<circle cx="230.3" cy="603.1" r="1.5" fill="none" stroke="#2a2a2a" stroke-width="0.55"/>
<circle cx="231.0" cy="597.7" r="1.5" fill="none" stroke="#2a2a2a" stroke-width="0.55"/>
<circle cx="229.6" cy="597.5" r="1.5" fill="none" stroke="#2a2a2a" stroke-width="0.55"/>
<circle cx="228.5" cy="597.9" r="1.5" fill="none" stroke="#2a2a2a" stroke-width="0.55"/>
<circle cx="226.6" cy="598.2" r="1.5" fill="none" stroke="#2a2a2a" stroke-width="0.55"/>
<circle cx="227.0" cy="589.3" r="1.5" fill="none" stroke="#2a2a2a" stroke-width="0.55"/>
<circle cx="226.1" cy="626.5" r="1.5" fill="none" stroke="#2a2a2a" stroke-width="0.55"/>
<circle cx="224.8" cy="598.8" r="1.5" fill="none" stroke="#2a2a2a" stroke-width="0.55"/>
<circle cx="229.0" cy="598.5" r="1.5" fill="none" stroke="#2a2a2a" stroke-width="0.55"/>
<circle cx="226.6" cy="605.1" r="1.5" fill="none" stroke="#2a2a2a" stroke-width="0.55"/>
<circle cx="230.8" cy="597.8" r="1.5" fill="none" stroke="#2a2a2a" stroke-width="0.55"/>
<circle cx="224.7" cy="598.5" r="1.5" fill="none" stroke="#2a2a2a" stroke-width="0.55"/>
<circle cx="231.5" cy="604.6" r="1.5" fill="none" stroke="#2a2a2a" stroke-width="0.55"/>
<circle cx="229.8" cy="612.7" r="1.5" fill="none" stroke="#2a2a2a" stroke-width="0.55"/>
<circle cx="231.7" cy="594.7" r="1.5" fill="none" stroke="#2a2a2a" stroke-width="0.55"/>
<circle cx="231.5" cy="595.7" r="1.5" fill="none" stroke="#2a2a2a" stroke-width="0.55"/>
<circle cx="231.5" cy="625.0" r="1.5" fill="none" stroke="#2a2a2a" stroke-width="0.55"/>
<circle cx="228.9" cy="607.1" r="1.5" fill="none" stroke="#2a2a2a" stroke-width="0.55"/>
<circle cx="224.4" cy="587.9" r="1.5" fill="none" stroke="#2a2a2a" stroke-width="0.55"/>
<circle cx="230.3" cy="629.8" r="1.5" fill="none" stroke="#2a2a2a" stroke-width="0.55"/>
<circle cx="225.7" cy="610.2" r="1.5" fill="none" stroke="#2a2a2a" stroke-width="0.55"/>
<circle cx="226.7" cy="592.9" r="1.5" fill="none" stroke="#2a2a2a" stroke-width="0.55"/>
<circle cx="229.6" cy="585.5" r="1.5" fill="none" stroke="#2a2a2a" stroke-width="0.55"/>
<circle cx="228.5" cy="604.2" r="1.5" fill="none" stroke="#2a2a2a" stroke-width="0.55"/>
<circle cx="227.6" cy="589.9" r="1.5" fill="none" stroke="#2a2a2a" stroke-width="0.55"/>
<circle cx="231.8" cy="587.0" r="1.5" fill="none" stroke="#2a2a2a" stroke-width="0.55"/>
<circle cx="229.2" cy="584.0" r="1.5" fill="none" stroke="#2a2a2a" stroke-width="0.55"/>
<circle cx="227.0" cy="594.0" r="1.5" fill="none" stroke="#2a2a2a" stroke-width="0.55"/>
<circle cx="226.3" cy="614.4" r="1.5" fill="none" stroke="#2a2a2a" stroke-width="0.55"/>
<circle cx="231.2" cy="594.9" r="1.5" fill="none" stroke="#2a2a2a" stroke-width="0.55"/>
<circle cx="228.1" cy="582.0" r="1.5" fill="none" stroke="#2a2a2a" stroke-width="0.55"/>
<circle cx="230.6" cy="608.9" r="1.5" fill="none" stroke="#2a2a2a" stroke-width="0.55"/>
<circle cx="227.1" cy="601.2" r="1.5" fill="none" stroke="#2a2a2a" stroke-width="0.55"/>
<circle cx="225.9" cy="611.1" r="1.5" fill="none" stroke="#2a2a2a" stroke-width="0.55"/>
<circle cx="228.6" cy="615.6" r="1.5" fill="none" stroke="#2a2a2a" stroke-width="0.55"/>
<circle cx="230.8" cy="598.3" r="1.5" fill="none" stroke="#2a2a2a" stroke-width="0.55"/>
<circle cx="225.7" cy="598.6" r="1.5" fill="none" stroke="#2a2a2a" stroke-width="0.55"/>
<circle cx="230.6" cy="599.8" r="1.5" fill="none" stroke="#2a2a2a" stroke-width="0.55"/>
<circle cx="231.7" cy="586.0" r="1.5" fill="none" stroke="#2a2a2a" stroke-width="0.55"/>
<circle cx="230.7" cy="608.9" r="1.5" fill="none" stroke="#2a2a2a" stroke-width="0.55"/>
<circle cx="230.9" cy="617.8" r="1.5" fill="none" stroke="#2a2a2a" stroke-width="0.55"/>
<circle cx="224.4" cy="602.6" r="1.5" fill="none" stroke="#2a2a2a" stroke-width="0.55"/>
<circle cx="229.3" cy="597.4" r="1.5" fill="none" stroke="#2a2a2a" stroke-width="0.55"/>
<circle cx="231.2" cy="597.1" r="1.5" fill="none" stroke="#2a2a2a" stroke-width="0.55"/>
<circle cx="224.7" cy="590.5" r="1.5" fill="none" stroke="#2a2a2a" stroke-width="0.55"/>
<circle cx="226.5" cy="590.2" r="1.5" fill="none" stroke="#2a2a2a" stroke-width="0.55"/>
<circle cx="226.4" cy="595.3" r="1.5" fill="none" stroke="#2a2a2a" stroke-width="0.55"/>
<circle cx="228.5" cy="589.7" r="1.5" fill="none" stroke="#2a2a2a" stroke-width="0.55"/>
<circle cx="227.7" cy="594.9" r="1.5" fill="none" stroke="#2a2a2a" stroke-width="0.55"/>
<line x1="271.1" y1="582.5" x2="271.1" y2="649.9" stroke="#666" stroke-width="0.8" stroke-dasharray="1.2,1.2"/>
<line x1="262.6" y1="582.5" x2="279.6" y2="582.5" stroke="#777" stroke-width="1"/>
<line x1="262.6" y1="649.9" x2="279.6" y2="649.9" stroke="#777" stroke-width="1"/>
<rect x="254.1" y="600.9" width="33.9" height="20.0" fill="#ff4a12" stroke="#333" stroke-width="0.9"/>
<line x1="254.1" y1="606.1" x2="288.0" y2="606.1" stroke="#111" stroke-width="1.8"/>
<circle cx="269.2" cy="606.7" r="1.5" fill="none" stroke="#2a2a2a" stroke-width="0.55"/>
<circle cx="265.7" cy="613.0" r="1.5" fill="none" stroke="#2a2a2a" stroke-width="0.55"/>
<circle cx="266.0" cy="599.3" r="1.5" fill="none" stroke="#2a2a2a" stroke-width="0.55"/>
<circle cx="267.4" cy="611.3" r="1.5" fill="none" stroke="#2a2a2a" stroke-width="0.55"/>
<circle cx="274.2" cy="619.8" r="1.5" fill="none" stroke="#2a2a2a" stroke-width="0.55"/>
<circle cx="269.5" cy="612.2" r="1.5" fill="none" stroke="#2a2a2a" stroke-width="0.55"/>
<circle cx="268.7" cy="629.2" r="1.5" fill="none" stroke="#2a2a2a" stroke-width="0.55"/>
<circle cx="266.6" cy="593.0" r="1.5" fill="none" stroke="#2a2a2a" stroke-width="0.55"/>
<circle cx="276.3" cy="607.1" r="1.5" fill="none" stroke="#2a2a2a" stroke-width="0.55"/>
<circle cx="270.2" cy="595.7" r="1.5" fill="none" stroke="#2a2a2a" stroke-width="0.55"/>
<circle cx="267.8" cy="594.5" r="1.5" fill="none" stroke="#2a2a2a" stroke-width="0.55"/>
<circle cx="266.2" cy="603.4" r="1.5" fill="none" stroke="#2a2a2a" stroke-width="0.55"/>
<circle cx="266.2" cy="609.4" r="1.5" fill="none" stroke="#2a2a2a" stroke-width="0.55"/>
<circle cx="267.4" cy="612.3" r="1.5" fill="none" stroke="#2a2a2a" stroke-width="0.55"/>
<circle cx="273.0" cy="613.6" r="1.5" fill="none" stroke="#2a2a2a" stroke-width="0.55"/>
<circle cx="267.2" cy="639.2" r="1.5" fill="none" stroke="#2a2a2a" stroke-width="0.55"/>
<circle cx="266.0" cy="618.9" r="1.5" fill="none" stroke="#2a2a2a" stroke-width="0.55"/>
<circle cx="270.9" cy="582.5" r="1.5" fill="none" stroke="#2a2a2a" stroke-width="0.55"/>
<circle cx="268.3" cy="609.1" r="1.5" fill="none" stroke="#2a2a2a" stroke-width="0.55"/>
<circle cx="276.5" cy="596.9" r="1.5" fill="none" stroke="#2a2a2a" stroke-width="0.55"/>
<circle cx="266.9" cy="598.5" r="1.5" fill="none" stroke="#2a2a2a" stroke-width="0.55"/>
<circle cx="271.4" cy="625.5" r="1.5" fill="none" stroke="#2a2a2a" stroke-width="0.55"/>
<circle cx="274.1" cy="602.8" r="1.5" fill="none" stroke="#2a2a2a" stroke-width="0.55"/>
<circle cx="270.1" cy="610.7" r="1.5" fill="none" stroke="#2a2a2a" stroke-width="0.55"/>
<circle cx="276.4" cy="601.8" r="1.5" fill="none" stroke="#2a2a2a" stroke-width="0.55"/>
<circle cx="270.8" cy="588.7" r="1.5" fill="none" stroke="#2a2a2a" stroke-width="0.55"/>
<circle cx="268.2" cy="592.5" r="1.5" fill="none" stroke="#2a2a2a" stroke-width="0.55"/>
<circle cx="270.1" cy="596.8" r="1.5" fill="none" stroke="#2a2a2a" stroke-width="0.55"/>
<circle cx="266.0" cy="605.8" r="1.5" fill="none" stroke="#2a2a2a" stroke-width="0.55"/>
<circle cx="270.2" cy="599.8" r="1.5" fill="none" stroke="#2a2a2a" stroke-width="0.55"/>
<circle cx="268.3" cy="607.2" r="1.5" fill="none" stroke="#2a2a2a" stroke-width="0.55"/>
<circle cx="275.3" cy="633.3" r="1.5" fill="none" stroke="#2a2a2a" stroke-width="0.55"/>
<circle cx="274.7" cy="594.2" r="1.5" fill="none" stroke="#2a2a2a" stroke-width="0.55"/>
<circle cx="271.0" cy="594.1" r="1.5" fill="none" stroke="#2a2a2a" stroke-width="0.55"/>
<circle cx="265.9" cy="602.4" r="1.5" fill="none" stroke="#2a2a2a" stroke-width="0.55"/>
<circle cx="268.3" cy="622.3" r="1.5" fill="none" stroke="#2a2a2a" stroke-width="0.55"/>
<circle cx="268.2" cy="595.6" r="1.5" fill="none" stroke="#2a2a2a" stroke-width="0.55"/>
<circle cx="267.8" cy="627.3" r="1.5" fill="none" stroke="#2a2a2a" stroke-width="0.55"/>
<circle cx="268.1" cy="586.7" r="1.5" fill="none" stroke="#2a2a2a" stroke-width="0.55"/>
<circle cx="275.1" cy="590.8" r="1.5" fill="none" stroke="#2a2a2a" stroke-width="0.55"/>
<circle cx="267.1" cy="605.3" r="1.5" fill="none" stroke="#2a2a2a" stroke-width="0.55"/>
<circle cx="266.1" cy="593.3" r="1.5" fill="none" stroke="#2a2a2a" stroke-width="0.55"/>
<circle cx="275.8" cy="596.9" r="1.5" fill="none" stroke="#2a2a2a" stroke-width="0.55"/>
<circle cx="271.8" cy="612.8" r="1.5" fill="none" stroke="#2a2a2a" stroke-width="0.55"/>
<circle cx="276.4" cy="616.8" r="1.5" fill="none" stroke="#2a2a2a" stroke-width="0.55"/>
<circle cx="270.0" cy="607.8" r="1.5" fill="none" stroke="#2a2a2a" stroke-width="0.55"/>
<circle cx="275.5" cy="602.0" r="1.5" fill="none" stroke="#2a2a2a" stroke-width="0.55"/>
<circle cx="272.7" cy="626.0" r="1.5" fill="none" stroke="#2a2a2a" stroke-width="0.55"/>
<circle cx="274.2" cy="612.1" r="1.5" fill="none" stroke="#2a2a2a" stroke-width="0.55"/>
<circle cx="273.7" cy="602.6" r="1.5" fill="none" stroke="#2a2a2a" stroke-width="0.55"/>
<circle cx="271.0" cy="624.1" r="1.5" fill="none" stroke="#2a2a2a" stroke-width="0.55"/>
<circle cx="266.6" cy="592.7" r="1.5" fill="none" stroke="#2a2a2a" stroke-width="0.55"/>
<circle cx="267.9" cy="608.5" r="1.5" fill="none" stroke="#2a2a2a" stroke-width="0.55"/>
<circle cx="275.2" cy="615.9" r="1.5" fill="none" stroke="#2a2a2a" stroke-width="0.55"/>
<circle cx="275.4" cy="605.9" r="1.5" fill="none" stroke="#2a2a2a" stroke-width="0.55"/>
<circle cx="275.7" cy="597.6" r="1.5" fill="none" stroke="#2a2a2a" stroke-width="0.55"/>
<circle cx="269.3" cy="611.3" r="1.5" fill="none" stroke="#2a2a2a" stroke-width="0.55"/>
<circle cx="272.8" cy="598.1" r="1.5" fill="none" stroke="#2a2a2a" stroke-width="0.55"/>
<circle cx="274.3" cy="597.3" r="1.5" fill="none" stroke="#2a2a2a" stroke-width="0.55"/>
<circle cx="272.6" cy="590.9" r="1.5" fill="none" stroke="#2a2a2a" stroke-width="0.55"/>
<circle cx="274.5" cy="625.4" r="1.5" fill="none" stroke="#2a2a2a" stroke-width="0.55"/>
<circle cx="271.4" cy="598.0" r="1.5" fill="none" stroke="#2a2a2a" stroke-width="0.55"/>
<circle cx="272.8" cy="623.2" r="1.5" fill="none" stroke="#2a2a2a" stroke-width="0.55"/>
<circle cx="273.1" cy="611.7" r="1.5" fill="none" stroke="#2a2a2a" stroke-width="0.55"/>
<circle cx="268.5" cy="602.2" r="1.5" fill="none" stroke="#2a2a2a" stroke-width="0.55"/>
<circle cx="275.7" cy="616.0" r="1.5" fill="none" stroke="#2a2a2a" stroke-width="0.55"/>
<circle cx="276.1" cy="610.1" r="1.5" fill="none" stroke="#2a2a2a" stroke-width="0.55"/>
<circle cx="266.4" cy="608.0" r="1.5" fill="none" stroke="#2a2a2a" stroke-width="0.55"/>
<circle cx="276.2" cy="585.7" r="1.5" fill="none" stroke="#2a2a2a" stroke-width="0.55"/>
<circle cx="276.1" cy="607.1" r="1.5" fill="none" stroke="#2a2a2a" stroke-width="0.55"/>
<circle cx="272.9" cy="619.3" r="1.5" fill="none" stroke="#2a2a2a" stroke-width="0.55"/>
<circle cx="266.0" cy="613.3" r="1.5" fill="none" stroke="#2a2a2a" stroke-width="0.55"/>
<circle cx="275.4" cy="620.8" r="1.5" fill="none" stroke="#2a2a2a" stroke-width="0.55"/>
<circle cx="267.0" cy="628.2" r="1.5" fill="none" stroke="#2a2a2a" stroke-width="0.55"/>
<circle cx="276.2" cy="612.2" r="1.5" fill="none" stroke="#2a2a2a" stroke-width="0.55"/>
<circle cx="272.9" cy="635.4" r="1.5" fill="none" stroke="#2a2a2a" stroke-width="0.55"/>
<circle cx="266.2" cy="583.7" r="1.5" fill="none" stroke="#2a2a2a" stroke-width="0.55"/>
<circle cx="267.4" cy="602.5" r="1.5" fill="none" stroke="#2a2a2a" stroke-width="0.55"/>
<circle cx="272.5" cy="618.3" r="1.5" fill="none" stroke="#2a2a2a" stroke-width="0.55"/>
<circle cx="271.8" cy="607.5" r="1.5" fill="none" stroke="#2a2a2a" stroke-width="0.55"/>
<circle cx="273.8" cy="631.1" r="1.5" fill="none" stroke="#2a2a2a" stroke-width="0.55"/>
<circle cx="275.8" cy="600.7" r="1.5" fill="none" stroke="#2a2a2a" stroke-width="0.55"/>
<circle cx="268.0" cy="625.0" r="1.5" fill="none" stroke="#2a2a2a" stroke-width="0.55"/>
<circle cx="265.6" cy="586.2" r="1.5" fill="none" stroke="#2a2a2a" stroke-width="0.55"/>
<circle cx="275.7" cy="587.3" r="1.5" fill="none" stroke="#2a2a2a" stroke-width="0.55"/>
<circle cx="265.7" cy="603.5" r="1.5" fill="none" stroke="#2a2a2a" stroke-width="0.55"/>
<circle cx="275.2" cy="615.4" r="1.5" fill="none" stroke="#2a2a2a" stroke-width="0.55"/>
<circle cx="266.8" cy="598.6" r="1.5" fill="none" stroke="#2a2a2a" stroke-width="0.55"/>
<circle cx="274.5" cy="608.9" r="1.5" fill="none" stroke="#2a2a2a" stroke-width="0.55"/>
<circle cx="274.2" cy="631.7" r="1.5" fill="none" stroke="#2a2a2a" stroke-width="0.55"/>
<circle cx="266.1" cy="668.3" r="1.5" fill="none" stroke="#2a2a2a" stroke-width="0.55"/>
<circle cx="275.6" cy="672.3" r="1.5" fill="none" stroke="#2a2a2a" stroke-width="0.55"/>
<circle cx="274.3" cy="692.5" r="1.5" fill="none" stroke="#2a2a2a" stroke-width="0.55"/>
<circle cx="272.5" cy="717.7" r="1.5" fill="none" stroke="#2a2a2a" stroke-width="0.55"/>
<polyline points="228.3,736.5 228.3,733.5 271.0,733.5 271.0,736.5" fill="none" stroke="#666" stroke-width="1.1"/>
<text x="187.0" y="755.5" font-size="13.4" font-weight="bold" text-anchor="start" fill="#111" >Cluster-P</text>
<text x="254.5" y="755.5" font-size="13.4" font-weight="bold" text-anchor="start" fill="#111" >Cluster-B/R</text>
<text x="360.3" y="511.3" font-size="15.1" font-weight="bold" text-anchor="start" fill="#111" >F. Bacillota/ Bacteroidota ratio</text>
<text x="386.6" y="536.0" font-size="13.0" font-weight="bold" text-anchor="start" fill="#111" >HITChip</text>
<line x1="378.0" y1="540.5" x2="378.0" y2="722.9" stroke="#aaa" stroke-width="1.1"/>
<line x1="374.0" y1="540.5" x2="378.0" y2="540.5" stroke="#aaa" stroke-width="1.1"/>
<text x="372.2" y="544.5" font-size="10.9" font-weight="normal" text-anchor="end" fill="#222" >3</text>
<line x1="374.0" y1="586.1" x2="378.0" y2="586.1" stroke="#aaa" stroke-width="1.1"/>
<text x="372.2" y="590.1" font-size="10.9" font-weight="normal" text-anchor="end" fill="#222" >2</text>
<line x1="374.0" y1="631.7" x2="378.0" y2="631.7" stroke="#aaa" stroke-width="1.1"/>
<text x="372.2" y="635.7" font-size="10.9" font-weight="normal" text-anchor="end" fill="#222" >1</text>
<line x1="374.0" y1="677.3" x2="378.0" y2="677.3" stroke="#aaa" stroke-width="1.1"/>
<text x="372.2" y="681.3" font-size="10.9" font-weight="normal" text-anchor="end" fill="#222" >0</text>
<line x1="374.0" y1="722.9" x2="378.0" y2="722.9" stroke="#aaa" stroke-width="1.1"/>
<text x="372.2" y="726.9" font-size="10.9" font-weight="normal" text-anchor="end" fill="#222" >&#8722;1</text>
<text transform="translate(352.0,634.7) rotate(-90)" x="0" y="0" font-size="11.8" font-weight="bold" text-anchor="middle" fill="#111">Bacillota/ Bacteroidota ratio (log 10)</text>
<text x="389.5" y="558.3" font-size="11.6" font-weight="bold" fill="#111">P = 6.12 x 10<tspan dy="-4.3" font-size="8.6">-9</tspan></text>
<line x1="401.1" y1="568.0" x2="439.2" y2="568.0" stroke="#9a9a9a" stroke-width="1.6" stroke-dasharray="4.2,2.8"/>
<polyline points="404.1,564.6 400.1,568.0 404.1,571.4" fill="none" stroke="#9a9a9a" stroke-width="1.6" stroke-linejoin="round"/>
<polyline points="436.2,564.6 440.2,568.0 436.2,571.4" fill="none" stroke="#9a9a9a" stroke-width="1.6" stroke-linejoin="round"/>
<line x1="404.6" y1="625.5" x2="404.6" y2="678.8" stroke="#666" stroke-width="0.8" stroke-dasharray="1.2,1.2"/>
<line x1="395.2" y1="625.5" x2="414.1" y2="625.5" stroke="#777" stroke-width="1"/>
<line x1="395.2" y1="678.8" x2="414.1" y2="678.8" stroke="#777" stroke-width="1"/>
<rect x="386.5" y="644.1" width="36.3" height="14.2" fill="#3f8f84" stroke="#333" stroke-width="0.9"/>
<line x1="386.5" y1="651.8" x2="422.8" y2="651.8" stroke="#111" stroke-width="1.8"/>
<circle cx="406.0" cy="639.4" r="1.5" fill="none" stroke="#2a2a2a" stroke-width="0.55"/>
<circle cx="407.5" cy="639.7" r="1.5" fill="none" stroke="#2a2a2a" stroke-width="0.55"/>
<circle cx="400.7" cy="658.8" r="1.5" fill="none" stroke="#2a2a2a" stroke-width="0.55"/>
<circle cx="404.0" cy="627.7" r="1.5" fill="none" stroke="#2a2a2a" stroke-width="0.55"/>
<circle cx="401.1" cy="650.3" r="1.5" fill="none" stroke="#2a2a2a" stroke-width="0.55"/>
<circle cx="408.1" cy="628.1" r="1.5" fill="none" stroke="#2a2a2a" stroke-width="0.55"/>
<circle cx="402.6" cy="663.4" r="1.5" fill="none" stroke="#2a2a2a" stroke-width="0.55"/>
<circle cx="404.2" cy="653.9" r="1.5" fill="none" stroke="#2a2a2a" stroke-width="0.55"/>
<circle cx="409.6" cy="666.1" r="1.5" fill="none" stroke="#2a2a2a" stroke-width="0.55"/>
<circle cx="408.2" cy="646.5" r="1.5" fill="none" stroke="#2a2a2a" stroke-width="0.55"/>
<circle cx="409.4" cy="656.0" r="1.5" fill="none" stroke="#2a2a2a" stroke-width="0.55"/>
<circle cx="404.2" cy="648.8" r="1.5" fill="none" stroke="#2a2a2a" stroke-width="0.55"/>
<circle cx="404.5" cy="644.0" r="1.5" fill="none" stroke="#2a2a2a" stroke-width="0.55"/>
<circle cx="406.9" cy="653.3" r="1.5" fill="none" stroke="#2a2a2a" stroke-width="0.55"/>
<circle cx="404.4" cy="638.6" r="1.5" fill="none" stroke="#2a2a2a" stroke-width="0.55"/>
<circle cx="402.6" cy="648.1" r="1.5" fill="none" stroke="#2a2a2a" stroke-width="0.55"/>
<circle cx="403.7" cy="659.1" r="1.5" fill="none" stroke="#2a2a2a" stroke-width="0.55"/>
<circle cx="401.1" cy="652.4" r="1.5" fill="none" stroke="#2a2a2a" stroke-width="0.55"/>
<circle cx="403.4" cy="647.5" r="1.5" fill="none" stroke="#2a2a2a" stroke-width="0.55"/>
<circle cx="409.5" cy="674.8" r="1.5" fill="none" stroke="#2a2a2a" stroke-width="0.55"/>
<circle cx="409.2" cy="652.4" r="1.5" fill="none" stroke="#2a2a2a" stroke-width="0.55"/>
<circle cx="405.9" cy="645.6" r="1.5" fill="none" stroke="#2a2a2a" stroke-width="0.55"/>
<circle cx="404.6" cy="653.5" r="1.5" fill="none" stroke="#2a2a2a" stroke-width="0.55"/>
<circle cx="403.0" cy="646.3" r="1.5" fill="none" stroke="#2a2a2a" stroke-width="0.55"/>
<circle cx="400.5" cy="647.7" r="1.5" fill="none" stroke="#2a2a2a" stroke-width="0.55"/>
<circle cx="402.4" cy="648.1" r="1.5" fill="none" stroke="#2a2a2a" stroke-width="0.55"/>
<circle cx="407.5" cy="673.1" r="1.5" fill="none" stroke="#2a2a2a" stroke-width="0.55"/>
<circle cx="408.3" cy="652.0" r="1.5" fill="none" stroke="#2a2a2a" stroke-width="0.55"/>
<circle cx="403.3" cy="653.6" r="1.5" fill="none" stroke="#2a2a2a" stroke-width="0.55"/>
<circle cx="407.5" cy="658.9" r="1.5" fill="none" stroke="#2a2a2a" stroke-width="0.55"/>
<circle cx="407.4" cy="673.0" r="1.5" fill="none" stroke="#2a2a2a" stroke-width="0.55"/>
<circle cx="406.6" cy="649.4" r="1.5" fill="none" stroke="#2a2a2a" stroke-width="0.55"/>
<circle cx="406.3" cy="645.2" r="1.5" fill="none" stroke="#2a2a2a" stroke-width="0.55"/>
<circle cx="407.2" cy="677.8" r="1.5" fill="none" stroke="#2a2a2a" stroke-width="0.55"/>
<circle cx="403.3" cy="636.4" r="1.5" fill="none" stroke="#2a2a2a" stroke-width="0.55"/>
<circle cx="406.7" cy="647.9" r="1.5" fill="none" stroke="#2a2a2a" stroke-width="0.55"/>
<circle cx="402.5" cy="658.8" r="1.5" fill="none" stroke="#2a2a2a" stroke-width="0.55"/>
<circle cx="404.5" cy="675.8" r="1.5" fill="none" stroke="#2a2a2a" stroke-width="0.55"/>
<circle cx="407.3" cy="641.8" r="1.5" fill="none" stroke="#2a2a2a" stroke-width="0.55"/>
<circle cx="406.6" cy="626.3" r="1.5" fill="none" stroke="#2a2a2a" stroke-width="0.55"/>
<circle cx="402.6" cy="658.8" r="1.5" fill="none" stroke="#2a2a2a" stroke-width="0.55"/>
<circle cx="409.1" cy="646.3" r="1.5" fill="none" stroke="#2a2a2a" stroke-width="0.55"/>
<circle cx="406.1" cy="647.7" r="1.5" fill="none" stroke="#2a2a2a" stroke-width="0.55"/>
<circle cx="405.5" cy="656.7" r="1.5" fill="none" stroke="#2a2a2a" stroke-width="0.55"/>
<circle cx="399.8" cy="654.2" r="1.5" fill="none" stroke="#2a2a2a" stroke-width="0.55"/>
<circle cx="405.1" cy="654.9" r="1.5" fill="none" stroke="#2a2a2a" stroke-width="0.55"/>
<circle cx="402.2" cy="647.3" r="1.5" fill="none" stroke="#2a2a2a" stroke-width="0.55"/>
<circle cx="406.4" cy="665.4" r="1.5" fill="none" stroke="#2a2a2a" stroke-width="0.55"/>
<circle cx="404.3" cy="667.6" r="1.5" fill="none" stroke="#2a2a2a" stroke-width="0.55"/>
<circle cx="407.8" cy="652.1" r="1.5" fill="none" stroke="#2a2a2a" stroke-width="0.55"/>
<circle cx="406.1" cy="647.0" r="1.5" fill="none" stroke="#2a2a2a" stroke-width="0.55"/>
<circle cx="407.6" cy="659.5" r="1.5" fill="none" stroke="#2a2a2a" stroke-width="0.55"/>
<circle cx="403.1" cy="656.8" r="1.5" fill="none" stroke="#2a2a2a" stroke-width="0.55"/>
<circle cx="406.1" cy="640.9" r="1.5" fill="none" stroke="#2a2a2a" stroke-width="0.55"/>
<circle cx="407.0" cy="647.0" r="1.5" fill="none" stroke="#2a2a2a" stroke-width="0.55"/>
<circle cx="407.9" cy="662.8" r="1.5" fill="none" stroke="#2a2a2a" stroke-width="0.55"/>
<circle cx="403.2" cy="650.8" r="1.5" fill="none" stroke="#2a2a2a" stroke-width="0.55"/>
<circle cx="408.1" cy="648.3" r="1.5" fill="none" stroke="#2a2a2a" stroke-width="0.55"/>
<circle cx="408.3" cy="654.0" r="1.5" fill="none" stroke="#2a2a2a" stroke-width="0.55"/>
<circle cx="406.5" cy="651.4" r="1.5" fill="none" stroke="#2a2a2a" stroke-width="0.55"/>
<circle cx="409.4" cy="651.8" r="1.5" fill="none" stroke="#2a2a2a" stroke-width="0.55"/>
<circle cx="409.2" cy="631.5" r="1.5" fill="none" stroke="#2a2a2a" stroke-width="0.55"/>
<circle cx="404.8" cy="670.2" r="1.5" fill="none" stroke="#2a2a2a" stroke-width="0.55"/>
<circle cx="404.9" cy="653.9" r="1.5" fill="none" stroke="#2a2a2a" stroke-width="0.55"/>
<circle cx="401.3" cy="642.6" r="1.5" fill="none" stroke="#2a2a2a" stroke-width="0.55"/>
<circle cx="408.0" cy="662.1" r="1.5" fill="none" stroke="#2a2a2a" stroke-width="0.55"/>
<circle cx="409.0" cy="655.0" r="1.5" fill="none" stroke="#2a2a2a" stroke-width="0.55"/>
<circle cx="404.4" cy="652.0" r="1.5" fill="none" stroke="#2a2a2a" stroke-width="0.55"/>
<circle cx="406.6" cy="662.8" r="1.5" fill="none" stroke="#2a2a2a" stroke-width="0.55"/>
<circle cx="406.8" cy="675.6" r="1.5" fill="none" stroke="#2a2a2a" stroke-width="0.55"/>
<circle cx="407.0" cy="657.6" r="1.5" fill="none" stroke="#2a2a2a" stroke-width="0.55"/>
<circle cx="401.4" cy="668.5" r="1.5" fill="none" stroke="#2a2a2a" stroke-width="0.55"/>
<circle cx="407.5" cy="674.5" r="1.5" fill="none" stroke="#2a2a2a" stroke-width="0.55"/>
<circle cx="405.5" cy="641.1" r="1.5" fill="none" stroke="#2a2a2a" stroke-width="0.55"/>
<circle cx="406.3" cy="646.3" r="1.5" fill="none" stroke="#2a2a2a" stroke-width="0.55"/>
<circle cx="403.9" cy="660.0" r="1.5" fill="none" stroke="#2a2a2a" stroke-width="0.55"/>
<circle cx="405.9" cy="633.8" r="1.5" fill="none" stroke="#2a2a2a" stroke-width="0.55"/>
<circle cx="407.4" cy="649.0" r="1.5" fill="none" stroke="#2a2a2a" stroke-width="0.55"/>
<circle cx="406.0" cy="665.4" r="1.5" fill="none" stroke="#2a2a2a" stroke-width="0.55"/>
<circle cx="406.9" cy="662.8" r="1.5" fill="none" stroke="#2a2a2a" stroke-width="0.55"/>
<circle cx="399.9" cy="657.9" r="1.5" fill="none" stroke="#2a2a2a" stroke-width="0.55"/>
<circle cx="401.3" cy="631.9" r="1.5" fill="none" stroke="#2a2a2a" stroke-width="0.55"/>
<circle cx="404.1" cy="676.5" r="1.5" fill="none" stroke="#2a2a2a" stroke-width="0.55"/>
<circle cx="406.2" cy="657.6" r="1.5" fill="none" stroke="#2a2a2a" stroke-width="0.55"/>
<circle cx="401.8" cy="659.9" r="1.5" fill="none" stroke="#2a2a2a" stroke-width="0.55"/>
<circle cx="406.5" cy="657.0" r="1.5" fill="none" stroke="#2a2a2a" stroke-width="0.55"/>
<circle cx="406.0" cy="633.7" r="1.5" fill="none" stroke="#2a2a2a" stroke-width="0.55"/>
<circle cx="400.1" cy="636.7" r="1.5" fill="none" stroke="#2a2a2a" stroke-width="0.55"/>
<circle cx="404.4" cy="639.0" r="1.5" fill="none" stroke="#2a2a2a" stroke-width="0.55"/>
<circle cx="401.9" cy="672.0" r="1.5" fill="none" stroke="#2a2a2a" stroke-width="0.55"/>
<circle cx="400.2" cy="643.1" r="1.5" fill="none" stroke="#2a2a2a" stroke-width="0.55"/>
<circle cx="401.0" cy="649.3" r="1.5" fill="none" stroke="#2a2a2a" stroke-width="0.55"/>
<circle cx="402.8" cy="649.1" r="1.5" fill="none" stroke="#2a2a2a" stroke-width="0.55"/>
<circle cx="401.5" cy="657.8" r="1.5" fill="none" stroke="#2a2a2a" stroke-width="0.55"/>
<circle cx="401.6" cy="657.1" r="1.5" fill="none" stroke="#2a2a2a" stroke-width="0.55"/>
<circle cx="400.0" cy="654.6" r="1.5" fill="none" stroke="#2a2a2a" stroke-width="0.55"/>
<circle cx="404.3" cy="638.5" r="1.5" fill="none" stroke="#2a2a2a" stroke-width="0.55"/>
<circle cx="403.5" cy="653.6" r="1.5" fill="none" stroke="#2a2a2a" stroke-width="0.55"/>
<circle cx="405.8" cy="654.6" r="1.5" fill="none" stroke="#2a2a2a" stroke-width="0.55"/>
<circle cx="405.6" cy="664.7" r="1.5" fill="none" stroke="#2a2a2a" stroke-width="0.55"/>
<circle cx="402.0" cy="650.7" r="1.5" fill="none" stroke="#2a2a2a" stroke-width="0.55"/>
<circle cx="408.7" cy="645.4" r="1.5" fill="none" stroke="#2a2a2a" stroke-width="0.55"/>
<circle cx="399.7" cy="656.1" r="1.5" fill="none" stroke="#2a2a2a" stroke-width="0.55"/>
<circle cx="403.7" cy="635.5" r="1.5" fill="none" stroke="#2a2a2a" stroke-width="0.55"/>
<circle cx="402.4" cy="640.8" r="1.5" fill="none" stroke="#2a2a2a" stroke-width="0.55"/>
<circle cx="403.8" cy="641.2" r="1.5" fill="none" stroke="#2a2a2a" stroke-width="0.55"/>
<circle cx="400.8" cy="654.8" r="1.5" fill="none" stroke="#2a2a2a" stroke-width="0.55"/>
<circle cx="408.0" cy="673.8" r="1.5" fill="none" stroke="#2a2a2a" stroke-width="0.55"/>
<circle cx="403.4" cy="659.8" r="1.5" fill="none" stroke="#2a2a2a" stroke-width="0.55"/>
<circle cx="400.0" cy="663.8" r="1.5" fill="none" stroke="#2a2a2a" stroke-width="0.55"/>
<circle cx="405.8" cy="654.3" r="1.5" fill="none" stroke="#2a2a2a" stroke-width="0.55"/>
<circle cx="400.6" cy="654.7" r="1.5" fill="none" stroke="#2a2a2a" stroke-width="0.55"/>
<circle cx="405.1" cy="647.1" r="1.5" fill="none" stroke="#2a2a2a" stroke-width="0.55"/>
<circle cx="403.0" cy="648.8" r="1.5" fill="none" stroke="#2a2a2a" stroke-width="0.55"/>
<circle cx="405.5" cy="626.2" r="1.5" fill="none" stroke="#2a2a2a" stroke-width="0.55"/>
<line x1="449.7" y1="574.1" x2="449.7" y2="666.5" stroke="#666" stroke-width="0.8" stroke-dasharray="1.2,1.2"/>
<line x1="440.6" y1="574.1" x2="458.8" y2="574.1" stroke="#777" stroke-width="1"/>
<line x1="440.6" y1="666.5" x2="458.8" y2="666.5" stroke="#777" stroke-width="1"/>
<rect x="431.4" y="611.2" width="36.6" height="41.3" fill="#ff4a12" stroke="#333" stroke-width="0.9"/>
<line x1="431.4" y1="635.5" x2="468.0" y2="635.5" stroke="#111" stroke-width="1.8"/>
<circle cx="453.7" cy="650.8" r="1.5" fill="none" stroke="#2a2a2a" stroke-width="0.55"/>
<circle cx="447.4" cy="580.8" r="1.5" fill="none" stroke="#2a2a2a" stroke-width="0.55"/>
<circle cx="451.8" cy="611.8" r="1.5" fill="none" stroke="#2a2a2a" stroke-width="0.55"/>
<circle cx="455.8" cy="637.7" r="1.5" fill="none" stroke="#2a2a2a" stroke-width="0.55"/>
<circle cx="455.2" cy="635.6" r="1.5" fill="none" stroke="#2a2a2a" stroke-width="0.55"/>
<circle cx="448.1" cy="584.7" r="1.5" fill="none" stroke="#2a2a2a" stroke-width="0.55"/>
<circle cx="451.0" cy="645.1" r="1.5" fill="none" stroke="#2a2a2a" stroke-width="0.55"/>
<circle cx="447.4" cy="598.8" r="1.5" fill="none" stroke="#2a2a2a" stroke-width="0.55"/>
<circle cx="448.4" cy="627.7" r="1.5" fill="none" stroke="#2a2a2a" stroke-width="0.55"/>
<circle cx="449.5" cy="631.5" r="1.5" fill="none" stroke="#2a2a2a" stroke-width="0.55"/>
<circle cx="453.5" cy="604.1" r="1.5" fill="none" stroke="#2a2a2a" stroke-width="0.55"/>
<circle cx="455.4" cy="590.5" r="1.5" fill="none" stroke="#2a2a2a" stroke-width="0.55"/>
<circle cx="447.0" cy="624.5" r="1.5" fill="none" stroke="#2a2a2a" stroke-width="0.55"/>
<circle cx="443.3" cy="649.1" r="1.5" fill="none" stroke="#2a2a2a" stroke-width="0.55"/>
<circle cx="449.0" cy="643.7" r="1.5" fill="none" stroke="#2a2a2a" stroke-width="0.55"/>
<circle cx="443.9" cy="612.9" r="1.5" fill="none" stroke="#2a2a2a" stroke-width="0.55"/>
<circle cx="443.6" cy="650.8" r="1.5" fill="none" stroke="#2a2a2a" stroke-width="0.55"/>
<circle cx="453.3" cy="591.5" r="1.5" fill="none" stroke="#2a2a2a" stroke-width="0.55"/>
<circle cx="444.7" cy="650.9" r="1.5" fill="none" stroke="#2a2a2a" stroke-width="0.55"/>
<circle cx="452.5" cy="612.6" r="1.5" fill="none" stroke="#2a2a2a" stroke-width="0.55"/>
<circle cx="447.9" cy="665.8" r="1.5" fill="none" stroke="#2a2a2a" stroke-width="0.55"/>
<circle cx="455.4" cy="646.7" r="1.5" fill="none" stroke="#2a2a2a" stroke-width="0.55"/>
<circle cx="454.3" cy="604.2" r="1.5" fill="none" stroke="#2a2a2a" stroke-width="0.55"/>
<circle cx="444.0" cy="652.4" r="1.5" fill="none" stroke="#2a2a2a" stroke-width="0.55"/>
<circle cx="445.7" cy="646.8" r="1.5" fill="none" stroke="#2a2a2a" stroke-width="0.55"/>
<circle cx="455.5" cy="618.7" r="1.5" fill="none" stroke="#2a2a2a" stroke-width="0.55"/>
<circle cx="451.2" cy="616.5" r="1.5" fill="none" stroke="#2a2a2a" stroke-width="0.55"/>
<circle cx="448.7" cy="623.2" r="1.5" fill="none" stroke="#2a2a2a" stroke-width="0.55"/>
<circle cx="453.4" cy="649.1" r="1.5" fill="none" stroke="#2a2a2a" stroke-width="0.55"/>
<circle cx="453.8" cy="590.1" r="1.5" fill="none" stroke="#2a2a2a" stroke-width="0.55"/>
<circle cx="449.6" cy="666.5" r="1.5" fill="none" stroke="#2a2a2a" stroke-width="0.55"/>
<circle cx="449.3" cy="615.7" r="1.5" fill="none" stroke="#2a2a2a" stroke-width="0.55"/>
<circle cx="444.5" cy="606.4" r="1.5" fill="none" stroke="#2a2a2a" stroke-width="0.55"/>
<circle cx="447.9" cy="598.2" r="1.5" fill="none" stroke="#2a2a2a" stroke-width="0.55"/>
<circle cx="445.1" cy="664.1" r="1.5" fill="none" stroke="#2a2a2a" stroke-width="0.55"/>
<circle cx="451.3" cy="664.0" r="1.5" fill="none" stroke="#2a2a2a" stroke-width="0.55"/>
<circle cx="451.1" cy="640.6" r="1.5" fill="none" stroke="#2a2a2a" stroke-width="0.55"/>
<circle cx="445.1" cy="614.6" r="1.5" fill="none" stroke="#2a2a2a" stroke-width="0.55"/>
<circle cx="451.4" cy="620.0" r="1.5" fill="none" stroke="#2a2a2a" stroke-width="0.55"/>
<circle cx="444.5" cy="624.3" r="1.5" fill="none" stroke="#2a2a2a" stroke-width="0.55"/>
<circle cx="444.6" cy="628.5" r="1.5" fill="none" stroke="#2a2a2a" stroke-width="0.55"/>
<circle cx="451.6" cy="662.7" r="1.5" fill="none" stroke="#2a2a2a" stroke-width="0.55"/>
<circle cx="449.2" cy="610.0" r="1.5" fill="none" stroke="#2a2a2a" stroke-width="0.55"/>
<circle cx="454.9" cy="665.7" r="1.5" fill="none" stroke="#2a2a2a" stroke-width="0.55"/>
<circle cx="451.4" cy="627.8" r="1.5" fill="none" stroke="#2a2a2a" stroke-width="0.55"/>
<circle cx="452.3" cy="654.2" r="1.5" fill="none" stroke="#2a2a2a" stroke-width="0.55"/>
<circle cx="444.9" cy="618.9" r="1.5" fill="none" stroke="#2a2a2a" stroke-width="0.55"/>
<circle cx="454.0" cy="637.2" r="1.5" fill="none" stroke="#2a2a2a" stroke-width="0.55"/>
<circle cx="444.3" cy="650.8" r="1.5" fill="none" stroke="#2a2a2a" stroke-width="0.55"/>
<circle cx="451.2" cy="633.9" r="1.5" fill="none" stroke="#2a2a2a" stroke-width="0.55"/>
<circle cx="455.0" cy="630.9" r="1.5" fill="none" stroke="#2a2a2a" stroke-width="0.55"/>
<circle cx="455.0" cy="636.5" r="1.5" fill="none" stroke="#2a2a2a" stroke-width="0.55"/>
<circle cx="454.8" cy="629.9" r="1.5" fill="none" stroke="#2a2a2a" stroke-width="0.55"/>
<circle cx="449.1" cy="602.5" r="1.5" fill="none" stroke="#2a2a2a" stroke-width="0.55"/>
<circle cx="452.2" cy="616.5" r="1.5" fill="none" stroke="#2a2a2a" stroke-width="0.55"/>
<circle cx="453.5" cy="617.6" r="1.5" fill="none" stroke="#2a2a2a" stroke-width="0.55"/>
<circle cx="445.0" cy="613.7" r="1.5" fill="none" stroke="#2a2a2a" stroke-width="0.55"/>
<circle cx="455.5" cy="656.7" r="1.5" fill="none" stroke="#2a2a2a" stroke-width="0.55"/>
<circle cx="455.0" cy="665.8" r="1.5" fill="none" stroke="#2a2a2a" stroke-width="0.55"/>
<circle cx="448.9" cy="646.1" r="1.5" fill="none" stroke="#2a2a2a" stroke-width="0.55"/>
<circle cx="453.3" cy="634.8" r="1.5" fill="none" stroke="#2a2a2a" stroke-width="0.55"/>
<circle cx="449.0" cy="604.7" r="1.5" fill="none" stroke="#2a2a2a" stroke-width="0.55"/>
<circle cx="446.8" cy="658.3" r="1.5" fill="none" stroke="#2a2a2a" stroke-width="0.55"/>
<circle cx="452.5" cy="632.8" r="1.5" fill="none" stroke="#2a2a2a" stroke-width="0.55"/>
<circle cx="444.0" cy="627.1" r="1.5" fill="none" stroke="#2a2a2a" stroke-width="0.55"/>
<circle cx="453.6" cy="604.6" r="1.5" fill="none" stroke="#2a2a2a" stroke-width="0.55"/>
<circle cx="455.9" cy="579.2" r="1.5" fill="none" stroke="#2a2a2a" stroke-width="0.55"/>
<circle cx="446.9" cy="580.9" r="1.5" fill="none" stroke="#2a2a2a" stroke-width="0.55"/>
<circle cx="455.4" cy="654.3" r="1.5" fill="none" stroke="#2a2a2a" stroke-width="0.55"/>
<circle cx="444.3" cy="646.0" r="1.5" fill="none" stroke="#2a2a2a" stroke-width="0.55"/>
<circle cx="454.4" cy="600.1" r="1.5" fill="none" stroke="#2a2a2a" stroke-width="0.55"/>
<circle cx="446.8" cy="588.4" r="1.5" fill="none" stroke="#2a2a2a" stroke-width="0.55"/>
<circle cx="455.8" cy="644.2" r="1.5" fill="none" stroke="#2a2a2a" stroke-width="0.55"/>
<circle cx="448.8" cy="624.6" r="1.5" fill="none" stroke="#2a2a2a" stroke-width="0.55"/>
<circle cx="455.2" cy="642.5" r="1.5" fill="none" stroke="#2a2a2a" stroke-width="0.55"/>
<circle cx="443.6" cy="635.0" r="1.5" fill="none" stroke="#2a2a2a" stroke-width="0.55"/>
<circle cx="444.3" cy="611.5" r="1.5" fill="none" stroke="#2a2a2a" stroke-width="0.55"/>
<circle cx="453.8" cy="582.1" r="1.5" fill="none" stroke="#2a2a2a" stroke-width="0.55"/>
<circle cx="451.5" cy="639.6" r="1.5" fill="none" stroke="#2a2a2a" stroke-width="0.55"/>
<circle cx="450.2" cy="638.5" r="1.5" fill="none" stroke="#2a2a2a" stroke-width="0.55"/>
<circle cx="443.6" cy="641.2" r="1.5" fill="none" stroke="#2a2a2a" stroke-width="0.55"/>
<circle cx="445.5" cy="664.6" r="1.5" fill="none" stroke="#2a2a2a" stroke-width="0.55"/>
<circle cx="448.0" cy="664.1" r="1.5" fill="none" stroke="#2a2a2a" stroke-width="0.55"/>
<circle cx="443.9" cy="620.4" r="1.5" fill="none" stroke="#2a2a2a" stroke-width="0.55"/>
<circle cx="456.1" cy="653.5" r="1.5" fill="none" stroke="#2a2a2a" stroke-width="0.55"/>
<circle cx="453.1" cy="656.5" r="1.5" fill="none" stroke="#2a2a2a" stroke-width="0.55"/>
<circle cx="455.5" cy="634.6" r="1.5" fill="none" stroke="#2a2a2a" stroke-width="0.55"/>
<circle cx="452.3" cy="666.9" r="1.5" fill="none" stroke="#2a2a2a" stroke-width="0.55"/>
<circle cx="447.7" cy="666.1" r="1.5" fill="none" stroke="#2a2a2a" stroke-width="0.55"/>
<circle cx="444.2" cy="606.5" r="1.5" fill="none" stroke="#2a2a2a" stroke-width="0.55"/>
<circle cx="452.7" cy="631.6" r="1.5" fill="none" stroke="#2a2a2a" stroke-width="0.55"/>
<circle cx="444.7" cy="618.7" r="1.5" fill="none" stroke="#2a2a2a" stroke-width="0.55"/>
<circle cx="450.3" cy="637.8" r="1.5" fill="none" stroke="#2a2a2a" stroke-width="0.55"/>
<circle cx="449.2" cy="616.7" r="1.5" fill="none" stroke="#2a2a2a" stroke-width="0.55"/>
<circle cx="449.6" cy="653.7" r="1.5" fill="none" stroke="#2a2a2a" stroke-width="0.55"/>
<circle cx="405.7" cy="596.9" r="1.5" fill="none" stroke="#2a2a2a" stroke-width="0.55"/>
<circle cx="403.5" cy="683.5" r="1.5" fill="none" stroke="#2a2a2a" stroke-width="0.55"/>
<circle cx="405.0" cy="686.5" r="1.5" fill="none" stroke="#2a2a2a" stroke-width="0.55"/>
<polyline points="404.5,741.1 404.5,738.1 449.6,738.1 449.6,741.1" fill="none" stroke="#999" stroke-width="1.1"/>
<text x="362.1" y="755.0" font-size="13.4" font-weight="bold" text-anchor="start" fill="#111" >Cluster-P</text>
<text x="430.4" y="755.0" font-size="13.4" font-weight="bold" text-anchor="start" fill="#111" >Cluster-B/R</text>
<text x="541.7" y="537.8" font-size="13.3" font-weight="bold" text-anchor="start" fill="#111" >qPCR</text>
<line x1="534.0" y1="540.8" x2="534.0" y2="729.6" stroke="#aaa" stroke-width="1.1"/>
<line x1="530.0" y1="540.8" x2="534.0" y2="540.8" stroke="#aaa" stroke-width="1.1"/>
<text x="527.0" y="544.8" font-size="10.9" font-weight="normal" text-anchor="end" fill="#222" >3</text>
<line x1="530.0" y1="588.0" x2="534.0" y2="588.0" stroke="#aaa" stroke-width="1.1"/>
<text x="527.0" y="592.0" font-size="10.9" font-weight="normal" text-anchor="end" fill="#222" >2</text>
<line x1="530.0" y1="635.2" x2="534.0" y2="635.2" stroke="#aaa" stroke-width="1.1"/>
<text x="527.0" y="639.2" font-size="10.9" font-weight="normal" text-anchor="end" fill="#222" >1</text>
<line x1="530.0" y1="682.4" x2="534.0" y2="682.4" stroke="#aaa" stroke-width="1.1"/>
<text x="527.0" y="686.4" font-size="10.9" font-weight="normal" text-anchor="end" fill="#222" >0</text>
<line x1="530.0" y1="729.6" x2="534.0" y2="729.6" stroke="#aaa" stroke-width="1.1"/>
<text x="527.0" y="733.6" font-size="10.9" font-weight="normal" text-anchor="end" fill="#222" >&#8722;1</text>
<text transform="translate(507.0,631.8) rotate(-90)" x="0" y="0" font-size="11.8" font-weight="bold" text-anchor="middle" fill="#111">Bacillota/ Bacteroidota ratio (log 10)</text>
<text x="551.0" y="562.4" font-size="11.6" font-weight="bold" fill="#111">P = 1.19 x 10<tspan dy="-4.3" font-size="8.6">-5</tspan></text>
<line x1="562.8" y1="571.0" x2="594.7" y2="571.0" stroke="#9a9a9a" stroke-width="1.6" stroke-dasharray="4.2,2.8"/>
<polyline points="565.8,567.6 561.8,571.0 565.8,574.4" fill="none" stroke="#9a9a9a" stroke-width="1.6" stroke-linejoin="round"/>
<polyline points="591.7,567.6 595.7,571.0 591.7,574.4" fill="none" stroke="#9a9a9a" stroke-width="1.6" stroke-linejoin="round"/>
<line x1="560.6" y1="627.0" x2="560.6" y2="681.1" stroke="#666" stroke-width="0.8" stroke-dasharray="1.2,1.2"/>
<line x1="551.4" y1="627.0" x2="569.9" y2="627.0" stroke="#777" stroke-width="1"/>
<line x1="551.4" y1="681.1" x2="569.9" y2="681.1" stroke="#777" stroke-width="1"/>
<rect x="542.4" y="654.1" width="36.5" height="19.4" fill="#3f8f84" stroke="#333" stroke-width="0.9"/>
<line x1="542.4" y1="665.4" x2="578.9" y2="665.4" stroke="#111" stroke-width="1.8"/>
<circle cx="559.2" cy="661.7" r="1.5" fill="none" stroke="#2a2a2a" stroke-width="0.55"/>
<circle cx="556.6" cy="672.7" r="1.5" fill="none" stroke="#2a2a2a" stroke-width="0.55"/>
<circle cx="556.2" cy="662.2" r="1.5" fill="none" stroke="#2a2a2a" stroke-width="0.55"/>
<circle cx="557.5" cy="660.9" r="1.5" fill="none" stroke="#2a2a2a" stroke-width="0.55"/>
<circle cx="557.1" cy="652.0" r="1.5" fill="none" stroke="#2a2a2a" stroke-width="0.55"/>
<circle cx="559.4" cy="662.3" r="1.5" fill="none" stroke="#2a2a2a" stroke-width="0.55"/>
<circle cx="556.4" cy="681.4" r="1.5" fill="none" stroke="#2a2a2a" stroke-width="0.55"/>
<circle cx="564.0" cy="671.5" r="1.5" fill="none" stroke="#2a2a2a" stroke-width="0.55"/>
<circle cx="561.7" cy="680.3" r="1.5" fill="none" stroke="#2a2a2a" stroke-width="0.55"/>
<circle cx="557.5" cy="669.0" r="1.5" fill="none" stroke="#2a2a2a" stroke-width="0.55"/>
<circle cx="558.4" cy="671.1" r="1.5" fill="none" stroke="#2a2a2a" stroke-width="0.55"/>
<circle cx="559.3" cy="668.1" r="1.5" fill="none" stroke="#2a2a2a" stroke-width="0.55"/>
<circle cx="559.4" cy="641.5" r="1.5" fill="none" stroke="#2a2a2a" stroke-width="0.55"/>
<circle cx="557.3" cy="677.7" r="1.5" fill="none" stroke="#2a2a2a" stroke-width="0.55"/>
<circle cx="563.8" cy="672.7" r="1.5" fill="none" stroke="#2a2a2a" stroke-width="0.55"/>
<circle cx="565.1" cy="672.6" r="1.5" fill="none" stroke="#2a2a2a" stroke-width="0.55"/>
<circle cx="560.3" cy="641.1" r="1.5" fill="none" stroke="#2a2a2a" stroke-width="0.55"/>
<circle cx="560.5" cy="640.3" r="1.5" fill="none" stroke="#2a2a2a" stroke-width="0.55"/>
<circle cx="556.9" cy="652.6" r="1.5" fill="none" stroke="#2a2a2a" stroke-width="0.55"/>
<circle cx="557.1" cy="658.7" r="1.5" fill="none" stroke="#2a2a2a" stroke-width="0.55"/>
<circle cx="559.2" cy="669.8" r="1.5" fill="none" stroke="#2a2a2a" stroke-width="0.55"/>
<circle cx="558.5" cy="664.7" r="1.5" fill="none" stroke="#2a2a2a" stroke-width="0.55"/>
<circle cx="563.6" cy="672.9" r="1.5" fill="none" stroke="#2a2a2a" stroke-width="0.55"/>
<circle cx="557.6" cy="656.2" r="1.5" fill="none" stroke="#2a2a2a" stroke-width="0.55"/>
<circle cx="556.4" cy="669.8" r="1.5" fill="none" stroke="#2a2a2a" stroke-width="0.55"/>
<circle cx="564.7" cy="671.1" r="1.5" fill="none" stroke="#2a2a2a" stroke-width="0.55"/>
<circle cx="560.9" cy="655.9" r="1.5" fill="none" stroke="#2a2a2a" stroke-width="0.55"/>
<circle cx="557.5" cy="673.4" r="1.5" fill="none" stroke="#2a2a2a" stroke-width="0.55"/>
<circle cx="561.0" cy="656.5" r="1.5" fill="none" stroke="#2a2a2a" stroke-width="0.55"/>
<circle cx="556.4" cy="654.8" r="1.5" fill="none" stroke="#2a2a2a" stroke-width="0.55"/>
<circle cx="560.9" cy="660.5" r="1.5" fill="none" stroke="#2a2a2a" stroke-width="0.55"/>
<circle cx="565.0" cy="663.9" r="1.5" fill="none" stroke="#2a2a2a" stroke-width="0.55"/>
<circle cx="563.9" cy="674.5" r="1.5" fill="none" stroke="#2a2a2a" stroke-width="0.55"/>
<circle cx="562.4" cy="669.0" r="1.5" fill="none" stroke="#2a2a2a" stroke-width="0.55"/>
<circle cx="558.5" cy="659.0" r="1.5" fill="none" stroke="#2a2a2a" stroke-width="0.55"/>
<circle cx="559.5" cy="651.6" r="1.5" fill="none" stroke="#2a2a2a" stroke-width="0.55"/>
<circle cx="557.7" cy="657.9" r="1.5" fill="none" stroke="#2a2a2a" stroke-width="0.55"/>
<circle cx="563.1" cy="653.8" r="1.5" fill="none" stroke="#2a2a2a" stroke-width="0.55"/>
<circle cx="560.9" cy="668.9" r="1.5" fill="none" stroke="#2a2a2a" stroke-width="0.55"/>
<circle cx="563.2" cy="671.5" r="1.5" fill="none" stroke="#2a2a2a" stroke-width="0.55"/>
<circle cx="559.1" cy="644.0" r="1.5" fill="none" stroke="#2a2a2a" stroke-width="0.55"/>
<circle cx="558.2" cy="666.1" r="1.5" fill="none" stroke="#2a2a2a" stroke-width="0.55"/>
<circle cx="563.5" cy="636.5" r="1.5" fill="none" stroke="#2a2a2a" stroke-width="0.55"/>
<circle cx="565.0" cy="660.8" r="1.5" fill="none" stroke="#2a2a2a" stroke-width="0.55"/>
<circle cx="563.8" cy="663.9" r="1.5" fill="none" stroke="#2a2a2a" stroke-width="0.55"/>
<circle cx="563.4" cy="653.7" r="1.5" fill="none" stroke="#2a2a2a" stroke-width="0.55"/>
<circle cx="563.5" cy="672.5" r="1.5" fill="none" stroke="#2a2a2a" stroke-width="0.55"/>
<circle cx="562.8" cy="664.5" r="1.5" fill="none" stroke="#2a2a2a" stroke-width="0.55"/>
<circle cx="558.2" cy="644.4" r="1.5" fill="none" stroke="#2a2a2a" stroke-width="0.55"/>
<circle cx="560.8" cy="677.3" r="1.5" fill="none" stroke="#2a2a2a" stroke-width="0.55"/>
<circle cx="559.4" cy="675.0" r="1.5" fill="none" stroke="#2a2a2a" stroke-width="0.55"/>
<circle cx="556.4" cy="679.0" r="1.5" fill="none" stroke="#2a2a2a" stroke-width="0.55"/>
<circle cx="556.4" cy="670.6" r="1.5" fill="none" stroke="#2a2a2a" stroke-width="0.55"/>
<circle cx="558.7" cy="667.1" r="1.5" fill="none" stroke="#2a2a2a" stroke-width="0.55"/>
<circle cx="558.5" cy="646.7" r="1.5" fill="none" stroke="#2a2a2a" stroke-width="0.55"/>
<circle cx="562.4" cy="674.2" r="1.5" fill="none" stroke="#2a2a2a" stroke-width="0.55"/>
<circle cx="564.8" cy="656.6" r="1.5" fill="none" stroke="#2a2a2a" stroke-width="0.55"/>
<circle cx="560.2" cy="658.9" r="1.5" fill="none" stroke="#2a2a2a" stroke-width="0.55"/>
<circle cx="564.6" cy="647.2" r="1.5" fill="none" stroke="#2a2a2a" stroke-width="0.55"/>
<circle cx="565.0" cy="651.5" r="1.5" fill="none" stroke="#2a2a2a" stroke-width="0.55"/>
<circle cx="564.7" cy="657.8" r="1.5" fill="none" stroke="#2a2a2a" stroke-width="0.55"/>
<circle cx="559.4" cy="636.2" r="1.5" fill="none" stroke="#2a2a2a" stroke-width="0.55"/>
<circle cx="558.1" cy="644.5" r="1.5" fill="none" stroke="#2a2a2a" stroke-width="0.55"/>
<circle cx="558.2" cy="668.8" r="1.5" fill="none" stroke="#2a2a2a" stroke-width="0.55"/>
<circle cx="557.9" cy="673.7" r="1.5" fill="none" stroke="#2a2a2a" stroke-width="0.55"/>
<circle cx="558.0" cy="638.1" r="1.5" fill="none" stroke="#2a2a2a" stroke-width="0.55"/>
<circle cx="561.8" cy="629.2" r="1.5" fill="none" stroke="#2a2a2a" stroke-width="0.55"/>
<circle cx="564.3" cy="670.5" r="1.5" fill="none" stroke="#2a2a2a" stroke-width="0.55"/>
<circle cx="563.7" cy="654.8" r="1.5" fill="none" stroke="#2a2a2a" stroke-width="0.55"/>
<circle cx="560.5" cy="649.3" r="1.5" fill="none" stroke="#2a2a2a" stroke-width="0.55"/>
<circle cx="562.0" cy="679.4" r="1.5" fill="none" stroke="#2a2a2a" stroke-width="0.55"/>
<circle cx="563.3" cy="681.2" r="1.5" fill="none" stroke="#2a2a2a" stroke-width="0.55"/>
<circle cx="556.9" cy="667.7" r="1.5" fill="none" stroke="#2a2a2a" stroke-width="0.55"/>
<circle cx="562.1" cy="668.9" r="1.5" fill="none" stroke="#2a2a2a" stroke-width="0.55"/>
<circle cx="564.3" cy="671.6" r="1.5" fill="none" stroke="#2a2a2a" stroke-width="0.55"/>
<circle cx="563.2" cy="674.3" r="1.5" fill="none" stroke="#2a2a2a" stroke-width="0.55"/>
<circle cx="562.9" cy="672.9" r="1.5" fill="none" stroke="#2a2a2a" stroke-width="0.55"/>
<circle cx="560.5" cy="673.3" r="1.5" fill="none" stroke="#2a2a2a" stroke-width="0.55"/>
<circle cx="557.8" cy="642.9" r="1.5" fill="none" stroke="#2a2a2a" stroke-width="0.55"/>
<circle cx="563.3" cy="679.1" r="1.5" fill="none" stroke="#2a2a2a" stroke-width="0.55"/>
<circle cx="559.1" cy="673.0" r="1.5" fill="none" stroke="#2a2a2a" stroke-width="0.55"/>
<circle cx="563.4" cy="637.0" r="1.5" fill="none" stroke="#2a2a2a" stroke-width="0.55"/>
<circle cx="564.9" cy="656.3" r="1.5" fill="none" stroke="#2a2a2a" stroke-width="0.55"/>
<circle cx="559.7" cy="677.5" r="1.5" fill="none" stroke="#2a2a2a" stroke-width="0.55"/>
<circle cx="559.8" cy="639.4" r="1.5" fill="none" stroke="#2a2a2a" stroke-width="0.55"/>
<circle cx="564.7" cy="662.8" r="1.5" fill="none" stroke="#2a2a2a" stroke-width="0.55"/>
<circle cx="562.7" cy="680.1" r="1.5" fill="none" stroke="#2a2a2a" stroke-width="0.55"/>
<circle cx="557.7" cy="646.6" r="1.5" fill="none" stroke="#2a2a2a" stroke-width="0.55"/>
<circle cx="557.3" cy="673.3" r="1.5" fill="none" stroke="#2a2a2a" stroke-width="0.55"/>
<circle cx="557.5" cy="663.2" r="1.5" fill="none" stroke="#2a2a2a" stroke-width="0.55"/>
<circle cx="564.3" cy="670.1" r="1.5" fill="none" stroke="#2a2a2a" stroke-width="0.55"/>
<circle cx="563.4" cy="674.7" r="1.5" fill="none" stroke="#2a2a2a" stroke-width="0.55"/>
<circle cx="557.5" cy="667.1" r="1.5" fill="none" stroke="#2a2a2a" stroke-width="0.55"/>
<circle cx="563.6" cy="681.9" r="1.5" fill="none" stroke="#2a2a2a" stroke-width="0.55"/>
<circle cx="565.0" cy="655.9" r="1.5" fill="none" stroke="#2a2a2a" stroke-width="0.55"/>
<circle cx="562.1" cy="659.4" r="1.5" fill="none" stroke="#2a2a2a" stroke-width="0.55"/>
<circle cx="559.3" cy="680.4" r="1.5" fill="none" stroke="#2a2a2a" stroke-width="0.55"/>
<circle cx="561.1" cy="665.8" r="1.5" fill="none" stroke="#2a2a2a" stroke-width="0.55"/>
<circle cx="557.3" cy="652.7" r="1.5" fill="none" stroke="#2a2a2a" stroke-width="0.55"/>
<circle cx="556.3" cy="679.0" r="1.5" fill="none" stroke="#2a2a2a" stroke-width="0.55"/>
<circle cx="564.9" cy="659.0" r="1.5" fill="none" stroke="#2a2a2a" stroke-width="0.55"/>
<circle cx="562.0" cy="645.6" r="1.5" fill="none" stroke="#2a2a2a" stroke-width="0.55"/>
<circle cx="560.9" cy="663.5" r="1.5" fill="none" stroke="#2a2a2a" stroke-width="0.55"/>
<circle cx="564.6" cy="663.3" r="1.5" fill="none" stroke="#2a2a2a" stroke-width="0.55"/>
<circle cx="560.1" cy="661.1" r="1.5" fill="none" stroke="#2a2a2a" stroke-width="0.55"/>
<circle cx="564.0" cy="650.6" r="1.5" fill="none" stroke="#2a2a2a" stroke-width="0.55"/>
<circle cx="563.6" cy="647.2" r="1.5" fill="none" stroke="#2a2a2a" stroke-width="0.55"/>
<circle cx="558.0" cy="654.1" r="1.5" fill="none" stroke="#2a2a2a" stroke-width="0.55"/>
<circle cx="558.4" cy="674.5" r="1.5" fill="none" stroke="#2a2a2a" stroke-width="0.55"/>
<circle cx="558.8" cy="681.6" r="1.5" fill="none" stroke="#2a2a2a" stroke-width="0.55"/>
<circle cx="558.3" cy="677.7" r="1.5" fill="none" stroke="#2a2a2a" stroke-width="0.55"/>
<circle cx="561.4" cy="670.4" r="1.5" fill="none" stroke="#2a2a2a" stroke-width="0.55"/>
<circle cx="558.5" cy="667.4" r="1.5" fill="none" stroke="#2a2a2a" stroke-width="0.55"/>
<circle cx="559.9" cy="667.6" r="1.5" fill="none" stroke="#2a2a2a" stroke-width="0.55"/>
<circle cx="557.3" cy="673.7" r="1.5" fill="none" stroke="#2a2a2a" stroke-width="0.55"/>
<line x1="605.5" y1="604.4" x2="605.5" y2="681.1" stroke="#666" stroke-width="0.8" stroke-dasharray="1.2,1.2"/>
<line x1="596.2" y1="604.4" x2="614.7" y2="604.4" stroke="#777" stroke-width="1"/>
<line x1="596.2" y1="681.1" x2="614.7" y2="681.1" stroke="#777" stroke-width="1"/>
<rect x="587.2" y="639.7" width="36.5" height="24.6" fill="#ff4a12" stroke="#333" stroke-width="0.9"/>
<line x1="587.2" y1="653.2" x2="623.7" y2="653.2" stroke="#111" stroke-width="1.8"/>
<circle cx="604.1" cy="660.0" r="1.5" fill="none" stroke="#2a2a2a" stroke-width="0.55"/>
<circle cx="606.3" cy="673.2" r="1.5" fill="none" stroke="#2a2a2a" stroke-width="0.55"/>
<circle cx="608.4" cy="673.5" r="1.5" fill="none" stroke="#2a2a2a" stroke-width="0.55"/>
<circle cx="603.7" cy="665.0" r="1.5" fill="none" stroke="#2a2a2a" stroke-width="0.55"/>
<circle cx="611.0" cy="660.2" r="1.5" fill="none" stroke="#2a2a2a" stroke-width="0.55"/>
<circle cx="599.5" cy="665.7" r="1.5" fill="none" stroke="#2a2a2a" stroke-width="0.55"/>
<circle cx="609.5" cy="653.1" r="1.5" fill="none" stroke="#2a2a2a" stroke-width="0.55"/>
<circle cx="602.0" cy="640.5" r="1.5" fill="none" stroke="#2a2a2a" stroke-width="0.55"/>
<circle cx="610.0" cy="637.5" r="1.5" fill="none" stroke="#2a2a2a" stroke-width="0.55"/>
<circle cx="599.8" cy="632.8" r="1.5" fill="none" stroke="#2a2a2a" stroke-width="0.55"/>
<circle cx="611.0" cy="659.4" r="1.5" fill="none" stroke="#2a2a2a" stroke-width="0.55"/>
<circle cx="608.6" cy="665.4" r="1.5" fill="none" stroke="#2a2a2a" stroke-width="0.55"/>
<circle cx="611.3" cy="664.5" r="1.5" fill="none" stroke="#2a2a2a" stroke-width="0.55"/>
<circle cx="606.4" cy="660.3" r="1.5" fill="none" stroke="#2a2a2a" stroke-width="0.55"/>
<circle cx="601.6" cy="667.4" r="1.5" fill="none" stroke="#2a2a2a" stroke-width="0.55"/>
<circle cx="611.1" cy="655.0" r="1.5" fill="none" stroke="#2a2a2a" stroke-width="0.55"/>
<circle cx="604.7" cy="620.3" r="1.5" fill="none" stroke="#2a2a2a" stroke-width="0.55"/>
<circle cx="600.5" cy="674.7" r="1.5" fill="none" stroke="#2a2a2a" stroke-width="0.55"/>
<circle cx="606.7" cy="646.7" r="1.5" fill="none" stroke="#2a2a2a" stroke-width="0.55"/>
<circle cx="605.4" cy="659.4" r="1.5" fill="none" stroke="#2a2a2a" stroke-width="0.55"/>
<circle cx="605.1" cy="650.2" r="1.5" fill="none" stroke="#2a2a2a" stroke-width="0.55"/>
<circle cx="601.3" cy="676.6" r="1.5" fill="none" stroke="#2a2a2a" stroke-width="0.55"/>
<circle cx="600.9" cy="663.0" r="1.5" fill="none" stroke="#2a2a2a" stroke-width="0.55"/>
<circle cx="606.4" cy="634.0" r="1.5" fill="none" stroke="#2a2a2a" stroke-width="0.55"/>
<circle cx="604.9" cy="671.9" r="1.5" fill="none" stroke="#2a2a2a" stroke-width="0.55"/>
<circle cx="601.0" cy="638.5" r="1.5" fill="none" stroke="#2a2a2a" stroke-width="0.55"/>
<circle cx="604.7" cy="676.9" r="1.5" fill="none" stroke="#2a2a2a" stroke-width="0.55"/>
<circle cx="608.2" cy="626.8" r="1.5" fill="none" stroke="#2a2a2a" stroke-width="0.55"/>
<circle cx="608.0" cy="653.6" r="1.5" fill="none" stroke="#2a2a2a" stroke-width="0.55"/>
<circle cx="605.1" cy="672.8" r="1.5" fill="none" stroke="#2a2a2a" stroke-width="0.55"/>
<circle cx="604.2" cy="639.2" r="1.5" fill="none" stroke="#2a2a2a" stroke-width="0.55"/>
<circle cx="603.8" cy="657.4" r="1.5" fill="none" stroke="#2a2a2a" stroke-width="0.55"/>
<circle cx="602.2" cy="658.4" r="1.5" fill="none" stroke="#2a2a2a" stroke-width="0.55"/>
<circle cx="601.8" cy="673.1" r="1.5" fill="none" stroke="#2a2a2a" stroke-width="0.55"/>
<circle cx="604.8" cy="646.2" r="1.5" fill="none" stroke="#2a2a2a" stroke-width="0.55"/>
<circle cx="600.7" cy="668.4" r="1.5" fill="none" stroke="#2a2a2a" stroke-width="0.55"/>
<circle cx="608.2" cy="627.3" r="1.5" fill="none" stroke="#2a2a2a" stroke-width="0.55"/>
<circle cx="607.9" cy="639.2" r="1.5" fill="none" stroke="#2a2a2a" stroke-width="0.55"/>
<circle cx="606.8" cy="664.2" r="1.5" fill="none" stroke="#2a2a2a" stroke-width="0.55"/>
<circle cx="599.7" cy="643.0" r="1.5" fill="none" stroke="#2a2a2a" stroke-width="0.55"/>
<circle cx="603.8" cy="630.0" r="1.5" fill="none" stroke="#2a2a2a" stroke-width="0.55"/>
<circle cx="604.6" cy="673.7" r="1.5" fill="none" stroke="#2a2a2a" stroke-width="0.55"/>
<circle cx="600.6" cy="676.4" r="1.5" fill="none" stroke="#2a2a2a" stroke-width="0.55"/>
<circle cx="611.1" cy="676.0" r="1.5" fill="none" stroke="#2a2a2a" stroke-width="0.55"/>
<circle cx="608.5" cy="669.3" r="1.5" fill="none" stroke="#2a2a2a" stroke-width="0.55"/>
<circle cx="605.5" cy="640.0" r="1.5" fill="none" stroke="#2a2a2a" stroke-width="0.55"/>
<circle cx="607.9" cy="610.6" r="1.5" fill="none" stroke="#2a2a2a" stroke-width="0.55"/>
<circle cx="601.9" cy="665.2" r="1.5" fill="none" stroke="#2a2a2a" stroke-width="0.55"/>
<circle cx="602.2" cy="635.2" r="1.5" fill="none" stroke="#2a2a2a" stroke-width="0.55"/>
<circle cx="605.8" cy="656.6" r="1.5" fill="none" stroke="#2a2a2a" stroke-width="0.55"/>
<circle cx="608.4" cy="663.0" r="1.5" fill="none" stroke="#2a2a2a" stroke-width="0.55"/>
<circle cx="607.2" cy="631.8" r="1.5" fill="none" stroke="#2a2a2a" stroke-width="0.55"/>
<circle cx="599.5" cy="649.3" r="1.5" fill="none" stroke="#2a2a2a" stroke-width="0.55"/>
<circle cx="606.8" cy="670.3" r="1.5" fill="none" stroke="#2a2a2a" stroke-width="0.55"/>
<circle cx="610.4" cy="624.9" r="1.5" fill="none" stroke="#2a2a2a" stroke-width="0.55"/>
<circle cx="608.4" cy="651.9" r="1.5" fill="none" stroke="#2a2a2a" stroke-width="0.55"/>
<circle cx="610.6" cy="655.8" r="1.5" fill="none" stroke="#2a2a2a" stroke-width="0.55"/>
<circle cx="611.2" cy="666.6" r="1.5" fill="none" stroke="#2a2a2a" stroke-width="0.55"/>
<circle cx="602.1" cy="669.9" r="1.5" fill="none" stroke="#2a2a2a" stroke-width="0.55"/>
<circle cx="603.0" cy="654.4" r="1.5" fill="none" stroke="#2a2a2a" stroke-width="0.55"/>
<circle cx="606.0" cy="651.2" r="1.5" fill="none" stroke="#2a2a2a" stroke-width="0.55"/>
<circle cx="611.2" cy="672.2" r="1.5" fill="none" stroke="#2a2a2a" stroke-width="0.55"/>
<circle cx="603.9" cy="628.5" r="1.5" fill="none" stroke="#2a2a2a" stroke-width="0.55"/>
<circle cx="610.7" cy="677.3" r="1.5" fill="none" stroke="#2a2a2a" stroke-width="0.55"/>
<circle cx="609.7" cy="662.0" r="1.5" fill="none" stroke="#2a2a2a" stroke-width="0.55"/>
<circle cx="605.6" cy="646.1" r="1.5" fill="none" stroke="#2a2a2a" stroke-width="0.55"/>
<circle cx="607.0" cy="644.5" r="1.5" fill="none" stroke="#2a2a2a" stroke-width="0.55"/>
<circle cx="610.9" cy="659.9" r="1.5" fill="none" stroke="#2a2a2a" stroke-width="0.55"/>
<circle cx="608.8" cy="627.5" r="1.5" fill="none" stroke="#2a2a2a" stroke-width="0.55"/>
<circle cx="603.0" cy="610.9" r="1.5" fill="none" stroke="#2a2a2a" stroke-width="0.55"/>
<circle cx="609.6" cy="662.5" r="1.5" fill="none" stroke="#2a2a2a" stroke-width="0.55"/>
<circle cx="601.8" cy="652.3" r="1.5" fill="none" stroke="#2a2a2a" stroke-width="0.55"/>
<circle cx="603.9" cy="656.0" r="1.5" fill="none" stroke="#2a2a2a" stroke-width="0.55"/>
<circle cx="611.0" cy="654.7" r="1.5" fill="none" stroke="#2a2a2a" stroke-width="0.55"/>
<circle cx="609.6" cy="636.6" r="1.5" fill="none" stroke="#2a2a2a" stroke-width="0.55"/>
<circle cx="603.2" cy="662.6" r="1.5" fill="none" stroke="#2a2a2a" stroke-width="0.55"/>
<circle cx="602.9" cy="670.3" r="1.5" fill="none" stroke="#2a2a2a" stroke-width="0.55"/>
<circle cx="606.8" cy="655.3" r="1.5" fill="none" stroke="#2a2a2a" stroke-width="0.55"/>
<circle cx="609.6" cy="671.8" r="1.5" fill="none" stroke="#2a2a2a" stroke-width="0.55"/>
<circle cx="607.7" cy="635.3" r="1.5" fill="none" stroke="#2a2a2a" stroke-width="0.55"/>
<circle cx="610.7" cy="659.5" r="1.5" fill="none" stroke="#2a2a2a" stroke-width="0.55"/>
<circle cx="608.2" cy="640.4" r="1.5" fill="none" stroke="#2a2a2a" stroke-width="0.55"/>
<circle cx="609.3" cy="645.3" r="1.5" fill="none" stroke="#2a2a2a" stroke-width="0.55"/>
<circle cx="606.7" cy="659.6" r="1.5" fill="none" stroke="#2a2a2a" stroke-width="0.55"/>
<circle cx="603.8" cy="657.5" r="1.5" fill="none" stroke="#2a2a2a" stroke-width="0.55"/>
<circle cx="604.6" cy="670.5" r="1.5" fill="none" stroke="#2a2a2a" stroke-width="0.55"/>
<circle cx="605.3" cy="666.9" r="1.5" fill="none" stroke="#2a2a2a" stroke-width="0.55"/>
<circle cx="605.8" cy="632.1" r="1.5" fill="none" stroke="#2a2a2a" stroke-width="0.55"/>
<circle cx="609.5" cy="678.7" r="1.5" fill="none" stroke="#2a2a2a" stroke-width="0.55"/>
<circle cx="602.7" cy="624.6" r="1.5" fill="none" stroke="#2a2a2a" stroke-width="0.55"/>
<circle cx="600.3" cy="652.3" r="1.5" fill="none" stroke="#2a2a2a" stroke-width="0.55"/>
<circle cx="608.2" cy="659.7" r="1.5" fill="none" stroke="#2a2a2a" stroke-width="0.55"/>
<circle cx="602.7" cy="652.4" r="1.5" fill="none" stroke="#2a2a2a" stroke-width="0.55"/>
<circle cx="604.5" cy="663.2" r="1.5" fill="none" stroke="#2a2a2a" stroke-width="0.55"/>
<circle cx="600.9" cy="654.3" r="1.5" fill="none" stroke="#2a2a2a" stroke-width="0.55"/>
<circle cx="560" cy="579.7" r="1.5" fill="none" stroke="#2a2a2a" stroke-width="0.55"/>
<circle cx="561" cy="604.2" r="1.5" fill="none" stroke="#2a2a2a" stroke-width="0.55"/>
<circle cx="562.7" cy="612.9" r="1.5" fill="none" stroke="#2a2a2a" stroke-width="0.55"/>
<circle cx="607.5" cy="573.7" r="1.5" fill="none" stroke="#2a2a2a" stroke-width="0.55"/>
<circle cx="610.2" cy="599.9" r="1.5" fill="none" stroke="#2a2a2a" stroke-width="0.55"/>
<polyline points="560.3,739.3 560.3,736.3 605.5,736.3 605.5,739.3" fill="none" stroke="#666" stroke-width="1.1"/>
<text x="524.6" y="757.8" font-size="13.4" font-weight="bold" text-anchor="start" fill="#111" >Cluster-P</text>
<text x="592.4" y="758.4" font-size="13.4" font-weight="bold" text-anchor="start" fill="#111" >Cluster-B/R</text>
</svg>
</body></html>
